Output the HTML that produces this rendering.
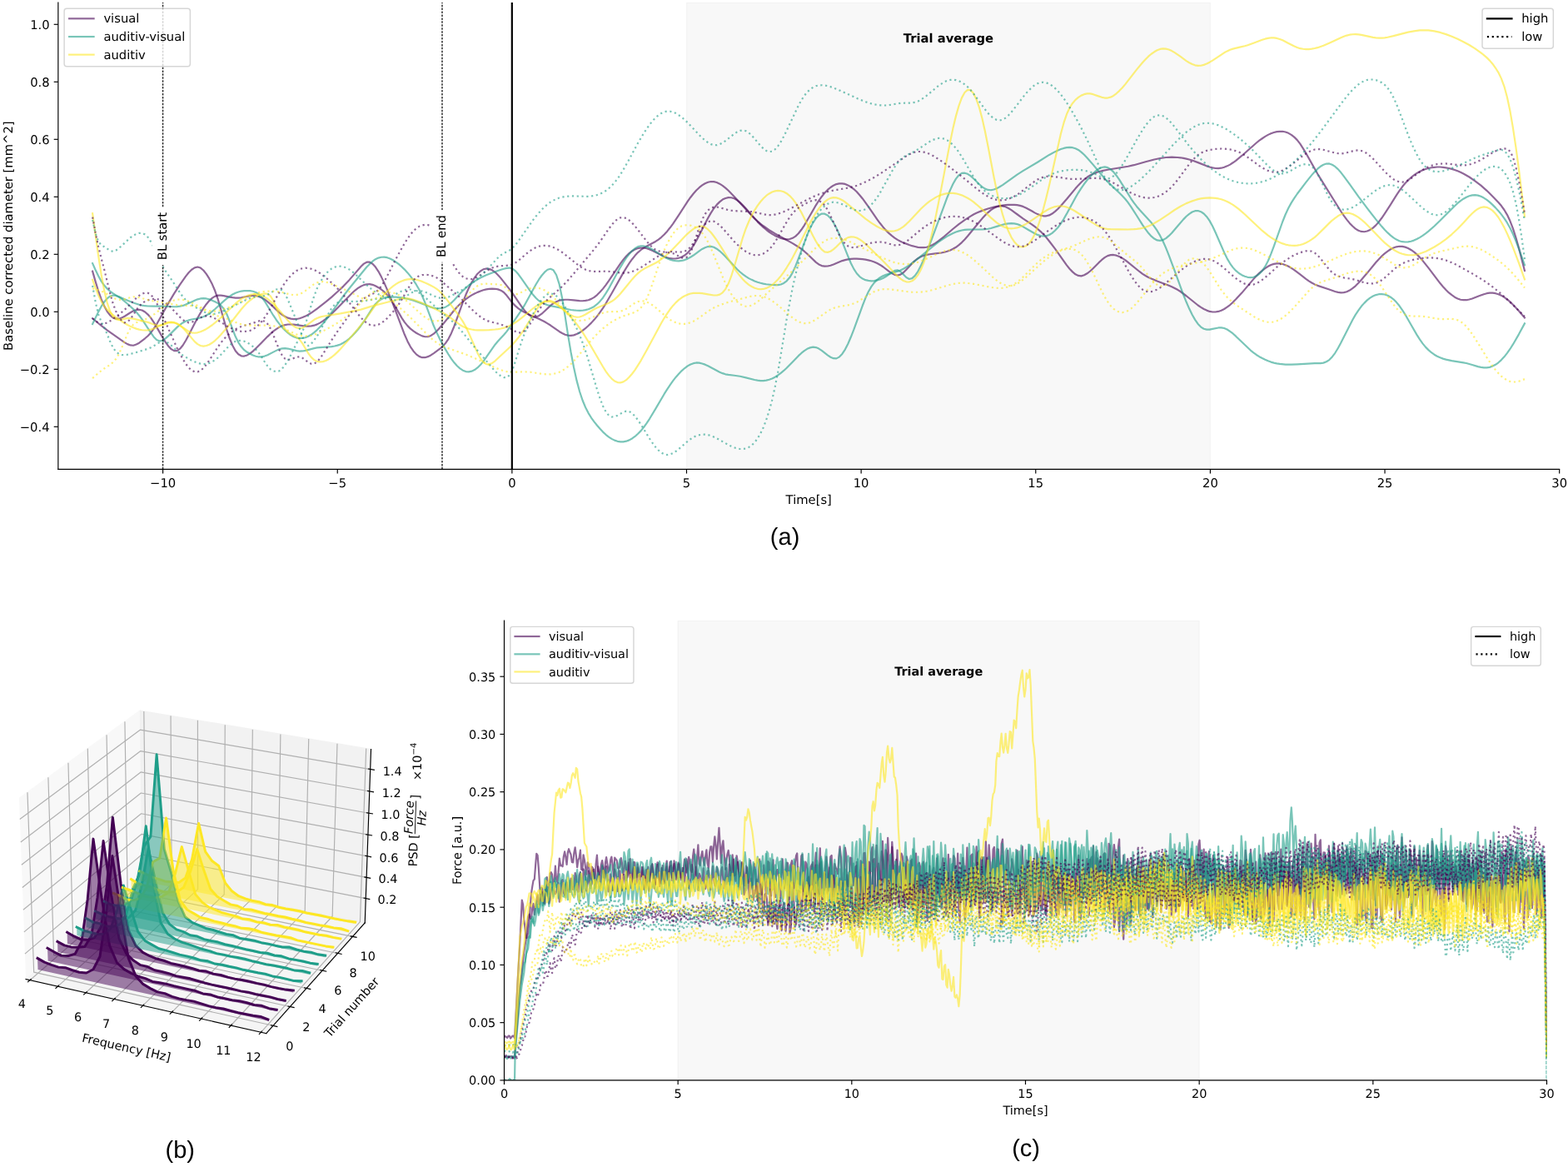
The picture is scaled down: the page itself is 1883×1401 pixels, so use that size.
<!DOCTYPE html><html><head><meta charset="utf-8"><style>html,body{margin:0;padding:0;background:#fff;}svg{display:block;} text{text-rendering:geometricPrecision;}</style></head><body><svg width="1883" height="1401" viewBox="0 0 1291.2 960.685714" version="1.1">
<defs>
<style type="text/css">*{stroke-linejoin: round; stroke-linecap: butt}</style>
</defs>
<g id="figure_1">
<g id="patch_1">
<path d="M 0 960.7 L 1291.2 960.7 L 1291.2 0 L 0 0 z" style="fill: #ffffff"/>
</g>
<g id="axes_1">
<g id="patch_2">
<path d="M 47.9 386.3 L 1284.1 386.3 L 1284.1 2.1 L 47.9 2.1 z" style="fill: #ffffff"/>
</g>
<g id="patch_3">
<path d="M 565.4 386.3 L 996.6 386.3 L 996.6 2.1 L 565.4 2.1 z" clip-path="url(#pb112d19d81)" style="fill: #808080; fill-opacity: 0.055; stroke-opacity: 0.055; stroke: #808080; stroke-linejoin: miter"/>
</g>
<g id="matplotlib.axis_1">
<g id="xtick_1">
<g id="line2d_1">
<defs>
<path id="m1504cfccaf" d="M 0 0 L 0 3.5 " style="stroke: #000000; stroke-width: 0.8"/>
</defs>
<g>
<use href="#m1504cfccaf" x="134.125714" y="386.331429" style="stroke: #000000; stroke-width: 0.8"/>
</g>
</g>
<g id="text_1">
<text style="font-size: 10.12px; font-family: 'DejaVu Sans', 'Bitstream Vera Sans', 'Computer Modern Sans Serif', 'Lucida Grande', 'Verdana', 'Geneva', 'Lucid', 'Arial', 'Helvetica', 'Avant Garde', sans-serif; text-anchor: middle" x="134.125714" y="401.021047" transform="rotate(-0 134.125714 401.021047)">−10</text>
</g>
</g>
<g id="xtick_2">
<g id="line2d_2">
<g>
<use href="#m1504cfccaf" x="277.875429" y="386.331429" style="stroke: #000000; stroke-width: 0.8"/>
</g>
</g>
<g id="text_2">
<text style="font-size: 10.12px; font-family: 'DejaVu Sans', 'Bitstream Vera Sans', 'Computer Modern Sans Serif', 'Lucida Grande', 'Verdana', 'Geneva', 'Lucid', 'Arial', 'Helvetica', 'Avant Garde', sans-serif; text-anchor: middle" x="277.875429" y="401.021047" transform="rotate(-0 277.875429 401.021047)">−5</text>
</g>
</g>
<g id="xtick_3">
<g id="line2d_3">
<g>
<use href="#m1504cfccaf" x="421.625143" y="386.331429" style="stroke: #000000; stroke-width: 0.8"/>
</g>
</g>
<g id="text_3">
<text style="font-size: 10.12px; font-family: 'DejaVu Sans', 'Bitstream Vera Sans', 'Computer Modern Sans Serif', 'Lucida Grande', 'Verdana', 'Geneva', 'Lucid', 'Arial', 'Helvetica', 'Avant Garde', sans-serif; text-anchor: middle" x="421.625143" y="401.021047" transform="rotate(-0 421.625143 401.021047)">0</text>
</g>
</g>
<g id="xtick_4">
<g id="line2d_4">
<g>
<use href="#m1504cfccaf" x="565.374857" y="386.331429" style="stroke: #000000; stroke-width: 0.8"/>
</g>
</g>
<g id="text_4">
<text style="font-size: 10.12px; font-family: 'DejaVu Sans', 'Bitstream Vera Sans', 'Computer Modern Sans Serif', 'Lucida Grande', 'Verdana', 'Geneva', 'Lucid', 'Arial', 'Helvetica', 'Avant Garde', sans-serif; text-anchor: middle" x="565.374857" y="401.021047" transform="rotate(-0 565.374857 401.021047)">5</text>
</g>
</g>
<g id="xtick_5">
<g id="line2d_5">
<g>
<use href="#m1504cfccaf" x="709.124571" y="386.331429" style="stroke: #000000; stroke-width: 0.8"/>
</g>
</g>
<g id="text_5">
<text style="font-size: 10.12px; font-family: 'DejaVu Sans', 'Bitstream Vera Sans', 'Computer Modern Sans Serif', 'Lucida Grande', 'Verdana', 'Geneva', 'Lucid', 'Arial', 'Helvetica', 'Avant Garde', sans-serif; text-anchor: middle" x="709.124571" y="401.021047" transform="rotate(-0 709.124571 401.021047)">10</text>
</g>
</g>
<g id="xtick_6">
<g id="line2d_6">
<g>
<use href="#m1504cfccaf" x="852.874286" y="386.331429" style="stroke: #000000; stroke-width: 0.8"/>
</g>
</g>
<g id="text_6">
<text style="font-size: 10.12px; font-family: 'DejaVu Sans', 'Bitstream Vera Sans', 'Computer Modern Sans Serif', 'Lucida Grande', 'Verdana', 'Geneva', 'Lucid', 'Arial', 'Helvetica', 'Avant Garde', sans-serif; text-anchor: middle" x="852.874286" y="401.021047" transform="rotate(-0 852.874286 401.021047)">15</text>
</g>
</g>
<g id="xtick_7">
<g id="line2d_7">
<g>
<use href="#m1504cfccaf" x="996.624" y="386.331429" style="stroke: #000000; stroke-width: 0.8"/>
</g>
</g>
<g id="text_7">
<text style="font-size: 10.12px; font-family: 'DejaVu Sans', 'Bitstream Vera Sans', 'Computer Modern Sans Serif', 'Lucida Grande', 'Verdana', 'Geneva', 'Lucid', 'Arial', 'Helvetica', 'Avant Garde', sans-serif; text-anchor: middle" x="996.624" y="401.021047" transform="rotate(-0 996.624 401.021047)">20</text>
</g>
</g>
<g id="xtick_8">
<g id="line2d_8">
<g>
<use href="#m1504cfccaf" x="1140.373714" y="386.331429" style="stroke: #000000; stroke-width: 0.8"/>
</g>
</g>
<g id="text_8">
<text style="font-size: 10.12px; font-family: 'DejaVu Sans', 'Bitstream Vera Sans', 'Computer Modern Sans Serif', 'Lucida Grande', 'Verdana', 'Geneva', 'Lucid', 'Arial', 'Helvetica', 'Avant Garde', sans-serif; text-anchor: middle" x="1140.373714" y="401.021047" transform="rotate(-0 1140.373714 401.021047)">25</text>
</g>
</g>
<g id="xtick_9">
<g id="line2d_9">
<g>
<use href="#m1504cfccaf" x="1284.123429" y="386.331429" style="stroke: #000000; stroke-width: 0.8"/>
</g>
</g>
<g id="text_9">
<text style="font-size: 10.12px; font-family: 'DejaVu Sans', 'Bitstream Vera Sans', 'Computer Modern Sans Serif', 'Lucida Grande', 'Verdana', 'Geneva', 'Lucid', 'Arial', 'Helvetica', 'Avant Garde', sans-serif; text-anchor: middle" x="1284.123429" y="401.021047" transform="rotate(-0 1284.123429 401.021047)">30</text>
</g>
</g>
<g id="text_10">
<text style="font-size: 10.12px; font-family: 'DejaVu Sans', 'Bitstream Vera Sans', 'Computer Modern Sans Serif', 'Lucida Grande', 'Verdana', 'Geneva', 'Lucid', 'Arial', 'Helvetica', 'Avant Garde', sans-serif; text-anchor: middle" x="666" y="414.81531" transform="rotate(-0 666 414.81531)">Time[s]</text>
</g>
</g>
<g id="matplotlib.axis_2">
<g id="ytick_1">
<g id="line2d_10">
<defs>
<path id="m5d545ce8f8" d="M 0 0 L -3.5 0 " style="stroke: #000000; stroke-width: 0.8"/>
</defs>
<g>
<use href="#m5d545ce8f8" x="47.862857" y="351.291429" style="stroke: #000000; stroke-width: 0.8"/>
</g>
</g>
<g id="text_11">
<text style="font-size: 10.12px; font-family: 'DejaVu Sans', 'Bitstream Vera Sans', 'Computer Modern Sans Serif', 'Lucida Grande', 'Verdana', 'Geneva', 'Lucid', 'Arial', 'Helvetica', 'Avant Garde', sans-serif; text-anchor: end" x="40.862857" y="355.136238" transform="rotate(-0 40.862857 355.136238)">−0.4</text>
</g>
</g>
<g id="ytick_2">
<g id="line2d_11">
<g>
<use href="#m5d545ce8f8" x="47.862857" y="303.977143" style="stroke: #000000; stroke-width: 0.8"/>
</g>
</g>
<g id="text_12">
<text style="font-size: 10.12px; font-family: 'DejaVu Sans', 'Bitstream Vera Sans', 'Computer Modern Sans Serif', 'Lucida Grande', 'Verdana', 'Geneva', 'Lucid', 'Arial', 'Helvetica', 'Avant Garde', sans-serif; text-anchor: end" x="40.862857" y="307.821952" transform="rotate(-0 40.862857 307.821952)">−0.2</text>
</g>
</g>
<g id="ytick_3">
<g id="line2d_12">
<g>
<use href="#m5d545ce8f8" x="47.862857" y="256.662857" style="stroke: #000000; stroke-width: 0.8"/>
</g>
</g>
<g id="text_13">
<text style="font-size: 10.12px; font-family: 'DejaVu Sans', 'Bitstream Vera Sans', 'Computer Modern Sans Serif', 'Lucida Grande', 'Verdana', 'Geneva', 'Lucid', 'Arial', 'Helvetica', 'Avant Garde', sans-serif; text-anchor: end" x="40.862857" y="260.507667" transform="rotate(-0 40.862857 260.507667)">0.0</text>
</g>
</g>
<g id="ytick_4">
<g id="line2d_13">
<g>
<use href="#m5d545ce8f8" x="47.862857" y="209.348571" style="stroke: #000000; stroke-width: 0.8"/>
</g>
</g>
<g id="text_14">
<text style="font-size: 10.12px; font-family: 'DejaVu Sans', 'Bitstream Vera Sans', 'Computer Modern Sans Serif', 'Lucida Grande', 'Verdana', 'Geneva', 'Lucid', 'Arial', 'Helvetica', 'Avant Garde', sans-serif; text-anchor: end" x="40.862857" y="213.193381" transform="rotate(-0 40.862857 213.193381)">0.2</text>
</g>
</g>
<g id="ytick_5">
<g id="line2d_14">
<g>
<use href="#m5d545ce8f8" x="47.862857" y="162.034286" style="stroke: #000000; stroke-width: 0.8"/>
</g>
</g>
<g id="text_15">
<text style="font-size: 10.12px; font-family: 'DejaVu Sans', 'Bitstream Vera Sans', 'Computer Modern Sans Serif', 'Lucida Grande', 'Verdana', 'Geneva', 'Lucid', 'Arial', 'Helvetica', 'Avant Garde', sans-serif; text-anchor: end" x="40.862857" y="165.879095" transform="rotate(-0 40.862857 165.879095)">0.4</text>
</g>
</g>
<g id="ytick_6">
<g id="line2d_15">
<g>
<use href="#m5d545ce8f8" x="47.862857" y="114.72" style="stroke: #000000; stroke-width: 0.8"/>
</g>
</g>
<g id="text_16">
<text style="font-size: 10.12px; font-family: 'DejaVu Sans', 'Bitstream Vera Sans', 'Computer Modern Sans Serif', 'Lucida Grande', 'Verdana', 'Geneva', 'Lucid', 'Arial', 'Helvetica', 'Avant Garde', sans-serif; text-anchor: end" x="40.862857" y="118.564809" transform="rotate(-0 40.862857 118.564809)">0.6</text>
</g>
</g>
<g id="ytick_7">
<g id="line2d_16">
<g>
<use href="#m5d545ce8f8" x="47.862857" y="67.405714" style="stroke: #000000; stroke-width: 0.8"/>
</g>
</g>
<g id="text_17">
<text style="font-size: 10.12px; font-family: 'DejaVu Sans', 'Bitstream Vera Sans', 'Computer Modern Sans Serif', 'Lucida Grande', 'Verdana', 'Geneva', 'Lucid', 'Arial', 'Helvetica', 'Avant Garde', sans-serif; text-anchor: end" x="40.862857" y="71.250524" transform="rotate(-0 40.862857 71.250524)">0.8</text>
</g>
</g>
<g id="ytick_8">
<g id="line2d_17">
<g>
<use href="#m5d545ce8f8" x="47.862857" y="20.091429" style="stroke: #000000; stroke-width: 0.8"/>
</g>
</g>
<g id="text_18">
<text style="font-size: 10.12px; font-family: 'DejaVu Sans', 'Bitstream Vera Sans', 'Computer Modern Sans Serif', 'Lucida Grande', 'Verdana', 'Geneva', 'Lucid', 'Arial', 'Helvetica', 'Avant Garde', sans-serif; text-anchor: end" x="40.862857" y="23.936238" transform="rotate(-0 40.862857 23.936238)">1.0</text>
</g>
</g>
<g id="text_19">
<text style="font-size: 10.12px; font-family: 'DejaVu Sans', 'Bitstream Vera Sans', 'Computer Modern Sans Serif', 'Lucida Grande', 'Verdana', 'Geneva', 'Lucid', 'Arial', 'Helvetica', 'Avant Garde', sans-serif; text-anchor: middle" x="10.184007" y="194.194286" transform="rotate(-90 10.184007 194.194286)">Baseline corrected diameter [mm^2]</text>
</g>
</g>
<g id="line2d_18">
<path d="M 76.2 223.3 L 78.6 231.7 L 81 239.5 L 83.4 246.3 L 85.8 251.9 L 88.2 256.3 L 90.6 259.5 L 93 261.5 L 95.4 262.4 L 97.8 262.4 L 100.2 261.6 L 102.6 260.4 L 107.4 257.3 L 109.8 256 L 112.2 255.2 L 114.6 254.9 L 117 255.4 L 119.4 256.8 L 121.8 258.9 L 124.2 261.7 L 126.6 265.3 L 129 269.2 L 133.8 277.6 L 136.2 281.5 L 138.6 284.9 L 141 287.4 L 143.4 288.8 L 145.8 288.8 L 148.2 287.1 L 150.6 284.2 L 153 280.3 L 155.4 275.8 L 160.3 266.3 L 162.7 261.8 L 165.1 257.6 L 167.5 253.8 L 169.9 250.4 L 172.3 247.6 L 174.7 245.4 L 177.1 243.9 L 179.5 243.2 L 181.9 243.2 L 184.3 243.5 L 189.1 244.5 L 191.5 244.9 L 193.9 245.2 L 196.3 245.2 L 198.7 245 L 205.9 243.5 L 208.3 243.3 L 210.7 243.4 L 213.1 244.1 L 215.5 245.1 L 217.9 246.5 L 220.3 248.3 L 222.7 250.4 L 229.9 257.2 L 232.3 259.1 L 234.7 260.6 L 237.1 261.7 L 239.5 262.4 L 241.9 262.7 L 244.3 262.6 L 246.7 262.1 L 249.1 261.3 L 251.5 260.3 L 253.9 259 L 256.3 257.5 L 261.1 254.1 L 268.3 248.5 L 273.1 244.5 L 277.9 240.2 L 282.8 235.6 L 287.6 230.5 L 292.4 225 L 297.2 219.4 L 299.6 217.1 L 302 215.8 L 304.4 215.8 L 306.8 217.2 L 309.2 219.8 L 311.6 223.4 L 314 227.9 L 316.4 232.9 L 318.8 238.4 L 323.6 250.2 L 333.2 275.5 L 335.6 280.9 L 338 285.5 L 340.4 289 L 342.8 291.7 L 345.2 293.4 L 347.6 294.3 L 350 294.3 L 352.4 293.6 L 354.8 292.4 L 357.2 290.8 L 362 287.3 L 364.4 285.3 L 366.8 282.6 L 369.2 279.1 L 371.6 274.4 L 374 268.6 L 378.8 255.3 L 381.2 248.7 L 383.6 242.6 L 386 237.2 L 388.4 232.5 L 390.8 228.6 L 393.2 225.4 L 395.6 223.2 L 398 221.7 L 400.4 221.1 L 402.8 221.4 L 405.3 222.4 L 407.7 224.1 L 410.1 226.4 L 412.5 229.1 L 419.7 238.2 L 422.1 241.4 L 429.3 252.1 L 431.7 255.2 L 434.1 257.9 L 436.5 259.8 L 438.9 260.9 L 441.3 260.9 L 443.7 260 L 446.1 258.3 L 448.5 256.1 L 453.3 251.6 L 455.7 249.7 L 458.1 248.4 L 460.5 247.4 L 462.9 246.9 L 465.3 246.7 L 467.7 246.7 L 472.5 247.1 L 477.3 247.6 L 479.7 247.7 L 482.1 247.5 L 484.5 247 L 486.9 246.1 L 489.3 244.7 L 491.7 242.8 L 494.1 240.4 L 496.5 237.7 L 498.9 234.6 L 501.3 231.2 L 510.9 216.9 L 513.3 213.7 L 515.7 210.9 L 518.1 208.5 L 520.5 206.7 L 522.9 205.3 L 525.3 204.4 L 527.8 204 L 530.2 204 L 532.6 204.5 L 535 205.3 L 537.4 206.4 L 547 211.3 L 549.4 212.1 L 551.8 212.7 L 554.2 212.9 L 556.6 212.8 L 559 212.4 L 561.4 211.5 L 563.8 210.2 L 566.2 208.2 L 568.6 205.6 L 571 202.2 L 573.4 198.1 L 575.8 193.6 L 583 179.5 L 585.4 175.3 L 587.8 171.6 L 590.2 168.6 L 592.6 166.2 L 595 164.3 L 597.4 163.2 L 599.8 162.6 L 602.2 162.7 L 604.6 163.4 L 607 164.8 L 609.4 166.7 L 611.8 169 L 614.2 171.6 L 623.8 182.5 L 626.2 184.9 L 628.6 187.1 L 631 189.1 L 633.4 191 L 635.8 192.6 L 638.2 194 L 640.6 195.1 L 643 196.1 L 645.4 196.7 L 647.8 197 L 650.3 196.8 L 652.7 196 L 655.1 194.5 L 657.5 192.2 L 659.9 189.1 L 662.3 185.5 L 667.1 177.3 L 671.9 168.9 L 674.3 165.1 L 676.7 161.8 L 679.1 158.8 L 681.5 156.3 L 683.9 154.3 L 686.3 152.7 L 688.7 151.6 L 691.1 151.1 L 693.5 151.1 L 695.9 151.5 L 698.3 152.5 L 700.7 153.9 L 703.1 155.7 L 705.5 157.9 L 707.9 160.6 L 710.3 163.5 L 715.1 170.1 L 722.3 180.6 L 724.7 183.8 L 727.1 186.8 L 729.5 189.5 L 731.9 191.9 L 734.3 194 L 736.7 195.8 L 739.1 197.4 L 741.5 198.7 L 743.9 199.8 L 748.7 201.6 L 751.1 202.4 L 753.5 203 L 755.9 203.6 L 758.3 203.8 L 760.7 203.8 L 763.1 203.5 L 765.5 202.7 L 767.9 201.6 L 770.3 200.1 L 772.7 198.4 L 777.6 194.6 L 784.8 188.4 L 789.6 184.6 L 794.4 181.1 L 799.2 178 L 801.6 176.6 L 804 175.4 L 808.8 173.4 L 813.6 171.8 L 818.4 170.5 L 823.2 169.5 L 828 168.8 L 830.4 168.6 L 832.8 168.5 L 835.2 168.6 L 837.6 168.8 L 840 169.3 L 842.4 170 L 844.8 171.1 L 849.6 173.7 L 852 175.1 L 854.4 176.3 L 856.8 177.3 L 859.2 177.8 L 861.6 177.8 L 864 177.2 L 866.4 175.9 L 868.8 174.1 L 871.2 171.9 L 873.6 169.4 L 878.4 163.9 L 885.6 155.2 L 888 152.5 L 890.4 150 L 892.8 147.8 L 895.2 145.9 L 897.7 144.3 L 900.1 143.1 L 902.5 142.1 L 904.9 141.3 L 907.3 140.7 L 912.1 139.7 L 928.9 137 L 933.7 135.9 L 943.3 133.2 L 950.5 131.3 L 955.3 130.3 L 960.1 129.6 L 964.9 129.4 L 969.7 129.6 L 972.1 129.8 L 974.5 130.2 L 976.9 130.7 L 979.3 131.3 L 981.7 132 L 986.5 133.8 L 993.7 136.7 L 996.1 137.5 L 998.5 138.1 L 1000.9 138.5 L 1003.3 138.6 L 1005.7 138.3 L 1008.1 137.7 L 1010.5 136.7 L 1012.9 135.5 L 1015.3 133.9 L 1017.7 132.2 L 1022.6 128.2 L 1034.6 117.6 L 1037 115.7 L 1039.4 114 L 1041.8 112.4 L 1044.2 111 L 1046.6 109.9 L 1049 109 L 1051.4 108.4 L 1053.8 108.2 L 1056.2 108.2 L 1058.6 108.7 L 1061 109.6 L 1063.4 111 L 1065.8 112.9 L 1068.2 115.3 L 1070.6 118.4 L 1073 122.1 L 1075.4 126.1 L 1085 143.2 L 1104.2 174 L 1106.6 177.5 L 1109 180.8 L 1111.4 183.7 L 1113.8 186.2 L 1116.2 188.3 L 1118.6 189.8 L 1121 190.6 L 1123.4 190.8 L 1125.8 190.3 L 1128.2 189.2 L 1130.6 187.6 L 1133 185.4 L 1135.4 182.7 L 1137.8 179.5 L 1140.2 176 L 1145.1 168.4 L 1149.9 160.7 L 1152.3 157.1 L 1154.7 153.8 L 1157.1 150.9 L 1159.5 148.4 L 1161.9 146.2 L 1164.3 144.3 L 1166.7 142.6 L 1169.1 141.3 L 1171.5 140.1 L 1173.9 139.2 L 1176.3 138.5 L 1178.7 138 L 1181.1 137.7 L 1183.5 137.5 L 1185.9 137.5 L 1188.3 137.7 L 1190.7 138.1 L 1193.1 138.5 L 1195.5 139.1 L 1197.9 139.9 L 1200.3 140.8 L 1202.7 141.8 L 1205.1 143 L 1207.5 144.3 L 1209.9 145.7 L 1214.7 149 L 1219.5 152.7 L 1224.3 156.9 L 1229.1 161.6 L 1233.9 166.6 L 1236.3 169.4 L 1238.7 172.8 L 1241.1 176.8 L 1243.5 181.9 L 1245.9 188.1 L 1248.3 195.6 L 1250.7 204.1 L 1255.5 222.8 L 1255.5 222.8 " clip-path="url(#pb112d19d81)" style="fill: none; stroke: #440154; stroke-opacity: 0.6; stroke-width: 1.5; stroke-linecap: square"/>
</g>
<g id="line2d_19">
<path d="M 76.2 262.1 L 83.4 268.1 L 88.2 271.8 L 102.6 281.9 L 105 283.3 L 107.4 284.2 L 109.8 284.4 L 112.2 283.6 L 114.6 282.3 L 119.4 278.6 L 121.8 276.5 L 124.2 273.9 L 126.6 270.6 L 129 266.9 L 133.8 258.4 L 138.6 249.7 L 143.4 241.6 L 148.2 234.2 L 153 227.4 L 155.4 224.4 L 157.8 222 L 160.3 220.4 L 162.7 219.8 L 165.1 220.5 L 167.5 222.5 L 169.9 225.5 L 172.3 229.3 L 174.7 233.9 L 177.1 239.5 L 179.5 246.5 L 186.7 271.4 L 189.1 278.6 L 191.5 284.4 L 193.9 288.8 L 196.3 291.6 L 198.7 293 L 201.1 293.2 L 203.5 292.4 L 205.9 291 L 208.3 289.1 L 210.7 286.8 L 215.5 282 L 220.3 277.1 L 222.7 274.8 L 225.1 272.7 L 227.5 270.9 L 229.9 269.4 L 232.3 268.2 L 234.7 267.5 L 237.1 267.1 L 239.5 267.1 L 241.9 267.2 L 251.5 268.5 L 253.9 268.5 L 256.3 268.4 L 258.7 267.9 L 261.1 267 L 263.5 265.8 L 265.9 264.3 L 268.3 262.6 L 270.7 260.6 L 273.1 258.4 L 277.9 253.6 L 290 241.2 L 292.4 239 L 294.8 237.2 L 297.2 235.7 L 299.6 234.6 L 302 234 L 304.4 233.9 L 306.8 234.4 L 309.2 235.4 L 311.6 236.7 L 314 238.3 L 316.4 240.3 L 318.8 242.7 L 321.2 245.6 L 323.6 249.2 L 330.8 261.7 L 333.2 265.3 L 335.6 268.2 L 338 270.6 L 340.4 272.5 L 342.8 274.1 L 345.2 275.4 L 347.6 276.6 L 350 277.2 L 352.4 277.2 L 354.8 276.3 L 357.2 274.7 L 359.6 272.6 L 362 270 L 364.4 267.3 L 374 255.4 L 376.4 252.7 L 378.8 250.3 L 381.2 248.1 L 383.6 246.2 L 386 244.5 L 388.4 243 L 390.8 241.7 L 393.2 240.6 L 395.6 239.6 L 398 238.8 L 400.4 238.2 L 402.8 237.9 L 405.3 237.7 L 407.7 237.8 L 410.1 238.2 L 412.5 239.1 L 414.9 240.7 L 417.3 243.3 L 422.1 249.5 L 424.5 251.9 L 426.9 254 L 429.3 255.6 L 431.7 257 L 436.5 259.3 L 443.7 262.5 L 448.5 264.9 L 450.9 266.3 L 453.3 267.8 L 460.5 272.9 L 462.9 274.3 L 465.3 275.5 L 467.7 276.1 L 470.1 276.3 L 472.5 275.9 L 474.9 275 L 477.3 273.8 L 479.7 272.2 L 482.1 270.3 L 484.5 268.1 L 486.9 265.8 L 489.3 263.2 L 491.7 260.3 L 494.1 257.1 L 496.5 253.6 L 498.9 249.8 L 503.7 241.5 L 513.3 224.5 L 515.7 220.5 L 518.1 216.8 L 520.5 213.4 L 522.9 210.4 L 525.3 207.8 L 527.8 205.7 L 530.2 204 L 532.6 202.6 L 539.8 198.8 L 542.2 197.2 L 544.6 195.3 L 547 193 L 549.4 190.4 L 551.8 187.4 L 554.2 184.2 L 559 177 L 566.2 165.9 L 568.6 162.5 L 571 159.4 L 573.4 156.7 L 575.8 154.4 L 578.2 152.5 L 580.6 151 L 583 150 L 585.4 149.5 L 587.8 149.6 L 590.2 150.2 L 592.6 151.3 L 595 152.8 L 597.4 154.7 L 599.8 156.9 L 604.6 161.8 L 619 177.5 L 621.4 179.9 L 623.8 182.1 L 626.2 184.2 L 628.6 186 L 633.4 189.4 L 638.2 192.3 L 645.4 196.3 L 652.7 200.3 L 657.5 203.3 L 659.9 205 L 662.3 206.9 L 664.7 209 L 671.9 215.9 L 674.3 217.7 L 676.7 218.8 L 679.1 219.2 L 681.5 219.1 L 683.9 218.6 L 686.3 217.7 L 693.5 214.7 L 695.9 214 L 698.3 213.5 L 700.7 213.2 L 703.1 213 L 705.5 213 L 710.3 213.4 L 712.7 213.7 L 715.1 214.2 L 717.5 214.8 L 719.9 215.6 L 722.3 216.7 L 724.7 218 L 727.1 219.6 L 731.9 223.3 L 734.3 225 L 736.7 226.2 L 739.1 226.6 L 741.5 226 L 743.9 224.4 L 746.3 222 L 751.1 216.8 L 753.5 214.5 L 755.9 212.7 L 758.3 211.3 L 760.7 210.4 L 763.1 209.7 L 765.5 209.3 L 770.3 208.7 L 775.2 208.1 L 777.6 207.6 L 780 206.9 L 782.4 206 L 784.8 204.9 L 787.2 203.5 L 789.6 201.7 L 792 199.6 L 794.4 197.1 L 796.8 194.4 L 801.6 188.6 L 806.4 182.7 L 808.8 179.9 L 811.2 177.3 L 813.6 174.9 L 816 172.9 L 818.4 171.3 L 820.8 170.2 L 823.2 169.6 L 825.6 169.6 L 828 170.2 L 830.4 171.4 L 832.8 172.9 L 837.6 176.4 L 842.4 179.9 L 849.6 184.7 L 852 186.5 L 854.4 188.4 L 856.8 190.5 L 859.2 192.9 L 861.6 195.5 L 864 198.5 L 868.8 204.8 L 878.4 218.3 L 880.8 221.3 L 883.2 223.8 L 885.6 225.8 L 888 226.9 L 890.4 227.2 L 892.8 226.5 L 895.2 225.1 L 897.7 223.2 L 900.1 221 L 904.9 216.1 L 907.3 213.9 L 909.7 212 L 912.1 210.6 L 914.5 209.9 L 916.9 209.8 L 919.3 210.3 L 921.7 211.2 L 924.1 212.5 L 926.5 214 L 928.9 215.9 L 938.5 223.7 L 940.9 225.5 L 943.3 227 L 945.7 228.3 L 948.1 229.4 L 952.9 231.4 L 962.5 235 L 964.9 236 L 967.3 237.2 L 969.7 238.5 L 972.1 240 L 976.9 243.6 L 986.5 251.3 L 988.9 252.9 L 991.3 254.4 L 993.7 255.5 L 996.1 256.4 L 998.5 256.8 L 1000.9 256.8 L 1003.3 256.4 L 1005.7 255.6 L 1008.1 254.4 L 1010.5 252.8 L 1012.9 251 L 1015.3 248.8 L 1017.7 246.4 L 1022.6 241.1 L 1032.2 229.8 L 1034.6 227.2 L 1037 224.8 L 1039.4 222.7 L 1041.8 220.9 L 1044.2 219.3 L 1046.6 218.1 L 1049 217.3 L 1051.4 216.9 L 1053.8 216.9 L 1056.2 217.4 L 1058.6 218.2 L 1061 219.3 L 1063.4 220.7 L 1065.8 222.3 L 1070.6 225.9 L 1075.4 229.6 L 1077.8 231.3 L 1080.2 232.8 L 1082.6 234.1 L 1085 235.1 L 1094.6 238.3 L 1099.4 240 L 1101.8 240.6 L 1104.2 240.9 L 1106.6 240.8 L 1109 240.2 L 1111.4 239 L 1113.8 237.4 L 1116.2 235.4 L 1118.6 233 L 1121 230.4 L 1125.8 224.8 L 1133 216 L 1135.4 213.4 L 1137.8 210.9 L 1140.2 208.7 L 1142.7 206.8 L 1145.1 205.2 L 1147.5 204 L 1149.9 203.2 L 1152.3 202.8 L 1154.7 202.9 L 1157.1 203.4 L 1159.5 204.3 L 1161.9 205.7 L 1164.3 207.4 L 1166.7 209.4 L 1169.1 211.8 L 1171.5 214.5 L 1176.3 220.5 L 1185.9 233.2 L 1188.3 236 L 1190.7 238.6 L 1193.1 241 L 1195.5 242.9 L 1197.9 244.6 L 1200.3 245.8 L 1202.7 246.7 L 1205.1 247 L 1207.5 247 L 1209.9 246.5 L 1212.3 245.8 L 1217.1 244 L 1221.9 242.2 L 1224.3 241.5 L 1226.7 241.1 L 1229.1 241.1 L 1231.5 241.5 L 1233.9 242.2 L 1236.3 243.3 L 1238.7 244.7 L 1241.1 246.4 L 1243.5 248.5 L 1245.9 250.8 L 1250.7 255.9 L 1255.5 261.5 L 1255.5 261.5 " clip-path="url(#pb112d19d81)" style="fill: none; stroke: #440154; stroke-opacity: 0.6; stroke-width: 1.5; stroke-linecap: square"/>
</g>
<g id="line2d_20">
<path d="M 76.2 216.8 L 78.6 222.2 L 81 227.2 L 83.4 231.5 L 85.8 234.9 L 88.2 237.6 L 90.6 239.8 L 93 241.5 L 95.4 243 L 97.8 244.2 L 102.6 246.3 L 109.8 249.2 L 114.6 250.8 L 117 251.4 L 119.4 251.8 L 121.8 252 L 126.6 252.1 L 133.8 252.1 L 143.4 252.5 L 145.8 252.4 L 148.2 252.1 L 150.6 251.6 L 153 250.7 L 157.8 248.5 L 160.3 247.4 L 162.7 246.4 L 165.1 245.8 L 167.5 245.6 L 169.9 245.8 L 172.3 246.4 L 174.7 247.3 L 177.1 248.4 L 179.5 249.7 L 181.9 251.4 L 184.3 254.2 L 186.7 258.5 L 189.1 264.4 L 191.5 270.9 L 193.9 277.1 L 196.3 281.9 L 198.7 285.5 L 201.1 288.1 L 203.5 289.9 L 205.9 291.3 L 208.3 292.5 L 210.7 293.3 L 213.1 293.8 L 215.5 293.7 L 217.9 293.2 L 220.3 292.3 L 225.1 289.8 L 227.5 288.6 L 229.9 287.5 L 232.3 286.9 L 234.7 286.7 L 237.1 287 L 244.3 288.8 L 246.7 289.1 L 249.1 289 L 251.5 288.6 L 258.7 286.7 L 261.1 286.2 L 265.9 285.8 L 273.1 285.3 L 275.5 284.9 L 277.9 284.3 L 280.3 283.5 L 282.8 282.2 L 285.2 280.7 L 287.6 278.8 L 290 276.5 L 292.4 274 L 294.8 271.2 L 297.2 268.1 L 299.6 264.7 L 306.8 253.5 L 309.2 250.3 L 311.6 247.9 L 314 246.3 L 316.4 245.2 L 318.8 244.7 L 321.2 244.5 L 323.6 244.5 L 326 244.5 L 330.8 245.1 L 335.6 246 L 340.4 247.3 L 345.2 249 L 354.8 252.8 L 357.2 253.5 L 359.6 253.9 L 362 253.9 L 364.4 253.6 L 366.8 252.8 L 369.2 251.4 L 371.6 249.4 L 374 247 L 381.2 239.2 L 383.6 237 L 386 235 L 388.4 233.2 L 390.8 231.5 L 393.2 230.1 L 395.6 228.7 L 400.4 226.5 L 405.3 224.6 L 412.5 222 L 414.9 221.3 L 417.3 220.7 L 419.7 220.5 L 422.1 221.3 L 424.5 223.1 L 426.9 225.8 L 429.3 229.1 L 436.5 239.4 L 438.9 242.6 L 441.3 245.3 L 443.7 247.5 L 446.1 249.1 L 448.5 250.2 L 450.9 251.1 L 453.3 251.7 L 470.1 255.1 L 472.5 255.4 L 474.9 255.6 L 477.3 255.7 L 479.7 255.6 L 482.1 255.2 L 484.5 254.6 L 486.9 253.6 L 489.3 252.3 L 491.7 250.4 L 494.1 248 L 496.5 245.1 L 498.9 241.5 L 501.3 237.5 L 506.1 228.7 L 510.9 220 L 513.3 216 L 515.7 212.3 L 518.1 209.2 L 520.5 206.5 L 522.9 204.5 L 525.3 203.1 L 527.8 202.5 L 530.2 202.6 L 532.6 203.2 L 535 204.2 L 537.4 205.5 L 547 211.6 L 549.4 212.8 L 551.8 213.7 L 554.2 214.4 L 556.6 214.8 L 559 214.9 L 561.4 214.6 L 563.8 214 L 566.2 213 L 568.6 211.7 L 571 210.2 L 575.8 206.6 L 578.2 205 L 580.6 203.8 L 583 203 L 585.4 202.9 L 587.8 203.5 L 590.2 204.8 L 592.6 206.6 L 595 208.8 L 597.4 211.2 L 607 221.7 L 609.4 223.9 L 611.8 225.9 L 614.2 227.6 L 616.6 229.1 L 619 230.3 L 621.4 231.4 L 623.8 232.3 L 626.2 233 L 628.6 233.6 L 631 234 L 635.8 234.5 L 638.2 234.6 L 640.6 234.6 L 643 234.2 L 645.4 233.1 L 647.8 231.3 L 650.3 228.4 L 652.7 224.3 L 655.1 219 L 657.5 212.9 L 664.7 193.4 L 667.1 187.9 L 669.5 183.3 L 671.9 179.7 L 674.3 177.2 L 676.7 175.9 L 679.1 176 L 681.5 177.3 L 683.9 179.7 L 686.3 183.2 L 688.7 187.6 L 691.1 192.9 L 695.9 205 L 698.3 211 L 700.7 216.7 L 703.1 221.4 L 705.5 225.1 L 707.9 227.7 L 710.3 229.4 L 712.7 230.5 L 715.1 231 L 717.5 231.3 L 719.9 231.2 L 722.3 230.7 L 724.7 230 L 727.1 229 L 729.5 227.7 L 731.9 226 L 734.3 224.2 L 736.7 222.8 L 739.1 222.4 L 741.5 223.5 L 746.3 228.4 L 748.7 229.7 L 751.1 229.1 L 753.5 226.9 L 755.9 223.4 L 758.3 218.8 L 760.7 213.4 L 765.5 201.5 L 770.3 188.7 L 780 162.5 L 782.4 156.6 L 784.8 151.4 L 787.2 147.2 L 789.6 144.2 L 792 142.6 L 794.4 142.4 L 796.8 143.2 L 799.2 144.8 L 801.6 146.9 L 806.4 151.7 L 808.8 153.8 L 811.2 155.4 L 813.6 156.3 L 816 156.5 L 818.4 156 L 820.8 155.1 L 823.2 153.8 L 825.6 152.3 L 837.6 143.7 L 842.4 140.7 L 854.4 133.5 L 864 127.5 L 868.8 124.9 L 871.2 123.8 L 873.6 122.8 L 876 122 L 878.4 121.5 L 880.8 121.3 L 883.2 121.5 L 885.6 122.2 L 888 123.4 L 890.4 125.2 L 892.8 127.4 L 895.2 129.9 L 900.1 135.5 L 907.3 144.2 L 909.7 147 L 912.1 149.6 L 916.9 154.2 L 921.7 158.7 L 924.1 161.1 L 926.5 163.7 L 928.9 166.7 L 931.3 170.1 L 936.1 177.6 L 940.9 185.2 L 943.3 188.7 L 945.7 191.9 L 948.1 194.5 L 950.5 196.5 L 952.9 197.8 L 955.3 198.1 L 957.7 197.5 L 960.1 196.2 L 962.5 194.2 L 964.9 191.8 L 969.7 186.2 L 974.5 180.6 L 976.9 178.1 L 979.3 176.1 L 981.7 174.5 L 984.1 173.6 L 986.5 173.5 L 988.9 174.3 L 991.3 175.9 L 993.7 178.4 L 996.1 181.8 L 998.5 186.2 L 1000.9 191.3 L 1008.1 207.9 L 1010.5 212.8 L 1012.9 216.9 L 1015.3 220.2 L 1017.7 222.8 L 1020.2 224.9 L 1022.6 226.4 L 1025 227.5 L 1027.4 228.2 L 1029.8 228.4 L 1032.2 228.2 L 1034.6 227.2 L 1037 225.5 L 1039.4 223 L 1041.8 219.4 L 1044.2 214.8 L 1046.6 209.1 L 1049 202.7 L 1056.2 182.4 L 1058.6 176.4 L 1061 171.3 L 1063.4 166.9 L 1065.8 163.1 L 1068.2 159.6 L 1075.4 150.1 L 1080.2 144.1 L 1082.6 141.4 L 1085 139 L 1087.4 137 L 1089.8 135.6 L 1092.2 134.8 L 1094.6 134.7 L 1097 135.6 L 1099.4 137.1 L 1101.8 139.3 L 1104.2 142 L 1106.6 145.1 L 1111.4 151.7 L 1118.6 161.8 L 1125.8 171.4 L 1133 180.6 L 1137.8 186.4 L 1140.2 189.1 L 1142.7 191.6 L 1145.1 193.8 L 1147.5 195.7 L 1149.9 197.2 L 1152.3 198.3 L 1154.7 199 L 1157.1 199.2 L 1159.5 199.1 L 1161.9 198.7 L 1164.3 197.9 L 1166.7 196.8 L 1169.1 195.5 L 1171.5 194 L 1173.9 192.3 L 1176.3 190.4 L 1181.1 186.2 L 1185.9 181.6 L 1197.9 169.5 L 1200.3 167.3 L 1202.7 165.4 L 1205.1 163.7 L 1207.5 162.3 L 1209.9 161.3 L 1212.3 160.7 L 1214.7 160.5 L 1217.1 160.9 L 1219.5 161.7 L 1221.9 162.9 L 1224.3 164.5 L 1226.7 166.4 L 1229.1 168.6 L 1231.5 171 L 1233.9 173.6 L 1236.3 176.5 L 1238.7 179.7 L 1241.1 183.4 L 1243.5 187.7 L 1245.9 192.7 L 1248.3 198.4 L 1250.7 204.7 L 1255.5 218.1 L 1255.5 218.1 " clip-path="url(#pb112d19d81)" style="fill: none; stroke: #1f9e89; stroke-opacity: 0.6; stroke-width: 1.5; stroke-linecap: square"/>
</g>
<g id="line2d_21">
<path d="M 76.2 266.7 L 81 256.7 L 83.4 252.3 L 85.8 248.6 L 88.2 245.8 L 90.6 243.9 L 93 243.1 L 95.4 243.4 L 97.8 244.5 L 100.2 246.1 L 105 250.1 L 109.8 254.5 L 112.2 256.9 L 114.6 259.7 L 117 262.9 L 121.8 270.2 L 124.2 273.9 L 126.6 277.3 L 129 279.8 L 131.4 280.8 L 133.8 280.3 L 136.2 278.7 L 138.6 276.6 L 145.8 269.4 L 148.2 267.4 L 150.6 265.7 L 153 264.4 L 155.4 263.6 L 157.8 263 L 162.7 262.1 L 165.1 261.5 L 167.5 260.7 L 169.9 259.6 L 172.3 258.2 L 174.7 256.4 L 177.1 254.4 L 184.3 247.8 L 186.7 245.8 L 189.1 244 L 191.5 242.4 L 193.9 241.2 L 196.3 240.3 L 198.7 239.7 L 201.1 239.4 L 203.5 239.3 L 205.9 239.4 L 208.3 239.8 L 210.7 240.7 L 213.1 242.2 L 215.5 244.6 L 217.9 247.9 L 222.7 255.8 L 225.1 259.7 L 227.5 263.3 L 229.9 266.5 L 232.3 269.4 L 234.7 271.9 L 237.1 274.1 L 239.5 275.9 L 241.9 277.2 L 244.3 278.1 L 246.7 278.5 L 249.1 278.4 L 251.5 277.9 L 253.9 276.9 L 256.3 275.5 L 258.7 273.7 L 261.1 271.6 L 263.5 269.2 L 265.9 266.5 L 268.3 263.6 L 273.1 257.1 L 282.8 243.6 L 287.6 237.4 L 299.6 222.7 L 302 219.8 L 304.4 217.3 L 306.8 215.1 L 309.2 213.4 L 311.6 212.3 L 314 211.7 L 316.4 211.6 L 318.8 212 L 321.2 212.9 L 323.6 214.1 L 326 215.7 L 328.4 217.5 L 330.8 219.6 L 333.2 221.9 L 335.6 224.5 L 338 227.4 L 340.4 230.6 L 342.8 234.3 L 345.2 238.5 L 347.6 243.5 L 350 249.2 L 357.2 268.3 L 359.6 273.7 L 362 278.7 L 364.4 283.3 L 366.8 287.6 L 369.2 291.6 L 371.6 295.3 L 374 298.5 L 376.4 301.2 L 378.8 303.3 L 381.2 304.9 L 383.6 305.9 L 386 306.1 L 388.4 305.6 L 390.8 304.5 L 393.2 302.7 L 395.6 300.4 L 398 297.5 L 400.4 294.1 L 405.3 287 L 407.7 283.7 L 410.1 280.8 L 414.9 275.7 L 417.3 272.8 L 424.5 262.5 L 429.3 255.5 L 431.7 251.6 L 436.5 242.9 L 441.3 234.2 L 443.7 230.2 L 446.1 226.8 L 448.5 224 L 450.9 222 L 453.3 221.3 L 455.7 222.4 L 458.1 226.3 L 460.5 233.7 L 462.9 245.3 L 465.3 260 L 467.7 275.6 L 470.1 289.9 L 472.5 302.4 L 474.9 313.3 L 477.3 322.3 L 479.7 329.5 L 482.1 335.3 L 484.5 340 L 486.9 343.9 L 489.3 347.2 L 491.7 350.2 L 494.1 353 L 496.5 355.6 L 498.9 357.8 L 501.3 359.7 L 503.7 361.3 L 506.1 362.5 L 508.5 363.3 L 510.9 363.7 L 513.3 363.7 L 515.7 363.2 L 518.1 362.3 L 520.5 361 L 522.9 359.3 L 525.3 357.1 L 527.8 354.6 L 530.2 351.6 L 532.6 348.3 L 535 344.6 L 539.8 336.6 L 547 324.3 L 549.4 320.5 L 551.8 316.9 L 554.2 313.5 L 556.6 310.4 L 559 307.7 L 561.4 305.2 L 563.8 303.1 L 566.2 301.3 L 568.6 300 L 571 299.1 L 573.4 298.6 L 575.8 298.7 L 578.2 299.3 L 580.6 300.1 L 583 301.2 L 592.6 306.3 L 595 307.3 L 597.4 308.1 L 599.8 308.5 L 604.6 309.1 L 609.4 309.8 L 614.2 310.9 L 621.4 312.7 L 623.8 313.1 L 626.2 313.4 L 628.6 313.4 L 631 313.1 L 633.4 312.5 L 635.8 311.6 L 638.2 310.4 L 640.6 308.9 L 643 307.1 L 645.4 305.1 L 647.8 302.9 L 652.7 297.9 L 657.5 292.9 L 659.9 290.7 L 662.3 288.8 L 664.7 287.2 L 667.1 286.2 L 669.5 285.7 L 671.9 286 L 674.3 287 L 676.7 288.6 L 681.5 292.4 L 683.9 294 L 686.3 295 L 688.7 295.1 L 691.1 293.9 L 693.5 291.4 L 695.9 287.7 L 698.3 283 L 700.7 277.4 L 703.1 271.3 L 710.3 251.5 L 712.7 245.4 L 715.1 240.2 L 717.5 236 L 719.9 232.7 L 722.3 230.3 L 724.7 228.5 L 727.1 227.2 L 729.5 226.2 L 734.3 224.8 L 739.1 223.4 L 741.5 222.5 L 743.9 221.3 L 746.3 219.9 L 748.7 218.4 L 753.5 214.8 L 758.3 210.9 L 767.9 203 L 772.7 199.3 L 777.6 196 L 780 194.5 L 782.4 193.2 L 784.8 192 L 787.2 191 L 789.6 190.2 L 792 189.6 L 794.4 189.2 L 796.8 189 L 801.6 188.9 L 808.8 188.9 L 811.2 188.7 L 813.6 188.4 L 816 187.9 L 820.8 186.4 L 825.6 185 L 828 184.4 L 830.4 184 L 832.8 183.8 L 835.2 184 L 837.6 184.5 L 840 185.4 L 842.4 186.6 L 847.2 189.4 L 852 192.2 L 854.4 193.3 L 856.8 194.1 L 859.2 194.4 L 861.6 194.2 L 864 193.4 L 866.4 191.9 L 868.8 189.8 L 871.2 187.2 L 873.6 184 L 876 180.2 L 878.4 176 L 885.6 162.7 L 888 158.6 L 890.4 154.9 L 892.8 151.4 L 895.2 148.3 L 897.7 145.4 L 900.1 142.9 L 902.5 140.6 L 904.9 138.9 L 907.3 137.8 L 909.7 137.4 L 912.1 137.9 L 914.5 139.3 L 916.9 141.5 L 919.3 144.5 L 921.7 147.9 L 926.5 155.6 L 931.3 163.4 L 933.7 166.9 L 936.1 170 L 938.5 172.8 L 948.1 183.3 L 950.5 186.4 L 952.9 189.9 L 955.3 194 L 957.7 198.7 L 960.1 204.1 L 962.5 210.1 L 967.3 223 L 972.1 236.2 L 974.5 242.6 L 976.9 248.6 L 979.3 254.1 L 981.7 259 L 984.1 263.2 L 986.5 266.7 L 988.9 269.2 L 991.3 270.7 L 993.7 271.3 L 996.1 271.3 L 998.5 270.8 L 1003.3 269.8 L 1005.7 269.7 L 1008.1 270.2 L 1010.5 271.2 L 1012.9 272.8 L 1015.3 274.6 L 1017.7 276.8 L 1029.8 288.4 L 1032.2 290.3 L 1034.6 292.1 L 1037 293.6 L 1039.4 294.9 L 1041.8 296.1 L 1044.2 297.1 L 1046.6 298 L 1049 298.7 L 1051.4 299.2 L 1053.8 299.6 L 1058.6 300.1 L 1063.4 300.1 L 1068.2 299.9 L 1082.6 299.1 L 1087.4 299 L 1089.8 298.7 L 1092.2 297.8 L 1094.6 296.3 L 1097 293.8 L 1099.4 290.6 L 1101.8 286.6 L 1104.2 282.2 L 1113.8 263.3 L 1116.2 259.1 L 1118.6 255.5 L 1121 252.2 L 1123.4 249.5 L 1125.8 247.1 L 1128.2 245.2 L 1130.6 243.8 L 1133 242.8 L 1135.4 242.2 L 1137.8 242.1 L 1140.2 242.4 L 1142.7 243.3 L 1145.1 244.6 L 1147.5 246.4 L 1149.9 248.8 L 1152.3 251.7 L 1154.7 255.1 L 1157.1 258.9 L 1161.9 267.3 L 1166.7 275.6 L 1169.1 279.4 L 1171.5 282.8 L 1173.9 285.7 L 1176.3 288.1 L 1178.7 290.2 L 1181.1 291.9 L 1183.5 293.3 L 1185.9 294.4 L 1188.3 295.3 L 1190.7 296 L 1195.5 297 L 1205.1 298.5 L 1207.5 299 L 1212.3 300.3 L 1217.1 301.8 L 1219.5 302.3 L 1221.9 302.6 L 1224.3 302.6 L 1226.7 302.3 L 1229.1 301.4 L 1231.5 300.2 L 1233.9 298.5 L 1236.3 296.3 L 1238.7 293.7 L 1241.1 290.7 L 1243.5 287.3 L 1245.9 283.5 L 1250.7 275.2 L 1255.5 266.3 L 1255.5 266.3 " clip-path="url(#pb112d19d81)" style="fill: none; stroke: #1f9e89; stroke-opacity: 0.6; stroke-width: 1.5; stroke-linecap: square"/>
</g>
<g id="line2d_22">
<path d="M 76.2 175.7 L 81 210.5 L 83.4 225.9 L 85.8 238.9 L 88.2 249 L 90.6 256.2 L 93 260.6 L 95.4 262.7 L 97.8 263.4 L 100.2 263 L 102.6 262.4 L 105 261.9 L 107.4 262 L 109.8 262.4 L 121.8 265.3 L 126.6 267.1 L 129 267.8 L 131.4 268 L 133.8 267.5 L 138.6 265.7 L 141 265.4 L 143.4 265.6 L 145.8 266.5 L 148.2 267.8 L 155.4 272.8 L 157.8 273.8 L 160.3 274.1 L 162.7 273.8 L 165.1 273.1 L 167.5 272 L 169.9 270.8 L 172.3 269.3 L 174.7 267.6 L 177.1 265.7 L 181.9 261.4 L 193.9 249.9 L 196.3 247.9 L 198.7 246.1 L 201.1 244.7 L 203.5 243.5 L 205.9 242.7 L 208.3 242.2 L 210.7 242.2 L 213.1 242.5 L 215.5 243.3 L 217.9 244.5 L 220.3 246 L 222.7 248 L 225.1 250.2 L 227.5 252.7 L 232.3 258.2 L 237.1 263.9 L 239.5 266.4 L 241.9 268.5 L 244.3 269.8 L 246.7 270.3 L 249.1 269.8 L 251.5 268.5 L 258.7 263.2 L 261.1 261.9 L 263.5 261 L 265.9 260.4 L 270.7 259.6 L 280.3 258.1 L 292.4 255.9 L 297.2 254.8 L 304.4 252.6 L 309.2 251.2 L 316.4 249.4 L 323.6 247.5 L 328.4 246.3 L 330.8 245.8 L 333.2 245.6 L 335.6 245.7 L 338 246.1 L 340.4 246.7 L 342.8 247.6 L 347.6 249.5 L 354.8 252.7 L 362 256.1 L 364.4 257.3 L 366.8 258.7 L 369.2 260.2 L 371.6 262 L 376.4 265.7 L 378.8 267.4 L 381.2 268.8 L 383.6 269.9 L 386 270.7 L 388.4 271.2 L 390.8 271.6 L 393.2 271.8 L 398 271.8 L 402.8 271.6 L 407.7 271.2 L 410.1 270.9 L 412.5 270.5 L 414.9 269.9 L 417.3 269.1 L 419.7 268.1 L 422.1 266.9 L 424.5 265.4 L 426.9 263.7 L 431.7 259.9 L 438.9 253.9 L 441.3 252.1 L 443.7 250.5 L 446.1 249.2 L 448.5 248.4 L 450.9 248.1 L 453.3 248.4 L 455.7 249.2 L 458.1 250.5 L 460.5 252.1 L 462.9 254.1 L 465.3 256.2 L 467.7 258.5 L 470.1 261 L 472.5 263.8 L 474.9 266.8 L 477.3 270 L 479.7 273.5 L 484.5 281.2 L 489.3 289.5 L 496.5 301.9 L 498.9 305.7 L 501.3 309 L 503.7 311.7 L 506.1 313.7 L 508.5 314.8 L 510.9 315 L 513.3 314.3 L 515.7 312.8 L 518.1 310.5 L 520.5 307.7 L 522.9 304.5 L 525.3 300.8 L 527.8 296.8 L 532.6 288.2 L 544.6 265.9 L 547 261.8 L 549.4 258.1 L 551.8 254.6 L 554.2 251.6 L 556.6 249 L 559 246.8 L 561.4 245 L 563.8 243.6 L 566.2 242.5 L 568.6 241.7 L 571 241.3 L 573.4 241.2 L 575.8 241.3 L 578.2 241.5 L 583 242.3 L 587.8 243.1 L 590.2 243.1 L 592.6 242.5 L 595 240.9 L 597.4 238 L 599.8 233.5 L 602.2 227.3 L 604.6 219.6 L 611.8 195.1 L 614.2 188.2 L 616.6 182.4 L 619 177.3 L 621.4 173 L 623.8 169.3 L 626.2 166.1 L 628.6 163.4 L 631 161.1 L 633.4 159.4 L 635.8 158.1 L 638.2 157.3 L 640.6 157 L 643 157.2 L 645.4 157.9 L 647.8 159.2 L 650.3 161.2 L 652.7 163.7 L 655.1 166.9 L 657.5 170.7 L 659.9 174.9 L 664.7 184.4 L 669.5 194.2 L 671.9 198.7 L 674.3 202.5 L 676.7 205.5 L 679.1 207.3 L 681.5 207.7 L 683.9 206.9 L 686.3 205.3 L 688.7 203.1 L 691.1 200.7 L 693.5 198.4 L 695.9 196.7 L 698.3 195.5 L 700.7 195 L 703.1 195.1 L 705.5 195.8 L 707.9 197.1 L 710.3 198.8 L 712.7 200.8 L 717.5 205.4 L 727.1 214.8 L 731.9 219.8 L 736.7 225 L 739.1 227.4 L 741.5 229.5 L 743.9 231.1 L 746.3 232 L 748.7 232.1 L 751.1 231.3 L 753.5 229.4 L 755.9 226.4 L 758.3 222 L 760.7 216.3 L 763.1 209 L 765.5 200.3 L 767.9 190.4 L 770.3 179.4 L 772.7 167.6 L 777.6 142.2 L 782.4 116.9 L 784.8 105.5 L 787.2 95.4 L 789.6 87 L 792 80.5 L 794.4 76.1 L 796.8 74 L 799.2 74.2 L 801.6 76.8 L 804 81.7 L 806.4 88.6 L 808.8 97.5 L 811.2 108.3 L 813.6 120.4 L 818.4 145.5 L 820.8 157.2 L 823.2 167.6 L 825.6 176.5 L 828 184.1 L 830.4 190.3 L 832.8 195.3 L 835.2 199 L 837.6 201.6 L 840 203 L 842.4 203.3 L 844.8 202.5 L 847.2 200.6 L 849.6 197.4 L 852 193 L 854.4 187.2 L 856.8 180.1 L 859.2 171.8 L 861.6 162.6 L 864 152.6 L 873.6 109.9 L 876 101.1 L 878.4 94 L 880.8 88.8 L 883.2 85 L 885.6 82.2 L 888 80.1 L 890.4 78.6 L 892.8 77.6 L 895.2 77.1 L 897.7 77.1 L 900.1 77.6 L 904.9 79.3 L 907.3 80.1 L 909.7 80.6 L 912.1 80.6 L 914.5 80 L 916.9 78.8 L 919.3 77 L 921.7 74.8 L 924.1 72.3 L 926.5 69.5 L 931.3 63.3 L 936.1 57.2 L 940.9 51.4 L 943.3 48.8 L 945.7 46.4 L 948.1 44.4 L 950.5 42.7 L 952.9 41.3 L 955.3 40.4 L 957.7 40 L 960.1 40.2 L 962.5 40.8 L 964.9 41.9 L 967.3 43.3 L 972.1 46.6 L 976.9 50.1 L 979.3 51.6 L 981.7 52.8 L 984.1 53.7 L 986.5 54.1 L 988.9 54 L 991.3 53.4 L 993.7 52.5 L 996.1 51.2 L 998.5 49.8 L 1008.1 43.4 L 1010.5 42.1 L 1012.9 41 L 1015.3 40.2 L 1020.2 39 L 1025 37.9 L 1027.4 37.2 L 1032.2 35.5 L 1039.4 32.8 L 1041.8 32 L 1044.2 31.5 L 1046.6 31.1 L 1049 31.1 L 1051.4 31.5 L 1053.8 32.2 L 1056.2 33.1 L 1061 35.6 L 1065.8 38.1 L 1068.2 39.1 L 1070.6 39.9 L 1073 40.3 L 1075.4 40.5 L 1077.8 40.5 L 1080.2 40.2 L 1082.6 39.8 L 1085 39.2 L 1087.4 38.4 L 1089.8 37.6 L 1094.6 35.5 L 1104.2 31 L 1106.6 30 L 1109 29.2 L 1111.4 28.6 L 1113.8 28.3 L 1116.2 28.2 L 1118.6 28.4 L 1121 28.7 L 1125.8 29.7 L 1130.6 30.8 L 1133 31.1 L 1135.4 31.3 L 1137.8 31.3 L 1140.2 31.1 L 1142.7 30.7 L 1147.5 29.6 L 1159.5 26.5 L 1164.3 25.6 L 1169.1 25 L 1171.5 24.9 L 1173.9 24.9 L 1176.3 25 L 1178.7 25.3 L 1181.1 25.6 L 1185.9 26.7 L 1190.7 28.2 L 1195.5 30 L 1200.3 32.1 L 1205.1 34.4 L 1209.9 37 L 1214.7 40 L 1219.5 43.4 L 1221.9 45.3 L 1224.3 47.4 L 1226.7 49.8 L 1229.1 52.6 L 1231.5 55.9 L 1233.9 59.7 L 1236.3 64.7 L 1238.7 71.2 L 1241.1 80 L 1243.5 91.4 L 1245.9 105.3 L 1248.3 121.3 L 1250.7 139.2 L 1255.5 178.1 L 1255.5 178.1 " clip-path="url(#pb112d19d81)" style="fill: none; stroke: #fde725; stroke-opacity: 0.6; stroke-width: 1.5; stroke-linecap: square"/>
</g>
<g id="line2d_23">
<path d="M 76.2 230.3 L 78.6 236.9 L 81 243 L 83.4 248.1 L 85.8 252 L 88.2 254.9 L 90.6 257.3 L 95.4 261.1 L 100.2 264.5 L 105 267.4 L 107.4 268.7 L 109.8 269.7 L 112.2 270.6 L 114.6 271.3 L 117 271.7 L 119.4 271.9 L 121.8 271.8 L 124.2 271.3 L 126.6 270.6 L 129 269.5 L 133.8 267 L 136.2 266 L 138.6 265.3 L 141 265.1 L 143.4 265.5 L 145.8 266.4 L 148.2 268 L 150.6 270 L 153 272.6 L 160.3 281.2 L 162.7 283.3 L 165.1 284.6 L 167.5 285 L 169.9 284.6 L 172.3 283.7 L 174.7 282.2 L 177.1 280.3 L 179.5 278 L 181.9 275.5 L 186.7 269.9 L 191.5 263.8 L 198.7 254.6 L 201.1 251.8 L 203.5 249.3 L 205.9 247.2 L 208.3 245.4 L 210.7 244 L 213.1 242.9 L 215.5 242.1 L 217.9 241.6 L 220.3 242 L 222.7 243.7 L 225.1 247.4 L 227.5 253.2 L 229.9 259.8 L 232.3 266.1 L 234.7 270.7 L 237.1 273.5 L 239.5 275.1 L 241.9 276.2 L 244.3 277.5 L 246.7 279.5 L 249.1 282.8 L 253.9 290.9 L 256.3 294.1 L 258.7 296.3 L 261.1 297.5 L 263.5 297.9 L 265.9 297.7 L 268.3 296.9 L 270.7 295.7 L 273.1 294 L 275.5 292 L 277.9 289.8 L 280.3 287.3 L 285.2 281.9 L 294.8 270.6 L 299.6 264.6 L 304.4 258 L 309.2 251.3 L 311.6 248.1 L 314 245.1 L 316.4 242.4 L 318.8 239.9 L 321.2 237.6 L 323.6 235.6 L 326 233.9 L 328.4 232.5 L 330.8 231.4 L 333.2 230.5 L 335.6 230 L 338 229.8 L 340.4 229.8 L 342.8 230.2 L 345.2 230.9 L 347.6 231.7 L 352.4 233.8 L 354.8 235 L 357.2 236.3 L 359.6 237.9 L 362 239.8 L 364.4 242.2 L 366.8 245.1 L 376.4 257.7 L 378.8 261.1 L 381.2 264.8 L 383.6 269 L 386 274.1 L 393.2 290.5 L 395.6 295 L 398 298.2 L 400.4 299.7 L 402.8 299.9 L 405.3 298.9 L 407.7 297.1 L 417.3 288.2 L 419.7 285.9 L 422.1 283.5 L 424.5 280.8 L 426.9 277.9 L 429.3 274.6 L 431.7 271.1 L 441.3 255.5 L 443.7 252.3 L 446.1 249.8 L 448.5 248.1 L 450.9 247.4 L 453.3 247.5 L 455.7 248.4 L 458.1 249.9 L 460.5 251.7 L 467.7 257.8 L 470.1 259.4 L 472.5 260.6 L 474.9 261.1 L 477.3 260.9 L 479.7 260.1 L 482.1 258.9 L 489.3 254.6 L 491.7 253.4 L 501.3 249.4 L 503.7 248.1 L 506.1 246.4 L 508.5 244.2 L 510.9 241.7 L 515.7 235.9 L 520.5 230 L 522.9 227.3 L 525.3 225 L 527.8 223 L 530.2 221.4 L 532.6 220.1 L 539.8 216.5 L 542.2 215.1 L 544.6 213.4 L 547 211.6 L 549.4 209.5 L 554.2 204.9 L 559 199.9 L 563.8 194.8 L 566.2 192.4 L 568.6 190.3 L 571 188.5 L 573.4 187.1 L 575.8 186.3 L 578.2 186.3 L 580.6 187.1 L 583 188.9 L 585.4 191.3 L 587.8 194.4 L 590.2 197.8 L 595 205.3 L 602.2 217 L 604.6 220.7 L 607 224.1 L 609.4 227.2 L 611.8 230 L 614.2 232.4 L 616.6 234.4 L 619 235.9 L 621.4 237.1 L 623.8 237.8 L 626.2 238.1 L 628.6 237.9 L 631 237.2 L 633.4 236.1 L 635.8 234.6 L 638.2 232.5 L 640.6 230.1 L 643 227.2 L 645.4 223.9 L 647.8 220.3 L 650.3 216.3 L 652.7 212 L 657.5 202.8 L 667.1 183.5 L 669.5 179.1 L 671.9 175.2 L 674.3 171.7 L 676.7 168.6 L 679.1 166.2 L 681.5 164.3 L 683.9 163.1 L 686.3 162.6 L 688.7 162.8 L 691.1 163.5 L 693.5 164.7 L 695.9 166.3 L 698.3 168.2 L 712.7 180.1 L 717.5 183.5 L 722.3 186.5 L 724.7 187.8 L 727.1 188.9 L 729.5 189.7 L 731.9 190.2 L 734.3 190.4 L 736.7 190.1 L 739.1 189.4 L 741.5 188.2 L 743.9 186.6 L 746.3 184.5 L 748.7 182.2 L 758.3 172 L 760.7 169.7 L 763.1 167.6 L 765.5 165.7 L 767.9 164.1 L 770.3 162.6 L 772.7 161.4 L 775.2 160.4 L 777.6 159.7 L 780 159.2 L 782.4 159 L 784.8 159 L 787.2 159.3 L 789.6 159.9 L 792 160.7 L 794.4 161.8 L 796.8 163 L 799.2 164.5 L 801.6 166.2 L 804 168.2 L 808.8 172.4 L 816 179.2 L 818.4 181.3 L 820.8 183.3 L 823.2 184.9 L 825.6 186.3 L 828 187.3 L 830.4 187.9 L 832.8 188.1 L 835.2 187.9 L 837.6 187.5 L 840 186.7 L 842.4 185.7 L 844.8 184.4 L 847.2 183 L 852 179.7 L 859.2 174.8 L 861.6 173.3 L 864 172 L 866.4 170.9 L 868.8 170.1 L 871.2 169.7 L 873.6 169.6 L 876 169.9 L 878.4 170.5 L 880.8 171.5 L 883.2 172.6 L 885.6 174 L 890.4 177.1 L 897.7 182.1 L 902.5 185.1 L 904.9 186.4 L 907.3 187.4 L 909.7 188.1 L 912.1 188.6 L 914.5 188.7 L 921.7 188.8 L 928.9 188.9 L 933.7 188.7 L 936.1 188.5 L 938.5 188.2 L 940.9 187.7 L 943.3 187 L 945.7 186.1 L 948.1 185.1 L 950.5 183.8 L 955.3 180.9 L 962.5 176.1 L 967.3 172.8 L 972.1 169.9 L 976.9 167.4 L 979.3 166.4 L 981.7 165.5 L 984.1 164.7 L 986.5 164 L 988.9 163.5 L 991.3 163.1 L 993.7 162.9 L 996.1 162.8 L 998.5 162.9 L 1000.9 163.1 L 1003.3 163.5 L 1005.7 164.1 L 1008.1 164.9 L 1010.5 165.9 L 1012.9 167.2 L 1015.3 168.6 L 1017.7 170.3 L 1020.2 172.2 L 1025 176.4 L 1039.4 189.9 L 1044.2 193.8 L 1046.6 195.5 L 1049 197 L 1051.4 198.4 L 1053.8 199.5 L 1056.2 200.5 L 1058.6 201.3 L 1061 201.8 L 1063.4 202.1 L 1065.8 202.2 L 1068.2 202 L 1070.6 201.6 L 1073 200.9 L 1075.4 199.9 L 1077.8 198.6 L 1080.2 197.1 L 1082.6 195.3 L 1085 193.2 L 1089.8 188.5 L 1094.6 183.7 L 1097 181.4 L 1099.4 179.5 L 1101.8 177.8 L 1104.2 176.5 L 1106.6 175.6 L 1109 175.3 L 1111.4 175.5 L 1113.8 176.2 L 1116.2 177.4 L 1118.6 178.9 L 1121 180.7 L 1123.4 182.8 L 1128.2 187.5 L 1137.8 197.5 L 1140.2 199.8 L 1142.7 201.9 L 1145.1 203.8 L 1147.5 205.5 L 1149.9 206.9 L 1152.3 208.1 L 1154.7 209 L 1157.1 209.6 L 1159.5 210 L 1161.9 210 L 1164.3 209.9 L 1166.7 209.5 L 1169.1 208.8 L 1171.5 208 L 1173.9 207.1 L 1176.3 205.9 L 1181.1 203.3 L 1185.9 200.3 L 1190.7 196.9 L 1195.5 192.9 L 1200.3 188.4 L 1205.1 183.4 L 1209.9 178.1 L 1212.3 175.7 L 1214.7 173.6 L 1217.1 171.9 L 1219.5 170.8 L 1221.9 170.3 L 1224.3 170.6 L 1226.7 171.7 L 1229.1 173.4 L 1231.5 175.9 L 1233.9 179 L 1236.3 182.9 L 1238.7 187.3 L 1241.1 192.3 L 1243.5 197.8 L 1245.9 203.8 L 1250.7 216.5 L 1255.5 229.9 L 1255.5 229.9 " clip-path="url(#pb112d19d81)" style="fill: none; stroke: #fde725; stroke-opacity: 0.6; stroke-width: 1.5; stroke-linecap: square"/>
</g>
<g id="line2d_24">
<path d="M 76.2 178.7 L 78.6 191.5 L 81 202.9 L 83.4 212.6 L 85.8 221.7 L 90.6 241.3 L 93 249.7 L 95.4 256.1 L 97.8 260.7 L 100.2 264 L 102.6 265.6 L 105 265 L 107.4 262.6 L 109.8 259.1 L 112.2 255.3 L 114.6 252.1 L 117 249.8 L 119.4 248.1 L 121.8 247.1 L 124.2 246.3 L 126.6 246 L 129 246.1 L 131.4 246.6 L 133.8 247.6 L 136.2 249.2 L 138.6 251.1 L 141 253.4 L 145.8 258.5 L 148.2 261.1 L 150.6 263.3 L 153 264.9 L 155.4 265.6 L 157.8 265.3 L 160.3 264.2 L 165.1 261.4 L 167.5 260.5 L 169.9 260.1 L 172.3 260.3 L 174.7 261 L 177.1 262.2 L 179.5 263.6 L 186.7 268.3 L 189.1 269.6 L 191.5 270.8 L 193.9 271.7 L 196.3 272.3 L 198.7 272.8 L 201.1 272.9 L 203.5 272.7 L 205.9 272.2 L 208.3 271.1 L 210.7 269.5 L 213.1 267.3 L 215.5 264.6 L 217.9 261.4 L 220.3 257.8 L 222.7 253.7 L 232.3 236.4 L 234.7 232.7 L 237.1 229.5 L 239.5 226.8 L 241.9 224.6 L 244.3 222.8 L 246.7 221.6 L 249.1 220.9 L 251.5 220.6 L 253.9 220.7 L 256.3 221.3 L 258.7 222.2 L 261.1 223.4 L 263.5 224.9 L 265.9 226.7 L 270.7 230.6 L 275.5 235.1 L 277.9 237.5 L 280.3 240.1 L 282.8 242.9 L 287.6 249.1 L 294.8 258.5 L 297.2 261.4 L 299.6 263.9 L 302 265.9 L 304.4 267.3 L 306.8 267.9 L 309.2 267.9 L 311.6 267.2 L 314 266 L 316.4 264.2 L 318.8 262 L 321.2 259.4 L 323.6 256.7 L 326 253.7 L 328.4 250.4 L 330.8 246.6 L 338 234.2 L 340.4 230.8 L 342.8 228.5 L 345.2 227.1 L 347.6 226.4 L 350 226.2 L 352.4 226.3 L 354.8 226.7 L 357.2 227.5 L 359.6 228.6 L 362 230.2 L 364.4 232.2 L 378.8 244.9 L 383.6 249.7 L 388.4 254.5 L 390.8 256.8 L 393.2 258.9 L 395.6 260.8 L 398 262.4 L 400.4 263.7 L 402.8 264.6 L 407.7 265.8 L 410.1 266.4 L 412.5 267.1 L 414.9 268 L 417.3 269 L 419.7 270.1 L 424.5 272.9 L 426.9 273.9 L 429.3 273.9 L 431.7 272.5 L 434.1 270 L 436.5 266.7 L 443.7 255.3 L 446.1 252 L 448.5 249.1 L 450.9 246.6 L 455.7 242.3 L 460.5 238.1 L 462.9 235.8 L 467.7 230.7 L 472.5 225.2 L 489.3 205.2 L 494.1 198.9 L 498.9 191.9 L 501.3 188.4 L 503.7 185.2 L 506.1 182.4 L 508.5 180.4 L 510.9 179.2 L 513.3 179 L 515.7 179.7 L 518.1 181.3 L 520.5 183.5 L 522.9 186.2 L 525.3 189.2 L 532.6 198.7 L 535 201.5 L 537.4 203.8 L 539.8 205.6 L 542.2 206.6 L 544.6 207.2 L 549.4 207.8 L 551.8 208 L 554.2 208.6 L 556.6 209.6 L 559 211 L 561.4 212.2 L 563.8 212.5 L 566.2 211.4 L 568.6 208.1 L 571 202.2 L 575.8 187 L 578.2 180.8 L 580.6 176.2 L 583 173.1 L 585.4 171.3 L 587.8 170.5 L 590.2 170.4 L 592.6 170.8 L 599.8 172.9 L 602.2 173.3 L 607 173.7 L 616.6 174.1 L 619 174.3 L 621.4 174.7 L 631 176.8 L 633.4 177 L 635.8 176.9 L 638.2 176.6 L 640.6 176 L 643 175.2 L 645.4 174.3 L 650.3 172 L 657.5 168.2 L 664.7 164.4 L 669.5 162 L 674.3 160 L 679.1 158.4 L 683.9 157.2 L 688.7 156.3 L 698.3 154.7 L 703.1 153.6 L 705.5 152.8 L 710.3 150.9 L 715.1 148.6 L 719.9 146 L 724.7 143.1 L 731.9 138.3 L 746.3 128.5 L 748.7 127.1 L 751.1 126 L 753.5 125.2 L 755.9 124.8 L 758.3 124.8 L 760.7 125.2 L 763.1 125.8 L 765.5 126.8 L 767.9 128 L 770.3 129.4 L 775.2 132.6 L 782.4 137.8 L 789.6 143.4 L 796.8 149.2 L 804 155.2 L 808.8 158.8 L 811.2 160.4 L 813.6 161.8 L 816 163 L 818.4 163.9 L 820.8 164.5 L 823.2 164.9 L 825.6 164.8 L 828 164.5 L 830.4 163.8 L 832.8 162.8 L 835.2 161.6 L 837.6 160.2 L 840 158.6 L 844.8 154.8 L 849.6 151.1 L 852 149.3 L 854.4 147.8 L 856.8 146.6 L 859.2 145.8 L 861.6 145.3 L 864 145.1 L 866.4 145.2 L 868.8 145.5 L 880.8 147.3 L 883.2 147.4 L 888 147.3 L 900.1 146.6 L 902.5 146.6 L 904.9 146.8 L 907.3 147.1 L 909.7 147.7 L 912.1 148.4 L 914.5 149.4 L 916.9 150.6 L 921.7 153.3 L 928.9 157.5 L 933.7 159.9 L 936.1 160.9 L 938.5 161.7 L 940.9 162.4 L 943.3 162.8 L 945.7 163 L 948.1 162.9 L 950.5 162.5 L 952.9 161.9 L 955.3 160.9 L 957.7 159.6 L 960.1 158 L 962.5 156.1 L 964.9 153.7 L 967.3 151.1 L 969.7 148.1 L 979.3 135.1 L 981.7 132.2 L 984.1 129.7 L 986.5 127.6 L 988.9 126 L 991.3 124.9 L 993.7 124 L 996.1 123.4 L 1000.9 122.7 L 1003.3 122.5 L 1005.7 122.4 L 1008.1 122.5 L 1010.5 122.7 L 1012.9 123 L 1015.3 123.5 L 1017.7 124.3 L 1020.2 125.2 L 1022.6 126.4 L 1025 127.8 L 1029.8 131.2 L 1037 136.5 L 1039.4 138 L 1041.8 139.4 L 1044.2 140.5 L 1046.6 141.3 L 1049 141.7 L 1051.4 141.7 L 1053.8 141.2 L 1056.2 140.2 L 1058.6 138.9 L 1061 137.4 L 1065.8 133.8 L 1073 128.1 L 1075.4 126.4 L 1077.8 125 L 1080.2 123.9 L 1082.6 123.1 L 1085 122.8 L 1087.4 122.9 L 1089.8 123.3 L 1094.6 124.6 L 1099.4 125.9 L 1101.8 126.3 L 1104.2 126.5 L 1106.6 126.2 L 1109 125.7 L 1113.8 124.4 L 1116.2 123.9 L 1118.6 123.7 L 1121 124.1 L 1123.4 125 L 1125.8 126.4 L 1128.2 128.4 L 1130.6 130.6 L 1135.4 135.8 L 1140.2 141.1 L 1142.7 143.5 L 1145.1 145.7 L 1147.5 147.6 L 1149.9 148.9 L 1152.3 149.8 L 1154.7 149.9 L 1157.1 149.4 L 1159.5 148.4 L 1161.9 147 L 1166.7 143.4 L 1169.1 141.6 L 1171.5 139.9 L 1173.9 138.5 L 1176.3 137.3 L 1178.7 136.4 L 1181.1 135.7 L 1183.5 135.1 L 1185.9 134.8 L 1188.3 134.7 L 1190.7 134.7 L 1195.5 135.2 L 1200.3 135.8 L 1202.7 136 L 1205.1 136.1 L 1207.5 135.9 L 1209.9 135.5 L 1212.3 134.8 L 1214.7 133.9 L 1217.1 132.8 L 1219.5 131.6 L 1224.3 128.7 L 1229.1 125.7 L 1231.5 124.4 L 1233.9 123.4 L 1236.3 122.6 L 1238.7 122.3 L 1241.1 122.6 L 1243.5 124.6 L 1245.9 129.4 L 1248.3 137.7 L 1250.7 148.8 L 1253.1 161.8 L 1255.5 175.8 L 1255.5 175.8 " clip-path="url(#pb112d19d81)" style="fill: none; stroke-dasharray: 1.5,2.475; stroke-dashoffset: 0; stroke: #440154; stroke-opacity: 0.6; stroke-width: 1.5"/>
</g>
<g id="line2d_25">
<path d="M 76.2 262.1 L 78.6 264.1 L 81 265.7 L 83.4 266.7 L 85.8 266.6 L 88.2 265.7 L 90.6 264.3 L 95.4 260.9 L 100.2 257.1 L 102.6 255 L 105 252.7 L 112.2 245.4 L 114.6 243.3 L 117 241.8 L 119.4 241 L 121.8 241.2 L 124.2 242.6 L 126.6 245.4 L 129 249.5 L 131.4 254.4 L 145.8 286.5 L 148.2 291.3 L 150.6 295.7 L 153 299.5 L 155.4 302.7 L 157.8 304.9 L 160.3 306.1 L 162.7 306.1 L 165.1 305.1 L 167.5 303 L 169.9 300.2 L 172.3 296.7 L 179.5 285.5 L 181.9 282.2 L 184.3 279.2 L 186.7 276.7 L 189.1 274.4 L 191.5 272.6 L 193.9 271 L 196.3 269.8 L 198.7 268.8 L 201.1 268 L 208.3 266 L 213.1 264.3 L 215.5 263.9 L 217.9 264.5 L 220.3 266.6 L 222.7 270.4 L 225.1 275.9 L 229.9 287.8 L 232.3 292.5 L 234.7 295.3 L 237.1 296.2 L 239.5 295.8 L 244.3 293.9 L 246.7 293.7 L 249.1 294.7 L 253.9 298.3 L 256.3 299.5 L 258.7 299.4 L 261.1 297.8 L 263.5 295.1 L 265.9 291.6 L 273.1 280 L 277.9 272.8 L 285.2 262.7 L 290 256.1 L 292.4 253 L 294.8 250.2 L 297.2 247.7 L 299.6 245.7 L 302 244.3 L 306.8 242 L 309.2 240.6 L 311.6 238.6 L 314 235.6 L 316.4 231.8 L 318.8 227.3 L 326 213.2 L 330.8 204.4 L 333.2 200.3 L 335.6 196.5 L 338 193.1 L 340.4 190.2 L 342.8 188 L 345.2 186.4 L 347.6 185.5 L 350 185 L 352.4 185.2 L 354.8 186.1 L 357.2 188 L 359.6 191.1 L 362 195.1 L 364.4 199.7 L 371.6 214.5 L 374 218.9 L 376.4 222.6 L 378.8 225.6 L 381.2 227.8 L 383.6 229.2 L 386 229.8 L 388.4 229.7 L 390.8 229 L 393.2 227.9 L 395.6 226.4 L 402.8 221.7 L 405.3 220.5 L 407.7 219.7 L 410.1 219.2 L 412.5 218.9 L 419.7 218.4 L 422.1 217.7 L 424.5 216.3 L 426.9 214.6 L 431.7 210.4 L 434.1 208.4 L 436.5 206.5 L 438.9 205 L 441.3 203.7 L 443.7 202.8 L 446.1 202.3 L 448.5 202.1 L 450.9 202.3 L 453.3 202.8 L 455.7 203.6 L 458.1 204.8 L 460.5 206.1 L 462.9 207.7 L 467.7 211.4 L 474.9 217.3 L 477.3 219.1 L 479.7 220.7 L 482.1 221.9 L 484.5 222.8 L 486.9 223.3 L 489.3 223.5 L 494.1 223.5 L 498.9 223.3 L 501.3 223.4 L 506.1 224 L 510.9 224.6 L 513.3 224.7 L 515.7 224.6 L 518.1 224.3 L 520.5 223.6 L 522.9 222.7 L 525.3 221.6 L 527.8 220.2 L 532.6 217.2 L 539.8 212.3 L 542.2 210.8 L 544.6 209.5 L 547 208.4 L 549.4 207.6 L 551.8 207.2 L 554.2 207.2 L 559 207.5 L 561.4 207.4 L 563.8 206.9 L 566.2 205.6 L 568.6 203.4 L 571 200.1 L 573.4 196.1 L 575.8 191.8 L 578.2 187.8 L 580.6 184.5 L 583 182.6 L 585.4 181.9 L 587.8 182.2 L 590.2 183.5 L 592.6 185.4 L 595 187.8 L 604.6 198.8 L 607 201.2 L 609.4 203.4 L 611.8 205.4 L 614.2 207.1 L 616.6 208.4 L 619 209.4 L 621.4 210 L 623.8 210.1 L 626.2 209.7 L 628.6 208.8 L 631 207.3 L 633.4 205.3 L 635.8 202.6 L 638.2 199.3 L 640.6 195.4 L 647.8 182.7 L 650.3 178.8 L 652.7 175.6 L 655.1 173.1 L 657.5 171.1 L 659.9 169.5 L 664.7 166.9 L 667.1 165.8 L 669.5 165 L 671.9 164.7 L 674.3 165.2 L 676.7 166.6 L 679.1 169.1 L 681.5 172.8 L 683.9 177.6 L 691.1 193.4 L 693.5 197.7 L 695.9 200.7 L 698.3 202.6 L 700.7 203.6 L 703.1 203.8 L 705.5 203.5 L 710.3 202.1 L 715.1 200.7 L 717.5 200 L 719.9 199.5 L 722.3 199.2 L 724.7 199.2 L 727.1 199.4 L 729.5 199.9 L 734.3 201.3 L 736.7 201.8 L 739.1 201.9 L 741.5 201.4 L 743.9 200.4 L 746.3 198.9 L 748.7 197.1 L 758.3 189 L 760.7 187.3 L 763.1 185.6 L 765.5 184.2 L 767.9 182.8 L 770.3 181.7 L 772.7 180.6 L 775.2 179.8 L 777.6 179.1 L 780 178.6 L 782.4 178.3 L 784.8 178.1 L 787.2 178.2 L 789.6 178.4 L 792 178.8 L 794.4 179.4 L 796.8 180.2 L 799.2 181.2 L 801.6 182.3 L 804 183.7 L 808.8 186.7 L 813.6 190.1 L 823.2 197.1 L 825.6 198.7 L 828 200.1 L 830.4 201.3 L 832.8 202.2 L 835.2 202.9 L 837.6 203.2 L 840 203.1 L 842.4 202.7 L 844.8 201.9 L 847.2 200.8 L 849.6 199.5 L 852 198 L 856.8 194.6 L 864 189.4 L 868.8 186.2 L 873.6 183.4 L 876 182.2 L 878.4 181.1 L 880.8 180.3 L 883.2 179.6 L 885.6 179.1 L 888 178.8 L 890.4 178.8 L 892.8 179.1 L 895.2 179.6 L 897.7 180.4 L 900.1 181.6 L 902.5 183.1 L 904.9 185 L 907.3 187.3 L 909.7 190 L 912.1 193.1 L 914.5 196.7 L 916.9 200.6 L 921.7 209.2 L 928.9 222.5 L 931.3 226.6 L 933.7 230.4 L 936.1 233.7 L 938.5 236.4 L 940.9 238.4 L 943.3 239.7 L 945.7 240.2 L 948.1 240.1 L 950.5 239.4 L 952.9 238.3 L 955.3 236.8 L 957.7 235.1 L 962.5 231 L 969.7 224.8 L 974.5 220.9 L 976.9 219.2 L 979.3 217.6 L 981.7 216.3 L 984.1 215.1 L 986.5 214.2 L 988.9 213.6 L 991.3 213.2 L 993.7 213.2 L 996.1 213.6 L 998.5 214.3 L 1000.9 215.5 L 1003.3 217 L 1005.7 218.8 L 1010.5 222.9 L 1015.3 227.1 L 1017.7 229.1 L 1020.2 230.9 L 1022.6 232.4 L 1025 233.6 L 1027.4 234.3 L 1029.8 234.5 L 1032.2 234.2 L 1034.6 233.3 L 1037 232 L 1039.4 230.4 L 1041.8 228.5 L 1046.6 224.3 L 1051.4 219.9 L 1056.2 216.1 L 1058.6 214.3 L 1061 212.8 L 1063.4 211.3 L 1065.8 210 L 1068.2 208.9 L 1070.6 208 L 1073 207.2 L 1075.4 206.6 L 1077.8 206.5 L 1080.2 206.9 L 1082.6 208.1 L 1085 210.1 L 1087.4 212.8 L 1094.6 222 L 1097 224.3 L 1099.4 226 L 1101.8 227.2 L 1104.2 228.1 L 1106.6 228.6 L 1113.8 229.8 L 1116.2 230.4 L 1123.4 232.6 L 1125.8 233.1 L 1128.2 233.4 L 1130.6 233.4 L 1133 233 L 1135.4 232.1 L 1137.8 230.6 L 1140.2 228.7 L 1145.1 224.3 L 1147.5 222.1 L 1149.9 220.1 L 1152.3 218.4 L 1154.7 217 L 1157.1 215.9 L 1159.5 215 L 1161.9 214.3 L 1166.7 213.2 L 1171.5 212.5 L 1176.3 212.2 L 1178.7 212.2 L 1181.1 212.4 L 1183.5 212.6 L 1185.9 213 L 1188.3 213.6 L 1190.7 214.3 L 1193.1 215.2 L 1197.9 217.3 L 1202.7 219.8 L 1212.3 225.2 L 1219.5 229.5 L 1224.3 232.6 L 1229.1 236.2 L 1233.9 240 L 1238.7 244.2 L 1245.9 251 L 1255.5 260.4 L 1255.5 260.4 " clip-path="url(#pb112d19d81)" style="fill: none; stroke-dasharray: 1.5,2.475; stroke-dashoffset: 0; stroke: #440154; stroke-opacity: 0.6; stroke-width: 1.5"/>
</g>
<g id="line2d_26">
<path d="M 76.2 181 L 78.6 191.9 L 81 198.8 L 83.4 201.8 L 85.8 203.1 L 90.6 206.3 L 93 207 L 95.4 206.2 L 97.8 204.5 L 107.4 195.6 L 109.8 193.9 L 112.2 192.6 L 114.6 191.9 L 117 191.9 L 119.4 193 L 121.8 195.3 L 124.2 199 L 126.6 203.7 L 131.4 214.1 L 133.8 218.9 L 136.2 222.9 L 143.4 233.5 L 148.2 241 L 150.6 244.3 L 153 247 L 155.4 249.2 L 157.8 251 L 160.3 252.5 L 165.1 255.3 L 167.5 256.5 L 169.9 257.5 L 172.3 258.2 L 174.7 258.5 L 177.1 258.3 L 179.5 257.8 L 181.9 256.9 L 186.7 254.7 L 203.5 246.4 L 205.9 245.5 L 208.3 244.7 L 210.7 244.3 L 215.5 243.8 L 217.9 243.4 L 220.3 242.6 L 222.7 241.3 L 225.1 239.6 L 227.5 238.3 L 229.9 237.9 L 232.3 238.9 L 234.7 242 L 237.1 246.7 L 244.3 264.3 L 246.7 270.5 L 249.1 277.3 L 251.5 282.8 L 253.9 284.6 L 256.3 283 L 258.7 280 L 261.1 276.7 L 263.5 272.7 L 265.9 267.9 L 270.7 257.8 L 273.1 253.7 L 275.5 250.9 L 277.9 249.2 L 280.3 248.5 L 282.8 248.1 L 285.2 248 L 294.8 248.2 L 299.6 247.8 L 304.4 247 L 311.6 245.7 L 314 245.5 L 316.4 245.5 L 318.8 245.9 L 323.6 246.9 L 326 247.2 L 328.4 247 L 330.8 246.1 L 333.2 244.7 L 338 241.4 L 340.4 240.2 L 342.8 239.5 L 345.2 239.3 L 347.6 239.7 L 350 240.4 L 352.4 241.3 L 357.2 243.6 L 359.6 244.5 L 362 245.2 L 364.4 245.5 L 366.8 245.2 L 369.2 244.6 L 371.6 243.5 L 376.4 241 L 381.2 238.2 L 386 235.1 L 388.4 233.4 L 390.8 231.5 L 393.2 229.5 L 395.6 227.3 L 400.4 222.5 L 410.1 212.1 L 412.5 210 L 414.9 208.5 L 419.7 206 L 422.1 204.1 L 424.5 201.5 L 426.9 198.4 L 438.9 181.2 L 441.3 178.1 L 443.7 175.3 L 446.1 172.6 L 448.5 170.2 L 450.9 168.2 L 453.3 166.4 L 455.7 165 L 458.1 163.8 L 460.5 162.9 L 462.9 162.3 L 465.3 161.8 L 467.7 161.6 L 470.1 161.4 L 474.9 161.5 L 482.1 161.7 L 484.5 161.7 L 486.9 161.5 L 489.3 161.1 L 491.7 160.5 L 494.1 159.6 L 496.5 158.5 L 498.9 157 L 501.3 155.1 L 503.7 152.9 L 506.1 150.2 L 508.5 147.2 L 510.9 143.6 L 513.3 139.7 L 518.1 131.2 L 525.3 117.8 L 527.8 113.6 L 530.2 109.6 L 532.6 105.9 L 535 102.5 L 537.4 99.5 L 539.8 96.9 L 542.2 94.8 L 544.6 93.2 L 547 92.1 L 549.4 91.6 L 551.8 91.7 L 554.2 92.3 L 556.6 93.3 L 559 94.8 L 561.4 96.5 L 563.8 98.6 L 566.2 100.9 L 571 106 L 575.8 111.1 L 578.2 113.5 L 580.6 115.6 L 583 117.4 L 585.4 118.7 L 587.8 119.4 L 590.2 119.5 L 592.6 118.8 L 595 117.6 L 597.4 115.9 L 604.6 110.2 L 607 108.6 L 609.4 107.6 L 611.8 107.3 L 614.2 107.8 L 616.6 109.3 L 619 111.5 L 621.4 114.2 L 626.2 119.9 L 628.6 122.3 L 631 124.1 L 633.4 124.9 L 635.8 124.6 L 638.2 123 L 640.6 120.3 L 643 116.7 L 645.4 112.3 L 647.8 107.4 L 657.5 86.9 L 659.9 82.5 L 662.3 78.8 L 664.7 75.8 L 667.1 73.6 L 669.5 71.9 L 671.9 70.8 L 674.3 70.2 L 676.7 70.1 L 679.1 70.3 L 681.5 70.7 L 683.9 71.4 L 688.7 73.2 L 693.5 75.3 L 707.9 81.9 L 712.7 83.8 L 717.5 85.3 L 719.9 85.9 L 722.3 86.3 L 724.7 86.6 L 727.1 86.8 L 729.5 86.7 L 731.9 86.5 L 741.5 84.9 L 746.3 84.8 L 748.7 84.8 L 751.1 84.6 L 753.5 84.2 L 755.9 83.4 L 758.3 82.1 L 760.7 80.5 L 763.1 78.7 L 772.7 70.7 L 775.2 69 L 777.6 67.5 L 780 66.4 L 782.4 65.8 L 784.8 65.6 L 787.2 65.9 L 789.6 66.6 L 792 67.8 L 794.4 69.5 L 796.8 71.5 L 799.2 74.1 L 801.6 77 L 806.4 83.5 L 811.2 90.1 L 813.6 93.1 L 816 95.6 L 818.4 97.5 L 820.8 98.7 L 823.2 99.1 L 825.6 98.5 L 828 97.1 L 830.4 95 L 832.8 92.4 L 835.2 89.4 L 842.4 80 L 844.8 77 L 847.2 74.4 L 849.6 72 L 852 70.1 L 854.4 68.7 L 856.8 67.9 L 859.2 67.7 L 861.6 68.1 L 864 69.1 L 866.4 70.6 L 868.8 72.6 L 871.2 75 L 873.6 77.9 L 876 81 L 878.4 84.5 L 880.8 88.3 L 885.6 96.5 L 890.4 105.4 L 895.2 115.1 L 900.1 125.6 L 904.9 136.4 L 907.3 141.4 L 909.7 145.9 L 912.1 149.6 L 914.5 152.5 L 916.9 154.5 L 919.3 155.8 L 921.7 156.4 L 924.1 156.4 L 926.5 155.9 L 928.9 154.9 L 931.3 153.6 L 933.7 152 L 936.1 150.3 L 938.5 148.3 L 943.3 143.9 L 948.1 139 L 955.3 131.1 L 964.9 120.4 L 969.7 115.4 L 974.5 110.8 L 976.9 108.8 L 979.3 107 L 981.7 105.4 L 984.1 104 L 986.5 102.9 L 988.9 102 L 991.3 101.5 L 993.7 101.3 L 996.1 101.4 L 998.5 101.7 L 1000.9 102.3 L 1003.3 103.1 L 1005.7 104.2 L 1008.1 105.4 L 1010.5 106.7 L 1015.3 109.9 L 1020.2 113.5 L 1025 117.6 L 1029.8 121.9 L 1034.6 126.7 L 1044.2 136.6 L 1046.6 138.7 L 1049 140.5 L 1051.4 141.9 L 1053.8 142.7 L 1056.2 142.9 L 1058.6 142.4 L 1061 141.5 L 1063.4 140.2 L 1068.2 137.4 L 1070.6 136.2 L 1073 135.4 L 1075.4 135.1 L 1077.8 135.6 L 1080.2 137 L 1082.6 139.4 L 1085 143.1 L 1087.4 147.8 L 1092.2 158.1 L 1094.6 162.8 L 1097 166.6 L 1099.4 169.3 L 1101.8 171.2 L 1104.2 172.2 L 1106.6 172.6 L 1109 172.4 L 1111.4 171.8 L 1113.8 170.7 L 1116.2 169.4 L 1118.6 167.8 L 1123.4 164.2 L 1130.6 158.4 L 1133 156.7 L 1135.4 155.2 L 1137.8 153.9 L 1140.2 153 L 1142.7 152.4 L 1145.1 152.3 L 1147.5 152.7 L 1149.9 153.5 L 1152.3 154.8 L 1154.7 156.3 L 1157.1 158.1 L 1159.5 160.2 L 1164.3 164.7 L 1169.1 169.2 L 1171.5 171.3 L 1173.9 173.2 L 1176.3 174.8 L 1178.7 176.1 L 1181.1 176.8 L 1183.5 177.1 L 1185.9 176.7 L 1188.3 175.8 L 1190.7 174.3 L 1193.1 172.3 L 1195.5 170 L 1197.9 167.4 L 1202.7 161.5 L 1209.9 152.4 L 1212.3 149.5 L 1214.7 146.8 L 1217.1 144.3 L 1219.5 142.1 L 1221.9 140.2 L 1224.3 138.7 L 1226.7 137.7 L 1229.1 137.1 L 1231.5 137 L 1233.9 137.7 L 1236.3 139.2 L 1238.7 141.7 L 1241.1 145.5 L 1243.5 150.6 L 1245.9 157.8 L 1248.3 167.4 L 1250.7 180.1 L 1253.1 195.9 L 1255.5 213.4 L 1255.5 213.4 " clip-path="url(#pb112d19d81)" style="fill: none; stroke-dasharray: 1.5,2.475; stroke-dashoffset: 0; stroke: #1f9e89; stroke-opacity: 0.6; stroke-width: 1.5"/>
</g>
<g id="line2d_27">
<path d="M 76.2 235.1 L 78.6 248.4 L 81 258.7 L 83.4 264.9 L 85.8 269.5 L 88.2 275 L 90.6 281 L 93 286.1 L 95.4 289.4 L 97.8 291.3 L 100.2 292.1 L 102.6 292.2 L 105 291.9 L 107.4 291.4 L 112.2 290.1 L 119.4 287.9 L 121.8 287.1 L 124.2 286.1 L 126.6 284.8 L 131.4 281.8 L 133.8 280.9 L 136.2 281.2 L 138.6 282.4 L 141 284.3 L 145.8 288.8 L 148.2 290.7 L 150.6 292.5 L 153 294 L 157.8 296.7 L 160.3 297.8 L 162.7 298.8 L 165.1 299.4 L 167.5 299.7 L 169.9 299.5 L 172.3 298.9 L 174.7 297.8 L 177.1 296.3 L 179.5 294.4 L 181.9 292 L 186.7 286.7 L 189.1 284.3 L 191.5 282.3 L 193.9 281 L 196.3 280.4 L 198.7 280.4 L 201.1 280.9 L 203.5 281.9 L 205.9 283.4 L 208.3 285.3 L 210.7 287.7 L 213.1 290.5 L 215.5 293.9 L 217.9 297.8 L 220.3 301.3 L 222.7 304 L 225.1 305.4 L 227.5 305.9 L 229.9 305.4 L 232.3 303.6 L 234.7 300.5 L 237.1 296.7 L 239.5 292.2 L 241.9 287.2 L 246.7 277.9 L 249.1 272.9 L 251.5 266.9 L 253.9 259.4 L 256.3 251.2 L 258.7 243.6 L 261.1 237.5 L 263.5 232.6 L 265.9 228.7 L 268.3 225.5 L 270.7 223 L 273.1 221.1 L 275.5 219.9 L 277.9 219.3 L 280.3 219.2 L 282.8 219.6 L 285.2 220.5 L 287.6 221.8 L 290 223.5 L 292.4 225.6 L 297.2 230.1 L 302 234.7 L 306.8 238.8 L 309.2 240.6 L 311.6 242.2 L 314 243.4 L 316.4 244.2 L 318.8 244.5 L 321.2 244.2 L 323.6 243.3 L 328.4 240.9 L 330.8 239.6 L 333.2 238.7 L 335.6 238.3 L 338 238.3 L 340.4 238.9 L 342.8 239.8 L 345.2 241.1 L 347.6 242.8 L 350 244.7 L 354.8 249.1 L 362 255.7 L 366.8 259.8 L 371.6 263.8 L 374 265.9 L 376.4 268.3 L 378.8 271 L 383.6 276.8 L 388.4 282.9 L 395.6 291.4 L 407.7 305.6 L 410.1 307.8 L 412.5 309.6 L 414.9 310.7 L 417.3 310.7 L 419.7 308.8 L 422.1 304.2 L 424.5 297.1 L 426.9 289.2 L 429.3 281.8 L 431.7 275.2 L 434.1 269.2 L 436.5 263.7 L 438.9 258.6 L 441.3 253.9 L 443.7 249.9 L 446.1 246.5 L 448.5 243.9 L 450.9 242.2 L 453.3 241.6 L 455.7 242.1 L 458.1 243.6 L 460.5 246 L 462.9 249 L 465.3 252.6 L 467.7 256.6 L 470.1 260.8 L 472.5 265.4 L 474.9 270.4 L 477.3 275.9 L 479.7 282 L 482.1 288.8 L 484.5 296.4 L 491.7 320.7 L 494.1 328 L 496.5 334.2 L 498.9 339 L 501.3 342 L 503.7 343.2 L 506.1 343.1 L 508.5 342 L 513.3 339.3 L 515.7 338.5 L 518.1 338.7 L 520.5 340.2 L 522.9 342.6 L 525.3 345.8 L 527.8 349.5 L 535 361.2 L 537.4 364.8 L 539.8 368 L 542.2 370.6 L 544.6 372.7 L 547 374 L 549.4 374.4 L 551.8 374 L 554.2 373 L 556.6 371.5 L 559 369.6 L 566.2 363.3 L 568.6 361.5 L 571 359.9 L 573.4 358.8 L 575.8 358.1 L 578.2 357.7 L 580.6 357.7 L 583 358 L 585.4 358.7 L 587.8 359.7 L 590.2 360.8 L 595 363.5 L 599.8 366.2 L 602.2 367.4 L 604.6 368.4 L 607 369.2 L 609.4 369.6 L 611.8 369.6 L 614.2 369.2 L 616.6 368.2 L 619 366.6 L 621.4 364.2 L 623.8 361 L 626.2 356.9 L 628.6 351.9 L 631 345.7 L 633.4 338.2 L 635.8 329.3 L 638.2 318.6 L 640.6 306.2 L 643 292.1 L 647.8 262.6 L 650.3 249 L 652.7 236.8 L 655.1 226.1 L 657.5 216.5 L 659.9 208 L 662.3 200.4 L 664.7 193.6 L 667.1 187.7 L 669.5 182.6 L 671.9 178.3 L 674.3 174.7 L 676.7 171.7 L 679.1 169.5 L 681.5 167.9 L 683.9 166.8 L 686.3 166.4 L 688.7 166.6 L 691.1 167.2 L 693.5 168.1 L 703.1 172.6 L 705.5 173.3 L 707.9 173.5 L 710.3 173.1 L 712.7 172.2 L 715.1 170.6 L 717.5 168.5 L 719.9 165.8 L 722.3 162.6 L 724.7 158.7 L 729.5 150.1 L 734.3 141.4 L 736.7 137.5 L 739.1 134.1 L 741.5 131.4 L 743.9 129.4 L 746.3 127.9 L 753.5 124.4 L 755.9 122.9 L 765.5 116.6 L 767.9 115.3 L 770.3 114.4 L 772.7 113.8 L 775.2 113.8 L 777.6 114.3 L 780 115.4 L 782.4 117.1 L 784.8 119.3 L 787.2 122.1 L 789.6 125.3 L 792 129.1 L 796.8 137.3 L 801.6 145.5 L 804 149.2 L 806.4 152.4 L 808.8 155.1 L 811.2 157.4 L 813.6 159.2 L 816 160.6 L 818.4 161.7 L 820.8 162.5 L 823.2 163.1 L 825.6 163.3 L 828 163.4 L 830.4 163.1 L 832.8 162.7 L 835.2 162 L 837.6 161 L 840 159.9 L 842.4 158.6 L 847.2 155.5 L 859.2 147.1 L 861.6 145.6 L 864 144.3 L 866.4 143.2 L 868.8 142.3 L 871.2 141.5 L 873.6 140.9 L 876 140.5 L 878.4 140.1 L 883.2 139.8 L 888 139.8 L 890.4 140 L 892.8 140.4 L 895.2 140.9 L 897.7 141.5 L 900.1 142.4 L 902.5 143.5 L 907.3 146.1 L 909.7 147 L 912.1 147.2 L 914.5 146.5 L 916.9 144.9 L 919.3 142.6 L 921.7 139.6 L 924.1 136 L 926.5 132.1 L 931.3 123.6 L 936.1 114.9 L 938.5 110.8 L 940.9 106.9 L 943.3 103.4 L 945.7 100.3 L 948.1 97.8 L 950.5 96 L 952.9 95 L 955.3 94.8 L 957.7 95.5 L 960.1 96.9 L 962.5 99 L 964.9 101.6 L 967.3 104.5 L 979.3 120.2 L 984.1 125.8 L 988.9 131 L 993.7 135.6 L 996.1 137.7 L 998.5 139.7 L 1000.9 141.4 L 1003.3 143.1 L 1005.7 144.6 L 1008.1 145.9 L 1010.5 147.1 L 1012.9 148.1 L 1015.3 149 L 1017.7 149.7 L 1020.2 150.3 L 1022.6 150.7 L 1025 151 L 1027.4 151.1 L 1029.8 151.1 L 1032.2 151 L 1034.6 150.7 L 1037 150.2 L 1039.4 149.6 L 1041.8 148.9 L 1044.2 148 L 1046.6 146.9 L 1049 145.7 L 1051.4 144.4 L 1053.8 142.9 L 1056.2 141.3 L 1058.6 139.5 L 1063.4 135.5 L 1068.2 130.9 L 1073 125.9 L 1077.8 120.4 L 1082.6 114.6 L 1087.4 108.4 L 1094.6 98.7 L 1106.6 82.4 L 1109 79.4 L 1111.4 76.5 L 1113.8 73.9 L 1116.2 71.6 L 1118.6 69.5 L 1121 67.9 L 1123.4 66.6 L 1125.8 65.8 L 1128.2 65.5 L 1130.6 65.5 L 1133 65.9 L 1135.4 66.7 L 1137.8 68 L 1140.2 69.8 L 1142.7 72.4 L 1145.1 75.9 L 1147.5 80.3 L 1149.9 85.6 L 1152.3 91.7 L 1159.5 110.9 L 1161.9 116.8 L 1164.3 122.3 L 1166.7 127.1 L 1169.1 131.4 L 1171.5 134.8 L 1173.9 137.4 L 1176.3 139.2 L 1178.7 140.5 L 1181.1 141.2 L 1183.5 141.4 L 1185.9 141.2 L 1188.3 140.8 L 1190.7 140.2 L 1195.5 138.6 L 1200.3 136.6 L 1207.5 133.3 L 1214.7 130 L 1219.5 128.1 L 1224.3 126.4 L 1231.5 124.1 L 1233.9 123.5 L 1236.3 123.3 L 1238.7 124.2 L 1241.1 126.6 L 1243.5 131 L 1245.9 137.4 L 1248.3 145.8 L 1250.7 156.2 L 1253.1 168.5 L 1255.5 181.7 L 1255.5 181.7 " clip-path="url(#pb112d19d81)" style="fill: none; stroke-dasharray: 1.5,2.475; stroke-dashoffset: 0; stroke: #1f9e89; stroke-opacity: 0.6; stroke-width: 1.5"/>
</g>
<g id="line2d_28">
<path d="M 76.2 311.4 L 81 307.1 L 83.4 305.2 L 85.8 303.4 L 90.6 300.3 L 93 298.3 L 95.4 295.6 L 97.8 291.7 L 100.2 286.4 L 105 274.8 L 107.4 270.2 L 109.8 267.2 L 112.2 265.6 L 114.6 264.7 L 117 263.9 L 119.4 263 L 121.8 261.9 L 124.2 260.6 L 126.6 259 L 129 257.2 L 136.2 251.1 L 138.6 249.4 L 141 248.1 L 143.4 247.2 L 145.8 246.7 L 148.2 246.5 L 150.6 246.8 L 153 247.3 L 155.4 248.1 L 157.8 249.2 L 162.7 251.6 L 167.5 254.1 L 169.9 255.1 L 172.3 255.8 L 174.7 256.2 L 177.1 256.2 L 179.5 255.8 L 181.9 255.2 L 189.1 252.8 L 193.9 251 L 196.3 249.9 L 198.7 248.6 L 208.3 242.7 L 210.7 241.6 L 213.1 240.8 L 215.5 240.3 L 217.9 239.9 L 220.3 239.8 L 222.7 239.7 L 225.1 239.8 L 227.5 239.9 L 229.9 240.3 L 232.3 240.7 L 239.5 242.5 L 241.9 242.8 L 244.3 242.7 L 246.7 242.2 L 249.1 241 L 251.5 239.4 L 256.3 235.6 L 258.7 233.9 L 261.1 232.7 L 263.5 232 L 265.9 231.9 L 268.3 232.2 L 270.7 232.9 L 273.1 233.8 L 282.8 237.9 L 287.6 240.1 L 292.4 242.6 L 297.2 245.1 L 299.6 246 L 302 246.7 L 304.4 246.9 L 306.8 246.5 L 309.2 245.6 L 316.4 241.9 L 318.8 241.1 L 321.2 240.8 L 323.6 241 L 326 241.7 L 328.4 242.9 L 330.8 244.5 L 333.2 246.3 L 338 250.5 L 345.2 257.2 L 347.6 259.3 L 350 261.1 L 352.4 262.6 L 354.8 263.7 L 357.2 264.3 L 359.6 264.3 L 362 263.7 L 364.4 262.6 L 366.8 261.1 L 369.2 259.3 L 371.6 257.3 L 374 255.1 L 376.4 252.8 L 381.2 247.6 L 388.4 239.4 L 390.8 237.1 L 393.2 235.3 L 395.6 234.2 L 398 233.7 L 400.4 233.6 L 410.1 234.1 L 412.5 234.5 L 414.9 235.6 L 417.3 237.5 L 419.7 240.1 L 422.1 242 L 424.5 242.4 L 426.9 241.8 L 434.1 238.2 L 436.5 237.4 L 438.9 237 L 441.3 236.9 L 443.7 237.2 L 446.1 237.9 L 448.5 239 L 450.9 240.4 L 453.3 242.3 L 455.7 244.5 L 458.1 247.2 L 467.7 259 L 470.1 261.1 L 472.5 262.7 L 474.9 263.6 L 477.3 263.9 L 479.7 263.9 L 482.1 263.4 L 484.5 262.6 L 489.3 260.6 L 494.1 258.5 L 496.5 257.6 L 498.9 256.9 L 501.3 256.6 L 506.1 256.6 L 508.5 256.6 L 510.9 256.3 L 513.3 255.5 L 515.7 254.2 L 522.9 249.4 L 525.3 248.3 L 527.8 247.8 L 530.2 247.9 L 532.6 248.6 L 535 249.7 L 537.4 251.3 L 539.8 253.1 L 544.6 257.3 L 549.4 261.4 L 551.8 263.2 L 554.2 264.6 L 556.6 265.6 L 559 266.3 L 561.4 266.7 L 563.8 266.6 L 566.2 266.3 L 568.6 265.5 L 571 264.5 L 573.4 263.1 L 578.2 259.8 L 583 256.4 L 585.4 254.8 L 587.8 253.4 L 590.2 252.2 L 592.6 251.2 L 597.4 249.5 L 602.2 248.1 L 611.8 245.6 L 616.6 244.3 L 619 243.8 L 621.4 243.5 L 623.8 243.4 L 626.2 243.6 L 628.6 244.1 L 631 245 L 633.4 246.2 L 635.8 247.7 L 638.2 249.4 L 640.6 251.2 L 645.4 255.4 L 650.3 259.6 L 652.7 261.6 L 655.1 263.3 L 657.5 264.7 L 659.9 265.7 L 662.3 266.2 L 664.7 266.1 L 667.1 265.5 L 669.5 264.4 L 671.9 263 L 676.7 259.6 L 681.5 256.2 L 683.9 254.8 L 686.3 253.7 L 688.7 253 L 691.1 252.4 L 698.3 251.2 L 700.7 250.6 L 703.1 249.8 L 705.5 248.8 L 707.9 247.4 L 717.5 241.4 L 719.9 240.1 L 722.3 239.2 L 724.7 238.5 L 727.1 238.1 L 729.5 238 L 731.9 238.1 L 736.7 238.6 L 746.3 240 L 751.1 240.5 L 755.9 240.5 L 758.3 240.4 L 760.7 240.2 L 763.1 239.8 L 767.9 238.7 L 775.2 236.5 L 780 235 L 784.8 233.8 L 787.2 233.4 L 789.6 233 L 792 232.9 L 794.4 232.9 L 796.8 233.1 L 801.6 233.7 L 808.8 235.1 L 816 236.5 L 820.8 237.1 L 823.2 237.2 L 825.6 237.1 L 828 236.7 L 830.4 236.1 L 832.8 235.2 L 835.2 233.9 L 837.6 232.2 L 840 230.3 L 842.4 228.1 L 847.2 223.3 L 852 218.5 L 854.4 216.2 L 856.8 214.1 L 859.2 212.3 L 861.6 210.7 L 864 209.4 L 866.4 208.3 L 871.2 206.5 L 883.2 202.8 L 888 200.7 L 895.2 197.4 L 897.7 196.4 L 900.1 195.7 L 902.5 195.2 L 904.9 194.9 L 907.3 195.1 L 909.7 195.6 L 912.1 196.6 L 914.5 198.1 L 916.9 200 L 926.5 208.4 L 933.7 214.1 L 936.1 216.1 L 938.5 218.4 L 940.9 221 L 948.1 229.9 L 950.5 232.4 L 952.9 234.4 L 955.3 235.5 L 957.7 235.6 L 960.1 234.5 L 962.5 232.6 L 964.9 230 L 967.3 227 L 972.1 220.7 L 974.5 217.8 L 976.9 215.4 L 979.3 213.7 L 981.7 212.9 L 984.1 212.8 L 986.5 213.6 L 988.9 215 L 991.3 217.2 L 993.7 220.1 L 996.1 223.5 L 1000.9 231.2 L 1003.3 235.1 L 1005.7 238.7 L 1008.1 241.8 L 1010.5 244.6 L 1012.9 247 L 1015.3 249 L 1017.7 250.9 L 1022.6 254.2 L 1032.2 260.4 L 1034.6 261.8 L 1037 263 L 1039.4 264 L 1041.8 264.8 L 1044.2 265.2 L 1046.6 265.3 L 1049 265 L 1051.4 264.2 L 1053.8 263.1 L 1056.2 261.6 L 1058.6 259.8 L 1061 257.7 L 1063.4 255.4 L 1068.2 250.2 L 1077.8 239.4 L 1080.2 237.1 L 1082.6 235.1 L 1085 233.5 L 1087.4 232.4 L 1089.8 231.5 L 1099.4 228.5 L 1109 225.1 L 1111.4 224.4 L 1113.8 223.9 L 1116.2 223.5 L 1118.6 223.3 L 1121 223.4 L 1123.4 223.8 L 1125.8 224.6 L 1128.2 225.9 L 1130.6 227.6 L 1133 230 L 1135.4 232.9 L 1137.8 236.3 L 1147.5 250.7 L 1149.9 253.8 L 1152.3 256.2 L 1154.7 257.9 L 1157.1 259.1 L 1159.5 259.8 L 1161.9 260.2 L 1164.3 260.3 L 1169.1 260.3 L 1171.5 260.4 L 1176.3 261.1 L 1183.5 262.4 L 1185.9 262.6 L 1188.3 262.7 L 1195.5 262.5 L 1197.9 262.8 L 1200.3 263.5 L 1202.7 264.6 L 1205.1 266.4 L 1207.5 268.8 L 1209.9 271.7 L 1212.3 275 L 1214.7 278.7 L 1219.5 286.4 L 1224.3 294.2 L 1226.7 297.9 L 1229.1 301.4 L 1231.5 304.5 L 1233.9 307.3 L 1236.3 309.7 L 1238.7 311.6 L 1241.1 313 L 1243.5 314 L 1245.9 314.4 L 1248.3 314.4 L 1250.7 313.9 L 1253.1 313 L 1255.5 312.1 L 1255.5 312.1 " clip-path="url(#pb112d19d81)" style="fill: none; stroke-dasharray: 1.5,2.475; stroke-dashoffset: 0; stroke: #fde725; stroke-opacity: 0.6; stroke-width: 1.5"/>
</g>
<g id="line2d_29">
<path d="M 76.2 237.4 L 81 238.7 L 83.4 239.6 L 85.8 240.7 L 88.2 242 L 93 245 L 95.4 246.1 L 97.8 246.8 L 100.2 246.8 L 102.6 246.3 L 107.4 244.9 L 109.8 244.4 L 112.2 244.5 L 114.6 244.9 L 119.4 246.2 L 121.8 246.9 L 126.6 247.9 L 145.8 251 L 150.6 251.5 L 157.8 251.8 L 160.3 252.1 L 162.7 252.7 L 165.1 253.7 L 169.9 256.2 L 172.3 257.5 L 174.7 258.7 L 177.1 259.5 L 186.7 262.3 L 191.5 264.3 L 196.3 266.3 L 198.7 267 L 201.1 267.5 L 203.5 267.8 L 208.3 267.9 L 220.3 267.9 L 222.7 268 L 225.1 268.3 L 227.5 268.7 L 229.9 269.2 L 232.3 270 L 234.7 271 L 244.3 275.3 L 246.7 276.1 L 249.1 276.6 L 251.5 276.7 L 253.9 276.5 L 256.3 276.2 L 258.7 275.5 L 261.1 274.7 L 263.5 273.8 L 268.3 271.4 L 273.1 268.7 L 277.9 265.8 L 282.8 262.4 L 287.6 258.6 L 290 256.4 L 292.4 254.2 L 297.2 249.2 L 299.6 246.6 L 302 244.3 L 304.4 242.3 L 306.8 240.7 L 309.2 239.7 L 311.6 239.5 L 314 240.2 L 316.4 241.7 L 318.8 243.7 L 326 250.4 L 335.6 259.1 L 340.4 263.8 L 352.4 276 L 354.8 278.2 L 357.2 280.3 L 359.6 282.1 L 362 283.6 L 364.4 284.8 L 366.8 285.9 L 371.6 287.6 L 378.8 290.1 L 383.6 291.8 L 390.8 294.8 L 398 298.1 L 407.7 302.6 L 412.5 304.6 L 414.9 305.3 L 417.3 305.9 L 419.7 306.2 L 424.5 306.3 L 431.7 306.1 L 434.1 306.2 L 436.5 306.3 L 441.3 307 L 446.1 307.8 L 448.5 308 L 450.9 308.2 L 453.3 308.1 L 455.7 307.8 L 458.1 307.2 L 460.5 306.4 L 462.9 305.2 L 465.3 303.7 L 467.7 301.8 L 470.1 299.7 L 472.5 297.2 L 477.3 291.6 L 484.5 282.8 L 489.3 277.4 L 494.1 272.5 L 496.5 270.4 L 498.9 268.4 L 501.3 266.6 L 503.7 265 L 506.1 263.6 L 508.5 262.3 L 510.9 261.2 L 513.3 260.2 L 518.1 258.6 L 520.5 257.9 L 522.9 256.9 L 525.3 255.5 L 527.8 253.3 L 530.2 250.2 L 532.6 245.8 L 535 240 L 537.4 233.3 L 542.2 218.9 L 544.6 212.1 L 547 206 L 549.4 200.7 L 551.8 196.1 L 554.2 192.4 L 556.6 189.5 L 559 187.4 L 561.4 186 L 563.8 185.4 L 566.2 185.3 L 568.6 185.6 L 571 186.3 L 573.4 187.5 L 575.8 189.2 L 578.2 191.7 L 580.6 195 L 583 199.2 L 585.4 204.3 L 587.8 209.9 L 595 227.7 L 597.4 233.2 L 599.8 238 L 602.2 242.1 L 604.6 245.5 L 607 248.3 L 609.4 250.3 L 611.8 251.6 L 614.2 252.2 L 616.6 252.1 L 619 251.4 L 621.4 250.1 L 623.8 248.4 L 626.2 246.5 L 631 242 L 635.8 237.7 L 652.7 223 L 657.5 218.3 L 669.5 206.2 L 671.9 203.9 L 674.3 201.9 L 676.7 200 L 679.1 198.5 L 681.5 197.2 L 683.9 196.4 L 686.3 196 L 688.7 196 L 691.1 196.2 L 693.5 196.7 L 695.9 197.4 L 698.3 198.3 L 703.1 200.5 L 710.3 204 L 724.7 211.3 L 729.5 213.5 L 734.3 215.3 L 736.7 216.1 L 739.1 216.7 L 741.5 217.1 L 743.9 217.3 L 746.3 217.4 L 748.7 217.3 L 751.1 216.9 L 753.5 216.5 L 755.9 215.8 L 758.3 215 L 763.1 213 L 772.7 208.5 L 775.2 207.6 L 777.6 206.8 L 780 206.2 L 782.4 205.8 L 784.8 205.7 L 787.2 205.9 L 789.6 206.4 L 792 207.3 L 794.4 208.6 L 796.8 210 L 799.2 211.7 L 801.6 213.6 L 806.4 217.8 L 818.4 229 L 820.8 230.9 L 823.2 232.6 L 825.6 233.9 L 828 234.8 L 830.4 235.3 L 832.8 235.3 L 835.2 234.7 L 837.6 233.6 L 840 232.1 L 842.4 230.3 L 844.8 228.3 L 859.2 215.3 L 864 211.6 L 866.4 210 L 868.8 208.6 L 871.2 207.4 L 873.6 206.3 L 876 205.6 L 878.4 205 L 880.8 204.9 L 883.2 205.1 L 885.6 205.9 L 888 207.3 L 890.4 209.3 L 892.8 212.1 L 895.2 215.7 L 897.7 220 L 900.1 224.7 L 907.3 239.8 L 909.7 244.3 L 912.1 248.3 L 914.5 251.6 L 916.9 254.1 L 919.3 255.9 L 921.7 256.9 L 924.1 257.2 L 926.5 256.8 L 928.9 255.7 L 931.3 254.1 L 933.7 252 L 936.1 249.4 L 938.5 246.6 L 943.3 240.5 L 948.1 234.4 L 950.5 231.6 L 952.9 229.1 L 955.3 226.9 L 957.7 225 L 960.1 223.5 L 962.5 222.2 L 964.9 221.1 L 967.3 220.2 L 969.7 219.4 L 974.5 218.3 L 981.7 217 L 988.9 215.6 L 993.7 214.4 L 996.1 213.6 L 1000.9 211.7 L 1012.9 206.3 L 1015.3 205.4 L 1017.7 204.7 L 1020.2 204.2 L 1022.6 204 L 1025 204.1 L 1027.4 204.4 L 1029.8 204.9 L 1032.2 205.7 L 1034.6 206.6 L 1039.4 208.8 L 1046.6 212.6 L 1053.8 216.3 L 1058.6 218.5 L 1061 219.4 L 1063.4 220.1 L 1065.8 220.6 L 1068.2 221 L 1070.6 221.2 L 1073 221.2 L 1075.4 221 L 1077.8 220.7 L 1080.2 220.2 L 1082.6 219.5 L 1085 218.8 L 1089.8 216.9 L 1106.6 209.7 L 1111.4 208.2 L 1113.8 207.6 L 1116.2 207.1 L 1118.6 206.8 L 1121 206.7 L 1123.4 206.7 L 1125.8 207 L 1128.2 207.4 L 1130.6 208 L 1133 208.9 L 1135.4 209.9 L 1137.8 211.2 L 1142.7 214.2 L 1147.5 217.3 L 1149.9 218.7 L 1152.3 219.7 L 1154.7 220.3 L 1157.1 220.4 L 1159.5 220 L 1161.9 219.2 L 1164.3 218 L 1166.7 216.5 L 1173.9 211.9 L 1176.3 210.5 L 1178.7 209.4 L 1181.1 208.5 L 1185.9 207 L 1193.1 205.4 L 1202.7 203.3 L 1205.1 202.9 L 1207.5 202.7 L 1209.9 202.8 L 1212.3 203.1 L 1214.7 203.6 L 1217.1 204.4 L 1219.5 205.4 L 1221.9 206.6 L 1224.3 207.9 L 1229.1 211 L 1233.9 214.4 L 1238.7 218.3 L 1241.1 220.5 L 1243.5 222.8 L 1245.9 225.3 L 1250.7 230.9 L 1255.5 236.9 L 1255.5 236.9 " clip-path="url(#pb112d19d81)" style="fill: none; stroke-dasharray: 1.5,2.475; stroke-dashoffset: 0; stroke: #fde725; stroke-opacity: 0.6; stroke-width: 1.5"/>
</g>
<g id="line2d_30">
<path d="M 134.1 386.3 L 134.1 2.1 " clip-path="url(#pb112d19d81)" style="fill: none; stroke-dasharray: 1.7,1; stroke-dashoffset: 0; stroke: #262626"/>
</g>
<g id="line2d_31">
<path d="M 364.1 386.3 L 364.1 2.1 " clip-path="url(#pb112d19d81)" style="fill: none; stroke-dasharray: 1.7,1; stroke-dashoffset: 0; stroke: #262626"/>
</g>
<g id="line2d_32">
<path d="M 421.6 386.3 L 421.6 2.1 " clip-path="url(#pb112d19d81)" style="fill: none; stroke: #000000; stroke-width: 1.5; stroke-linecap: square"/>
</g>
<g id="patch_4">
<path d="M 47.9 386.3 L 47.9 2.1 " style="fill: none; stroke: #000000; stroke-width: 0.8; stroke-linejoin: miter; stroke-linecap: square"/>
</g>
<g id="patch_5">
<path d="M 47.9 386.3 L 1284.1 386.3 " style="fill: none; stroke: #000000; stroke-width: 0.8; stroke-linejoin: miter; stroke-linecap: square"/>
</g>
<g id="text_20">
<g id="patch_6">
<path d="M 143.1 218.1 L 143.1 170.7 L 125.2 170.7 L 125.2 218.1 z" style="fill: #ffffff"/>
</g>
<text style="font-size: 10.12px; font-family: 'DejaVu Sans', 'Bitstream Vera Sans', 'Computer Modern Sans Serif', 'Lucida Grande', 'Verdana', 'Geneva', 'Lucid', 'Arial', 'Helvetica', 'Avant Garde', sans-serif" transform="translate(136.918202 214.0834) rotate(-90)">BL start</text>
</g>
<g id="text_21">
<g id="patch_7">
<path d="M 373.1 215.9 L 373.1 172.9 L 355.2 172.9 L 355.2 215.9 z" style="fill: #ffffff"/>
</g>
<text style="font-size: 10.12px; font-family: 'DejaVu Sans', 'Bitstream Vera Sans', 'Computer Modern Sans Serif', 'Lucida Grande', 'Verdana', 'Geneva', 'Lucid', 'Arial', 'Helvetica', 'Avant Garde', sans-serif" transform="translate(366.917745 211.8317) rotate(-90)">BL end</text>
</g>
<g id="text_22">
<text style="font-weight: 700; font-size: 10.12px; font-family: 'DejaVu Sans', 'Bitstream Vera Sans', 'Computer Modern Sans Serif', 'Lucida Grande', 'Verdana', 'Geneva', 'Lucid', 'Arial', 'Helvetica', 'Avant Garde', sans-serif; text-anchor: middle" x="780.999429" y="34.981528" transform="rotate(-0 780.999429 34.981528)">Trial average</text>
</g>
<g id="legend_1">
<g id="patch_8">
<path d="M 54.9 54.7 L 154.6 54.7 Q 156.6 54.7 156.6 52.7 L 156.6 9.1 Q 156.6 7.1 154.6 7.1 L 54.9 7.1 Q 52.9 7.1 52.9 9.1 L 52.9 52.7 Q 52.9 54.7 54.9 54.7 z" style="fill: #ffffff; opacity: 0.8; stroke: #cccccc; stroke-linejoin: miter"/>
</g>
<g id="line2d_33">
<path d="M 57 15.3 L 67.1 15.3 L 77.2 15.3 " style="fill: none; stroke: #440154; stroke-opacity: 0.6; stroke-width: 1.5; stroke-linecap: square"/>
</g>
<g id="text_23">
<text style="font-size: 10.12px; font-family: 'DejaVu Sans', 'Bitstream Vera Sans', 'Computer Modern Sans Serif', 'Lucida Grande', 'Verdana', 'Geneva', 'Lucid', 'Arial', 'Helvetica', 'Avant Garde', sans-serif; text-anchor: start" x="85.306857" y="18.854762" transform="rotate(-0 85.306857 18.854762)">visual</text>
</g>
<g id="line2d_34">
<path d="M 57 30.2 L 67.1 30.2 L 77.2 30.2 " style="fill: none; stroke: #1f9e89; stroke-opacity: 0.6; stroke-width: 1.5; stroke-linecap: square"/>
</g>
<g id="text_24">
<text style="font-size: 10.12px; font-family: 'DejaVu Sans', 'Bitstream Vera Sans', 'Computer Modern Sans Serif', 'Lucida Grande', 'Verdana', 'Geneva', 'Lucid', 'Arial', 'Helvetica', 'Avant Garde', sans-serif; text-anchor: start" x="85.306857" y="33.709024" transform="rotate(-0 85.306857 33.709024)">auditiv-visual</text>
</g>
<g id="line2d_35">
<path d="M 57 45 L 67.1 45 L 77.2 45 " style="fill: none; stroke: #fde725; stroke-opacity: 0.6; stroke-width: 1.5; stroke-linecap: square"/>
</g>
<g id="text_25">
<text style="font-size: 10.12px; font-family: 'DejaVu Sans', 'Bitstream Vera Sans', 'Computer Modern Sans Serif', 'Lucida Grande', 'Verdana', 'Geneva', 'Lucid', 'Arial', 'Helvetica', 'Avant Garde', sans-serif; text-anchor: start" x="85.306857" y="48.563287" transform="rotate(-0 85.306857 48.563287)">auditiv</text>
</g>
</g>
<g id="legend_2">
<g id="patch_9">
<path d="M 1222.6 39.9 L 1277.1 39.9 Q 1279.1 39.9 1279.1 37.8 L 1279.1 9.1 Q 1279.1 7.1 1277.1 7.1 L 1222.6 7.1 Q 1220.6 7.1 1220.6 9.1 L 1220.6 37.8 Q 1220.6 39.9 1222.6 39.9 z" style="fill: #ffffff; opacity: 0.8; stroke: #cccccc; stroke-linejoin: miter"/>
</g>
<g id="line2d_36">
<path d="M 1224.6 15.3 L 1234.7 15.3 L 1244.9 15.3 " style="fill: none; stroke: #000000; stroke-width: 1.5; stroke-linecap: square"/>
</g>
<g id="text_26">
<text style="font-size: 10.12px; font-family: 'DejaVu Sans', 'Bitstream Vera Sans', 'Computer Modern Sans Serif', 'Lucida Grande', 'Verdana', 'Geneva', 'Lucid', 'Arial', 'Helvetica', 'Avant Garde', sans-serif; text-anchor: start" x="1252.965962" y="18.854762" transform="rotate(-0 1252.965962 18.854762)">high</text>
</g>
<g id="line2d_37">
<path d="M 1224.6 30.2 L 1234.7 30.2 L 1244.9 30.2 " style="fill: none; stroke-dasharray: 1.5,2.475; stroke-dashoffset: 0; stroke: #000000; stroke-width: 1.5"/>
</g>
<g id="text_27">
<text style="font-size: 10.12px; font-family: 'DejaVu Sans', 'Bitstream Vera Sans', 'Computer Modern Sans Serif', 'Lucida Grande', 'Verdana', 'Geneva', 'Lucid', 'Arial', 'Helvetica', 'Avant Garde', sans-serif; text-anchor: start" x="1252.965962" y="33.709024" transform="rotate(-0 1252.965962 33.709024)">low</text>
</g>
</g>
</g>
<g id="axes_2">
<g id="patch_10">
<path d="M 415.2 889.3 L 1273.7 889.3 L 1273.7 510.9 L 415.2 510.9 z" style="fill: #ffffff"/>
</g>
<g id="patch_11">
<path d="M 558.3 889.3 L 987.5 889.3 L 987.5 510.9 L 558.3 510.9 z" clip-path="url(#p2e0bae5d63)" style="fill: #808080; fill-opacity: 0.055; stroke-opacity: 0.055; stroke: #808080; stroke-linejoin: miter"/>
</g>
<g id="matplotlib.axis_3">
<g id="xtick_10">
<g id="line2d_38">
<g>
<use href="#m1504cfccaf" x="415.2" y="889.302857" style="stroke: #000000; stroke-width: 0.8"/>
</g>
</g>
<g id="text_28">
<text style="font-size: 9.92px; font-family: 'DejaVu Sans', 'Bitstream Vera Sans', 'Computer Modern Sans Serif', 'Lucida Grande', 'Verdana', 'Geneva', 'Lucid', 'Arial', 'Helvetica', 'Avant Garde', sans-serif; text-anchor: middle" x="415.2" y="903.840507" transform="rotate(-0 415.2 903.840507)">0</text>
</g>
</g>
<g id="xtick_11">
<g id="line2d_39">
<g>
<use href="#m1504cfccaf" x="558.285714" y="889.302857" style="stroke: #000000; stroke-width: 0.8"/>
</g>
</g>
<g id="text_29">
<text style="font-size: 9.92px; font-family: 'DejaVu Sans', 'Bitstream Vera Sans', 'Computer Modern Sans Serif', 'Lucida Grande', 'Verdana', 'Geneva', 'Lucid', 'Arial', 'Helvetica', 'Avant Garde', sans-serif; text-anchor: middle" x="558.285714" y="903.840507" transform="rotate(-0 558.285714 903.840507)">5</text>
</g>
</g>
<g id="xtick_12">
<g id="line2d_40">
<g>
<use href="#m1504cfccaf" x="701.371429" y="889.302857" style="stroke: #000000; stroke-width: 0.8"/>
</g>
</g>
<g id="text_30">
<text style="font-size: 9.92px; font-family: 'DejaVu Sans', 'Bitstream Vera Sans', 'Computer Modern Sans Serif', 'Lucida Grande', 'Verdana', 'Geneva', 'Lucid', 'Arial', 'Helvetica', 'Avant Garde', sans-serif; text-anchor: middle" x="701.371429" y="903.840507" transform="rotate(-0 701.371429 903.840507)">10</text>
</g>
</g>
<g id="xtick_13">
<g id="line2d_41">
<g>
<use href="#m1504cfccaf" x="844.457143" y="889.302857" style="stroke: #000000; stroke-width: 0.8"/>
</g>
</g>
<g id="text_31">
<text style="font-size: 9.92px; font-family: 'DejaVu Sans', 'Bitstream Vera Sans', 'Computer Modern Sans Serif', 'Lucida Grande', 'Verdana', 'Geneva', 'Lucid', 'Arial', 'Helvetica', 'Avant Garde', sans-serif; text-anchor: middle" x="844.457143" y="903.840507" transform="rotate(-0 844.457143 903.840507)">15</text>
</g>
</g>
<g id="xtick_14">
<g id="line2d_42">
<g>
<use href="#m1504cfccaf" x="987.542857" y="889.302857" style="stroke: #000000; stroke-width: 0.8"/>
</g>
</g>
<g id="text_32">
<text style="font-size: 9.92px; font-family: 'DejaVu Sans', 'Bitstream Vera Sans', 'Computer Modern Sans Serif', 'Lucida Grande', 'Verdana', 'Geneva', 'Lucid', 'Arial', 'Helvetica', 'Avant Garde', sans-serif; text-anchor: middle" x="987.542857" y="903.840507" transform="rotate(-0 987.542857 903.840507)">20</text>
</g>
</g>
<g id="xtick_15">
<g id="line2d_43">
<g>
<use href="#m1504cfccaf" x="1130.628571" y="889.302857" style="stroke: #000000; stroke-width: 0.8"/>
</g>
</g>
<g id="text_33">
<text style="font-size: 9.92px; font-family: 'DejaVu Sans', 'Bitstream Vera Sans', 'Computer Modern Sans Serif', 'Lucida Grande', 'Verdana', 'Geneva', 'Lucid', 'Arial', 'Helvetica', 'Avant Garde', sans-serif; text-anchor: middle" x="1130.628571" y="903.840507" transform="rotate(-0 1130.628571 903.840507)">25</text>
</g>
</g>
<g id="xtick_16">
<g id="line2d_44">
<g>
<use href="#m1504cfccaf" x="1273.714286" y="889.302857" style="stroke: #000000; stroke-width: 0.8"/>
</g>
</g>
<g id="text_34">
<text style="font-size: 9.92px; font-family: 'DejaVu Sans', 'Bitstream Vera Sans', 'Computer Modern Sans Serif', 'Lucida Grande', 'Verdana', 'Geneva', 'Lucid', 'Arial', 'Helvetica', 'Avant Garde', sans-serif; text-anchor: middle" x="1273.714286" y="903.840507" transform="rotate(-0 1273.714286 903.840507)">30</text>
</g>
</g>
<g id="text_35">
<text style="font-size: 9.92px; font-family: 'DejaVu Sans', 'Bitstream Vera Sans', 'Computer Modern Sans Serif', 'Lucida Grande', 'Verdana', 'Geneva', 'Lucid', 'Arial', 'Helvetica', 'Avant Garde', sans-serif; text-anchor: middle" x="844.457143" y="917.441207" transform="rotate(-0 844.457143 917.441207)">Time[s]</text>
</g>
</g>
<g id="matplotlib.axis_4">
<g id="ytick_9">
<g id="line2d_45">
<g>
<use href="#m5d545ce8f8" x="415.2" y="889.302857" style="stroke: #000000; stroke-width: 0.8"/>
</g>
</g>
<g id="text_36">
<text style="font-size: 9.92px; font-family: 'DejaVu Sans', 'Bitstream Vera Sans', 'Computer Modern Sans Serif', 'Lucida Grande', 'Verdana', 'Geneva', 'Lucid', 'Arial', 'Helvetica', 'Avant Garde', sans-serif; text-anchor: end" x="408.2" y="893.071682" transform="rotate(-0 408.2 893.071682)">0.00</text>
</g>
</g>
<g id="ytick_10">
<g id="line2d_46">
<g>
<use href="#m5d545ce8f8" x="415.2" y="841.822041" style="stroke: #000000; stroke-width: 0.8"/>
</g>
</g>
<g id="text_37">
<text style="font-size: 9.92px; font-family: 'DejaVu Sans', 'Bitstream Vera Sans', 'Computer Modern Sans Serif', 'Lucida Grande', 'Verdana', 'Geneva', 'Lucid', 'Arial', 'Helvetica', 'Avant Garde', sans-serif; text-anchor: end" x="408.2" y="845.590866" transform="rotate(-0 408.2 845.590866)">0.05</text>
</g>
</g>
<g id="ytick_11">
<g id="line2d_47">
<g>
<use href="#m5d545ce8f8" x="415.2" y="794.341224" style="stroke: #000000; stroke-width: 0.8"/>
</g>
</g>
<g id="text_38">
<text style="font-size: 9.92px; font-family: 'DejaVu Sans', 'Bitstream Vera Sans', 'Computer Modern Sans Serif', 'Lucida Grande', 'Verdana', 'Geneva', 'Lucid', 'Arial', 'Helvetica', 'Avant Garde', sans-serif; text-anchor: end" x="408.2" y="798.110049" transform="rotate(-0 408.2 798.110049)">0.10</text>
</g>
</g>
<g id="ytick_12">
<g id="line2d_48">
<g>
<use href="#m5d545ce8f8" x="415.2" y="746.860408" style="stroke: #000000; stroke-width: 0.8"/>
</g>
</g>
<g id="text_39">
<text style="font-size: 9.92px; font-family: 'DejaVu Sans', 'Bitstream Vera Sans', 'Computer Modern Sans Serif', 'Lucida Grande', 'Verdana', 'Geneva', 'Lucid', 'Arial', 'Helvetica', 'Avant Garde', sans-serif; text-anchor: end" x="408.2" y="750.629233" transform="rotate(-0 408.2 750.629233)">0.15</text>
</g>
</g>
<g id="ytick_13">
<g id="line2d_49">
<g>
<use href="#m5d545ce8f8" x="415.2" y="699.379592" style="stroke: #000000; stroke-width: 0.8"/>
</g>
</g>
<g id="text_40">
<text style="font-size: 9.92px; font-family: 'DejaVu Sans', 'Bitstream Vera Sans', 'Computer Modern Sans Serif', 'Lucida Grande', 'Verdana', 'Geneva', 'Lucid', 'Arial', 'Helvetica', 'Avant Garde', sans-serif; text-anchor: end" x="408.2" y="703.148417" transform="rotate(-0 408.2 703.148417)">0.20</text>
</g>
</g>
<g id="ytick_14">
<g id="line2d_50">
<g>
<use href="#m5d545ce8f8" x="415.2" y="651.898776" style="stroke: #000000; stroke-width: 0.8"/>
</g>
</g>
<g id="text_41">
<text style="font-size: 9.92px; font-family: 'DejaVu Sans', 'Bitstream Vera Sans', 'Computer Modern Sans Serif', 'Lucida Grande', 'Verdana', 'Geneva', 'Lucid', 'Arial', 'Helvetica', 'Avant Garde', sans-serif; text-anchor: end" x="408.2" y="655.667601" transform="rotate(-0 408.2 655.667601)">0.25</text>
</g>
</g>
<g id="ytick_15">
<g id="line2d_51">
<g>
<use href="#m5d545ce8f8" x="415.2" y="604.417959" style="stroke: #000000; stroke-width: 0.8"/>
</g>
</g>
<g id="text_42">
<text style="font-size: 9.92px; font-family: 'DejaVu Sans', 'Bitstream Vera Sans', 'Computer Modern Sans Serif', 'Lucida Grande', 'Verdana', 'Geneva', 'Lucid', 'Arial', 'Helvetica', 'Avant Garde', sans-serif; text-anchor: end" x="408.2" y="608.186784" transform="rotate(-0 408.2 608.186784)">0.30</text>
</g>
</g>
<g id="ytick_16">
<g id="line2d_52">
<g>
<use href="#m5d545ce8f8" x="415.2" y="556.937143" style="stroke: #000000; stroke-width: 0.8"/>
</g>
</g>
<g id="text_43">
<text style="font-size: 9.92px; font-family: 'DejaVu Sans', 'Bitstream Vera Sans', 'Computer Modern Sans Serif', 'Lucida Grande', 'Verdana', 'Geneva', 'Lucid', 'Arial', 'Helvetica', 'Avant Garde', sans-serif; text-anchor: end" x="408.2" y="560.705968" transform="rotate(-0 408.2 560.705968)">0.35</text>
</g>
</g>
<g id="text_44">
<text style="font-size: 9.92px; font-family: 'DejaVu Sans', 'Bitstream Vera Sans', 'Computer Modern Sans Serif', 'Lucida Grande', 'Verdana', 'Geneva', 'Lucid', 'Arial', 'Helvetica', 'Avant Garde', sans-serif; text-anchor: middle" x="380.04945" y="700.114286" transform="rotate(-90 380.04945 700.114286)">Force [a.u.]</text>
</g>
</g>
<g id="line2d_53">
<path d="M 415.2 853.7 L 416.1 853 L 416.9 853.7 L 417.8 854.3 L 418.6 852.8 L 419.5 852.7 L 420.4 854.8 L 422.1 852.7 L 422.9 852.8 L 423.8 854.6 L 426.4 805.6 L 428.1 776.3 L 429.8 741 L 430.7 744.7 L 431.5 756.8 L 433.2 772 L 434.1 771.9 L 434.9 767.4 L 435.8 758.7 L 436.7 745.3 L 437.5 735.4 L 438.4 729.5 L 439.2 724.9 L 440.1 723.8 L 441 712.2 L 441.8 702.7 L 442.7 704.1 L 443.5 714.1 L 445.2 741.2 L 446.1 734.3 L 447 735.7 L 447.8 743.2 L 448.7 743.8 L 449.5 734 L 450.4 722.1 L 452.1 735.9 L 453 719.1 L 453.8 718 L 454.7 720 L 455.6 729.9 L 456.4 726.4 L 457.3 712.9 L 458.1 723.9 L 459 726 L 459.8 718.4 L 460.7 706.7 L 461.6 712.7 L 462.4 712.3 L 463.3 713.3 L 464.1 705.2 L 465 701.1 L 465.9 706 L 466.7 711.7 L 467.6 701.6 L 468.4 698.9 L 469.3 701.7 L 470.1 703.4 L 471 709.7 L 471.9 710 L 472.7 702.1 L 473.6 697.6 L 474.4 704.1 L 475.3 714 L 476.2 707.9 L 477 706.3 L 477.9 699.8 L 478.7 715.8 L 479.6 716.3 L 480.4 703.7 L 481.3 707.9 L 482.2 715 L 483 719.7 L 483.9 710 L 484.7 711.4 L 485.6 721.3 L 486.5 723.6 L 487.3 713.5 L 488.2 714.7 L 489 721.3 L 489.9 725.4 L 490.7 711.6 L 491.6 704 L 492.5 717.1 L 493.3 721.4 L 494.2 718 L 495 711.9 L 495.9 708.4 L 496.8 714.7 L 497.6 722.8 L 498.5 710 L 499.3 705.7 L 501.1 717.7 L 501.9 716.2 L 502.8 707.6 L 503.6 705.4 L 504.5 712.9 L 505.3 721.9 L 506.2 706 L 507.1 707.4 L 507.9 708.2 L 508.8 714.7 L 509.6 715.1 L 510.5 713.2 L 511.4 706.3 L 512.2 710.5 L 513.1 720 L 513.9 716.6 L 514.8 708.9 L 515.6 714.6 L 516.5 722.3 L 517.4 718.9 L 518.2 707.4 L 519.1 707.1 L 519.9 731.1 L 521.7 709.8 L 522.5 709.8 L 523.4 720.2 L 524.2 722.2 L 525.1 711.3 L 526.8 720.9 L 527.7 721.6 L 528.5 721.1 L 529.4 713.7 L 530.2 720.6 L 531.1 721.2 L 532 730.8 L 532.8 723.5 L 533.7 713.7 L 534.5 726.2 L 535.4 720.7 L 536.3 712.9 L 537.1 711.6 L 538 718.1 L 538.8 725.7 L 539.7 728.1 L 540.5 716 L 541.4 710 L 542.3 710.5 L 543.1 722.6 L 544 726.9 L 544.8 719.1 L 545.7 712.5 L 546.6 723.4 L 547.4 726.6 L 548.3 712.9 L 549.1 708.7 L 550 723.2 L 550.8 721.5 L 551.7 713.6 L 552.6 712.4 L 553.4 724.7 L 554.3 724.8 L 555.1 708.5 L 556 713.5 L 556.9 719.6 L 557.7 723 L 558.6 710.2 L 559.4 711.1 L 560.3 718.5 L 561.1 724.4 L 562 719.2 L 562.9 715.1 L 563.7 707.4 L 564.6 712.3 L 565.4 718.3 L 566.3 715.3 L 567.2 705.5 L 568 708.8 L 568.9 716.4 L 569.7 718 L 570.6 704.7 L 571.4 699.1 L 573.2 720.7 L 574 706.3 L 574.9 695.6 L 575.7 711.2 L 576.6 712.4 L 577.5 704.4 L 578.3 700.8 L 579.2 708.3 L 580 712.3 L 580.9 705.1 L 581.8 699.6 L 582.6 710.8 L 583.5 714.8 L 584.3 701.7 L 585.2 696.9 L 586 697 L 586.9 709.6 L 587.8 696.4 L 588.6 688.7 L 589.5 696.8 L 590.3 707.2 L 591.2 693.1 L 592.1 681.5 L 593.8 710.5 L 594.6 696.8 L 595.5 692.1 L 597.2 715.7 L 598.1 708.4 L 598.9 703.4 L 599.8 700.1 L 600.6 706.8 L 601.5 720.8 L 602.4 715.1 L 603.2 703.8 L 604.1 716.2 L 604.9 720.9 L 605.8 719.6 L 606.6 704.4 L 607.5 709.8 L 608.4 719.2 L 609.2 732.3 L 610.1 725.7 L 610.9 710.6 L 611.8 718.9 L 612.7 736.6 L 613.5 734.7 L 614.4 728.4 L 615.2 714 L 616.1 723.6 L 617 739.6 L 617.8 726.8 L 618.7 723.1 L 619.5 730.8 L 620.4 741.1 L 621.2 732.7 L 622.1 735.5 L 623 723.8 L 623.8 730.2 L 624.7 747.8 L 625.5 744.8 L 626.4 728.3 L 627.3 730.6 L 628.1 750.3 L 629 751.7 L 629.8 736.4 L 630.7 735.6 L 631.5 740.1 L 632.4 761.6 L 633.3 758.5 L 634.1 732 L 635 743.3 L 635.8 757.8 L 636.7 760.2 L 637.6 745.1 L 638.4 744.9 L 639.3 758.7 L 640.1 764.6 L 641 751.3 L 641.8 741.4 L 642.7 754.1 L 643.6 764.9 L 644.4 748.7 L 645.3 743.4 L 646.1 748.4 L 647 766.5 L 648.7 745.9 L 649.6 733.1 L 650.4 768.1 L 651.3 763.3 L 652.1 742.7 L 653 726.7 L 653.9 745.7 L 654.7 759.2 L 655.6 760.5 L 656.4 749.9 L 657.3 733.1 L 658.2 733.6 L 659 744.6 L 659.9 751.3 L 660.7 741.8 L 661.6 724.4 L 662.5 731.6 L 663.3 750.1 L 664.2 741.5 L 665 723.3 L 665.9 721.9 L 666.7 732.1 L 667.6 747.5 L 668.5 722.2 L 669.3 709.8 L 670.2 750.5 L 671 745.1 L 671.9 712.1 L 672.8 712.2 L 673.6 745.5 L 674.5 745.4 L 675.3 712.1 L 676.2 709.6 L 677 719.6 L 678.8 732.9 L 679.6 713.5 L 680.5 705.3 L 681.3 714.1 L 682.2 733.4 L 683.9 705.2 L 684.8 704.2 L 685.6 729 L 686.5 738 L 687.3 711.1 L 688.2 714.3 L 689.1 716.1 L 689.9 719.4 L 690.8 705.3 L 691.6 697 L 692.5 705.5 L 693.4 728.2 L 694.2 740.5 L 695.1 720.7 L 695.9 697.7 L 696.8 703.3 L 697.7 727.8 L 698.5 729.7 L 699.4 721.1 L 700.2 706 L 701.1 706.5 L 701.9 720.3 L 702.8 728.8 L 704.5 713.5 L 705.4 712.6 L 706.2 737.1 L 707.1 754 L 708 725 L 708.8 708.5 L 709.7 721.8 L 710.5 748.3 L 711.4 730.6 L 712.2 715.3 L 713.1 742.6 L 714 744.2 L 714.8 737.1 L 715.7 709.5 L 716.5 711.2 L 717.4 745.2 L 718.3 732.3 L 719.1 707.8 L 720 707 L 720.8 729.4 L 721.7 741.3 L 722.5 728.6 L 723.4 710.8 L 724.3 716.8 L 725.1 738.5 L 726 729 L 726.8 692.5 L 727.7 713.9 L 728.6 741.8 L 729.4 741.4 L 730.3 711.9 L 731.1 689.8 L 732 709.1 L 732.9 746.3 L 734.6 697.3 L 735.4 729 L 736.3 735.3 L 737.1 722.4 L 738 707.5 L 738.9 730 L 739.7 731.6 L 740.6 724.4 L 741.4 711.9 L 742.3 702.6 L 743.2 705.2 L 744 727.6 L 744.9 739 L 745.7 725.4 L 746.6 705.2 L 747.4 708.5 L 748.3 730.3 L 749.2 740.1 L 750 720.1 L 750.9 707.3 L 751.7 719 L 752.6 742.3 L 753.5 715.4 L 754.3 702.5 L 755.2 734.8 L 756 744.4 L 756.9 710.2 L 757.7 713.1 L 758.6 741.7 L 759.5 744.9 L 760.3 746.5 L 761.2 719.7 L 762 722.9 L 762.9 737.9 L 763.8 758 L 765.5 712.8 L 766.3 736.2 L 767.2 754.4 L 768 728.6 L 768.9 720.3 L 769.8 732.2 L 770.6 748.5 L 771.5 738.4 L 772.3 722.2 L 773.2 718.7 L 774.1 731.2 L 774.9 747.2 L 775.8 743 L 776.6 724.1 L 777.5 718.5 L 779.2 753.1 L 780.1 734.9 L 780.9 703.5 L 781.8 718.9 L 782.6 742.3 L 783.5 735 L 785.2 704.4 L 786.1 706.6 L 786.9 742.2 L 788.7 702.5 L 789.5 727.3 L 790.4 744.4 L 791.2 741 L 792.1 716 L 792.9 706.1 L 793.8 714.6 L 794.7 737.5 L 796.4 697.8 L 797.2 718.5 L 798.1 732.6 L 799 730.5 L 799.8 704.1 L 800.7 703.2 L 801.5 738.3 L 802.4 730.5 L 803.2 718.3 L 804.1 697 L 805 724.5 L 805.8 729.7 L 806.7 727.6 L 807.5 707.9 L 808.4 705.6 L 810.1 732.7 L 811 719.4 L 811.8 692.7 L 812.7 714 L 813.6 722.5 L 814.4 695.6 L 815.3 710.2 L 816.1 722.7 L 817 719.4 L 817.8 699.3 L 818.7 697.3 L 819.6 719.5 L 820.4 725.5 L 821.3 699 L 822.1 699.3 L 823 717.7 L 823.9 719.3 L 824.7 694.6 L 825.6 690.9 L 826.4 713.7 L 827.3 724.5 L 828.1 723.4 L 829 707.6 L 829.9 700.1 L 830.7 718.3 L 831.6 721.5 L 832.4 718.2 L 833.3 707.2 L 834.2 712.8 L 835.9 729.3 L 836.7 723.7 L 837.6 700.2 L 838.4 716.4 L 839.3 747.5 L 840.2 735.1 L 841 725 L 841.9 696.9 L 842.7 734.4 L 843.6 741.6 L 845.3 708.3 L 846.2 721.1 L 847 748.6 L 848.7 712 L 849.6 709.6 L 850.5 727 L 851.3 736.7 L 852.2 738.2 L 853 715.1 L 853.9 702.6 L 854.8 707.3 L 856.5 742.5 L 857.3 734.1 L 858.2 704.9 L 859.1 718.1 L 859.9 733.8 L 860.8 752.6 L 861.6 728.7 L 862.5 712.5 L 863.3 711.1 L 864.2 742 L 865.1 740.1 L 865.9 714.7 L 866.8 711.9 L 867.6 739.1 L 868.5 736.6 L 869.4 726 L 870.2 713.5 L 871.1 739.3 L 871.9 752.6 L 872.8 728.9 L 873.6 715.4 L 874.5 734.6 L 875.4 749 L 876.2 736.7 L 877.1 708.4 L 877.9 753.9 L 878.8 747.1 L 879.7 717.5 L 880.5 716.2 L 881.4 733.7 L 882.2 745.9 L 883.1 734.6 L 883.9 719.8 L 884.8 713.8 L 885.7 742.4 L 886.5 741.2 L 887.4 716.5 L 888.2 704.2 L 889.1 732.9 L 890 756.8 L 890.8 732.6 L 891.7 720.2 L 892.5 736.3 L 893.4 736.7 L 894.3 720.9 L 895.1 707.1 L 896 723.4 L 896.8 753.6 L 897.7 716 L 898.5 706.4 L 899.4 705.1 L 900.3 736 L 901.1 731.7 L 902 722.3 L 902.8 701.3 L 903.7 731.3 L 904.6 734.3 L 905.4 708.8 L 906.3 707.4 L 907.1 733.1 L 908 728.1 L 908.8 703.4 L 909.7 702.3 L 910.6 714.4 L 911.4 737.6 L 912.3 721.5 L 913.1 694.5 L 914 696.2 L 914.9 716.8 L 915.7 732.6 L 916.6 703.6 L 917.4 695.3 L 918.3 704.2 L 919.1 735.5 L 920 744.3 L 920.9 696.9 L 921.7 691 L 922.6 740.2 L 923.4 731.6 L 924.3 725.4 L 925.2 704.2 L 926 727.5 L 926.9 735.8 L 927.7 717.2 L 928.6 707.1 L 929.5 728.8 L 930.3 754.2 L 931.2 742.1 L 932 706.4 L 932.9 709.3 L 933.7 741.4 L 934.6 741.3 L 935.5 749.2 L 936.3 717.4 L 937.2 705.8 L 938 731.5 L 938.9 747.7 L 939.8 708 L 940.6 717.8 L 941.5 746.9 L 942.3 725.6 L 943.2 715 L 944 736.8 L 944.9 748 L 945.8 716.2 L 946.6 707.6 L 948.3 744.1 L 949.2 728.4 L 950.1 708.9 L 950.9 712.2 L 951.8 730.5 L 952.6 734.6 L 953.5 724.7 L 954.3 707 L 955.2 725.2 L 956.1 750.9 L 956.9 717.5 L 957.8 705.8 L 958.6 736.3 L 959.5 741.7 L 960.4 729.7 L 961.2 712.9 L 962.1 719 L 962.9 740.1 L 963.8 744.8 L 964.6 723.2 L 965.5 719.8 L 966.4 743.6 L 967.2 746.4 L 968.1 714.7 L 968.9 718 L 969.8 728 L 970.7 733.9 L 971.5 712.9 L 972.4 710 L 973.2 728.6 L 974.1 740.6 L 975 738 L 975.8 717 L 976.7 732.6 L 977.5 745.4 L 978.4 723.2 L 979.2 707.8 L 980.1 714.4 L 981 732.7 L 981.8 733.5 L 982.7 708.9 L 983.5 708.5 L 984.4 728 L 985.3 729.3 L 986.1 713.6 L 987 695.2 L 987.8 691.7 L 988.7 707.5 L 989.5 735 L 990.4 714.2 L 991.3 699.1 L 992.1 717.7 L 993 732.8 L 993.8 715 L 994.7 709 L 995.6 700.9 L 996.4 718.8 L 997.3 724.3 L 999 704.1 L 999.8 708.4 L 1000.7 733.3 L 1001.6 738.8 L 1002.4 724.7 L 1003.3 714.3 L 1004.1 742.1 L 1005 742.7 L 1005.9 731.3 L 1006.7 713.8 L 1007.6 716.9 L 1008.4 747.2 L 1009.3 743.5 L 1010.2 718.8 L 1011 705.9 L 1011.9 718.2 L 1012.7 738.5 L 1013.6 747.1 L 1015.3 709.3 L 1016.2 723.5 L 1017 742 L 1018.7 722.2 L 1019.6 729.1 L 1020.5 747.1 L 1021.3 740.9 L 1022.2 716.9 L 1023 718 L 1023.9 741.8 L 1024.7 753.1 L 1025.6 724.4 L 1026.5 707.8 L 1027.3 721.5 L 1028.2 745.9 L 1029 734 L 1029.9 699.4 L 1030.8 714.6 L 1031.6 758.3 L 1032.5 732.3 L 1033.3 721.7 L 1034.2 709.4 L 1035 737.2 L 1035.9 747.8 L 1036.8 720.5 L 1037.6 703.8 L 1039.3 730.5 L 1040.2 746.9 L 1041.1 722.4 L 1041.9 702.4 L 1042.8 718.8 L 1043.6 726.1 L 1044.5 745.6 L 1045.3 747 L 1046.2 709 L 1047.1 701.6 L 1047.9 727.3 L 1048.8 748.2 L 1049.6 721.3 L 1050.5 701.3 L 1051.4 711.4 L 1052.2 737 L 1053.9 723.1 L 1054.8 699.2 L 1056.5 731.2 L 1057.4 716.5 L 1058.2 711.2 L 1059.1 711.8 L 1059.9 746.1 L 1060.8 728 L 1061.7 706.9 L 1062.5 719.6 L 1063.4 735.3 L 1064.2 725.6 L 1065.1 708.7 L 1066 702.7 L 1066.8 736.4 L 1067.7 732.8 L 1068.5 704.2 L 1069.4 703.8 L 1070.2 737 L 1071.1 731.7 L 1072 715.7 L 1072.8 696.4 L 1073.7 722.3 L 1074.5 738.5 L 1075.4 711.2 L 1076.3 694.3 L 1077.1 717.3 L 1078 735.4 L 1078.8 723.9 L 1079.7 694.4 L 1080.5 706.1 L 1081.4 732.4 L 1082.3 723.8 L 1083.1 687 L 1084 712.5 L 1084.8 732.5 L 1085.7 715.8 L 1086.6 693.5 L 1087.4 691.4 L 1088.3 717.4 L 1089.1 725.7 L 1090 701.8 L 1090.9 701.9 L 1091.7 706.2 L 1092.6 732.7 L 1093.4 725.8 L 1094.3 696.3 L 1095.1 716.8 L 1096 720.2 L 1096.9 725.1 L 1097.7 702.6 L 1098.6 694.8 L 1099.4 721.5 L 1100.3 735.8 L 1101.2 720.1 L 1102 697.8 L 1103.7 722.8 L 1104.6 713.4 L 1105.4 712.5 L 1106.3 699.6 L 1107.2 725.6 L 1108 724 L 1108.9 696.9 L 1109.7 701.4 L 1110.6 733.3 L 1111.5 729.9 L 1112.3 698.7 L 1113.2 698.9 L 1114 727.6 L 1114.9 736.8 L 1115.7 714.1 L 1116.6 696.2 L 1117.5 718.9 L 1118.3 733.6 L 1119.2 731.2 L 1120 715.5 L 1120.9 707.8 L 1121.8 719.7 L 1122.6 723.2 L 1123.5 725.8 L 1124.3 700.5 L 1125.2 701.5 L 1126 708.6 L 1126.9 732.4 L 1127.8 726.6 L 1128.6 703.5 L 1129.5 710.9 L 1130.3 739.7 L 1131.2 740.8 L 1132.1 705.4 L 1132.9 702.9 L 1133.8 733.2 L 1134.6 737.1 L 1135.5 722.1 L 1137.2 701.4 L 1138.1 731.7 L 1138.9 726.4 L 1139.8 709.6 L 1140.6 726.6 L 1141.5 748.3 L 1142.4 734.5 L 1143.2 703.5 L 1144.1 718.4 L 1144.9 738.9 L 1145.8 722.3 L 1146.7 703.6 L 1147.5 712.8 L 1148.4 724 L 1149.2 731.3 L 1150.1 697.7 L 1150.9 695.7 L 1151.8 729 L 1152.7 740.2 L 1153.5 721.8 L 1154.4 689.3 L 1156.1 733.5 L 1157.8 700.4 L 1158.7 717.5 L 1159.5 738.7 L 1160.4 712.9 L 1161.2 699 L 1162.1 707 L 1163 727 L 1163.8 717.6 L 1164.7 706.4 L 1165.5 708 L 1166.4 706.1 L 1167.3 731.8 L 1168.1 728.1 L 1169 704.3 L 1169.8 717.4 L 1170.7 737.1 L 1171.6 724.2 L 1172.4 704.1 L 1173.3 727.1 L 1174.1 733.7 L 1175 727.8 L 1175.8 695.9 L 1177.6 742 L 1178.4 728.5 L 1179.3 692.6 L 1180.1 701.5 L 1181 723.1 L 1181.9 734.9 L 1182.7 726.1 L 1183.6 699.5 L 1184.4 720.4 L 1185.3 729.1 L 1186.1 724.9 L 1187 710.7 L 1187.9 703.1 L 1188.7 717.2 L 1189.6 735.6 L 1190.4 696.4 L 1191.3 702.3 L 1192.2 711.9 L 1193 724.9 L 1194.7 700.6 L 1195.6 709.9 L 1196.4 728.5 L 1197.3 731.1 L 1198.2 711.5 L 1199 713.2 L 1199.9 723.3 L 1200.7 736.6 L 1201.6 731.5 L 1202.5 716.8 L 1203.3 718.7 L 1204.2 733.4 L 1205 742.2 L 1206.8 706.3 L 1208.5 746.3 L 1209.3 733.8 L 1210.2 710.7 L 1211 721.3 L 1211.9 747.9 L 1212.8 743.7 L 1213.6 714.2 L 1214.5 717.8 L 1215.3 740.4 L 1216.2 749.5 L 1217.1 727.9 L 1217.9 713.5 L 1218.8 745.6 L 1219.6 752.6 L 1220.5 728.2 L 1221.3 719.6 L 1222.2 748.3 L 1223.1 726.7 L 1223.9 708.6 L 1224.8 727.4 L 1225.6 750.4 L 1227.4 722.1 L 1228.2 719.8 L 1229.1 735.8 L 1229.9 734.9 L 1230.8 724.8 L 1231.6 717.7 L 1232.5 736.8 L 1233.4 727.7 L 1234.2 717 L 1235.1 714.4 L 1235.9 742.9 L 1236.8 728.7 L 1237.7 702.9 L 1238.5 718.4 L 1239.4 727.7 L 1240.2 699 L 1241.1 705.6 L 1241.9 726.2 L 1242.8 723.3 L 1244.5 697.3 L 1245.4 723.6 L 1246.2 732.9 L 1247.1 719.4 L 1248 701.7 L 1249.7 735 L 1250.5 716.7 L 1251.4 709.7 L 1252.3 722.3 L 1253.1 742.6 L 1254 723.3 L 1254.8 708.3 L 1255.7 709.6 L 1256.5 721.2 L 1257.4 724 L 1258.3 704.4 L 1259.1 706.8 L 1260 734.1 L 1260.8 745.4 L 1262.6 703.4 L 1263.4 713.8 L 1264.3 736.6 L 1265.1 728.4 L 1266 715 L 1266.8 712.3 L 1267.7 738.3 L 1268.6 745.6 L 1269.4 707.7 L 1270.3 718.9 L 1271.1 740.1 L 1271.7 740.1 L 1273.7 870.3 L 1273.7 870.3 " clip-path="url(#p2e0bae5d63)" style="fill: none; stroke: #440154; stroke-opacity: 0.6; stroke-width: 1.5; stroke-linecap: square"/>
</g>
<g id="line2d_54">
<path d="M 415.2 870.1 L 416.1 869.1 L 416.9 868.8 L 417.8 870.3 L 418.6 870.4 L 420.4 869.6 L 421.2 869.6 L 422.1 870.5 L 422.9 871 L 423.8 869.7 L 424.6 857.3 L 425.5 848.1 L 426.4 837 L 427.2 823.3 L 428.1 811.7 L 428.9 807 L 429.8 800 L 430.7 790.8 L 431.5 783.8 L 432.4 777.8 L 433.2 773.5 L 434.1 763.3 L 434.9 754.5 L 435.8 752.7 L 436.7 756.2 L 437.5 756 L 438.4 747.2 L 439.2 743.9 L 440.1 752.9 L 441 746.3 L 441.8 742.1 L 442.7 736.6 L 443.5 744.2 L 444.4 744.5 L 445.2 736.5 L 446.1 730.7 L 447 734 L 447.8 744 L 448.7 739.3 L 449.5 730.6 L 450.4 732.6 L 451.3 736.9 L 452.1 743.8 L 453 740.8 L 453.8 733 L 454.7 730.6 L 455.6 732.9 L 456.4 733.4 L 457.3 735.9 L 458.1 734.2 L 459 728.6 L 459.8 726.8 L 460.7 742.4 L 461.6 738.2 L 462.4 725 L 463.3 724.2 L 464.1 734.7 L 465 736.9 L 465.9 728.3 L 466.7 726.3 L 467.6 732.6 L 468.4 734.2 L 469.3 730.6 L 470.1 723.1 L 471 729.6 L 471.9 732.3 L 472.7 728.9 L 473.6 718.7 L 474.4 721.1 L 475.3 732.2 L 476.2 734.2 L 477 720.6 L 477.9 717.9 L 478.7 731.7 L 479.6 734.6 L 480.4 715.4 L 481.3 718.1 L 482.2 722.3 L 483 733.3 L 483.9 726.9 L 484.7 716.9 L 485.6 726.8 L 486.5 729.2 L 487.3 727.5 L 488.2 716.6 L 489 715.7 L 489.9 725.8 L 490.7 729.9 L 491.6 725.4 L 492.5 713.4 L 493.3 718.3 L 494.2 729.6 L 495 723.4 L 495.9 713.2 L 496.8 717 L 497.6 727.4 L 498.5 718.6 L 499.3 713.2 L 501.1 734 L 502.8 719.5 L 503.6 724.8 L 504.5 733 L 505.3 732.1 L 506.2 715.6 L 507.1 718.7 L 507.9 723.7 L 508.8 733.8 L 509.6 716.7 L 510.5 716.9 L 511.4 730.1 L 512.2 733.2 L 513.1 721 L 513.9 719.9 L 514.8 727.2 L 515.6 731.5 L 516.5 717.9 L 517.4 710.1 L 518.2 716.9 L 519.1 726 L 519.9 727.1 L 520.8 724.3 L 521.7 714.6 L 522.5 724 L 523.4 727.9 L 524.2 726.8 L 525.1 714.2 L 525.9 720.3 L 526.8 727.5 L 527.7 721.7 L 528.5 713.9 L 529.4 716.8 L 530.2 732.1 L 531.1 728.6 L 532 716 L 532.8 715.7 L 534.5 733.5 L 535.4 722.9 L 536.3 716 L 537.1 711.1 L 538 725.8 L 538.8 731.3 L 539.7 725.8 L 540.5 717.5 L 541.4 711.6 L 542.3 722 L 543.1 729.7 L 544 723.3 L 544.8 714.5 L 545.7 719.2 L 546.6 727.4 L 547.4 724.8 L 548.3 716.9 L 549.1 713.4 L 550 724.5 L 550.8 720.6 L 551.7 709.8 L 552.6 709.1 L 553.4 722.6 L 554.3 715.1 L 555.1 711.1 L 556 716.6 L 556.9 724.3 L 558.6 711.3 L 559.4 711.6 L 560.3 722.3 L 561.1 722.6 L 562 714.6 L 562.9 714.8 L 563.7 726.4 L 564.6 718 L 565.4 707.2 L 566.3 715.4 L 567.2 731.3 L 568 726.6 L 568.9 722.7 L 569.7 711.8 L 570.6 716.4 L 571.4 726.4 L 572.3 720.6 L 573.2 713.6 L 574 719.6 L 574.9 733 L 575.7 719 L 576.6 720.9 L 577.5 726.6 L 578.3 727.7 L 579.2 714.7 L 580 724.3 L 580.9 731.7 L 581.8 728.4 L 582.6 717.2 L 583.5 716.2 L 584.3 727.5 L 585.2 732.4 L 586 724.1 L 586.9 713.1 L 587.8 724.8 L 588.6 729.1 L 589.5 722.5 L 590.3 713.7 L 591.2 716.8 L 592.1 725.9 L 592.9 732.7 L 593.8 717 L 594.6 713.9 L 595.5 724.9 L 596.3 731.2 L 597.2 721.4 L 598.1 714.5 L 598.9 727.8 L 599.8 723.9 L 600.6 711.5 L 601.5 714.7 L 602.4 727.9 L 603.2 720 L 604.1 707.4 L 604.9 718.8 L 605.8 725.3 L 606.6 715.2 L 607.5 709.7 L 608.4 717.1 L 609.2 730.5 L 610.1 721.1 L 610.9 709.7 L 611.8 710.8 L 612.7 723.6 L 613.5 729 L 614.4 712.8 L 615.2 717.7 L 616.1 726.8 L 617 723.6 L 617.8 708.2 L 618.7 718 L 619.5 730.8 L 620.4 718.7 L 621.2 711.1 L 622.1 718.6 L 623.8 741.6 L 624.7 714.6 L 625.5 707.3 L 626.4 733.7 L 627.3 736.4 L 629 712.1 L 630.7 735.1 L 631.5 726.2 L 632.4 709.1 L 633.3 710.2 L 634.1 730.5 L 635 737.4 L 635.8 719.3 L 636.7 707.9 L 637.6 730.4 L 638.4 738.7 L 639.3 717.8 L 640.1 715.9 L 641.8 725.1 L 642.7 740 L 643.6 717.8 L 644.4 707.2 L 645.3 721.7 L 646.1 731.3 L 647.9 710.1 L 648.7 710.6 L 649.6 740.5 L 650.4 734.1 L 651.3 711.5 L 652.1 708.5 L 653 721.6 L 653.9 731 L 654.7 710.7 L 655.6 704.3 L 656.4 702.5 L 657.3 727.2 L 658.2 727.8 L 659 719.5 L 659.9 704.5 L 660.7 703.4 L 661.6 733.6 L 662.5 728 L 663.3 709.5 L 664.2 711.4 L 665 717.1 L 665.9 736.7 L 666.7 727.6 L 667.6 713.8 L 668.5 711.5 L 669.3 732.2 L 670.2 728.9 L 671 713.6 L 671.9 701.9 L 672.8 734.8 L 673.6 735.5 L 674.5 719 L 675.3 698.3 L 676.2 724.5 L 677 740.8 L 677.9 733.8 L 678.8 718.7 L 679.6 719.7 L 680.5 731.8 L 681.3 735.7 L 683.1 714.1 L 683.9 724.5 L 684.8 742.3 L 685.6 744.7 L 686.5 720.5 L 687.3 725.8 L 688.2 729 L 689.1 742.5 L 689.9 734.1 L 690.8 729.3 L 691.6 723.2 L 692.5 748.5 L 693.4 743.2 L 694.2 726.9 L 695.9 751.5 L 696.8 726.4 L 697.7 720.2 L 698.5 735.5 L 699.4 746.5 L 700.2 742.9 L 701.1 728.2 L 701.9 734 L 702.8 758.1 L 703.7 759.3 L 704.5 737.8 L 705.4 709.6 L 706.2 731.1 L 707.1 760.2 L 708 744.7 L 708.8 721.9 L 709.7 728.4 L 710.5 752.6 L 711.4 702.3 L 712.2 702.1 L 714 742.2 L 714.8 752.4 L 715.7 741 L 716.5 719 L 717.4 701.7 L 718.3 697.4 L 719.1 731.6 L 720 742.6 L 720.8 722.6 L 721.7 695.9 L 722.5 711.3 L 723.4 732.7 L 724.3 739.4 L 725.1 710 L 726 700.9 L 726.8 707.5 L 727.7 726.2 L 728.6 724 L 729.4 699.6 L 730.3 703.2 L 731.1 732.5 L 732 742.6 L 732.9 737.2 L 734.6 693.2 L 735.4 705.4 L 736.3 724.6 L 737.1 735.1 L 738 720.2 L 738.9 699.8 L 739.7 731.4 L 740.6 744.2 L 741.4 735.6 L 742.3 720.1 L 743.2 715 L 744 733 L 744.9 747.4 L 745.7 717.2 L 746.6 709.3 L 747.4 731.3 L 748.3 743.9 L 750 708.6 L 750.9 719.7 L 751.7 749.3 L 752.6 727 L 753.5 723 L 754.3 738.6 L 755.2 759.6 L 756 728.8 L 756.9 718.7 L 757.7 743.2 L 758.6 746.3 L 759.5 741.3 L 760.3 709.5 L 761.2 719.4 L 762 743.4 L 762.9 745 L 763.8 718.9 L 764.6 723.3 L 765.5 741.5 L 766.3 731.8 L 767.2 735.3 L 768 716.9 L 768.9 714.3 L 769.8 750.4 L 770.6 732 L 771.5 706.6 L 772.3 724.7 L 773.2 736.6 L 774.1 742.7 L 774.9 738.5 L 775.8 710.8 L 776.6 706.5 L 777.5 741.8 L 778.4 739.9 L 779.2 728.9 L 780.1 721.2 L 780.9 718.6 L 781.8 746.6 L 782.6 748.1 L 783.5 717.8 L 784.4 719.1 L 786.1 749.9 L 786.9 741.2 L 787.8 727.9 L 788.7 717.9 L 789.5 749 L 790.4 759.4 L 791.2 720.4 L 792.1 713 L 792.9 725.4 L 793.8 745.5 L 794.7 758 L 795.5 745.5 L 796.4 718.7 L 797.2 726.1 L 798.1 736.1 L 799 744.7 L 799.8 737.6 L 800.7 714.3 L 801.5 718.6 L 802.4 744.2 L 803.2 740.2 L 804.1 719.1 L 805 701.7 L 805.8 724.3 L 806.7 755.4 L 807.5 744.3 L 808.4 718.5 L 809.3 705.8 L 810.1 742.9 L 811 725 L 811.8 714.9 L 812.7 706.2 L 813.6 738.5 L 815.3 719.8 L 816.1 724.8 L 817 750.1 L 817.8 743.1 L 818.7 731.8 L 819.6 725 L 820.4 741.3 L 821.3 744.5 L 822.1 726.5 L 823 719.8 L 823.9 735.6 L 825.6 760.3 L 827.3 721.7 L 828.1 723.1 L 829 747.6 L 829.9 754.4 L 830.7 731 L 831.6 717.9 L 832.4 740.3 L 833.3 753.8 L 834.2 734.1 L 835 723.8 L 835.9 731.6 L 836.7 745.3 L 837.6 751.7 L 838.4 715.8 L 839.3 727.4 L 840.2 753.3 L 841 735.8 L 841.9 728.5 L 842.7 724.1 L 844.5 750.5 L 845.3 744.6 L 846.2 710.2 L 847 741.1 L 847.9 752.9 L 848.7 738.6 L 849.6 729.1 L 850.5 726.6 L 851.3 752.9 L 852.2 749 L 853 724.4 L 853.9 730.5 L 854.8 749.5 L 855.6 730.6 L 856.5 716.5 L 857.3 747.5 L 858.2 749.3 L 859.1 731.9 L 859.9 721.7 L 860.8 744.9 L 861.6 752.1 L 863.3 718.9 L 864.2 732.2 L 865.1 750 L 865.9 754 L 866.8 727.3 L 867.6 714.7 L 868.5 739.4 L 869.4 748 L 870.2 753.5 L 871.1 724.6 L 871.9 720.8 L 872.8 744.2 L 873.6 747.1 L 875.4 724.6 L 876.2 719.7 L 877.1 744.6 L 877.9 744.1 L 878.8 725.5 L 879.7 725 L 880.5 745 L 881.4 741.7 L 882.2 723.3 L 883.1 722.5 L 883.9 719 L 884.8 759 L 885.7 742.9 L 886.5 715.6 L 887.4 724.2 L 888.2 751.9 L 889.1 749.7 L 890 719.5 L 891.7 739.8 L 893.4 714.5 L 894.3 723.9 L 895.1 743 L 896 728.5 L 896.8 708.4 L 897.7 707.6 L 898.5 741.9 L 899.4 731.6 L 900.3 696.5 L 901.1 725 L 902 738.5 L 902.8 726 L 903.7 706.6 L 904.6 711.6 L 905.4 727.8 L 906.3 739.3 L 907.1 723.1 L 908 715.1 L 908.8 728.7 L 909.7 749.7 L 910.6 736.4 L 911.4 730.5 L 912.3 717.4 L 913.1 739.7 L 914 752.1 L 914.9 730.3 L 915.7 715.2 L 916.6 726.5 L 917.4 763.2 L 918.3 757 L 919.1 720.4 L 920 734.1 L 920.9 754.9 L 921.7 766.7 L 922.6 738.3 L 923.4 722 L 924.3 760 L 925.2 773.2 L 926 732.8 L 926.9 734.5 L 927.7 760.5 L 928.6 750.1 L 929.5 715.9 L 930.3 735.4 L 931.2 760.7 L 932 744.4 L 932.9 725.7 L 933.7 740.2 L 934.6 749.1 L 935.5 734.2 L 936.3 715.3 L 937.2 725.5 L 938 749.2 L 938.9 754.5 L 939.8 733.5 L 941.5 719.5 L 942.3 732.9 L 943.2 751.7 L 944 721.7 L 944.9 719.9 L 945.8 749.3 L 946.6 746.2 L 947.5 715.2 L 948.3 724.6 L 949.2 755.3 L 950.9 721.6 L 951.8 720.6 L 952.6 745.9 L 953.5 740.8 L 954.3 718.5 L 955.2 724.4 L 956.1 744.3 L 956.9 740.3 L 957.8 719.6 L 958.6 711.2 L 959.5 740.2 L 960.4 748.1 L 961.2 743.6 L 962.1 713.9 L 962.9 722.3 L 963.8 734.4 L 964.6 753.3 L 965.5 742 L 966.4 718.1 L 967.2 720.9 L 968.1 750.6 L 968.9 744.9 L 969.8 721.5 L 970.7 726.5 L 971.5 745.8 L 972.4 742.4 L 973.2 723.3 L 974.1 715.6 L 975 741.5 L 975.8 740.5 L 976.7 719.7 L 977.5 734.8 L 978.4 754.4 L 979.2 728.6 L 980.1 708.3 L 981 733.9 L 981.8 738.4 L 982.7 747.8 L 983.5 742.4 L 984.4 724.2 L 985.3 727.9 L 986.1 748.4 L 987 727 L 987.8 709.1 L 988.7 742.3 L 989.5 735 L 990.4 711.3 L 991.3 731.4 L 992.1 748.7 L 993 755.6 L 993.8 732.3 L 994.7 717.1 L 995.6 740.8 L 996.4 758.5 L 997.3 759.6 L 998.1 748.9 L 999 728.5 L 999.8 729.1 L 1000.7 751.5 L 1001.6 762.1 L 1002.4 737 L 1003.3 738 L 1005 765.4 L 1006.7 719.4 L 1007.6 732.7 L 1008.4 753 L 1009.3 740.6 L 1010.2 718 L 1011 727.7 L 1011.9 763.9 L 1012.7 759.8 L 1013.6 716.9 L 1014.4 732.3 L 1015.3 742.5 L 1016.2 740.5 L 1017 721.7 L 1017.9 710.4 L 1018.7 721.3 L 1019.6 740.1 L 1020.5 730 L 1021.3 708.2 L 1022.2 708.6 L 1023 727.6 L 1023.9 738.6 L 1024.7 723 L 1025.6 700 L 1026.5 711.8 L 1027.3 753.3 L 1028.2 735.3 L 1029 724.3 L 1029.9 741.2 L 1030.8 746 L 1031.6 755 L 1032.5 731.1 L 1033.3 743.4 L 1034.2 760.3 L 1035 754.6 L 1035.9 722.8 L 1036.8 726.6 L 1037.6 754 L 1038.5 756.4 L 1039.3 727.4 L 1040.2 723.7 L 1041.1 753 L 1042.8 733.8 L 1043.6 732.4 L 1044.5 746 L 1045.3 762.1 L 1046.2 728.9 L 1047.1 720 L 1047.9 752.3 L 1048.8 758 L 1049.6 735.3 L 1050.5 730.2 L 1051.4 716.5 L 1052.2 742.3 L 1053.1 748.5 L 1053.9 720.9 L 1054.8 706.7 L 1055.7 748.4 L 1056.5 742 L 1057.4 723.3 L 1058.2 720.2 L 1059.1 735.3 L 1059.9 744.9 L 1060.8 733.5 L 1061.7 708.5 L 1062.5 727.7 L 1063.4 754.4 L 1064.2 752.2 L 1065.1 719.6 L 1066 726.5 L 1066.8 753.2 L 1067.7 749.1 L 1068.5 723.6 L 1069.4 716.5 L 1070.2 744.7 L 1071.1 754.2 L 1072 728.6 L 1072.8 711.7 L 1074.5 757.4 L 1075.4 741.2 L 1076.3 711.7 L 1077.1 726.2 L 1078 746.6 L 1078.8 741.8 L 1079.7 721.2 L 1080.5 719.8 L 1081.4 739.8 L 1082.3 756.6 L 1084 712.5 L 1084.8 721.1 L 1085.7 745.2 L 1086.6 752.5 L 1087.4 715.2 L 1088.3 716.2 L 1089.1 726.9 L 1090 728.3 L 1090.9 722.1 L 1091.7 704.4 L 1092.6 726 L 1093.4 752.3 L 1094.3 739.8 L 1095.1 702.1 L 1096 717.8 L 1096.9 750.9 L 1097.7 720.8 L 1098.6 707.3 L 1099.4 704.4 L 1100.3 736.2 L 1101.2 737.6 L 1102 729.8 L 1102.9 705.3 L 1103.7 706 L 1104.6 716.5 L 1105.4 736.2 L 1106.3 714.5 L 1107.2 712.7 L 1108 720.2 L 1108.9 735.6 L 1110.6 706 L 1111.5 704.7 L 1113.2 740.7 L 1114 731.5 L 1114.9 709.2 L 1115.7 713 L 1116.6 741.7 L 1117.5 761.5 L 1118.3 725.3 L 1119.2 713.9 L 1120 738.3 L 1120.9 754.1 L 1121.8 756.5 L 1122.6 719.5 L 1123.5 721.2 L 1124.3 751.5 L 1125.2 759.3 L 1126 748.7 L 1126.9 722.6 L 1127.8 722.7 L 1129.5 764 L 1130.3 764.1 L 1131.2 715.4 L 1132.1 714.6 L 1132.9 753.7 L 1133.8 756 L 1134.6 723.1 L 1135.5 715.7 L 1136.4 739 L 1137.2 756 L 1138.1 759.2 L 1138.9 723.7 L 1139.8 705.9 L 1140.6 728.7 L 1141.5 747.3 L 1142.4 743.5 L 1143.2 726.1 L 1144.1 730.3 L 1144.9 740.2 L 1145.8 748.7 L 1146.7 720.7 L 1147.5 711.9 L 1148.4 744.1 L 1149.2 758.8 L 1150.1 729.7 L 1150.9 711.9 L 1151.8 742.9 L 1152.7 755.4 L 1153.5 727.4 L 1154.4 714 L 1155.2 726.1 L 1156.1 746.3 L 1157 738.6 L 1157.8 718.6 L 1158.7 738.6 L 1159.5 736.2 L 1160.4 736.7 L 1161.2 701.1 L 1162.1 741.4 L 1163 753.7 L 1163.8 722.6 L 1164.7 697 L 1165.5 725.6 L 1166.4 745.1 L 1167.3 737.2 L 1169 700.1 L 1169.8 716.1 L 1170.7 741.7 L 1171.6 754.5 L 1172.4 722 L 1173.3 715.3 L 1174.1 736 L 1175 736.2 L 1175.8 722.9 L 1176.7 713.3 L 1177.6 749.9 L 1178.4 751.8 L 1179.3 744.9 L 1180.1 736.7 L 1181 718.1 L 1181.9 739.9 L 1182.7 745.6 L 1183.6 736.7 L 1184.4 714.2 L 1185.3 721.3 L 1186.1 746.5 L 1187 753.3 L 1187.9 709.1 L 1188.7 727.7 L 1189.6 765 L 1190.4 735.9 L 1191.3 713 L 1192.2 720.7 L 1193 741.8 L 1193.9 724.8 L 1194.7 711.8 L 1195.6 717.1 L 1196.4 736.5 L 1197.3 734.6 L 1199 714.5 L 1199.9 729.1 L 1200.7 730.4 L 1201.6 721 L 1202.5 701 L 1203.3 719.1 L 1204.2 741.3 L 1205 713 L 1205.9 706.2 L 1206.8 731.4 L 1207.6 744.2 L 1208.5 724.8 L 1209.3 708.1 L 1210.2 719.1 L 1211 740.1 L 1211.9 718.1 L 1212.8 709.6 L 1213.6 719.5 L 1215.3 753.2 L 1216.2 705.2 L 1217.1 709.2 L 1217.9 737.9 L 1218.8 742.9 L 1219.6 711.1 L 1220.5 721.1 L 1221.3 747.1 L 1222.2 751.5 L 1223.1 720.3 L 1223.9 718.6 L 1224.8 758.8 L 1225.6 758.8 L 1226.5 730.9 L 1227.4 727.3 L 1228.2 752.7 L 1229.1 762.9 L 1229.9 723.2 L 1230.8 730.3 L 1232.5 752.6 L 1233.4 744.8 L 1234.2 723 L 1235.1 740.8 L 1235.9 743.2 L 1236.8 720.4 L 1237.7 723.4 L 1238.5 750.3 L 1239.4 759.6 L 1240.2 717 L 1241.1 719 L 1241.9 736.1 L 1242.8 766.7 L 1243.7 731.4 L 1244.5 714.1 L 1245.4 720.8 L 1246.2 750.1 L 1247.1 751 L 1248 734.5 L 1248.8 699.7 L 1249.7 717.2 L 1250.5 742.9 L 1251.4 751 L 1252.3 728.5 L 1253.1 716.6 L 1254 726.3 L 1254.8 764.1 L 1255.7 739 L 1256.5 723.7 L 1257.4 736.9 L 1258.3 755.1 L 1259.1 738.5 L 1260 729.2 L 1260.8 732.3 L 1261.7 747.6 L 1262.6 732.6 L 1263.4 728.8 L 1264.3 719.5 L 1265.1 752.5 L 1266 746.8 L 1266.8 718.9 L 1267.7 738.9 L 1268.6 749.1 L 1269.4 755.7 L 1270.3 745.5 L 1271.7 717 L 1273.7 860.8 L 1273.7 860.8 " clip-path="url(#p2e0bae5d63)" style="fill: none; stroke: #440154; stroke-opacity: 0.6; stroke-width: 1.5; stroke-linecap: square"/>
</g>
<g id="line2d_55">
<path d="M 415.2 870.1 L 416.1 869.7 L 416.9 871 L 417.8 871.5 L 418.6 869.3 L 419.5 869.8 L 420.4 871.2 L 422.1 869.4 L 422.9 869.5 L 423.8 871.3 L 426.4 841.5 L 427.2 833.5 L 428.1 824 L 429.8 810.5 L 431.5 801.1 L 433.2 785.6 L 434.9 780.8 L 435.8 772.7 L 436.7 761.9 L 437.5 756.2 L 438.4 757.5 L 439.2 760.2 L 440.1 752 L 441.8 741.9 L 443.5 751.7 L 444.4 743.7 L 445.2 730.9 L 446.1 736.3 L 447 745.5 L 447.8 738.1 L 448.7 723.6 L 449.5 722.5 L 450.4 736.8 L 451.3 738.3 L 452.1 732.5 L 453 725.2 L 453.8 721 L 454.7 728.7 L 455.6 737.7 L 456.4 727.2 L 457.3 722.8 L 458.1 730.4 L 459 729.6 L 459.8 726.2 L 460.7 719.6 L 461.6 727.3 L 462.4 724.7 L 463.3 719.4 L 464.1 720.3 L 465 733.3 L 465.9 739 L 466.7 720.8 L 467.6 717.5 L 468.4 723.9 L 469.3 734.3 L 470.1 734.4 L 471 725 L 471.9 720.8 L 472.7 732.5 L 473.6 736.4 L 474.4 721.1 L 475.3 716 L 476.2 728.2 L 477 725.7 L 477.9 718.4 L 478.7 721.6 L 479.6 731.9 L 480.4 731.6 L 481.3 722.6 L 482.2 716.6 L 483 730.5 L 483.9 725.8 L 484.7 720 L 485.6 721.5 L 486.5 731.1 L 487.3 726.1 L 488.2 718.8 L 489 718.5 L 489.9 731.2 L 490.7 730.3 L 491.6 721.8 L 492.5 718.5 L 493.3 723.8 L 494.2 731.1 L 495 730.7 L 495.9 712.1 L 496.8 720.9 L 497.6 728 L 498.5 715.4 L 499.3 719 L 500.2 728.8 L 501.1 718.4 L 501.9 714.5 L 502.8 711.9 L 503.6 723 L 504.5 725.6 L 505.3 724.6 L 506.2 710.2 L 507.1 713.7 L 507.9 720.7 L 508.8 722.7 L 509.6 711.2 L 510.5 707.3 L 511.4 714.7 L 512.2 718.4 L 513.1 714.9 L 513.9 701.5 L 514.8 705.5 L 515.6 724.7 L 517.4 700.5 L 518.2 699.1 L 519.1 716.8 L 519.9 718.4 L 520.8 707.3 L 521.7 711.8 L 522.5 723.7 L 523.4 722.2 L 524.2 710.2 L 525.1 710.1 L 525.9 721.2 L 526.8 717.1 L 527.7 709.5 L 528.5 709.7 L 529.4 711.1 L 530.2 718.9 L 531.1 720.7 L 532 711.4 L 532.8 708.4 L 533.7 724.8 L 534.5 726.3 L 535.4 709.3 L 536.3 706.1 L 537.1 716.2 L 538 730 L 538.8 722.5 L 539.7 711.2 L 540.5 720.7 L 541.4 722.7 L 542.3 712.2 L 543.1 709 L 544 712.7 L 544.8 727.8 L 545.7 716 L 546.6 710.6 L 547.4 723.6 L 548.3 728.7 L 549.1 710.7 L 550 722 L 550.8 730.7 L 551.7 722.4 L 552.6 708.8 L 553.4 715.3 L 554.3 726.4 L 555.1 726.8 L 556 718.8 L 556.9 709.6 L 558.6 726.5 L 559.4 712.3 L 560.3 701.4 L 561.1 717.1 L 562 721.6 L 562.9 719.9 L 563.7 711.4 L 564.6 706.5 L 565.4 710.9 L 566.3 718.4 L 567.2 722.7 L 568 711.6 L 568.9 707.6 L 569.7 718.9 L 570.6 724.3 L 571.4 714.5 L 572.3 703.3 L 573.2 705.4 L 574 721.5 L 574.9 720.5 L 576.6 705.8 L 577.5 717 L 578.3 722.7 L 579.2 713.4 L 580 706.2 L 580.9 718.5 L 581.8 725.6 L 582.6 714.6 L 583.5 715.2 L 584.3 722 L 585.2 725.6 L 586 722.3 L 586.9 710.2 L 587.8 714 L 589.5 729.4 L 590.3 713.3 L 591.2 715.8 L 592.1 725.1 L 592.9 727.9 L 593.8 713.5 L 594.6 703.8 L 595.5 716.8 L 596.3 726.2 L 597.2 713.7 L 598.1 706.5 L 598.9 720.8 L 599.8 724.3 L 600.6 728.5 L 601.5 704.2 L 602.4 706.7 L 603.2 728.4 L 604.1 724.2 L 605.8 706.3 L 606.6 717 L 607.5 729.8 L 608.4 723.3 L 609.2 708.5 L 610.1 712.1 L 610.9 727.7 L 611.8 719.9 L 612.7 708.2 L 613.5 701.5 L 614.4 711.1 L 615.2 724 L 616.1 722.5 L 617 707 L 617.8 716.3 L 618.7 728.7 L 619.5 717.5 L 620.4 709.7 L 621.2 717.1 L 622.1 728.3 L 623 711.8 L 623.8 705.3 L 624.7 709.8 L 625.5 719.3 L 626.4 719.4 L 627.3 712.8 L 628.1 704.6 L 629 716.5 L 629.8 724.1 L 630.7 723.2 L 631.5 701 L 632.4 702.6 L 633.3 727 L 634.1 726.9 L 635 717.7 L 635.8 703.1 L 636.7 717.4 L 637.6 728.3 L 638.4 729.6 L 639.3 709 L 640.1 705.9 L 641 713 L 641.8 725.2 L 642.7 723.7 L 643.6 706.8 L 645.3 723 L 646.1 729.7 L 647 707.2 L 647.9 711.2 L 648.7 728.6 L 649.6 726.4 L 650.4 713.5 L 651.3 715.6 L 652.1 727.3 L 653 716.2 L 653.9 707.3 L 654.7 714 L 655.6 732.9 L 656.4 718.2 L 657.3 713.8 L 658.2 732.7 L 659 734.9 L 659.9 714.2 L 660.7 702.4 L 661.6 712 L 663.3 739.6 L 664.2 729.4 L 665 713.9 L 665.9 702.8 L 666.7 724.9 L 667.6 728 L 668.5 720.1 L 669.3 714.7 L 670.2 714.4 L 671 734.1 L 671.9 722.7 L 672.8 698.2 L 673.6 731.2 L 674.5 730.4 L 675.3 710.2 L 676.2 705.3 L 677 716.9 L 677.9 735.9 L 679.6 704.9 L 680.5 699.2 L 681.3 721 L 682.2 732.4 L 683.1 721.9 L 683.9 707.2 L 684.8 717.6 L 685.6 723.4 L 686.5 714 L 687.3 707.7 L 689.1 731.3 L 689.9 729 L 690.8 706.6 L 691.6 699 L 692.5 716.6 L 693.4 738.8 L 694.2 706.3 L 695.1 695.7 L 695.9 728.6 L 696.8 731.2 L 697.7 705.6 L 698.5 704.6 L 699.4 711 L 700.2 737.1 L 701.1 718.9 L 701.9 693.3 L 702.8 720.1 L 703.7 718.1 L 704.5 698.2 L 705.4 692.6 L 706.2 721.6 L 707.1 720.7 L 708 690.6 L 708.8 693.2 L 709.7 715.4 L 710.5 721 L 711.4 679.4 L 712.2 680.2 L 713.1 721.9 L 714 716.9 L 714.8 696.8 L 715.7 684.8 L 716.5 689.9 L 717.4 717.2 L 718.3 710.7 L 719.1 695.2 L 720 700.9 L 720.8 713.7 L 721.7 695.1 L 722.5 681.7 L 723.4 722.9 L 724.3 713.9 L 725.1 686.3 L 726 700.4 L 726.8 717.2 L 727.7 722.5 L 729.4 695.1 L 730.3 726 L 731.1 740 L 732 718.8 L 732.9 704.2 L 733.7 703.2 L 734.6 743.2 L 735.4 728.3 L 736.3 729.8 L 737.1 709.2 L 738 709.2 L 738.9 733.5 L 739.7 733.4 L 740.6 716.4 L 741.4 709.5 L 742.3 712.4 L 743.2 728 L 744 720.9 L 745.7 693.3 L 746.6 709.9 L 747.4 716.2 L 748.3 732.7 L 749.2 708.4 L 750 704.5 L 750.9 736.3 L 751.7 718.8 L 752.6 690 L 753.5 711.3 L 754.3 729.4 L 755.2 713.7 L 756 711.2 L 756.9 710.6 L 757.7 728.4 L 758.6 729.1 L 759.5 709.5 L 760.3 698.7 L 761.2 712.7 L 762 738.6 L 762.9 715.7 L 763.8 696.9 L 764.6 700.1 L 766.3 734.4 L 767.2 721.2 L 768 704.4 L 768.9 715.7 L 769.8 740.6 L 771.5 703.5 L 772.3 703.1 L 773.2 742.4 L 774.1 715.4 L 774.9 693.7 L 775.8 705.8 L 776.6 737 L 778.4 695.6 L 779.2 709.4 L 780.1 727.4 L 780.9 729.9 L 781.8 711.8 L 782.6 706.9 L 783.5 725.1 L 784.4 723.6 L 785.2 698.7 L 786.1 708.8 L 786.9 721.3 L 787.8 730.8 L 788.7 721.6 L 789.5 717.6 L 790.4 719 L 791.2 729.5 L 792.1 737.8 L 792.9 695.6 L 793.8 714.3 L 794.7 737.9 L 795.5 741.9 L 796.4 736.4 L 797.2 719.2 L 798.1 694.6 L 799.8 734.4 L 800.7 721.5 L 801.5 696.6 L 802.4 700.1 L 803.2 721.2 L 804.1 729.1 L 805 717.4 L 805.8 691.2 L 806.7 707 L 807.5 725.8 L 808.4 726 L 809.3 710.9 L 810.1 705.6 L 811 720.2 L 811.8 727.2 L 812.7 714.5 L 813.6 708.2 L 814.4 722.1 L 815.3 726.4 L 816.1 719.9 L 817 709.9 L 817.8 707.7 L 818.7 732.3 L 819.6 718.9 L 820.4 708.2 L 821.3 688.4 L 822.1 714.4 L 823 729.2 L 823.9 724 L 824.7 712.1 L 825.6 694.7 L 826.4 711.8 L 827.3 719.4 L 828.1 711.7 L 829 715.4 L 829.9 716.7 L 831.6 746.5 L 832.4 717.4 L 833.3 710.3 L 834.2 701.9 L 835 721.6 L 835.9 733.8 L 836.7 705.6 L 837.6 701.3 L 838.4 728.8 L 839.3 730.9 L 840.2 710.4 L 841 695.9 L 841.9 723.7 L 842.7 732 L 843.6 709.7 L 844.5 699.8 L 845.3 722.2 L 846.2 725.9 L 847 702.1 L 847.9 695.6 L 848.7 705.7 L 849.6 730 L 850.5 736.4 L 852.2 697.6 L 853 699.4 L 853.9 704.1 L 854.8 734.3 L 855.6 713.9 L 856.5 701 L 857.3 721.5 L 858.2 725.3 L 859.1 713.2 L 859.9 698.3 L 861.6 743.1 L 862.5 728.9 L 863.3 696.7 L 864.2 707.9 L 865.1 727.2 L 865.9 733.1 L 866.8 707 L 867.6 700.1 L 868.5 718.7 L 869.4 719.1 L 870.2 699.3 L 871.1 692.9 L 871.9 732.6 L 872.8 729.3 L 873.6 705.7 L 874.5 692.4 L 875.4 736.6 L 876.2 731.6 L 877.1 693.4 L 877.9 714.7 L 878.8 742 L 879.7 718.7 L 880.5 690 L 881.4 695.4 L 882.2 705.1 L 883.1 722.6 L 883.9 733.6 L 884.8 696.9 L 885.7 695.2 L 886.5 714.1 L 887.4 717.7 L 888.2 697.6 L 889.1 699.8 L 890 716.1 L 890.8 751.1 L 891.7 721.5 L 892.5 697.3 L 893.4 711.6 L 894.3 740.8 L 895.1 737.7 L 896 707.8 L 896.8 700.6 L 897.7 713.4 L 898.5 730.7 L 899.4 709 L 900.3 695.9 L 901.1 706.7 L 902 722 L 902.8 717.9 L 903.7 700 L 904.6 705.7 L 905.4 718.4 L 906.3 714 L 907.1 693.9 L 908 703.1 L 908.8 728.3 L 909.7 695.5 L 910.6 690.1 L 911.4 698.7 L 912.3 726.8 L 913.1 715.8 L 914 697.8 L 914.9 685.7 L 915.7 702.9 L 916.6 726.8 L 917.4 722.5 L 918.3 704.6 L 919.1 699.7 L 920 726.3 L 920.9 723.3 L 921.7 706.8 L 922.6 711.1 L 923.4 729.6 L 924.3 728.7 L 925.2 707.3 L 926 703.5 L 927.7 743.7 L 928.6 722.6 L 929.5 708.7 L 930.3 726.2 L 931.2 735.9 L 932 726.2 L 932.9 701.3 L 933.7 713.6 L 934.6 736.7 L 935.5 732.8 L 936.3 723.1 L 937.2 699.6 L 938 708.7 L 938.9 737.5 L 939.8 721.2 L 940.6 711.1 L 941.5 705.5 L 942.3 722.9 L 943.2 719.2 L 944 707.5 L 944.9 713.6 L 945.8 716.2 L 946.6 735.9 L 947.5 707 L 948.3 704.5 L 949.2 706.9 L 950.1 734.5 L 950.9 722.5 L 951.8 701.4 L 952.6 700.8 L 953.5 734.9 L 954.3 736.8 L 956.1 705.8 L 956.9 706.7 L 957.8 739.9 L 958.6 716.8 L 959.5 699.1 L 960.4 703.3 L 961.2 719.7 L 962.1 730.8 L 962.9 704.4 L 963.8 686.4 L 964.6 711.1 L 965.5 732.1 L 966.4 726 L 967.2 695 L 968.1 710.5 L 968.9 730.1 L 969.8 737.2 L 970.7 699.1 L 971.5 693.9 L 972.4 711.4 L 973.2 711.1 L 974.1 705.1 L 975 697.2 L 975.8 711.7 L 976.7 719.7 L 977.5 686.5 L 978.4 694.3 L 979.2 723.9 L 980.1 719.9 L 981 699.1 L 981.8 693 L 982.7 710.5 L 983.5 730.4 L 984.4 710.1 L 985.3 696.7 L 986.1 702.9 L 987 710.7 L 987.8 714.4 L 988.7 701 L 989.5 699.9 L 990.4 707.6 L 991.3 723.4 L 992.1 721.5 L 993 711.2 L 993.8 702.8 L 994.7 730.4 L 995.6 729.2 L 996.4 704.3 L 997.3 715.9 L 998.1 744.8 L 999 734.8 L 999.8 702.1 L 1000.7 708.9 L 1001.6 737.1 L 1002.4 739.2 L 1003.3 714.5 L 1004.1 708.1 L 1005 735.9 L 1005.9 747.9 L 1006.7 723 L 1007.6 714.3 L 1008.4 735.8 L 1009.3 741.9 L 1010.2 730.3 L 1011 716.8 L 1011.9 718.1 L 1012.7 723.2 L 1013.6 751.1 L 1014.4 718 L 1015.3 695.9 L 1016.2 735.5 L 1017 738.4 L 1017.9 717.5 L 1018.7 701.7 L 1019.6 719.7 L 1020.5 735.5 L 1021.3 718.6 L 1022.2 688.1 L 1023 698.7 L 1023.9 726.4 L 1024.7 718.9 L 1025.6 692.8 L 1026.5 706.5 L 1027.3 725.3 L 1028.2 727.1 L 1029 703.1 L 1029.9 702.3 L 1030.8 713.2 L 1031.6 741.5 L 1032.5 701.5 L 1033.3 698.8 L 1034.2 732.8 L 1035 739.1 L 1035.9 720.5 L 1036.8 696.2 L 1038.5 745.3 L 1039.3 727.5 L 1040.2 689.3 L 1041.1 715.4 L 1041.9 728.4 L 1042.8 735.9 L 1043.6 722.9 L 1044.5 703.2 L 1046.2 725 L 1047.1 730.9 L 1047.9 713.7 L 1048.8 686.6 L 1049.6 717.6 L 1050.5 734.1 L 1051.4 696.1 L 1052.2 687.5 L 1053.1 686.2 L 1053.9 716.1 L 1054.8 730.9 L 1055.7 710.5 L 1056.5 687.1 L 1057.4 695.5 L 1058.2 718.3 L 1059.1 694 L 1059.9 685.1 L 1060.8 699.4 L 1061.7 705.8 L 1062.5 675.4 L 1063.4 664.7 L 1064.2 676.4 L 1065.1 705.1 L 1066 688.5 L 1066.8 679.9 L 1067.7 698 L 1068.5 710.3 L 1069.4 707.1 L 1070.2 698.4 L 1071.1 692.5 L 1072 719.8 L 1072.8 719.7 L 1073.7 702.6 L 1074.5 689.1 L 1075.4 726.1 L 1076.3 728.7 L 1077.1 701.2 L 1078 692.6 L 1078.8 705.9 L 1079.7 737.7 L 1080.5 705.6 L 1081.4 705.3 L 1082.3 726.2 L 1083.1 731.7 L 1084 733.8 L 1084.8 703.4 L 1085.7 698.7 L 1086.6 708.8 L 1087.4 740.7 L 1088.3 729.3 L 1089.1 710.5 L 1090 710.6 L 1090.9 733 L 1091.7 738.9 L 1092.6 733.8 L 1093.4 707.6 L 1094.3 705.1 L 1095.1 723.8 L 1096 729.4 L 1097.7 693 L 1098.6 704 L 1099.4 726.7 L 1100.3 729 L 1101.2 700.3 L 1102 701 L 1102.9 727.4 L 1103.7 738.7 L 1105.4 693.7 L 1106.3 711 L 1107.2 724.8 L 1108 722.7 L 1108.9 702.2 L 1109.7 695.8 L 1110.6 711.6 L 1112.3 729.9 L 1113.2 691.1 L 1114 698.4 L 1114.9 727.3 L 1115.7 737.1 L 1116.6 703.8 L 1117.5 685.7 L 1118.3 715.1 L 1119.2 707.7 L 1120 704.9 L 1120.9 691.2 L 1121.8 693.8 L 1122.6 712.5 L 1123.5 717.7 L 1124.3 694.4 L 1125.2 697.9 L 1126 703.6 L 1126.9 712.6 L 1127.8 695.7 L 1128.6 682.7 L 1129.5 698.6 L 1130.3 724.4 L 1131.2 710.1 L 1132.1 681.2 L 1132.9 707.8 L 1133.8 717 L 1134.6 701.3 L 1135.5 697.8 L 1136.4 691.1 L 1137.2 706.7 L 1138.1 710.1 L 1138.9 704.3 L 1139.8 694.3 L 1140.6 714 L 1141.5 728 L 1142.4 717.1 L 1143.2 700 L 1144.1 688 L 1144.9 719.4 L 1145.8 736.2 L 1146.7 684.1 L 1147.5 688.8 L 1148.4 717.1 L 1149.2 732.1 L 1150.1 700 L 1150.9 696.4 L 1151.8 720.4 L 1152.7 732.4 L 1153.5 701.1 L 1154.4 686.4 L 1155.2 701.7 L 1156.1 734.1 L 1157 696.1 L 1157.8 699.5 L 1158.7 721.6 L 1159.5 724.3 L 1160.4 699 L 1161.2 704.7 L 1162.1 713.7 L 1163 724.6 L 1163.8 715.2 L 1164.7 695.9 L 1165.5 716.2 L 1166.4 724.3 L 1167.3 725.3 L 1168.1 715.2 L 1169 696.3 L 1170.7 724.5 L 1171.6 704.8 L 1172.4 697.8 L 1173.3 712.4 L 1174.1 729.8 L 1175 699 L 1175.8 694.7 L 1177.6 730.1 L 1178.4 726.9 L 1179.3 690.5 L 1180.1 694.9 L 1181 731 L 1181.9 725.1 L 1182.7 695.7 L 1183.6 707.1 L 1184.4 709.5 L 1185.3 718.1 L 1186.1 712.9 L 1187 694.6 L 1187.9 704.6 L 1188.7 727.6 L 1189.6 727 L 1190.4 706.9 L 1191.3 711.4 L 1192.2 727.8 L 1193 718.9 L 1193.9 704.4 L 1194.7 721 L 1195.6 725.1 L 1196.4 731 L 1197.3 716.6 L 1198.2 698.2 L 1199 722.9 L 1199.9 732.4 L 1200.7 720 L 1201.6 700.8 L 1202.5 718.6 L 1203.3 740.5 L 1204.2 724.5 L 1205 704.9 L 1205.9 696.3 L 1206.8 720.8 L 1207.6 750.1 L 1208.5 717.2 L 1209.3 694.8 L 1210.2 706.1 L 1211 729 L 1211.9 717.2 L 1212.8 702.4 L 1213.6 695.1 L 1214.5 732.4 L 1215.3 725.6 L 1216.2 697.5 L 1217.1 684.9 L 1217.9 710.3 L 1218.8 718.8 L 1219.6 708.5 L 1220.5 700 L 1221.3 728.8 L 1222.2 733.2 L 1223.1 691.2 L 1223.9 699.3 L 1224.8 732.8 L 1225.6 725.7 L 1226.5 698.2 L 1227.4 692.6 L 1228.2 717.7 L 1229.1 719.8 L 1229.9 685.2 L 1230.8 705.7 L 1231.6 729 L 1232.5 726.2 L 1233.4 693.4 L 1234.2 694.9 L 1235.1 694.8 L 1235.9 721.5 L 1237.7 703.7 L 1238.5 707.4 L 1239.4 705.9 L 1240.2 730.1 L 1241.1 706.6 L 1241.9 689.4 L 1242.8 694.7 L 1243.7 727.2 L 1244.5 714.9 L 1245.4 699 L 1246.2 698.3 L 1247.1 720.2 L 1248 718.7 L 1248.8 701.9 L 1249.7 691 L 1250.5 707.6 L 1251.4 740.1 L 1252.3 711.6 L 1253.1 690 L 1254 711.5 L 1254.8 730.1 L 1255.7 731.3 L 1256.5 706.3 L 1257.4 707.9 L 1258.3 713.6 L 1259.1 748.4 L 1260 731.5 L 1260.8 710.6 L 1261.7 706.7 L 1262.6 714.5 L 1263.4 732.8 L 1264.3 721.8 L 1265.1 704.2 L 1266 707.3 L 1266.8 736.1 L 1267.7 718.8 L 1268.6 703.9 L 1269.4 709.1 L 1270.3 734.6 L 1271.1 731.3 L 1271.7 710.9 L 1273.7 870.3 L 1273.7 870.3 " clip-path="url(#p2e0bae5d63)" style="fill: none; stroke: #1f9e89; stroke-opacity: 0.6; stroke-width: 1.5; stroke-linecap: square"/>
</g>
<g id="line2d_56">
<path d="M 415.2 889.3 L 416.1 888.9 L 416.9 890 L 417.8 891.3 L 419.5 888.1 L 420.4 888.5 L 421.2 890.6 L 422.1 890.3 L 422.9 888.9 L 423.8 889 L 424.6 843.8 L 426.4 827.5 L 429.8 803.4 L 430.7 796.3 L 431.5 793.2 L 432.4 791.7 L 433.2 785.9 L 434.1 777.2 L 434.9 772.7 L 435.8 770.9 L 436.7 771.9 L 437.5 760.1 L 438.4 754.6 L 440.1 762.1 L 441 757.5 L 441.8 750.1 L 442.7 744.7 L 443.5 753.4 L 444.4 750.4 L 445.2 743.5 L 446.1 741.8 L 447 749.4 L 447.8 744 L 448.7 745 L 449.5 730.6 L 450.4 729.3 L 452.1 746 L 453 728.3 L 453.8 726 L 455.6 739.2 L 456.4 731.3 L 457.3 725.7 L 458.1 728 L 459.8 739.5 L 460.7 736.2 L 461.6 727.6 L 462.4 726.4 L 463.3 737.6 L 464.1 738.1 L 465 738.3 L 465.9 724.6 L 466.7 732.1 L 467.6 740.7 L 468.4 733.7 L 469.3 724.8 L 470.1 729.7 L 471 735.7 L 472.7 738.9 L 473.6 731.1 L 474.4 724.4 L 475.3 730.4 L 476.2 740.9 L 477 743.1 L 477.9 731.8 L 478.7 723 L 479.6 737.1 L 480.4 739.6 L 481.3 738.3 L 482.2 722.1 L 483 732 L 483.9 738.2 L 484.7 745.7 L 485.6 728 L 486.5 726.8 L 487.3 734.4 L 488.2 735 L 489 733.9 L 489.9 724.5 L 490.7 731.7 L 491.6 743.3 L 492.5 738.2 L 493.3 725.9 L 494.2 732.2 L 495 741.5 L 495.9 738.4 L 496.8 727.7 L 497.6 728.4 L 498.5 734.7 L 499.3 737 L 500.2 724.4 L 501.1 724.2 L 502.8 741.1 L 503.6 734.4 L 504.5 725 L 505.3 727.5 L 506.2 738.5 L 507.1 737.9 L 507.9 726.1 L 508.8 722.1 L 509.6 737.9 L 510.5 738 L 511.4 735.8 L 512.2 725.5 L 513.1 730.2 L 513.9 745.2 L 514.8 736.4 L 515.6 721 L 517.4 740.3 L 519.1 722.6 L 519.9 727.5 L 520.8 743 L 521.7 734.8 L 522.5 720.8 L 523.4 731 L 524.2 744.1 L 525.9 724.8 L 526.8 732.2 L 527.7 743.9 L 528.5 728 L 529.4 722.3 L 530.2 729.2 L 531.1 735.1 L 532 734.5 L 532.8 726.5 L 533.7 720.7 L 534.5 737.3 L 535.4 745.4 L 536.3 737.2 L 537.1 726.4 L 538 727 L 538.8 727.3 L 539.7 733.3 L 540.5 734.5 L 541.4 730.2 L 542.3 738.4 L 543.1 734 L 544 735.3 L 544.8 727.3 L 545.7 733.5 L 546.6 738.3 L 547.4 728.5 L 548.3 726.8 L 549.1 733.6 L 550 742.9 L 550.8 725.4 L 551.7 724.5 L 552.6 744.4 L 553.4 744.4 L 554.3 727.6 L 555.1 724.7 L 556 732 L 556.9 737.7 L 557.7 737.7 L 558.6 726.6 L 559.4 722.4 L 560.3 732.6 L 561.1 732.7 L 562 722.5 L 562.9 729.6 L 563.7 734.8 L 564.6 740.8 L 565.4 728 L 566.3 721.7 L 568 738.1 L 568.9 730.4 L 569.7 720.3 L 570.6 721.1 L 571.4 730.9 L 572.3 733.7 L 573.2 722.2 L 574 722.6 L 574.9 732.4 L 575.7 732.7 L 576.6 725.5 L 577.5 723.3 L 578.3 732.5 L 579.2 736.2 L 580 726.1 L 580.9 723.5 L 581.8 720.2 L 582.6 728.5 L 583.5 735.1 L 584.3 737.7 L 585.2 727.3 L 586 726.9 L 587.8 738.9 L 588.6 734.9 L 589.5 723.7 L 590.3 725.3 L 592.1 735.7 L 592.9 733.8 L 593.8 727.9 L 594.6 729.8 L 595.5 735.3 L 596.3 741.8 L 597.2 737.3 L 598.1 721.9 L 598.9 730.5 L 599.8 740.7 L 600.6 733 L 601.5 717.9 L 603.2 746.4 L 604.1 737.7 L 605.8 712.6 L 606.6 728 L 607.5 739 L 609.2 718.5 L 610.1 722.5 L 610.9 735.9 L 611.8 735.2 L 612.7 722.8 L 613.5 725.8 L 614.4 732.9 L 615.2 730.6 L 616.1 722.9 L 617.8 711.3 L 618.7 714.7 L 619.5 731.9 L 620.4 731.3 L 621.2 716.6 L 622.1 716 L 623 722.8 L 623.8 728.3 L 624.7 725.8 L 625.5 711.8 L 626.4 709.1 L 627.3 716.2 L 628.1 730.6 L 629 727.6 L 629.8 722.2 L 630.7 702.9 L 631.5 713.3 L 632.4 735.9 L 633.3 726.4 L 634.1 706.5 L 635 712.9 L 635.8 732.6 L 636.7 731.7 L 637.6 715.1 L 638.4 712.1 L 639.3 730.8 L 640.1 743.5 L 641 732.4 L 641.8 709.5 L 642.7 709.1 L 644.4 742 L 645.3 737.8 L 646.1 721 L 647 715.6 L 648.7 741.8 L 649.6 731.1 L 650.4 712.2 L 652.1 746.3 L 653 726.2 L 653.9 713.6 L 654.7 718.6 L 655.6 742 L 656.4 735.7 L 657.3 718.2 L 658.2 718.5 L 659 730.9 L 659.9 731.5 L 660.7 722.2 L 661.6 709.3 L 662.5 733.9 L 663.3 745.3 L 664.2 724.9 L 665 715 L 665.9 726.5 L 666.7 742.8 L 667.6 733.3 L 668.5 722.1 L 669.3 694.8 L 670.2 724.5 L 671 746.6 L 671.9 735 L 672.8 708.6 L 673.6 714.7 L 674.5 738.2 L 675.3 738 L 676.2 706.9 L 677 709.4 L 678.8 744.4 L 679.6 733.9 L 680.5 709.2 L 681.3 732.2 L 682.2 745.9 L 683.1 740.1 L 683.9 710.1 L 685.6 734.2 L 686.5 755.9 L 687.3 741.6 L 688.2 717.4 L 689.9 740.5 L 690.8 729.5 L 691.6 715.5 L 692.5 731.7 L 693.4 757.2 L 694.2 736.1 L 695.1 718.5 L 695.9 715.6 L 696.8 743.4 L 697.7 747.7 L 698.5 719.2 L 699.4 717.4 L 700.2 740.4 L 701.1 746.1 L 702.8 710.8 L 703.7 726.4 L 704.5 735.2 L 705.4 729.1 L 706.2 707.2 L 708 743.4 L 708.8 723.4 L 709.7 709.5 L 710.5 730.4 L 711.4 737.8 L 712.2 713.8 L 713.1 727.7 L 714 735.4 L 714.8 724.4 L 715.7 717.6 L 716.5 720.4 L 717.4 748.7 L 719.1 710.8 L 720 714.1 L 720.8 733.1 L 721.7 745 L 722.5 734 L 723.4 717.4 L 724.3 723.3 L 725.1 741 L 726 749.7 L 726.8 726.8 L 727.7 716.4 L 728.6 716.2 L 729.4 744.6 L 730.3 753.8 L 731.1 740.5 L 732 722.8 L 732.9 712.6 L 733.7 728.4 L 734.6 749 L 737.1 712.5 L 738 735.7 L 738.9 744.7 L 739.7 734.4 L 740.6 713.3 L 742.3 741.8 L 743.2 739.5 L 744 710.3 L 744.9 711.4 L 745.7 740 L 746.6 741.3 L 747.4 717.5 L 748.3 711.7 L 750 747.3 L 750.9 720.3 L 751.7 699 L 752.6 702.4 L 753.5 724.9 L 754.3 744.3 L 755.2 732.2 L 756 705.1 L 756.9 742.2 L 757.7 738.1 L 758.6 717.7 L 759.5 710.8 L 760.3 731 L 761.2 737.5 L 762 711.9 L 762.9 710 L 763.8 743 L 764.6 724.1 L 765.5 696.5 L 766.3 726.7 L 767.2 744.7 L 768 731.9 L 768.9 692.6 L 770.6 753.4 L 772.3 704.7 L 773.2 733.2 L 774.1 740.7 L 774.9 714.4 L 775.8 713.2 L 776.6 740.6 L 777.5 731.9 L 778.4 706.9 L 779.2 713.8 L 780.1 731.5 L 781.8 748.7 L 782.6 740.2 L 783.5 711.9 L 784.4 711 L 786.1 744.8 L 786.9 733.4 L 787.8 712.8 L 788.7 722.5 L 789.5 741.1 L 790.4 728 L 791.2 703.3 L 792.1 716.7 L 792.9 737 L 793.8 745.9 L 794.7 713.1 L 795.5 721.9 L 796.4 735.9 L 797.2 735 L 798.1 712.9 L 799 704.8 L 799.8 751.2 L 800.7 743.9 L 801.5 710.5 L 802.4 712.7 L 803.2 734.5 L 804.1 743.1 L 805 725.5 L 805.8 700.6 L 807.5 741.4 L 808.4 739.8 L 809.3 736.4 L 810.1 713.1 L 811 721.3 L 811.8 738.2 L 812.7 742.5 L 813.6 725.6 L 814.4 705.3 L 815.3 723.7 L 816.1 752 L 817 723.6 L 817.8 715.8 L 818.7 706.4 L 819.6 738.4 L 820.4 736.1 L 821.3 701.3 L 822.1 704.1 L 823 721.7 L 823.9 734.6 L 824.7 704.5 L 825.6 704.4 L 826.4 728.3 L 827.3 728.8 L 828.1 700.9 L 829 698.5 L 829.9 727 L 830.7 722.8 L 831.6 698.5 L 832.4 705.3 L 833.3 714.3 L 834.2 746.8 L 835 734 L 836.7 699.5 L 838.4 744.8 L 839.3 700.9 L 840.2 706.7 L 841 723.9 L 841.9 729.3 L 842.7 720.7 L 843.6 713.4 L 845.3 748.1 L 846.2 730.4 L 847 695.2 L 847.9 716.4 L 848.7 744.9 L 849.6 726.9 L 850.5 717.1 L 851.3 710.1 L 853 730.4 L 853.9 721.7 L 854.8 706.5 L 855.6 709.2 L 856.5 724.8 L 857.3 720.6 L 858.2 710.9 L 859.1 693.2 L 859.9 727.2 L 860.8 723.9 L 861.6 720.2 L 862.5 702.1 L 863.3 703.9 L 864.2 736.4 L 865.1 731 L 865.9 702.4 L 866.8 692.6 L 868.5 729.4 L 869.4 721.7 L 870.2 699.4 L 871.1 721.3 L 871.9 730.1 L 872.8 715.1 L 873.6 695.5 L 874.5 705.1 L 875.4 722 L 876.2 743.7 L 877.1 700.3 L 877.9 693.7 L 878.8 719.5 L 879.7 731.7 L 880.5 720.6 L 881.4 694.6 L 882.2 714.2 L 883.1 723.4 L 883.9 730.5 L 884.8 697.7 L 885.7 692.4 L 886.5 713 L 887.4 724.6 L 888.2 723.8 L 889.1 721.4 L 890 704.2 L 890.8 695.6 L 891.7 712.7 L 892.5 734.4 L 893.4 732.9 L 895.1 683.7 L 896 699.9 L 896.8 728.8 L 897.7 720.8 L 898.5 697.7 L 899.4 700.3 L 900.3 735.9 L 901.1 738.5 L 902 710.2 L 902.8 696.9 L 903.7 714.8 L 904.6 725.4 L 905.4 729.4 L 906.3 705.8 L 907.1 710.3 L 908 720.4 L 908.8 722.2 L 909.7 702.8 L 910.6 703 L 911.4 730.2 L 912.3 712.6 L 913.1 710.3 L 914 712.6 L 914.9 732.9 L 915.7 737.4 L 916.6 714.7 L 917.4 714.8 L 918.3 732.3 L 919.1 746.5 L 920 727.8 L 920.9 716.3 L 921.7 697.5 L 922.6 750.1 L 923.4 741.8 L 924.3 712.3 L 925.2 724.7 L 926 754.4 L 926.9 765.2 L 927.7 717.2 L 928.6 719 L 929.5 743.2 L 930.3 763.1 L 931.2 747.6 L 932 728.6 L 932.9 724.8 L 933.7 746.3 L 934.6 743.8 L 935.5 718.6 L 936.3 713.4 L 937.2 739.1 L 938 752.1 L 938.9 731.4 L 939.8 720.9 L 940.6 748.6 L 941.5 742.4 L 942.3 741.4 L 943.2 728.5 L 944 720 L 944.9 725 L 945.8 747.7 L 946.6 735.3 L 947.5 701.9 L 948.3 721.4 L 949.2 753.1 L 950.1 724.4 L 950.9 718.5 L 951.8 735 L 952.6 746.1 L 953.5 719.3 L 954.3 705.2 L 955.2 735.6 L 956.1 741.8 L 956.9 724.2 L 957.8 703.3 L 958.6 721.5 L 959.5 737.1 L 960.4 744.9 L 962.1 704.3 L 962.9 732.3 L 963.8 745.9 L 964.6 719 L 965.5 698.9 L 966.4 716.6 L 967.2 725 L 968.1 747.2 L 968.9 714.8 L 969.8 707.2 L 970.7 712.3 L 971.5 742.8 L 972.4 717.3 L 973.2 699.7 L 974.1 731.2 L 975 725.7 L 975.8 723.8 L 976.7 714 L 977.5 700.5 L 978.4 724.5 L 979.2 742.7 L 980.1 716.6 L 981 698.7 L 981.8 714.7 L 982.7 742 L 983.5 736.7 L 985.3 704.1 L 986.1 718.4 L 987 746.4 L 987.8 723.6 L 988.7 705.2 L 989.5 717.9 L 990.4 739.1 L 991.3 736.9 L 992.1 721.2 L 993 702.8 L 993.8 717.9 L 994.7 751.2 L 995.6 731.1 L 996.4 707 L 997.3 715.4 L 998.1 733.7 L 999 735.4 L 999.8 706.4 L 1000.7 707.3 L 1001.6 733.5 L 1002.4 730.6 L 1003.3 696.8 L 1004.1 718 L 1005 750.6 L 1005.9 722.2 L 1006.7 712.2 L 1007.6 718.9 L 1008.4 740.5 L 1009.3 728.1 L 1010.2 727.9 L 1011 721.4 L 1011.9 728.8 L 1012.7 745.1 L 1013.6 740.7 L 1014.4 705.8 L 1015.3 725.5 L 1016.2 751.2 L 1017 726.1 L 1017.9 710.2 L 1018.7 724.5 L 1019.6 748.3 L 1020.5 736.1 L 1021.3 719.9 L 1023 736 L 1023.9 745.3 L 1024.7 728.6 L 1025.6 708.5 L 1026.5 727.6 L 1027.3 751.7 L 1028.2 736.7 L 1029 708.3 L 1029.9 703.9 L 1030.8 725.1 L 1031.6 742.1 L 1032.5 713.8 L 1033.3 714.5 L 1034.2 734.8 L 1035 739.8 L 1035.9 732.4 L 1036.8 707.7 L 1037.6 706.8 L 1038.5 711.2 L 1039.3 730.3 L 1040.2 741.3 L 1041.1 721.9 L 1041.9 710 L 1042.8 704.3 L 1043.6 721.9 L 1044.5 731.1 L 1045.3 714.2 L 1046.2 702.1 L 1047.1 726.3 L 1047.9 737.1 L 1048.8 733.1 L 1049.6 705.7 L 1050.5 708 L 1051.4 717.2 L 1052.2 728.5 L 1053.1 707.6 L 1053.9 712.4 L 1054.8 730.7 L 1055.7 718.3 L 1056.5 714.7 L 1057.4 709 L 1058.2 728.8 L 1059.1 731.8 L 1059.9 726.8 L 1060.8 710.1 L 1061.7 711.8 L 1062.5 719.3 L 1063.4 732.7 L 1064.2 712.4 L 1065.1 706.7 L 1066 705.1 L 1066.8 730.8 L 1067.7 731 L 1068.5 725.7 L 1069.4 712.4 L 1070.2 720.2 L 1071.1 737.7 L 1072 724.6 L 1072.8 709.8 L 1073.7 713.3 L 1076.3 744.3 L 1077.1 721.2 L 1078 713.5 L 1078.8 747.3 L 1079.7 741 L 1080.5 713.8 L 1081.4 725.4 L 1082.3 739.4 L 1083.1 739.6 L 1084 712.4 L 1084.8 739.1 L 1085.7 743.5 L 1086.6 720.9 L 1087.4 712.2 L 1088.3 725 L 1089.1 740.8 L 1090.9 712.9 L 1091.7 706.6 L 1092.6 732.3 L 1093.4 726.7 L 1094.3 718.1 L 1095.1 719.5 L 1096 740 L 1096.9 742.4 L 1097.7 727.6 L 1098.6 707.5 L 1099.4 729.1 L 1100.3 741.6 L 1101.2 722.3 L 1102 712.9 L 1102.9 724 L 1103.7 739.2 L 1104.6 728.4 L 1105.4 705.4 L 1106.3 717.3 L 1107.2 737.4 L 1108 718.2 L 1108.9 705 L 1109.7 701.4 L 1110.6 718.2 L 1111.5 727.5 L 1112.3 729.5 L 1113.2 710.9 L 1114 711.9 L 1114.9 724.2 L 1115.7 740.5 L 1116.6 724.3 L 1117.5 711.5 L 1118.3 724.1 L 1119.2 740.3 L 1120 724.6 L 1120.9 702.8 L 1121.8 705.6 L 1122.6 717.7 L 1124.3 738.7 L 1125.2 727.8 L 1126 707.2 L 1126.9 701.4 L 1128.6 737.1 L 1129.5 724.5 L 1130.3 704.2 L 1131.2 712.9 L 1132.1 734 L 1132.9 746.2 L 1133.8 718.9 L 1134.6 698.5 L 1135.5 727.6 L 1136.4 727.3 L 1137.2 723.2 L 1138.1 704 L 1139.8 723.5 L 1140.6 735.9 L 1141.5 716.7 L 1142.4 717.5 L 1143.2 733 L 1144.1 737.2 L 1144.9 723.4 L 1145.8 705.8 L 1147.5 740.9 L 1148.4 733.5 L 1149.2 707.8 L 1150.1 718.4 L 1150.9 739.7 L 1151.8 744.1 L 1152.7 733 L 1153.5 713 L 1154.4 718.6 L 1155.2 750.2 L 1156.1 735.7 L 1157 717.5 L 1157.8 724.4 L 1158.7 738.6 L 1159.5 733.8 L 1160.4 710.9 L 1161.2 727.1 L 1162.1 755.4 L 1163 742.6 L 1163.8 713.4 L 1165.5 746 L 1166.4 728 L 1167.3 716 L 1168.1 712.9 L 1169 740.4 L 1169.8 741.7 L 1170.7 719.5 L 1171.6 711.9 L 1172.4 727.9 L 1174.1 750.1 L 1175 720.5 L 1175.8 699.7 L 1176.7 712.4 L 1177.6 749.2 L 1178.4 728.8 L 1179.3 704.2 L 1180.1 724 L 1181 731.3 L 1181.9 732.1 L 1182.7 696.8 L 1183.6 699.2 L 1184.4 722.3 L 1185.3 731.1 L 1186.1 715.7 L 1187 682.1 L 1187.9 718.2 L 1188.7 733.5 L 1190.4 692.8 L 1191.3 714.3 L 1192.2 728.9 L 1193 716.5 L 1193.9 698.8 L 1194.7 688 L 1195.6 706.3 L 1196.4 715 L 1197.3 733.7 L 1198.2 711.4 L 1199 706.3 L 1199.9 710.1 L 1200.7 728.1 L 1201.6 717.5 L 1202.5 693.1 L 1204.2 733.5 L 1205 731.6 L 1205.9 715.2 L 1206.8 694 L 1207.6 707.6 L 1208.5 723.5 L 1209.3 736.7 L 1210.2 736.8 L 1211 714 L 1211.9 715.9 L 1212.8 728.7 L 1213.6 738.7 L 1214.5 716.1 L 1215.3 711.4 L 1216.2 729.8 L 1217.1 740.9 L 1217.9 742 L 1218.8 700.6 L 1219.6 709.3 L 1220.5 734.2 L 1221.3 741.2 L 1222.2 723.9 L 1223.1 714.7 L 1223.9 724.8 L 1224.8 737.7 L 1225.6 737.9 L 1226.5 715.3 L 1228.2 727.2 L 1229.1 747.5 L 1230.8 711.2 L 1231.6 723.3 L 1232.5 748.4 L 1233.4 755.4 L 1235.1 702.6 L 1235.9 706.6 L 1236.8 739.7 L 1237.7 740.6 L 1238.5 742.9 L 1239.4 722.5 L 1240.2 707.2 L 1241.1 727.7 L 1241.9 737.2 L 1242.8 736.6 L 1243.7 712.4 L 1244.5 720.8 L 1245.4 741.4 L 1246.2 725.2 L 1247.1 706 L 1248 727.1 L 1248.8 741.2 L 1249.7 722.3 L 1250.5 713.3 L 1251.4 713.8 L 1252.3 740.2 L 1253.1 727.9 L 1254 706.7 L 1254.8 718.3 L 1255.7 737.8 L 1256.5 711.1 L 1257.4 707.4 L 1258.3 712 L 1259.1 739.9 L 1260 748.8 L 1260.8 738.2 L 1261.7 712.7 L 1262.6 691.6 L 1263.4 717.8 L 1264.3 740.2 L 1265.1 715 L 1266 702.8 L 1267.7 739.6 L 1268.6 732 L 1269.4 706.4 L 1270.3 698.2 L 1271.1 735.2 L 1271.7 738.5 L 1273.7 870.3 L 1273.7 870.3 " clip-path="url(#p2e0bae5d63)" style="fill: none; stroke: #1f9e89; stroke-opacity: 0.6; stroke-width: 1.5; stroke-linecap: square"/>
</g>
<g id="line2d_57">
<path d="M 415.2 857.8 L 416.1 857.8 L 416.9 858.7 L 417.8 858.4 L 418.6 857.8 L 419.5 857.4 L 420.4 858.8 L 421.2 858.5 L 422.1 857.8 L 422.9 857.8 L 423.8 858.7 L 428.1 771.3 L 428.9 767.3 L 429.8 762.3 L 430.7 759.6 L 431.5 756.4 L 433.2 746.6 L 434.1 745 L 434.9 740.9 L 435.8 735.5 L 436.7 735.2 L 437.5 735.9 L 438.4 739 L 439.2 735.3 L 440.1 733.6 L 441 735.6 L 441.8 736.7 L 443.5 732.8 L 444.4 733.3 L 445.2 734.9 L 446.1 729.1 L 447 729.3 L 447.8 731.1 L 448.7 731.1 L 449.5 724.9 L 450.4 726.2 L 451.3 729.2 L 452.1 724.5 L 453 714.6 L 453.8 708.1 L 454.7 703.1 L 455.6 684.3 L 456.4 669.2 L 458.1 652.6 L 459 654.7 L 459.8 650.6 L 460.7 649.2 L 461.6 656.7 L 462.4 656.4 L 463.3 649.6 L 464.1 649.9 L 465.9 652.3 L 467.6 644.3 L 468.4 644.9 L 469.3 648.7 L 470.1 645.1 L 471 638.4 L 471.9 636.5 L 472.7 638.2 L 473.6 640.4 L 474.4 632.2 L 475.3 633.3 L 476.2 643.2 L 477 647.6 L 477.9 653 L 478.7 655.7 L 479.6 665.7 L 481.3 693.9 L 482.2 695.6 L 483 697.1 L 484.7 712.8 L 485.6 713.4 L 486.5 711 L 487.3 716.4 L 488.2 723.4 L 489 727.1 L 489.9 724.2 L 490.7 725.4 L 491.6 731.2 L 492.5 731.4 L 493.3 726.8 L 494.2 727.1 L 495 731.1 L 495.9 732.9 L 496.8 723.6 L 498.5 730.6 L 499.3 732.3 L 500.2 727.9 L 501.1 725.9 L 501.9 727.9 L 502.8 731.8 L 503.6 728.7 L 504.5 723.6 L 505.3 728 L 506.2 735.3 L 507.1 730.4 L 507.9 724.7 L 508.8 725.1 L 509.6 730 L 510.5 731.3 L 511.4 725 L 512.2 724.2 L 513.1 731 L 513.9 731.5 L 514.8 729.6 L 515.6 725.9 L 516.5 731.7 L 517.4 732.7 L 518.2 726 L 519.1 723.7 L 519.9 727.8 L 520.8 732.8 L 521.7 727.3 L 522.5 724 L 524.2 729.2 L 525.1 730.8 L 525.9 726.8 L 526.8 724.9 L 527.7 730.2 L 528.5 732.7 L 529.4 731.8 L 530.2 726.2 L 531.1 723.9 L 532 731.8 L 532.8 732 L 533.7 727.5 L 534.5 726.4 L 535.4 730.2 L 536.3 731.2 L 537.1 726.3 L 538 724.1 L 539.7 733 L 540.5 730.5 L 541.4 723 L 543.1 734.1 L 544 731.5 L 544.8 730.2 L 545.7 725 L 546.6 727.2 L 547.4 731.1 L 548.3 729 L 549.1 725.5 L 550.8 732.5 L 551.7 731.1 L 552.6 726.3 L 553.4 726.2 L 554.3 734.1 L 555.1 728 L 556 724.8 L 556.9 730.2 L 557.7 731.4 L 559.4 725.2 L 560.3 729.3 L 561.1 731.6 L 562 731 L 562.9 729.2 L 563.7 727 L 564.6 726.3 L 565.4 729.9 L 566.3 729.6 L 567.2 725 L 568 727.1 L 569.7 733.3 L 570.6 725.7 L 571.4 724.7 L 572.3 727.5 L 573.2 731.9 L 574 730.1 L 574.9 724.2 L 575.7 728.4 L 576.6 733.6 L 577.5 728.4 L 578.3 726.4 L 579.2 728.8 L 580 730.4 L 580.9 725.2 L 581.8 725.7 L 582.6 731 L 583.5 728.7 L 584.3 723.6 L 585.2 730 L 586 730.8 L 587.8 723.3 L 588.6 725 L 589.5 731 L 590.3 729.9 L 591.2 726.5 L 592.1 725.3 L 592.9 733.7 L 593.8 736.6 L 594.6 730.1 L 595.5 727 L 596.3 725.9 L 597.2 733.7 L 598.1 734.8 L 598.9 729.6 L 599.8 726.7 L 600.6 734.4 L 601.5 731.6 L 602.4 725.8 L 603.2 732.8 L 604.1 736.9 L 605.8 728.5 L 606.6 732.6 L 607.5 735 L 608.4 736.9 L 609.2 731.2 L 610.1 722.9 L 610.9 720.6 L 611.8 712 L 613.5 672.6 L 614.4 675.2 L 615.2 672.6 L 616.1 666 L 617 669 L 617.8 675.2 L 618.7 680.2 L 619.5 684.4 L 621.2 698.6 L 622.1 712.8 L 623 708.2 L 623.8 706.2 L 624.7 710.9 L 626.4 726.1 L 627.3 725 L 628.1 720.3 L 629 732 L 629.8 729.3 L 630.7 719.8 L 631.5 722.4 L 632.4 729.6 L 634.1 717.5 L 635 721 L 635.8 733 L 636.7 729.7 L 637.6 720.9 L 638.4 725.1 L 639.3 735.5 L 640.1 731.1 L 641 723.5 L 641.8 719.9 L 642.7 729.2 L 643.6 732.4 L 644.4 731.2 L 645.3 724.8 L 646.1 727.7 L 647 732.9 L 647.9 732.5 L 648.7 721.8 L 649.6 737.4 L 650.4 737.4 L 651.3 727.7 L 652.1 725.9 L 653 730.2 L 653.9 740.9 L 654.7 733.6 L 655.6 730.9 L 656.4 725.1 L 657.3 738.6 L 658.2 741.6 L 659 729.8 L 659.9 729.8 L 660.7 737.1 L 661.6 741.6 L 662.5 738.4 L 663.3 732 L 664.2 728.5 L 665.9 748.3 L 666.7 735 L 667.6 730.3 L 668.5 729.3 L 669.3 735.3 L 670.2 742.5 L 671 738.5 L 671.9 728.3 L 673.6 742 L 675.3 737.5 L 676.2 736.5 L 677 732.1 L 677.9 743.2 L 678.8 747.4 L 679.6 735.8 L 680.5 731.7 L 681.3 741 L 682.2 737.1 L 683.1 731.3 L 683.9 731.5 L 684.8 741.4 L 685.6 745.1 L 686.5 735.3 L 687.3 731.5 L 688.2 742.9 L 689.1 735.3 L 689.9 729.9 L 690.8 739.7 L 691.6 752.9 L 693.4 739.6 L 695.1 764.7 L 696.8 747.3 L 697.7 757.6 L 698.5 761.8 L 699.4 764.8 L 700.2 754.9 L 701.1 756.2 L 701.9 773.5 L 702.8 774.3 L 703.7 765.4 L 704.5 768.5 L 705.4 780.6 L 706.2 780.5 L 707.1 772.4 L 708 770.3 L 708.8 779.5 L 709.7 787.2 L 710.5 782.9 L 711.4 775.7 L 712.2 761.5 L 713.1 757.3 L 714.8 700.4 L 715.7 694.9 L 716.5 691.5 L 717.4 682 L 718.3 663.6 L 719.1 659.8 L 720 667.4 L 720.8 662.9 L 721.7 650.1 L 722.5 644.4 L 723.4 645.7 L 724.3 648.7 L 726 628.2 L 726.8 623.2 L 727.7 638.5 L 728.6 643.7 L 729.4 635.3 L 730.3 619.4 L 731.1 614.1 L 732 624.1 L 732.9 627.7 L 733.7 624.8 L 734.6 615.7 L 736.3 639.5 L 737.1 640.1 L 738 646.3 L 738.9 654.6 L 739.7 680.6 L 740.6 696.1 L 741.4 704.9 L 742.3 709.9 L 744 731.3 L 744.9 733 L 745.7 724.6 L 746.6 733.8 L 747.4 747.6 L 748.3 745.7 L 749.2 731.4 L 750 727.7 L 750.9 741.1 L 751.7 748.8 L 752.6 747.3 L 753.5 739.8 L 754.3 742.3 L 755.2 745.8 L 756 768.2 L 756.9 768.4 L 757.7 768.3 L 758.6 772.5 L 759.5 782.8 L 760.3 765.5 L 761.2 772 L 762 780.1 L 762.9 777.1 L 763.8 765.8 L 764.6 765.2 L 765.5 771.4 L 766.3 773.3 L 767.2 759.4 L 768.9 781.4 L 769.8 771.9 L 770.6 775.3 L 771.5 782.7 L 772.3 794.6 L 773.2 796.6 L 774.1 786.9 L 774.9 782.4 L 775.8 806 L 776.6 806.3 L 777.5 795.5 L 778.4 794.2 L 779.2 810.8 L 780.1 813 L 780.9 798 L 781.8 802.5 L 782.6 810.9 L 783.5 815.8 L 784.4 811 L 785.2 804.3 L 786.1 820.4 L 786.9 821.3 L 787.8 819 L 788.7 822.2 L 789.5 828.5 L 790.4 818.8 L 791.2 798.7 L 792.1 769.2 L 792.9 772.6 L 793.8 774.7 L 794.7 757.9 L 795.5 747.4 L 796.4 747.9 L 797.2 752.7 L 799 733.9 L 799.8 724.2 L 800.7 733.2 L 801.5 740.9 L 802.4 728.4 L 803.2 713.5 L 804.1 719.4 L 805 722.8 L 805.8 716.9 L 806.7 702.1 L 807.5 700 L 808.4 706.8 L 809.3 701.6 L 810.1 691.3 L 811 682.4 L 811.8 691.9 L 812.7 686.5 L 813.6 673.6 L 814.4 673.2 L 815.3 679.6 L 816.1 673.2 L 817 659.2 L 817.8 653.8 L 818.7 652.3 L 819.6 646.2 L 820.4 626.6 L 821.3 620 L 822.1 622.5 L 823 622.7 L 823.9 610.5 L 824.7 603.8 L 825.6 615.5 L 826.4 619.6 L 827.3 613.3 L 828.1 604 L 829 615.8 L 829.9 619.8 L 830.7 612.9 L 831.6 602.1 L 832.4 602.7 L 833.3 616.1 L 835 592.9 L 835.9 594.3 L 836.7 599.5 L 837.6 584.6 L 838.4 573.4 L 839.3 567.9 L 840.2 560.8 L 841 555.5 L 841.9 551.8 L 842.7 565.3 L 843.6 573.6 L 844.5 567.5 L 845.3 554.3 L 846.2 558.4 L 847 557.6 L 847.9 551.4 L 848.7 563.5 L 850.5 610 L 851.3 615.3 L 852.2 624.8 L 853.9 667.8 L 854.8 681.2 L 855.6 673.8 L 856.5 683.4 L 857.3 704 L 858.2 702 L 859.9 681.8 L 860.8 692.5 L 861.6 693.3 L 862.5 676.5 L 863.3 675.2 L 864.2 692.6 L 865.1 703.8 L 865.9 706.2 L 866.8 699.7 L 867.6 705.3 L 868.5 720.8 L 869.4 723.4 L 870.2 722.2 L 871.1 714.4 L 871.9 713.8 L 873.6 728.7 L 874.5 725.9 L 875.4 724 L 876.2 721.4 L 877.1 732.1 L 877.9 740.5 L 878.8 732.5 L 879.7 722.3 L 880.5 727.7 L 881.4 748.3 L 882.2 738.5 L 883.1 722.9 L 883.9 726.6 L 884.8 739.6 L 885.7 747.7 L 886.5 730.7 L 887.4 723.9 L 888.2 733.9 L 889.1 747.6 L 890 739.3 L 890.8 718.7 L 891.7 714.7 L 892.5 735.4 L 893.4 735.4 L 894.3 720.8 L 895.1 719.1 L 896.8 746 L 897.7 744.2 L 898.5 715 L 899.4 716.9 L 900.3 748.7 L 901.1 741.8 L 902 712.3 L 902.8 716 L 903.7 749.1 L 904.6 735 L 905.4 718.7 L 906.3 718.7 L 907.1 747 L 908 757.6 L 908.8 725.2 L 909.7 717.9 L 910.6 735.6 L 911.4 739.5 L 912.3 739.7 L 913.1 719.5 L 914 740.5 L 914.9 756.3 L 915.7 730.6 L 916.6 721.4 L 918.3 755.4 L 919.1 732.5 L 920 719.7 L 920.9 731.3 L 921.7 745.8 L 923.4 724.3 L 924.3 729.9 L 925.2 749.3 L 926 729.8 L 926.9 713.2 L 927.7 722.2 L 928.6 748.4 L 929.5 741.5 L 930.3 713.5 L 931.2 723.1 L 932 740.5 L 932.9 740.6 L 933.7 720.4 L 934.6 722.5 L 935.5 752.8 L 936.3 729.2 L 937.2 712.8 L 938 723.8 L 938.9 737.8 L 939.8 742.9 L 940.6 716.4 L 941.5 713.9 L 942.3 743.9 L 943.2 738.2 L 944 715.1 L 944.9 730.1 L 945.8 742.7 L 946.6 721.3 L 947.5 713.3 L 948.3 749 L 949.2 743.3 L 950.1 716.8 L 950.9 716.1 L 951.8 746.3 L 952.6 751.4 L 953.5 748.3 L 954.3 707.8 L 956.1 751.1 L 956.9 735 L 957.8 714 L 958.6 727.6 L 959.5 747 L 960.4 744.3 L 961.2 717.4 L 962.1 741.8 L 962.9 760.3 L 963.8 735.1 L 964.6 718.2 L 966.4 757.6 L 967.2 735.4 L 968.1 724.4 L 968.9 734.6 L 969.8 747.2 L 970.7 751.2 L 971.5 730.7 L 972.4 713 L 973.2 738.4 L 974.1 749.8 L 975 728.5 L 975.8 736.2 L 976.7 749 L 977.5 743.9 L 978.4 716.1 L 979.2 721.7 L 980.1 752.4 L 981 737.5 L 981.8 705.1 L 982.7 716.5 L 983.5 732.5 L 984.4 735.5 L 985.3 719.5 L 986.1 723.6 L 987 743.9 L 987.8 742 L 988.7 721.3 L 989.5 730.5 L 990.4 748.9 L 991.3 739.9 L 992.1 737.9 L 993 734.8 L 993.8 748.2 L 994.7 755.4 L 995.6 732.6 L 996.4 727.8 L 997.3 748.6 L 998.1 758.7 L 999 743.3 L 999.8 738.1 L 1000.7 764.8 L 1001.6 759.7 L 1002.4 730.9 L 1003.3 751.8 L 1004.1 768 L 1005 756.6 L 1005.9 729.8 L 1006.7 753.1 L 1007.6 757.4 L 1008.4 749.6 L 1009.3 732.1 L 1010.2 745.8 L 1011 755.7 L 1011.9 731.8 L 1012.7 730.3 L 1014.4 764.5 L 1015.3 741 L 1016.2 724.5 L 1017 734.7 L 1017.9 760.5 L 1018.7 748.6 L 1019.6 723 L 1020.5 734.1 L 1021.3 754.6 L 1022.2 732.1 L 1023 723.2 L 1023.9 730.3 L 1024.7 745.8 L 1025.6 753.5 L 1026.5 730.4 L 1027.3 730.3 L 1028.2 733.4 L 1029 755.1 L 1029.9 731.8 L 1030.8 724.2 L 1031.6 739.7 L 1032.5 750.2 L 1033.3 755.8 L 1034.2 736 L 1035 732.8 L 1035.9 752.2 L 1036.8 753.3 L 1037.6 728.7 L 1038.5 722.6 L 1039.3 756.4 L 1040.2 761.7 L 1041.1 734.3 L 1041.9 727.1 L 1043.6 750.9 L 1044.5 743.5 L 1045.3 732.8 L 1046.2 730.5 L 1047.1 737.4 L 1047.9 761.2 L 1048.8 725 L 1049.6 719.4 L 1050.5 748.9 L 1051.4 740.5 L 1052.2 718.9 L 1053.1 737.6 L 1053.9 752.7 L 1054.8 738.6 L 1055.7 726.4 L 1056.5 750.2 L 1057.4 762.7 L 1058.2 724.2 L 1059.1 732.9 L 1059.9 762 L 1060.8 752.5 L 1061.7 739.2 L 1062.5 729.5 L 1063.4 747.1 L 1064.2 744.7 L 1065.1 736.1 L 1066 735.1 L 1066.8 751.9 L 1067.7 755.7 L 1068.5 727.9 L 1069.4 736.3 L 1070.2 750 L 1071.1 750.3 L 1072 740.1 L 1072.8 731.9 L 1073.7 756.8 L 1074.5 739.8 L 1075.4 715 L 1076.3 719.1 L 1077.1 744.1 L 1078.8 715.2 L 1079.7 734.3 L 1080.5 740.3 L 1081.4 738.3 L 1082.3 713.5 L 1083.1 716.3 L 1084 737.6 L 1084.8 746.5 L 1085.7 721.1 L 1086.6 721.1 L 1087.4 748.3 L 1088.3 733.4 L 1089.1 715.6 L 1090 721.2 L 1090.9 740 L 1091.7 739.8 L 1092.6 710.4 L 1093.4 723.2 L 1094.3 729.1 L 1095.1 747.2 L 1096 737.3 L 1096.9 724.2 L 1097.7 729.4 L 1098.6 758.6 L 1100.3 720.5 L 1101.2 742.2 L 1102 753.1 L 1102.9 730.9 L 1103.7 728 L 1104.6 743.5 L 1105.4 756.8 L 1106.3 736 L 1107.2 731.5 L 1108 750.1 L 1108.9 757.5 L 1109.7 740 L 1110.6 744.4 L 1111.5 747.7 L 1112.3 755.5 L 1113.2 736.2 L 1114 738.8 L 1114.9 742.4 L 1115.7 761.5 L 1117.5 730.1 L 1118.3 753.5 L 1119.2 759.4 L 1120 753.5 L 1120.9 723 L 1121.8 734.4 L 1122.6 754.8 L 1123.5 740.1 L 1124.3 728.2 L 1125.2 729 L 1126 749.9 L 1126.9 741.9 L 1127.8 723.9 L 1128.6 714.3 L 1129.5 756.3 L 1130.3 753.2 L 1131.2 726.1 L 1132.1 718.1 L 1132.9 728.7 L 1133.8 747.7 L 1134.6 736.1 L 1135.5 714.3 L 1137.2 754.6 L 1138.1 744.2 L 1138.9 720.3 L 1139.8 718.1 L 1140.6 746.6 L 1141.5 751 L 1142.4 731.2 L 1143.2 726.5 L 1144.1 745.1 L 1144.9 748.3 L 1145.8 731.5 L 1146.7 730.2 L 1147.5 733.2 L 1148.4 750.2 L 1149.2 735.8 L 1150.1 725.3 L 1150.9 734.2 L 1151.8 749.7 L 1152.7 745.5 L 1153.5 720.7 L 1154.4 733.6 L 1155.2 744.2 L 1156.1 747.7 L 1157 728.6 L 1157.8 726.5 L 1158.7 738.3 L 1159.5 730.5 L 1160.4 728.4 L 1161.2 719.5 L 1162.1 743.3 L 1163 740.3 L 1163.8 718.9 L 1164.7 725.7 L 1166.4 748.1 L 1168.1 713.4 L 1169 737.5 L 1169.8 751.2 L 1171.6 721.1 L 1173.3 755.8 L 1175 729.6 L 1175.8 735.4 L 1176.7 756 L 1177.6 767.7 L 1178.4 737.7 L 1179.3 728.4 L 1180.1 755.3 L 1181 764.1 L 1181.9 742.5 L 1182.7 733.6 L 1183.6 742.5 L 1184.4 761.3 L 1185.3 756.6 L 1186.1 740.4 L 1187 742.3 L 1187.9 754.9 L 1188.7 769.9 L 1189.6 753 L 1190.4 730.3 L 1191.3 739.1 L 1192.2 756.3 L 1193 755 L 1193.9 733.2 L 1194.7 734.4 L 1195.6 750.4 L 1196.4 750 L 1197.3 736.4 L 1198.2 728.7 L 1199 736.6 L 1199.9 758.3 L 1200.7 749.5 L 1201.6 727.8 L 1202.5 725.8 L 1203.3 733.1 L 1204.2 742.4 L 1205 757.3 L 1205.9 732.5 L 1206.8 727.6 L 1207.6 740.6 L 1208.5 748.5 L 1209.3 730.9 L 1210.2 725.4 L 1211 742.2 L 1211.9 749 L 1212.8 727 L 1213.6 725.4 L 1214.5 746.6 L 1215.3 751.2 L 1216.2 735.6 L 1217.9 716.3 L 1218.8 749.7 L 1219.6 752.9 L 1220.5 725.1 L 1221.3 720.4 L 1222.2 747.8 L 1223.1 745.9 L 1223.9 728 L 1224.8 723.7 L 1225.6 757.4 L 1226.5 750.8 L 1227.4 729.2 L 1228.2 721.1 L 1229.1 750.1 L 1229.9 757.4 L 1230.8 727 L 1231.6 719.2 L 1232.5 743.5 L 1233.4 757.4 L 1234.2 730.1 L 1235.1 728 L 1235.9 743.6 L 1236.8 755.9 L 1237.7 750.7 L 1238.5 730.5 L 1239.4 729.3 L 1240.2 747.5 L 1241.1 751.5 L 1241.9 720.9 L 1242.8 725.8 L 1243.7 758.7 L 1244.5 735.8 L 1245.4 728.1 L 1246.2 735.1 L 1247.1 750.8 L 1248 729.6 L 1248.8 731.6 L 1249.7 743.1 L 1250.5 748.8 L 1251.4 729.5 L 1252.3 721.5 L 1253.1 727.8 L 1254 747.2 L 1255.7 715.1 L 1256.5 733.2 L 1257.4 730.3 L 1258.3 708.3 L 1259.1 729.6 L 1260 745.2 L 1260.8 724 L 1261.7 706.6 L 1262.6 719.4 L 1263.4 741.6 L 1264.3 737.7 L 1265.1 724.1 L 1266 727.3 L 1266.8 734.8 L 1267.7 746.9 L 1268.6 715.4 L 1269.4 725 L 1270.3 746.4 L 1271.1 753.8 L 1271.7 744 L 1273.7 870.3 L 1273.7 870.3 " clip-path="url(#p2e0bae5d63)" style="fill: none; stroke: #fde725; stroke-opacity: 0.6; stroke-width: 1.5; stroke-linecap: square"/>
</g>
<g id="line2d_58">
<path d="M 415.2 863.2 L 416.1 861.8 L 416.9 863.6 L 417.8 863.9 L 418.6 862.4 L 419.5 861.4 L 420.4 863.9 L 421.2 864.1 L 422.1 861.6 L 422.9 862.3 L 423.8 863.7 L 426.4 826.7 L 427.2 817.6 L 428.1 803.9 L 428.9 795.1 L 429.8 789.6 L 430.7 785.1 L 431.5 778.4 L 432.4 768.9 L 433.2 762.1 L 434.1 756.9 L 435.8 743.8 L 436.7 745.4 L 437.5 746.1 L 438.4 741.8 L 439.2 738.3 L 440.1 740.8 L 441 746.9 L 441.8 735.5 L 442.7 735.9 L 443.5 746.9 L 444.4 735.8 L 445.2 733.3 L 446.1 741.6 L 447 741.9 L 447.8 733.1 L 448.7 734.4 L 449.5 735 L 450.4 742.8 L 451.3 741 L 452.1 732.8 L 453 727.6 L 454.7 745.8 L 455.6 735.5 L 456.4 726.9 L 457.3 735.5 L 458.1 742.4 L 459 736.6 L 459.8 728.4 L 460.7 730.5 L 461.6 742.2 L 462.4 741.1 L 463.3 730.8 L 464.1 726.7 L 465 734.3 L 465.9 740.9 L 466.7 730.6 L 467.6 722.5 L 468.4 736 L 469.3 742.5 L 470.1 736.9 L 471 719.9 L 471.9 731 L 472.7 738.4 L 473.6 737.7 L 474.4 730.4 L 475.3 727.3 L 477 742.7 L 477.9 732 L 478.7 719.2 L 479.6 726.3 L 480.4 738.5 L 481.3 737.6 L 482.2 725.6 L 483 728.4 L 483.9 734.6 L 484.7 733.7 L 485.6 728.3 L 486.5 725.9 L 487.3 735.4 L 488.2 734.2 L 489 725 L 489.9 728.9 L 490.7 735.8 L 491.6 727.4 L 492.5 724 L 493.3 721.3 L 494.2 733.2 L 495 732.7 L 495.9 728.3 L 496.8 716.7 L 497.6 720.4 L 498.5 738.9 L 499.3 737.2 L 500.2 719.8 L 501.1 724.8 L 501.9 737.4 L 502.8 734.8 L 503.6 727.8 L 504.5 722.4 L 505.3 727.1 L 506.2 737.7 L 507.1 732.3 L 507.9 724.3 L 508.8 722.7 L 509.6 734.1 L 510.5 735.7 L 511.4 730.5 L 512.2 719.7 L 513.1 728.6 L 513.9 733.4 L 514.8 728.4 L 515.6 717.3 L 516.5 729.3 L 517.4 735.5 L 519.1 720.1 L 519.9 723 L 520.8 731.3 L 521.7 732.3 L 522.5 713.8 L 523.4 721.9 L 524.2 731.6 L 525.1 734.4 L 525.9 719.9 L 526.8 719.3 L 527.7 737.7 L 528.5 735.9 L 529.4 721.2 L 530.2 721.5 L 532 738.1 L 532.8 721 L 533.7 716.2 L 534.5 734.5 L 535.4 731.4 L 536.3 723.6 L 537.1 719.2 L 538 731.1 L 539.7 721.5 L 540.5 724.7 L 541.4 735.5 L 542.3 728.2 L 543.1 718.1 L 544 733.3 L 544.8 735.8 L 545.7 734.9 L 546.6 717.6 L 547.4 717.7 L 548.3 728.1 L 549.1 735 L 550 730.6 L 550.8 718.7 L 551.7 721.2 L 552.6 738.2 L 553.4 730 L 554.3 718.5 L 555.1 722.2 L 556 730.8 L 556.9 733.6 L 557.7 724.9 L 558.6 717.5 L 559.4 724.5 L 560.3 742.9 L 561.1 734.1 L 562 718.6 L 562.9 726.6 L 563.7 737.4 L 564.6 737.4 L 565.4 722 L 566.3 732.2 L 567.2 733 L 568 738.2 L 568.9 731.1 L 569.7 727.5 L 570.6 737.5 L 571.4 735.5 L 572.3 723.7 L 573.2 722.5 L 574 728.6 L 574.9 739.8 L 575.7 732.8 L 576.6 723 L 577.5 725.6 L 578.3 727.2 L 579.2 734.9 L 580 732.6 L 580.9 725 L 581.8 720.6 L 582.6 730 L 583.5 733.5 L 584.3 729.3 L 585.2 720.8 L 586 733.7 L 586.9 741.3 L 587.8 735.2 L 588.6 724.8 L 589.5 718.8 L 590.3 733.6 L 591.2 730.6 L 592.1 721.8 L 592.9 726.8 L 593.8 738.3 L 594.6 730.3 L 595.5 725.2 L 596.3 731.1 L 597.2 738.1 L 598.1 726.2 L 598.9 722.6 L 599.8 733.8 L 600.6 737.7 L 601.5 736.3 L 602.4 731.3 L 603.2 719.2 L 604.1 739.3 L 604.9 741.8 L 605.8 729.7 L 606.6 728.3 L 607.5 733.5 L 608.4 740.9 L 609.2 732.9 L 610.1 722.5 L 610.9 727.1 L 611.8 737.6 L 612.7 740.2 L 613.5 740.4 L 614.4 720.1 L 615.2 739.3 L 616.1 743.9 L 617.8 726.5 L 618.7 742.8 L 619.5 746.6 L 620.4 729.8 L 621.2 729.2 L 622.1 738.6 L 623 739 L 623.8 726.8 L 624.7 728.4 L 625.5 750.6 L 626.4 733.4 L 627.3 722 L 628.1 724.7 L 629 742.2 L 629.8 742.2 L 630.7 737 L 631.5 727.8 L 632.4 723.9 L 634.1 744.5 L 635.8 724.3 L 636.7 730.9 L 637.6 745.5 L 638.4 725 L 639.3 727.6 L 640.1 731.1 L 641 743.8 L 641.8 734.8 L 642.7 723.1 L 644.4 735.7 L 645.3 739.4 L 646.1 717.2 L 647 718.7 L 647.9 744.5 L 648.7 743 L 649.6 718 L 650.4 725.5 L 651.3 729.2 L 652.1 741.1 L 653 712.3 L 653.9 713.1 L 654.7 728.1 L 655.6 736.6 L 657.3 714.6 L 658.2 743.7 L 659 740.9 L 660.7 721.5 L 661.6 718.2 L 662.5 737.6 L 663.3 739 L 664.2 726.2 L 665 729.6 L 665.9 747.4 L 666.7 739.8 L 667.6 739.4 L 668.5 716.8 L 669.3 727.8 L 670.2 740.3 L 671 720 L 671.9 719.6 L 672.8 730.7 L 673.6 745.9 L 674.5 725.5 L 675.3 723.1 L 676.2 751.6 L 677 752.9 L 677.9 730.8 L 678.8 718 L 679.6 742.9 L 680.5 736.8 L 681.3 723.6 L 682.2 743.7 L 683.1 751.4 L 683.9 751.4 L 684.8 720.8 L 685.6 724.9 L 686.5 754.2 L 687.3 752.6 L 688.2 738.6 L 689.1 722.5 L 689.9 744.9 L 690.8 754 L 692.5 725.3 L 693.4 752.9 L 694.2 754.4 L 695.9 725.6 L 696.8 741.9 L 697.7 744.6 L 698.5 749.3 L 699.4 738.2 L 700.2 718.5 L 701.1 723.5 L 701.9 756.8 L 702.8 745.8 L 703.7 731.8 L 704.5 722.8 L 705.4 759 L 707.1 723.6 L 708 741.8 L 708.8 763.2 L 709.7 746.7 L 710.5 711.5 L 711.4 722 L 712.2 751 L 713.1 752.8 L 714 730.7 L 714.8 720 L 715.7 761 L 716.5 769.4 L 717.4 747.6 L 718.3 728.8 L 719.1 757.9 L 720 767.5 L 720.8 737.2 L 721.7 730.3 L 722.5 744.5 L 723.4 771.3 L 724.3 725.1 L 725.1 724.7 L 726 743.9 L 726.8 759.4 L 727.7 733.5 L 728.6 723.7 L 729.4 740.6 L 730.3 761.1 L 731.1 739.6 L 732 723.6 L 732.9 727.6 L 733.7 765 L 734.6 752.9 L 735.4 716.4 L 736.3 720.1 L 737.1 739.3 L 738 748.8 L 738.9 738.6 L 739.7 721.5 L 740.6 719 L 741.4 734.5 L 742.3 753 L 743.2 737.5 L 744 714 L 744.9 721.1 L 745.7 742.2 L 746.6 738.1 L 747.4 709.3 L 748.3 741.5 L 749.2 754.5 L 750 744.7 L 750.9 717.8 L 751.7 713.8 L 752.6 747.5 L 753.5 765.8 L 754.3 733.3 L 755.2 720.6 L 756 748.5 L 756.9 759.4 L 757.7 732.2 L 758.6 733.8 L 759.5 756.6 L 760.3 755.4 L 761.2 730.3 L 762 733.4 L 763.8 748.6 L 764.6 732.1 L 765.5 723.3 L 766.3 755.4 L 767.2 750.9 L 768 729.3 L 768.9 720.1 L 770.6 762.1 L 771.5 737.3 L 772.3 738.6 L 774.1 746.9 L 774.9 739.2 L 775.8 728.6 L 776.6 733.7 L 777.5 757.3 L 778.4 733.9 L 779.2 717.4 L 780.1 732.2 L 780.9 756.2 L 781.8 726.9 L 782.6 726.4 L 783.5 752.5 L 784.4 745.9 L 785.2 717.8 L 786.9 752.9 L 787.8 732.2 L 788.7 735.9 L 789.5 739 L 790.4 745.9 L 791.2 749.1 L 792.1 723.1 L 792.9 731.8 L 793.8 753.5 L 794.7 738.6 L 795.5 719 L 796.4 722.7 L 797.2 744.7 L 798.1 747.2 L 799 723.2 L 799.8 714.2 L 800.7 735.5 L 801.5 748.3 L 802.4 731.8 L 803.2 720.9 L 804.1 732.3 L 805 747.7 L 805.8 717.2 L 806.7 723.2 L 807.5 753.8 L 808.4 746.6 L 809.3 720.8 L 810.1 721.8 L 811 741.8 L 811.8 742.7 L 812.7 724 L 813.6 708.2 L 814.4 725.9 L 815.3 750.5 L 816.1 738.4 L 817 718.1 L 817.8 715.4 L 818.7 738.3 L 819.6 745.2 L 820.4 723 L 821.3 714.5 L 822.1 739.1 L 823 744.5 L 823.9 712.5 L 824.7 712.5 L 825.6 755.5 L 826.4 759.5 L 827.3 741.4 L 828.1 717.3 L 829 748.6 L 829.9 747.1 L 830.7 725.7 L 831.6 727.3 L 832.4 732.3 L 833.3 749.8 L 834.2 737 L 835 725.9 L 835.9 751.1 L 836.7 764.1 L 837.6 750.5 L 838.4 720.8 L 839.3 750.4 L 840.2 762.6 L 841 746.6 L 841.9 712.3 L 842.7 730.1 L 843.6 763 L 844.5 742.3 L 845.3 727.4 L 846.2 715.6 L 847 754.6 L 847.9 738.8 L 848.7 705.5 L 849.6 738.1 L 850.5 754.4 L 851.3 753.2 L 852.2 708.1 L 853 736.2 L 853.9 751.9 L 854.8 717.4 L 855.6 707.1 L 856.5 745.1 L 858.2 733.8 L 859.1 716.9 L 859.9 726.2 L 860.8 746 L 861.6 739.7 L 862.5 713.6 L 863.3 709.1 L 864.2 717.6 L 865.1 762.2 L 865.9 729.3 L 866.8 720.7 L 867.6 755.4 L 868.5 740.1 L 869.4 717.4 L 870.2 727.4 L 871.1 756.7 L 871.9 754.1 L 872.8 727.5 L 873.6 734.1 L 874.5 749.7 L 875.4 759.9 L 876.2 725 L 877.1 718.3 L 877.9 735.8 L 878.8 757.9 L 879.7 731.7 L 880.5 720.9 L 882.2 754.8 L 883.1 727 L 883.9 724.4 L 884.8 748.7 L 885.7 758.6 L 887.4 721.4 L 888.2 755.7 L 889.1 758.2 L 890.8 735.7 L 891.7 745.3 L 892.5 756.8 L 893.4 748.4 L 894.3 729.3 L 895.1 730.3 L 896 754.2 L 896.8 723.3 L 897.7 723.9 L 898.5 750.1 L 899.4 751.7 L 900.3 732.4 L 901.1 734.7 L 902 758.9 L 902.8 742.9 L 903.7 718.6 L 904.6 741.2 L 905.4 750.3 L 906.3 746.5 L 907.1 716.6 L 908 731.5 L 908.8 757.6 L 909.7 747.4 L 910.6 720.7 L 911.4 743.2 L 912.3 753.5 L 914 720.9 L 914.9 746.3 L 915.7 746.8 L 916.6 744.8 L 917.4 707.4 L 918.3 730.7 L 919.1 751 L 920 757.6 L 920.9 721.8 L 921.7 719.6 L 922.6 741.8 L 923.4 755 L 924.3 734.6 L 925.2 722 L 926 752.7 L 926.9 744.5 L 927.7 721.5 L 928.6 732.7 L 929.5 738.6 L 930.3 750 L 931.2 721.1 L 932 728.3 L 932.9 748.4 L 933.7 758.1 L 934.6 725.5 L 935.5 729.3 L 936.3 749.1 L 937.2 727.7 L 938 724.8 L 938.9 753.1 L 939.8 756.2 L 940.6 720.5 L 941.5 733 L 942.3 760.7 L 943.2 745.9 L 944 722.8 L 944.9 724.2 L 945.8 736.7 L 946.6 728.1 L 947.5 707.2 L 948.3 730.3 L 949.2 744.4 L 950.9 711.2 L 951.8 713.4 L 952.6 735.9 L 953.5 733.8 L 954.3 724.1 L 955.2 709.8 L 956.1 716.1 L 956.9 745.5 L 957.8 721.2 L 958.6 702.1 L 959.5 709.5 L 960.4 741.7 L 962.1 710.5 L 962.9 717.8 L 963.8 741.7 L 964.6 716.2 L 965.5 718.4 L 966.4 739 L 967.2 740.9 L 968.1 735.6 L 968.9 711.1 L 969.8 745.5 L 970.7 757.5 L 971.5 731.9 L 972.4 714.8 L 973.2 749.2 L 974.1 749.1 L 975 717.8 L 975.8 731.4 L 976.7 756 L 977.5 747.2 L 978.4 726 L 979.2 728.5 L 980.1 748.3 L 981 738.8 L 981.8 726.6 L 982.7 733.6 L 983.5 751.1 L 984.4 754.1 L 985.3 731.5 L 986.1 727 L 987 743.5 L 987.8 753.1 L 988.7 736.8 L 989.5 742.8 L 990.4 750.2 L 991.3 744.2 L 992.1 723.9 L 993 735.3 L 993.8 751.9 L 994.7 759.1 L 995.6 739.1 L 996.4 735.7 L 997.3 754.7 L 998.1 743 L 999 727.3 L 999.8 742.3 L 1000.7 749.2 L 1001.6 746.6 L 1002.4 723.4 L 1003.3 715.9 L 1004.1 748.1 L 1005 749.6 L 1005.9 716.7 L 1006.7 722.2 L 1008.4 752 L 1009.3 718.2 L 1010.2 718.8 L 1011 761.4 L 1011.9 762.1 L 1012.7 718.7 L 1013.6 725.5 L 1014.4 750.6 L 1015.3 740.6 L 1016.2 723.3 L 1017 714.9 L 1017.9 734.8 L 1018.7 749.5 L 1019.6 737.5 L 1020.5 728.7 L 1021.3 731.9 L 1022.2 753.4 L 1023 733.7 L 1023.9 719.2 L 1024.7 729.7 L 1025.6 762.4 L 1026.5 750.3 L 1027.3 709.5 L 1028.2 720 L 1029 757.8 L 1029.9 757.3 L 1030.8 733 L 1031.6 719.9 L 1032.5 757.9 L 1033.3 751.8 L 1034.2 736.1 L 1035 718.3 L 1036.8 754.9 L 1037.6 756.1 L 1038.5 725.4 L 1039.3 728 L 1040.2 758.2 L 1041.1 758 L 1041.9 741.7 L 1042.8 738.7 L 1043.6 760.7 L 1044.5 767.2 L 1045.3 732.9 L 1046.2 731.4 L 1047.1 755.9 L 1047.9 767.8 L 1048.8 741.5 L 1049.6 725.7 L 1050.5 752.5 L 1051.4 767.4 L 1052.2 747.3 L 1053.1 738.1 L 1053.9 766 L 1054.8 736.3 L 1055.7 727.5 L 1056.5 746.4 L 1057.4 760.8 L 1059.1 717.1 L 1059.9 723.5 L 1060.8 755 L 1061.7 758.8 L 1062.5 723 L 1063.4 723.7 L 1064.2 748.9 L 1065.1 770.2 L 1066 749.7 L 1066.8 732.3 L 1067.7 728.9 L 1068.5 766 L 1069.4 738.1 L 1070.2 737.1 L 1071.1 758 L 1072 753.8 L 1072.8 743.8 L 1073.7 714 L 1075.4 771.3 L 1076.3 740.9 L 1077.1 732.7 L 1078 731.4 L 1078.8 757.1 L 1079.7 740.9 L 1080.5 742.2 L 1081.4 727.1 L 1082.3 737.1 L 1083.1 755.9 L 1084 754.9 L 1084.8 708 L 1086.6 762.3 L 1087.4 734.1 L 1088.3 722 L 1089.1 744.3 L 1090 758.4 L 1090.9 735.6 L 1091.7 717.2 L 1092.6 729 L 1093.4 763.6 L 1094.3 755.1 L 1095.1 731.4 L 1096 718.4 L 1096.9 745.1 L 1097.7 757.8 L 1098.6 741.1 L 1099.4 718.9 L 1100.3 740.3 L 1101.2 749.8 L 1102 725.2 L 1102.9 725.9 L 1103.7 735.5 L 1104.6 755.5 L 1105.4 738.8 L 1106.3 727.1 L 1107.2 752.6 L 1108 747.7 L 1108.9 733.1 L 1109.7 730.3 L 1110.6 753.7 L 1111.5 750.5 L 1112.3 729.4 L 1113.2 736.3 L 1114 759.6 L 1114.9 719.2 L 1115.7 732.9 L 1116.6 760.3 L 1118.3 729.6 L 1119.2 728.3 L 1120 761.7 L 1120.9 747.8 L 1121.8 721.5 L 1122.6 724.7 L 1123.5 741.9 L 1124.3 751.1 L 1125.2 736.7 L 1126 728.7 L 1126.9 741.9 L 1127.8 749.9 L 1128.6 718.2 L 1129.5 722.1 L 1131.2 756.5 L 1132.1 729.5 L 1132.9 726.3 L 1133.8 717.7 L 1134.6 746.6 L 1135.5 747 L 1136.4 717 L 1137.2 712.9 L 1138.1 739.5 L 1138.9 759.1 L 1139.8 731.7 L 1140.6 710.7 L 1141.5 739.3 L 1142.4 751.3 L 1143.2 725.6 L 1144.1 725.3 L 1144.9 744.7 L 1145.8 747.1 L 1146.7 729.7 L 1147.5 716.9 L 1148.4 742.8 L 1149.2 755.1 L 1150.1 729.2 L 1150.9 721.6 L 1151.8 731.3 L 1152.7 748.7 L 1153.5 742.3 L 1154.4 739 L 1155.2 734.6 L 1156.1 764.3 L 1157.8 726.9 L 1158.7 727.2 L 1159.5 763.7 L 1160.4 763.6 L 1162.1 715.9 L 1163 734.1 L 1163.8 759.5 L 1164.7 750.5 L 1165.5 728.4 L 1166.4 721 L 1167.3 748.9 L 1168.1 756.9 L 1169 747.3 L 1169.8 726.1 L 1170.7 751.3 L 1171.6 766.2 L 1172.4 745 L 1173.3 718.1 L 1175 753.2 L 1175.8 759.9 L 1176.7 726.7 L 1177.6 721.5 L 1178.4 757.8 L 1179.3 764.4 L 1180.1 735.9 L 1181 728.8 L 1181.9 745.4 L 1182.7 766 L 1183.6 742.6 L 1184.4 738.2 L 1185.3 767.5 L 1186.1 769.3 L 1187 738.6 L 1187.9 732.6 L 1188.7 759.1 L 1189.6 772.3 L 1190.4 736.5 L 1191.3 738.3 L 1192.2 762.5 L 1193 768.6 L 1193.9 755 L 1194.7 736 L 1195.6 747.8 L 1196.4 768 L 1197.3 759.2 L 1198.2 736 L 1199 736.2 L 1199.9 749.6 L 1200.7 772.6 L 1201.6 745.7 L 1202.5 728.7 L 1203.3 741.3 L 1204.2 773.6 L 1205 751.4 L 1205.9 745.1 L 1206.8 750 L 1207.6 763.1 L 1208.5 759.6 L 1209.3 732.4 L 1210.2 732.1 L 1211 759.6 L 1211.9 750.3 L 1212.8 727.5 L 1213.6 725.4 L 1215.3 762.9 L 1216.2 748.6 L 1217.1 730.3 L 1217.9 737.4 L 1218.8 751.5 L 1219.6 763.4 L 1220.5 743.8 L 1221.3 732.3 L 1222.2 726.6 L 1223.1 747 L 1223.9 752 L 1224.8 753.1 L 1225.6 735.2 L 1226.5 730.5 L 1227.4 730.6 L 1228.2 751.4 L 1229.1 757.7 L 1229.9 725.2 L 1230.8 734.3 L 1231.6 757.3 L 1232.5 761.4 L 1233.4 730.6 L 1234.2 721.1 L 1235.1 761.4 L 1235.9 755.5 L 1236.8 733 L 1237.7 738.9 L 1238.5 750.4 L 1239.4 764.6 L 1240.2 740.8 L 1241.9 723 L 1242.8 761.3 L 1243.7 751.3 L 1244.5 714.3 L 1245.4 726.2 L 1246.2 757.1 L 1247.1 748.7 L 1248 711.3 L 1248.8 710.4 L 1249.7 746 L 1250.5 752.7 L 1252.3 716.7 L 1253.1 727.5 L 1254 754.8 L 1254.8 734.3 L 1255.7 718.9 L 1256.5 729.3 L 1257.4 757.3 L 1258.3 750.7 L 1259.1 723.9 L 1260 739.4 L 1260.8 747.3 L 1261.7 739.3 L 1262.6 722.7 L 1263.4 728.3 L 1264.3 753.1 L 1265.1 732.4 L 1266 721.4 L 1266.8 744.9 L 1267.7 764.2 L 1268.6 746 L 1269.4 737 L 1270.3 739.9 L 1271.1 756.8 L 1271.7 756.1 L 1273.7 865.6 L 1273.7 865.6 " clip-path="url(#p2e0bae5d63)" style="fill: none; stroke: #fde725; stroke-opacity: 0.6; stroke-width: 1.5; stroke-linecap: square"/>
</g>
<g id="line2d_59">
<path d="M 415.2 870.5 L 416.1 869.9 L 416.9 869.8 L 417.8 870.7 L 418.6 870.4 L 419.5 869.7 L 420.4 869.2 L 421.2 870.4 L 422.1 870.4 L 422.9 868.9 L 423.8 869.6 L 424.6 870 L 425.5 869.4 L 426.4 864.5 L 427.2 860.2 L 428.9 853 L 429.8 849 L 430.7 842.9 L 431.5 841.1 L 432.4 837.1 L 433.2 830.3 L 434.1 827.1 L 434.9 825.4 L 435.8 821.8 L 436.7 817.4 L 437.5 815.8 L 438.4 814.5 L 439.2 814.5 L 440.1 810 L 441 807.1 L 441.8 804.7 L 442.7 806.4 L 443.5 803.3 L 444.4 796.5 L 445.2 795.9 L 446.1 794.2 L 447 791.9 L 448.7 784.9 L 449.5 783.7 L 450.4 785.1 L 451.3 782.1 L 452.1 776.6 L 453 779.5 L 453.8 780.5 L 454.7 782.5 L 455.6 774.4 L 456.4 770.7 L 457.3 778.1 L 458.1 778.4 L 459 774.2 L 459.8 765.8 L 460.7 767.9 L 461.6 768.1 L 462.4 772 L 463.3 763 L 464.1 759.4 L 465 762.9 L 465.9 767.5 L 466.7 765.3 L 467.6 755.1 L 468.4 754.8 L 469.3 760.4 L 470.1 759.7 L 471 755.7 L 471.9 751.1 L 472.7 753.6 L 473.6 755.2 L 474.4 751.8 L 475.3 751.8 L 476.2 754.2 L 477 759.4 L 477.9 757.6 L 478.7 751.2 L 479.6 751.4 L 480.4 758 L 481.3 762.3 L 482.2 756.1 L 483 754.9 L 483.9 752.7 L 484.7 758.7 L 485.6 761 L 487.3 753.8 L 488.2 756.4 L 489 756.3 L 489.9 762.9 L 490.7 761.4 L 491.6 753.8 L 492.5 754.4 L 493.3 761.5 L 494.2 760.5 L 495 756.6 L 495.9 756.7 L 496.8 759.9 L 497.6 760.9 L 498.5 756.9 L 499.3 752.1 L 500.2 755.2 L 501.1 760.5 L 501.9 759.5 L 502.8 750.9 L 503.6 750.6 L 504.5 754.5 L 505.3 759.7 L 506.2 751.8 L 507.1 750 L 508.8 758 L 509.6 753.8 L 510.5 748.3 L 511.4 753.4 L 512.2 755.7 L 513.1 751.4 L 513.9 750.4 L 514.8 755.7 L 515.6 756.4 L 516.5 750.7 L 517.4 748.3 L 518.2 750.3 L 519.1 750.7 L 519.9 752.5 L 520.8 748.1 L 521.7 752.4 L 522.5 753.2 L 524.2 747.1 L 525.1 746.1 L 525.9 755.4 L 526.8 753.2 L 527.7 747.9 L 528.5 746.8 L 529.4 753.9 L 530.2 755.4 L 531.1 747.8 L 532 746 L 532.8 752.3 L 533.7 754.4 L 534.5 746.7 L 535.4 743.6 L 536.3 748.7 L 537.1 755.3 L 538 746.8 L 538.8 748.3 L 539.7 756.5 L 540.5 752 L 541.4 745.2 L 543.1 754.2 L 544 754.1 L 544.8 748.4 L 545.7 750.4 L 546.6 757.1 L 547.4 756.8 L 548.3 751.7 L 549.1 752.1 L 550 752.7 L 550.8 757.5 L 551.7 753 L 552.6 749.8 L 553.4 756.2 L 554.3 758.1 L 555.1 751.2 L 556 753.2 L 556.9 756 L 557.7 755.5 L 558.6 749.9 L 559.4 749.6 L 560.3 757.6 L 561.1 755.6 L 562 749.9 L 562.9 746 L 563.7 754.5 L 564.6 755.4 L 565.4 752.4 L 566.3 750.4 L 568 754.2 L 568.9 752.2 L 569.7 746.8 L 570.6 744.1 L 571.4 750.1 L 572.3 752.3 L 573.2 751.4 L 574 745.3 L 574.9 746.2 L 576.6 753.3 L 578.3 742.4 L 579.2 749 L 580 753.6 L 580.9 746.1 L 581.8 745.2 L 582.6 754.7 L 583.5 754.7 L 585.2 746.8 L 586 747.5 L 586.9 754.1 L 587.8 750.4 L 588.6 742.5 L 589.5 749.6 L 590.3 753.5 L 591.2 746.5 L 592.1 746.9 L 592.9 751.1 L 593.8 754.7 L 594.6 749.4 L 595.5 745 L 596.3 746.4 L 597.2 750.5 L 598.1 752.2 L 598.9 747.5 L 599.8 741.1 L 600.6 748.5 L 601.5 751.1 L 602.4 748.7 L 603.2 740.5 L 604.1 744.9 L 604.9 753.6 L 605.8 749.3 L 606.6 742.6 L 607.5 745.2 L 608.4 749.2 L 609.2 753.7 L 610.1 747.3 L 610.9 743.1 L 611.8 748.2 L 612.7 749.9 L 613.5 747 L 614.4 744.7 L 615.2 743.3 L 616.1 746.2 L 617 754.4 L 617.8 750.1 L 618.7 745.2 L 620.4 758.5 L 621.2 753.7 L 622.1 745.5 L 623 753 L 623.8 756.9 L 624.7 751.1 L 625.5 750.5 L 626.4 755 L 627.3 753.6 L 628.1 754.2 L 629 742.1 L 629.8 746.1 L 630.7 756 L 631.5 752.7 L 632.4 744 L 633.3 756 L 634.1 757 L 635 745.5 L 635.8 742 L 636.7 748.4 L 637.6 761.8 L 638.4 753.9 L 639.3 741.1 L 640.1 751.4 L 641 757.5 L 641.8 751.5 L 642.7 741.4 L 643.6 746.8 L 644.4 756.2 L 645.3 745.2 L 646.1 744 L 647 753.7 L 647.9 753.4 L 648.7 748.5 L 649.6 742.9 L 650.4 754.1 L 651.3 756.6 L 652.1 754.6 L 653 746.1 L 653.9 746.3 L 654.7 758.3 L 655.6 755.6 L 656.4 745.7 L 657.3 743.3 L 658.2 749.3 L 659 753 L 659.9 742.6 L 660.7 739.8 L 661.6 751.5 L 662.5 748.8 L 663.3 739 L 664.2 737.6 L 665 753.2 L 665.9 748.7 L 666.7 740 L 667.6 739.5 L 668.5 747.7 L 669.3 747.5 L 670.2 738.5 L 671 735.7 L 671.9 753.8 L 672.8 752.1 L 673.6 742 L 674.5 745 L 675.3 755.2 L 676.2 750.4 L 677 739.5 L 677.9 742.6 L 678.8 753.6 L 679.6 751.5 L 680.5 742.4 L 681.3 745.9 L 682.2 757.9 L 683.1 748.5 L 683.9 742.7 L 684.8 749.4 L 685.6 761.5 L 686.5 747 L 687.3 743.2 L 688.2 757.9 L 689.1 758.1 L 689.9 742.4 L 690.8 743.1 L 691.6 755.2 L 692.5 760.8 L 693.4 749.1 L 694.2 742.7 L 695.1 741.4 L 695.9 759.2 L 697.7 737.6 L 698.5 752.6 L 699.4 758 L 700.2 747.6 L 701.1 731.1 L 701.9 745.8 L 702.8 751.8 L 703.7 747.9 L 704.5 736.9 L 705.4 747 L 706.2 754.2 L 707.1 745.7 L 708 736.1 L 708.8 740.8 L 709.7 762.1 L 710.5 745.9 L 711.4 735.7 L 712.2 746.1 L 713.1 749.3 L 714 746.7 L 714.8 730.6 L 715.7 729.4 L 716.5 746.3 L 717.4 744.3 L 718.3 742 L 719.1 737.4 L 720 739.2 L 720.8 749.9 L 721.7 743 L 722.5 733.5 L 723.4 742.3 L 724.3 749.5 L 725.1 730.1 L 726 722.3 L 726.8 741.8 L 727.7 742.5 L 728.6 731.5 L 729.4 736.8 L 730.3 743.1 L 731.1 732.2 L 732 724.2 L 732.9 735.8 L 733.7 739.3 L 734.6 729.7 L 735.4 727.7 L 736.3 744.5 L 737.1 745.7 L 738 727.2 L 738.9 733.7 L 739.7 735.4 L 740.6 745.8 L 741.4 728.5 L 742.3 732.8 L 743.2 735.4 L 744 747.5 L 744.9 736.8 L 745.7 728.5 L 746.6 730.6 L 747.4 747.8 L 748.3 744.4 L 749.2 725.8 L 750 739.7 L 750.9 739.3 L 751.7 731 L 752.6 727.5 L 753.5 738.7 L 754.3 735.8 L 755.2 724.5 L 756 733.5 L 756.9 732.2 L 757.7 735.5 L 758.6 718.9 L 759.5 724.2 L 760.3 732.6 L 761.2 735.9 L 762 720.7 L 762.9 718.7 L 763.8 726.4 L 764.6 737 L 765.5 721.8 L 766.3 720.1 L 767.2 729.3 L 768 740.2 L 768.9 738.9 L 769.8 718.6 L 770.6 718.2 L 771.5 727.4 L 772.3 734.8 L 773.2 718.3 L 774.1 715.6 L 774.9 722.9 L 775.8 731.9 L 776.6 728 L 777.5 709.6 L 778.4 733.4 L 779.2 737.5 L 780.1 724.2 L 780.9 722.1 L 781.8 740.4 L 782.6 736.1 L 783.5 724.8 L 784.4 721.1 L 785.2 730.8 L 786.1 735.2 L 786.9 711.8 L 787.8 717.9 L 788.7 731.5 L 789.5 726 L 790.4 708.6 L 791.2 718.3 L 792.1 730 L 792.9 731.5 L 793.8 718.1 L 794.7 714.8 L 795.5 725.7 L 796.4 733.9 L 797.2 726.1 L 798.1 715.2 L 799 720.3 L 799.8 732.5 L 800.7 727.7 L 801.5 714.6 L 802.4 719.6 L 803.2 734.3 L 805 708.9 L 805.8 728.6 L 806.7 737.4 L 807.5 730.5 L 808.4 712.8 L 810.1 738.9 L 811 736.8 L 811.8 722.5 L 812.7 722.3 L 813.6 734.1 L 814.4 742.8 L 815.3 718.6 L 816.1 722.1 L 817 740.5 L 817.8 733.4 L 818.7 720.9 L 820.4 735 L 821.3 734 L 822.1 722.8 L 823 724.9 L 823.9 736.5 L 824.7 737.7 L 825.6 722 L 826.4 728.5 L 827.3 740.7 L 828.1 736.2 L 829 716.1 L 830.7 739 L 831.6 741.6 L 833.3 717.9 L 834.2 733.4 L 835 738.6 L 835.9 724.9 L 836.7 719.3 L 837.6 732.5 L 838.4 736.8 L 839.3 734.1 L 840.2 719.8 L 841 713.7 L 841.9 731.5 L 842.7 732.6 L 843.6 715.5 L 844.5 720.8 L 845.3 734.6 L 846.2 713.8 L 847 707.5 L 848.7 728.8 L 849.6 724 L 850.5 711.7 L 851.3 706.1 L 852.2 729.1 L 853 724.4 L 853.9 709.7 L 854.8 709.5 L 855.6 726.1 L 856.5 720.9 L 857.3 709.6 L 858.2 706.4 L 859.1 722.5 L 859.9 714.5 L 860.8 704.6 L 862.5 725.2 L 863.3 708.9 L 864.2 711.6 L 865.1 722.5 L 865.9 722.9 L 866.8 710.8 L 867.6 715.9 L 868.5 729.1 L 870.2 706.2 L 871.1 723.2 L 871.9 734.6 L 872.8 720.2 L 873.6 710.2 L 874.5 723.2 L 875.4 734.1 L 876.2 717.9 L 877.1 707.9 L 877.9 713.9 L 878.8 727.9 L 879.7 712.5 L 880.5 709.8 L 881.4 721.2 L 882.2 722.5 L 883.1 719 L 883.9 711.7 L 884.8 710.9 L 885.7 718.1 L 886.5 719.5 L 887.4 716.9 L 888.2 707 L 889.1 722.3 L 890 724.9 L 890.8 721.4 L 891.7 708 L 892.5 719.9 L 893.4 727.4 L 894.3 725 L 896 711 L 897.7 732.1 L 898.5 724.4 L 899.4 718 L 900.3 715.8 L 901.1 725.2 L 902 726 L 902.8 714.8 L 903.7 724.1 L 904.6 727.6 L 905.4 720.3 L 906.3 705.2 L 907.1 725.9 L 908 734.6 L 908.8 720.4 L 909.7 711.1 L 910.6 725.5 L 911.4 726.5 L 912.3 707.4 L 913.1 720.7 L 914 729.8 L 914.9 720 L 915.7 712.6 L 916.6 721.2 L 917.4 727.7 L 918.3 708.5 L 919.1 700.8 L 920 709.6 L 920.9 725.2 L 921.7 731 L 922.6 718 L 923.4 712.5 L 924.3 726.7 L 925.2 722.6 L 926 729 L 926.9 713.3 L 927.7 710 L 928.6 724.7 L 929.5 725.7 L 930.3 711.5 L 931.2 706.3 L 932 716.9 L 932.9 721 L 933.7 704.2 L 934.6 707.4 L 935.5 729.2 L 937.2 696.5 L 938 718.6 L 938.9 721.8 L 939.8 703.5 L 940.6 697.8 L 941.5 723 L 942.3 711.1 L 943.2 700.8 L 944.9 726.3 L 945.8 720.6 L 946.6 709 L 947.5 701.7 L 948.3 716.2 L 949.2 720.1 L 950.1 706.9 L 950.9 700 L 952.6 724.3 L 953.5 706.5 L 954.3 699.7 L 955.2 711.3 L 956.1 724.8 L 956.9 698.5 L 957.8 703.9 L 958.6 717.9 L 959.5 706.1 L 960.4 700.7 L 961.2 705.3 L 962.1 713.4 L 962.9 718.1 L 963.8 705.9 L 964.6 710.8 L 965.5 714.3 L 966.4 710.2 L 967.2 710.5 L 968.1 699.5 L 968.9 703 L 969.8 721.3 L 970.7 714.7 L 971.5 700.1 L 972.4 708.3 L 973.2 714 L 974.1 716.2 L 975 702.9 L 975.8 701.3 L 976.7 719.5 L 977.5 716.6 L 978.4 706.3 L 979.2 705.9 L 980.1 720.3 L 981 717.5 L 981.8 711.5 L 982.7 711.6 L 983.5 714.8 L 984.4 725.9 L 985.3 714.7 L 986.1 706 L 987 702 L 987.8 715.4 L 988.7 720 L 989.5 701.3 L 990.4 707.9 L 991.3 721.7 L 992.1 704.1 L 993 701.5 L 993.8 708.6 L 994.7 720.1 L 995.6 710.4 L 996.4 706.1 L 997.3 726.5 L 998.1 725 L 999 705.9 L 999.8 709.2 L 1000.7 718.4 L 1001.6 721.3 L 1002.4 706.9 L 1003.3 701.4 L 1004.1 714.4 L 1005 719.3 L 1005.9 704.6 L 1006.7 706.1 L 1007.6 715.9 L 1008.4 716.2 L 1009.3 716.7 L 1010.2 705.4 L 1011 715.5 L 1011.9 727.2 L 1013.6 701.5 L 1014.4 705.6 L 1015.3 720.5 L 1016.2 724.2 L 1017 708.1 L 1017.9 704.1 L 1019.6 725.7 L 1020.5 721.6 L 1021.3 712.5 L 1022.2 725.8 L 1023 727 L 1023.9 712.6 L 1024.7 723 L 1025.6 735.8 L 1026.5 721.7 L 1027.3 711.5 L 1028.2 711.3 L 1029 722.5 L 1029.9 731.1 L 1030.8 725.7 L 1031.6 709.6 L 1032.5 722.3 L 1033.3 725.6 L 1034.2 718 L 1035 719.7 L 1035.9 732.6 L 1036.8 729.8 L 1037.6 713.6 L 1038.5 715.8 L 1039.3 721.4 L 1040.2 718.4 L 1041.1 705.1 L 1042.8 724.9 L 1043.6 717.6 L 1044.5 701.2 L 1045.3 707.9 L 1046.2 717.2 L 1047.1 713.9 L 1047.9 703.2 L 1048.8 701 L 1049.6 718.4 L 1050.5 717.1 L 1051.4 707 L 1052.2 700.1 L 1053.1 705.5 L 1053.9 720.8 L 1054.8 716.2 L 1055.7 708.4 L 1056.5 704.9 L 1057.4 723.4 L 1058.2 715 L 1059.1 697.9 L 1059.9 707 L 1060.8 723.7 L 1061.7 720.3 L 1062.5 699.6 L 1063.4 707.1 L 1064.2 716.4 L 1065.1 719 L 1066 702.6 L 1066.8 698.6 L 1067.7 710.3 L 1068.5 717.1 L 1069.4 698.9 L 1070.2 691.5 L 1071.1 718.8 L 1072 713.9 L 1072.8 691.9 L 1073.7 699.9 L 1074.5 712.4 L 1075.4 704.5 L 1076.3 700.7 L 1077.1 692.4 L 1078 704.4 L 1078.8 714.3 L 1079.7 715.1 L 1080.5 702.9 L 1081.4 702.3 L 1082.3 717.2 L 1083.1 713.4 L 1084 698.4 L 1084.8 695.5 L 1085.7 709 L 1086.6 716.3 L 1087.4 703 L 1088.3 710.6 L 1089.1 720.7 L 1090 714.1 L 1090.9 705.4 L 1091.7 713.3 L 1092.6 718.4 L 1093.4 713.4 L 1094.3 698.9 L 1095.1 713.4 L 1096 712.3 L 1096.9 720.1 L 1097.7 710.5 L 1098.6 694.3 L 1099.4 709.3 L 1100.3 713.4 L 1101.2 709.2 L 1102 695.1 L 1102.9 694.3 L 1103.7 710.5 L 1104.6 703.2 L 1105.4 694.1 L 1106.3 709.9 L 1107.2 713.6 L 1108 699.8 L 1108.9 698.4 L 1109.7 711.7 L 1110.6 714.4 L 1111.5 706.4 L 1112.3 701.6 L 1114 718.9 L 1114.9 699.6 L 1115.7 706.4 L 1116.6 721.5 L 1117.5 711.4 L 1118.3 706.5 L 1119.2 708.6 L 1120 717.2 L 1120.9 715.3 L 1121.8 715.2 L 1122.6 706.4 L 1123.5 709.7 L 1124.3 721.7 L 1125.2 717.3 L 1126 707.4 L 1126.9 702 L 1127.8 704.3 L 1128.6 711.7 L 1129.5 713.4 L 1131.2 694.2 L 1132.1 708.3 L 1132.9 717.5 L 1133.8 705 L 1134.6 697 L 1135.5 706.3 L 1136.4 710.7 L 1137.2 696.6 L 1138.1 694.2 L 1138.9 717.4 L 1139.8 711.1 L 1140.6 693 L 1141.5 702 L 1142.4 703.9 L 1143.2 705.1 L 1144.1 695.4 L 1144.9 699.2 L 1145.8 707.8 L 1146.7 705 L 1147.5 691.6 L 1148.4 694.3 L 1149.2 709.5 L 1150.1 701.9 L 1150.9 696.5 L 1151.8 696.4 L 1152.7 708 L 1153.5 704.9 L 1154.4 696.5 L 1155.2 696.9 L 1156.1 712.6 L 1157 709.8 L 1157.8 696.4 L 1158.7 707.7 L 1159.5 713.1 L 1160.4 713.9 L 1161.2 692.2 L 1162.1 704.1 L 1163 712.5 L 1163.8 705.9 L 1164.7 698.1 L 1165.5 715.4 L 1166.4 717.6 L 1167.3 706.7 L 1168.1 702.3 L 1169.8 722.2 L 1170.7 720.5 L 1172.4 700.8 L 1173.3 702.3 L 1174.1 718.2 L 1175 709.4 L 1175.8 702.9 L 1176.7 715.5 L 1177.6 721.3 L 1178.4 703 L 1179.3 705.9 L 1180.1 721.9 L 1181 722.8 L 1181.9 710 L 1182.7 706.8 L 1183.6 723.2 L 1184.4 716.9 L 1185.3 718.5 L 1186.1 708.4 L 1187 721.5 L 1187.9 715.9 L 1188.7 699.9 L 1189.6 705.6 L 1190.4 725.3 L 1191.3 719.6 L 1192.2 705.6 L 1193 704.5 L 1193.9 723.9 L 1194.7 718.2 L 1195.6 711.6 L 1196.4 708.8 L 1197.3 720.5 L 1198.2 723.4 L 1199 710.1 L 1199.9 698.8 L 1200.7 705.2 L 1201.6 715.1 L 1202.5 716.4 L 1203.3 700.5 L 1204.2 710.5 L 1205 717.3 L 1205.9 711.2 L 1206.8 700.3 L 1207.6 698.3 L 1208.5 705.2 L 1209.3 714.6 L 1211 693.4 L 1211.9 704.9 L 1212.8 711.2 L 1213.6 699.3 L 1214.5 701.3 L 1215.3 706.5 L 1216.2 717 L 1217.1 713.6 L 1217.9 694.5 L 1218.8 700.9 L 1219.6 713 L 1220.5 706.9 L 1221.3 695.4 L 1222.2 712.3 L 1223.1 713.1 L 1223.9 698.7 L 1224.8 702 L 1225.6 721.6 L 1227.4 690.8 L 1228.2 712.4 L 1229.1 717.4 L 1229.9 702.3 L 1230.8 694.3 L 1231.6 708.7 L 1232.5 713.7 L 1233.4 702.3 L 1234.2 684.9 L 1235.1 706.8 L 1235.9 712.9 L 1236.8 699.1 L 1237.7 689 L 1238.5 710.3 L 1239.4 702.2 L 1240.2 687.2 L 1241.1 687.7 L 1241.9 709.2 L 1242.8 710.1 L 1243.7 685.6 L 1244.5 699.6 L 1245.4 707.9 L 1246.2 691.1 L 1247.1 679 L 1248 698.3 L 1248.8 703.5 L 1249.7 681.4 L 1250.5 680.3 L 1251.4 695.6 L 1252.3 706.4 L 1253.1 688.6 L 1254 698.6 L 1254.8 704.8 L 1255.7 693 L 1256.5 687.9 L 1257.4 698.9 L 1258.3 700.6 L 1259.1 696 L 1260 697 L 1260.8 686.5 L 1261.7 700.1 L 1262.6 707.8 L 1263.4 699.6 L 1264.3 680.1 L 1265.1 700.6 L 1266 705.2 L 1266.8 695.7 L 1267.7 692.4 L 1268.6 705.1 L 1269.4 709.8 L 1270.3 700.5 L 1271.1 695.1 L 1271.7 700.7 L 1273.7 860.8 L 1273.7 860.8 " clip-path="url(#p2e0bae5d63)" style="fill: none; stroke-dasharray: 1.5,2.475; stroke-dashoffset: 0; stroke: #440154; stroke-opacity: 0.6; stroke-width: 1.5"/>
</g>
<g id="line2d_60">
<path d="M 415.2 870.2 L 416.1 870.1 L 416.9 870.9 L 417.8 871.5 L 418.6 870.6 L 419.5 869.8 L 421.2 871.4 L 422.1 871.2 L 422.9 870.5 L 423.8 870.5 L 424.6 871.1 L 425.5 871.1 L 426.4 870.6 L 427.2 868.6 L 429.8 860.8 L 431.5 853.5 L 432.4 853.3 L 434.1 844.7 L 434.9 844 L 435.8 841.9 L 436.7 838.3 L 437.5 833.7 L 438.4 831.6 L 439.2 830.6 L 440.1 827.3 L 441 821.6 L 441.8 818.6 L 442.7 820.3 L 443.5 818 L 444.4 815.4 L 445.2 810.7 L 446.1 810.8 L 447 810.5 L 447.8 807.1 L 448.7 800.8 L 449.5 798.7 L 450.4 803.6 L 451.3 803.6 L 453 792.8 L 453.8 800 L 454.7 801 L 455.6 791.3 L 456.4 788.7 L 457.3 797 L 458.1 796.9 L 459 791.6 L 459.8 787.2 L 460.7 786.4 L 461.6 791.9 L 462.4 789.5 L 463.3 779.3 L 464.1 781.1 L 465 783.9 L 465.9 784.4 L 466.7 779.7 L 467.6 777.8 L 468.4 775.2 L 469.3 780 L 470.1 778.6 L 471 769.3 L 471.9 771.4 L 473.6 777.6 L 475.3 764.9 L 476.2 764.6 L 477 769 L 477.9 768.4 L 478.7 767.4 L 479.6 761.4 L 480.4 759 L 481.3 761.8 L 482.2 764 L 483 762.2 L 483.9 755.2 L 484.7 756.9 L 485.6 760.5 L 486.5 756.5 L 487.3 753.3 L 488.2 755.9 L 489 758.1 L 490.7 752.4 L 491.6 759.6 L 492.5 764.4 L 493.3 758.5 L 494.2 754.3 L 495 760.2 L 495.9 762.3 L 496.8 755 L 497.6 755.1 L 498.5 758.9 L 499.3 761.5 L 500.2 759.6 L 501.1 755.9 L 501.9 759.5 L 502.8 765.3 L 503.6 758 L 504.5 755.5 L 505.3 758.4 L 506.2 764.5 L 507.1 759.7 L 507.9 754 L 508.8 760.4 L 509.6 761.1 L 510.5 755 L 511.4 758.1 L 512.2 763.4 L 513.1 762.3 L 513.9 757.4 L 514.8 758.4 L 515.6 761.9 L 516.5 757.1 L 518.2 755 L 519.1 764.8 L 519.9 761 L 520.8 754.2 L 521.7 757.3 L 522.5 764.2 L 524.2 752.7 L 525.1 753.6 L 525.9 758.7 L 526.8 758.5 L 527.7 753.4 L 528.5 751 L 529.4 757.2 L 530.2 760.7 L 531.1 759.2 L 532.8 750.8 L 533.7 755.5 L 534.5 755.4 L 535.4 750.4 L 536.3 750.2 L 537.1 758 L 538 759.3 L 538.8 752.5 L 539.7 752.2 L 540.5 758.8 L 541.4 754.7 L 542.3 749.8 L 543.1 750.1 L 544 756.3 L 544.8 758.2 L 545.7 753.6 L 546.6 751.9 L 547.4 757.5 L 548.3 754.8 L 549.1 751.4 L 550 752.2 L 550.8 758.3 L 551.7 759.4 L 552.6 748.9 L 554.3 762.1 L 555.1 753.2 L 556 753.2 L 556.9 759.7 L 557.7 759.6 L 558.6 753.3 L 559.4 751.1 L 560.3 752.3 L 561.1 756.5 L 562 756.7 L 562.9 756.4 L 563.7 751.3 L 564.6 754.3 L 565.4 758 L 566.3 757.9 L 567.2 753 L 568 754.2 L 568.9 758.3 L 569.7 756.7 L 570.6 756 L 571.4 754 L 572.3 758.5 L 573.2 760.9 L 574 754.1 L 574.9 754.2 L 575.7 763.1 L 576.6 760.4 L 577.5 757.2 L 578.3 752.7 L 579.2 760.9 L 580 760.6 L 580.9 754.9 L 581.8 752.7 L 582.6 760.7 L 583.5 758.7 L 584.3 751.3 L 585.2 754.3 L 586 758.6 L 586.9 759.8 L 587.8 753.9 L 588.6 753.2 L 589.5 762.6 L 591.2 753.4 L 592.9 762.2 L 593.8 759.8 L 594.6 755.3 L 595.5 755.9 L 596.3 758.3 L 597.2 758.6 L 598.1 751.1 L 598.9 754.5 L 599.8 761.5 L 601.5 748.8 L 602.4 754.5 L 604.1 762.6 L 604.9 756.3 L 605.8 755.2 L 607.5 762.5 L 608.4 753.3 L 609.2 752 L 610.1 756.3 L 610.9 763.1 L 611.8 758.6 L 612.7 750.8 L 613.5 753.5 L 614.4 764.2 L 615.2 758.6 L 616.1 748.2 L 617 751 L 617.8 758.5 L 618.7 757.3 L 619.5 755.3 L 620.4 753.8 L 621.2 765.6 L 622.1 755.7 L 623 749.3 L 623.8 753.2 L 624.7 762.5 L 626.4 747.1 L 627.3 752.8 L 628.1 762.6 L 629 757.2 L 629.8 749.4 L 630.7 749.5 L 631.5 756.2 L 632.4 759.3 L 634.1 751.5 L 635 751.6 L 635.8 762.7 L 636.7 758.2 L 637.6 748.1 L 638.4 753 L 639.3 758.8 L 640.1 754.7 L 641 749.1 L 641.8 745.5 L 642.7 761.5 L 643.6 766 L 644.4 760.2 L 645.3 751.1 L 646.1 747.9 L 647 756.9 L 647.9 761.4 L 648.7 745.6 L 649.6 743.3 L 650.4 757.8 L 651.3 761.1 L 652.1 752.5 L 653 748.2 L 653.9 754.1 L 654.7 764 L 656.4 747.5 L 657.3 753.2 L 658.2 763.9 L 659 759.1 L 659.9 750.4 L 660.7 750.3 L 661.6 767.4 L 662.5 757.9 L 663.3 750.5 L 664.2 750.7 L 665 763.8 L 665.9 766.6 L 666.7 751.5 L 667.6 752.6 L 668.5 764.2 L 669.3 765.4 L 670.2 758.3 L 671 749.1 L 672.8 767 L 673.6 765.1 L 674.5 754 L 675.3 748.7 L 676.2 753.5 L 677 765.5 L 677.9 760.3 L 678.8 750.9 L 679.6 745.7 L 680.5 749.5 L 681.3 766.5 L 682.2 748.5 L 683.1 744.9 L 683.9 750.3 L 684.8 761.2 L 685.6 758.6 L 686.5 747.1 L 687.3 745.1 L 688.2 755.9 L 689.1 759.6 L 689.9 755 L 690.8 740.6 L 692.5 766.5 L 694.2 740.1 L 695.1 748.9 L 696.8 762 L 697.7 762.1 L 698.5 752 L 699.4 753.7 L 700.2 760.4 L 701.9 743 L 702.8 755.3 L 703.7 763 L 704.5 752.5 L 705.4 743.9 L 707.1 764.2 L 708 761.8 L 708.8 748 L 709.7 748.6 L 710.5 756.2 L 712.2 745.3 L 713.1 745.7 L 714 751.3 L 714.8 753.2 L 715.7 746.6 L 716.5 737.6 L 717.4 757.5 L 718.3 751.9 L 719.1 737.1 L 720 733.7 L 720.8 754 L 721.7 756.3 L 722.5 740.4 L 723.4 734.1 L 724.3 752.6 L 725.1 759.9 L 726 744.8 L 726.8 738.8 L 727.7 744.9 L 728.6 754.1 L 729.4 752.7 L 730.3 742 L 731.1 736.7 L 732 757.8 L 732.9 749 L 733.7 730.9 L 734.6 741 L 735.4 745 L 737.1 749.5 L 738 733.1 L 738.9 737.3 L 739.7 742.3 L 740.6 748.3 L 741.4 749.8 L 742.3 746.5 L 743.2 735.7 L 744 747.6 L 744.9 754.2 L 745.7 740 L 746.6 735.7 L 747.4 742.7 L 748.3 745.4 L 749.2 732.5 L 750 729.6 L 751.7 754.2 L 752.6 743.9 L 753.5 738.8 L 754.3 743.5 L 755.2 757 L 756 749.1 L 756.9 738.1 L 757.7 746.6 L 758.6 756.5 L 759.5 745.3 L 760.3 728.5 L 761.2 749.3 L 762 758.7 L 762.9 750.1 L 763.8 735.4 L 764.6 738.1 L 765.5 759.2 L 766.3 744 L 767.2 734 L 768 737.9 L 768.9 756.6 L 769.8 744.2 L 770.6 739.3 L 771.5 753.7 L 772.3 759.6 L 773.2 755.7 L 774.1 738.7 L 774.9 737.2 L 775.8 744.1 L 776.6 755.3 L 777.5 753.2 L 778.4 740.8 L 779.2 745.9 L 780.9 754.7 L 781.8 754.1 L 782.6 732.3 L 783.5 738.9 L 784.4 755.4 L 785.2 747.2 L 786.1 733.8 L 786.9 753.8 L 787.8 752.3 L 788.7 730.6 L 789.5 724.9 L 790.4 732.8 L 791.2 743.5 L 792.1 741.1 L 792.9 733.9 L 793.8 728.8 L 794.7 732.2 L 795.5 741.7 L 796.4 742 L 797.2 723.3 L 798.1 732.6 L 799 747.6 L 799.8 745.9 L 800.7 731.1 L 801.5 735.4 L 802.4 742 L 803.2 745.2 L 804.1 734.8 L 805 726.7 L 805.8 731.3 L 806.7 756.9 L 808.4 725.4 L 809.3 743.3 L 810.1 751.1 L 811 750.8 L 811.8 734.7 L 812.7 749.2 L 813.6 756 L 814.4 733.6 L 815.3 731.7 L 816.1 749.3 L 817 749.5 L 817.8 739.2 L 818.7 732.7 L 819.6 741 L 820.4 752.4 L 821.3 740.3 L 822.1 733.7 L 823 751.3 L 823.9 763 L 824.7 748.8 L 825.6 737.5 L 826.4 731.8 L 827.3 748 L 828.1 744.9 L 829 736.9 L 830.7 754.2 L 831.6 745.5 L 832.4 731.9 L 834.2 756.4 L 835 756.1 L 835.9 745.3 L 836.7 736.3 L 837.6 736.7 L 838.4 752.8 L 839.3 752.8 L 840.2 739 L 841 731.5 L 841.9 746.5 L 842.7 759.4 L 843.6 756.1 L 844.5 738.2 L 845.3 736.4 L 846.2 749.4 L 847 753.8 L 847.9 751.3 L 848.7 744.3 L 850.5 761.9 L 851.3 753.3 L 852.2 738.3 L 853 747.1 L 853.9 766.8 L 854.8 755.2 L 855.6 739.7 L 856.5 736.7 L 857.3 760.8 L 858.2 759.2 L 859.1 751.1 L 859.9 737.6 L 860.8 737.3 L 861.6 757.5 L 862.5 751.4 L 863.3 734.5 L 864.2 742.4 L 865.1 742.5 L 865.9 745.1 L 866.8 723.7 L 867.6 730 L 868.5 747.1 L 869.4 732.8 L 870.2 721.5 L 871.1 730.5 L 871.9 736 L 872.8 736.9 L 873.6 728.6 L 874.5 723.8 L 875.4 721.8 L 876.2 730.5 L 877.1 735.9 L 877.9 739.8 L 878.8 722.4 L 879.7 720.5 L 880.5 726.3 L 881.4 745.3 L 882.2 728.4 L 883.1 721.9 L 883.9 736.5 L 884.8 734.9 L 885.7 726.2 L 886.5 724.7 L 887.4 734 L 888.2 738.8 L 889.1 729.6 L 890 731.7 L 890.8 744.2 L 891.7 744.3 L 892.5 728.4 L 893.4 725 L 894.3 749 L 895.1 740.4 L 896 728.2 L 896.8 733.1 L 897.7 741.8 L 898.5 743.7 L 900.3 732.3 L 901.1 742.5 L 902 751 L 902.8 742.8 L 903.7 729.6 L 904.6 728.4 L 905.4 739.5 L 906.3 746.5 L 907.1 739.5 L 908 726.3 L 908.8 724.9 L 909.7 736 L 910.6 741.3 L 911.4 724.9 L 912.3 739.4 L 913.1 748.9 L 914 735.1 L 914.9 730 L 915.7 738.5 L 916.6 748.2 L 917.4 726 L 918.3 721.8 L 919.1 728.4 L 920 742.2 L 920.9 739.1 L 921.7 729.4 L 922.6 729.9 L 923.4 740.4 L 925.2 724.7 L 926 726.9 L 926.9 736.1 L 927.7 736.1 L 928.6 738.2 L 929.5 718.2 L 930.3 724.2 L 931.2 742.3 L 932 737.8 L 932.9 723.6 L 933.7 720.5 L 934.6 732.9 L 935.5 735.6 L 936.3 716.8 L 937.2 728.2 L 938 737.2 L 939.8 715.6 L 940.6 727.6 L 941.5 737.8 L 942.3 732.2 L 943.2 720.6 L 944 726.4 L 944.9 733.6 L 945.8 738.4 L 946.6 724 L 947.5 720.9 L 948.3 726.4 L 949.2 740.8 L 950.1 728.7 L 950.9 719.4 L 951.8 737.8 L 952.6 742.6 L 953.5 738.8 L 954.3 725.9 L 955.2 725.9 L 956.1 747 L 956.9 745.6 L 957.8 725.7 L 958.6 733.7 L 959.5 738.8 L 960.4 742.5 L 961.2 728.5 L 962.1 734.6 L 962.9 746.9 L 963.8 746 L 965.5 726.7 L 966.4 725.4 L 967.2 743.2 L 968.1 736.9 L 968.9 725 L 969.8 729.9 L 970.7 747.1 L 971.5 730.9 L 972.4 720.4 L 973.2 727.6 L 974.1 739.5 L 975 728.5 L 975.8 726.2 L 976.7 725.5 L 977.5 742.9 L 978.4 735.8 L 979.2 717.5 L 980.1 732.8 L 981 745.9 L 982.7 716.7 L 983.5 738.7 L 984.4 738.6 L 985.3 728.3 L 986.1 723.1 L 987 730.4 L 987.8 747.2 L 988.7 736.1 L 989.5 726.8 L 990.4 741.8 L 991.3 737.2 L 992.1 728.1 L 993 726.1 L 993.8 737.2 L 994.7 736.2 L 995.6 723.3 L 996.4 718.7 L 997.3 724.6 L 998.1 732.1 L 999 728.3 L 999.8 715 L 1000.7 715.4 L 1001.6 721.6 L 1002.4 731.3 L 1003.3 727.4 L 1004.1 714.9 L 1005 736 L 1005.9 737 L 1007.6 713 L 1008.4 716.6 L 1009.3 735.8 L 1010.2 731.7 L 1011 721.9 L 1011.9 719.7 L 1012.7 737.7 L 1013.6 725.2 L 1014.4 719 L 1015.3 734 L 1016.2 741.9 L 1017 727.1 L 1017.9 721.7 L 1018.7 736.2 L 1019.6 743.8 L 1021.3 727 L 1022.2 736.6 L 1023 748.2 L 1023.9 731 L 1024.7 718 L 1025.6 721 L 1026.5 732.3 L 1027.3 737 L 1028.2 723.4 L 1029 727 L 1029.9 731.5 L 1030.8 734.2 L 1031.6 722.2 L 1032.5 723.4 L 1033.3 726.4 L 1034.2 731.3 L 1035 731.5 L 1035.9 721.4 L 1036.8 727.7 L 1037.6 727.7 L 1038.5 722.8 L 1039.3 716 L 1040.2 718.7 L 1041.1 728 L 1041.9 725.6 L 1042.8 718.3 L 1043.6 716.8 L 1044.5 730.1 L 1045.3 726.5 L 1046.2 716.6 L 1047.1 708.5 L 1047.9 722.7 L 1048.8 733.8 L 1049.6 719.1 L 1050.5 710.9 L 1051.4 716 L 1052.2 725.9 L 1053.1 727.8 L 1053.9 715.1 L 1054.8 713.8 L 1055.7 725.3 L 1056.5 729.2 L 1057.4 713.7 L 1058.2 717.5 L 1059.1 730.3 L 1059.9 728.4 L 1060.8 718.4 L 1061.7 718.5 L 1062.5 728.5 L 1063.4 729.4 L 1064.2 712 L 1065.1 714.9 L 1066 727.6 L 1066.8 730.5 L 1067.7 725.2 L 1068.5 707.2 L 1069.4 718.1 L 1070.2 732.5 L 1071.1 725.4 L 1072 711 L 1072.8 708.5 L 1073.7 723.4 L 1074.5 733.6 L 1075.4 719.2 L 1077.1 724 L 1078 735.3 L 1078.8 735 L 1079.7 717.7 L 1080.5 721.5 L 1081.4 730.9 L 1082.3 731 L 1083.1 728.7 L 1084 714.9 L 1084.8 727.6 L 1085.7 732.1 L 1086.6 726.1 L 1087.4 718.1 L 1088.3 723.8 L 1089.1 728.1 L 1090 728.5 L 1090.9 718 L 1091.7 717.5 L 1092.6 718.2 L 1093.4 733.1 L 1094.3 716 L 1095.1 714.1 L 1096 712.6 L 1096.9 721.5 L 1097.7 732.9 L 1098.6 721.6 L 1099.4 714 L 1100.3 709.1 L 1101.2 722.6 L 1102 711 L 1102.9 706.1 L 1103.7 723.7 L 1104.6 723.5 L 1105.4 709.3 L 1106.3 716.1 L 1107.2 731.7 L 1108 732.6 L 1108.9 721 L 1109.7 717.7 L 1110.6 730.5 L 1111.5 738.6 L 1112.3 725.9 L 1113.2 720.4 L 1114 719.4 L 1114.9 727.1 L 1115.7 725.3 L 1116.6 713.4 L 1117.5 720.4 L 1118.3 723.6 L 1119.2 721.3 L 1120 702.7 L 1120.9 719.1 L 1121.8 728.3 L 1122.6 727.8 L 1123.5 717.1 L 1124.3 715.2 L 1126 726.7 L 1126.9 713.3 L 1127.8 705.9 L 1128.6 724.2 L 1129.5 722.1 L 1130.3 711.3 L 1131.2 707 L 1132.1 711.2 L 1132.9 721.1 L 1133.8 717 L 1134.6 699.9 L 1135.5 709.5 L 1136.4 723.8 L 1137.2 730.5 L 1138.1 719 L 1138.9 719.4 L 1139.8 728.1 L 1140.6 729.6 L 1141.5 718.5 L 1142.4 712.1 L 1143.2 717.3 L 1144.1 731.9 L 1144.9 723.8 L 1145.8 712.7 L 1146.7 713 L 1147.5 724.3 L 1148.4 720.2 L 1149.2 711.3 L 1150.1 716.3 L 1150.9 736.5 L 1151.8 730.4 L 1152.7 715.4 L 1153.5 710.2 L 1154.4 727.5 L 1155.2 728.9 L 1156.1 727 L 1157 713.8 L 1157.8 719.1 L 1158.7 729 L 1159.5 732.7 L 1160.4 710.5 L 1161.2 714.6 L 1162.1 724.8 L 1163 725.1 L 1163.8 713.8 L 1164.7 720.2 L 1165.5 736.6 L 1166.4 724.7 L 1167.3 724.5 L 1168.1 732.7 L 1169 729.5 L 1169.8 721 L 1170.7 713.7 L 1171.6 729.1 L 1172.4 730.9 L 1173.3 715.4 L 1174.1 707 L 1175.8 734.4 L 1176.7 729.5 L 1177.6 714 L 1178.4 716.6 L 1179.3 723.2 L 1180.1 720.4 L 1181 711.5 L 1181.9 724.6 L 1182.7 732.5 L 1183.6 721.7 L 1184.4 714.6 L 1185.3 732.5 L 1186.1 733.3 L 1187 722.5 L 1187.9 713.7 L 1188.7 728.5 L 1189.6 735.6 L 1190.4 723.9 L 1191.3 716 L 1192.2 723.2 L 1193 739.8 L 1193.9 726.1 L 1194.7 716.9 L 1195.6 721.7 L 1196.4 734.7 L 1197.3 722.2 L 1198.2 717.9 L 1199 720.8 L 1199.9 730.7 L 1200.7 719.4 L 1201.6 716.5 L 1202.5 712.6 L 1203.3 726.6 L 1204.2 727.6 L 1205 703 L 1205.9 706 L 1206.8 720.2 L 1207.6 726.3 L 1208.5 711 L 1209.3 702.7 L 1210.2 710.7 L 1211 727.8 L 1211.9 716.1 L 1212.8 707.8 L 1213.6 717.9 L 1214.5 716.3 L 1215.3 705.2 L 1216.2 709.6 L 1217.1 717.8 L 1217.9 732 L 1218.8 708.6 L 1219.6 701.6 L 1220.5 724 L 1221.3 726 L 1222.2 708.3 L 1223.1 701.5 L 1224.8 725.5 L 1225.6 709.6 L 1226.5 709.2 L 1227.4 725.4 L 1228.2 717.5 L 1229.9 699.8 L 1230.8 708.1 L 1231.6 726.9 L 1232.5 719.4 L 1233.4 706 L 1234.2 711.5 L 1235.1 725.6 L 1235.9 711.4 L 1236.8 700.7 L 1238.5 719.5 L 1239.4 708.6 L 1240.2 700 L 1241.1 717.4 L 1241.9 729.1 L 1242.8 711.3 L 1243.7 702.6 L 1244.5 717.5 L 1245.4 730.1 L 1246.2 719.6 L 1247.1 715.1 L 1248 707.4 L 1248.8 722 L 1249.7 726.8 L 1250.5 706.8 L 1251.4 713.9 L 1252.3 725.6 L 1253.1 721.7 L 1254 704.7 L 1254.8 705.2 L 1255.7 721 L 1256.5 725.1 L 1257.4 714.2 L 1258.3 709.4 L 1259.1 722.2 L 1260 722.6 L 1260.8 715.6 L 1261.7 706.5 L 1263.4 722.2 L 1264.3 719.3 L 1265.1 707.8 L 1266 713.9 L 1266.8 723.4 L 1267.7 710.4 L 1268.6 702.5 L 1269.4 708 L 1270.3 719.5 L 1271.1 714.1 L 1271.7 706.4 L 1273.7 860.8 L 1273.7 860.8 " clip-path="url(#p2e0bae5d63)" style="fill: none; stroke-dasharray: 1.5,2.475; stroke-dashoffset: 0; stroke: #440154; stroke-opacity: 0.6; stroke-width: 1.5"/>
</g>
<g id="line2d_61">
<path d="M 415.2 860.8 L 416.1 860.6 L 416.9 861.2 L 417.8 861 L 418.6 860.4 L 419.5 860.2 L 420.4 861 L 421.2 861.3 L 422.9 859.9 L 424.6 861.3 L 425.5 860.8 L 428.1 858.7 L 428.9 856.3 L 429.8 854.5 L 430.7 854.4 L 431.5 853.4 L 433.2 845.1 L 434.1 843.2 L 434.9 839 L 435.8 833.8 L 436.7 831.1 L 437.5 829.5 L 438.4 826.4 L 439.2 819.6 L 440.1 817.8 L 441 817.6 L 441.8 810.1 L 442.7 804.1 L 443.5 804.4 L 444.4 802.8 L 445.2 796.4 L 446.1 796.2 L 447 800.7 L 447.8 796.7 L 448.7 787.4 L 449.5 788.5 L 450.4 794.3 L 451.3 787.2 L 452.1 781.3 L 453 785.1 L 454.7 780.5 L 455.6 777 L 456.4 777.6 L 457.3 780.9 L 458.1 772.6 L 459 770.5 L 459.8 775.8 L 460.7 777.4 L 461.6 776.6 L 462.4 767.1 L 463.3 763.7 L 464.1 769.2 L 465 770.6 L 467.6 763.4 L 468.4 767.2 L 469.3 766.4 L 470.1 762.5 L 471 757.3 L 471.9 761.4 L 472.7 766.2 L 473.6 761 L 474.4 761 L 475.3 760.1 L 476.2 765.7 L 477 762.3 L 477.9 755.7 L 478.7 755 L 479.6 760.3 L 480.4 762.6 L 481.3 763.2 L 482.2 754.6 L 483 759.4 L 483.9 762.5 L 485.6 752.5 L 486.5 760.7 L 487.3 758.6 L 488.2 751.9 L 489 750.7 L 489.9 761.5 L 490.7 760.6 L 491.6 754.3 L 492.5 754.3 L 493.3 763.5 L 494.2 758.8 L 495 751.6 L 495.9 748.9 L 497.6 762.5 L 498.5 755.5 L 499.3 755.1 L 500.2 753 L 501.1 758.6 L 501.9 761.7 L 502.8 753.6 L 503.6 755.7 L 504.5 758.7 L 505.3 759.3 L 506.2 752.5 L 507.1 754.7 L 507.9 762.3 L 508.8 759.8 L 509.6 750.4 L 510.5 751 L 511.4 752.8 L 512.2 760.4 L 513.1 751.8 L 513.9 750.2 L 514.8 754.2 L 515.6 761 L 516.5 753.8 L 517.4 751.5 L 518.2 755.2 L 519.1 762.6 L 519.9 759.4 L 520.8 752.3 L 521.7 750.8 L 522.5 760.8 L 523.4 759.4 L 524.2 754.8 L 525.1 757 L 525.9 762.9 L 526.8 761.4 L 527.7 754.6 L 528.5 759.7 L 529.4 763.2 L 530.2 764.9 L 531.1 759.8 L 532 759.6 L 532.8 763.5 L 533.7 764 L 534.5 761.2 L 535.4 760.4 L 536.3 762.8 L 537.1 767.2 L 538 762.4 L 538.8 759.4 L 539.7 764 L 540.5 762.4 L 541.4 755.9 L 542.3 760.1 L 543.1 765.1 L 544 767 L 544.8 757.6 L 545.7 758.8 L 547.4 767.1 L 548.3 765.3 L 549.1 757.6 L 550 760.8 L 550.8 765 L 551.7 767.4 L 552.6 762.1 L 553.4 757.7 L 554.3 764.2 L 555.1 767.7 L 556 762.2 L 556.9 755.6 L 557.7 758.3 L 558.6 767.6 L 559.4 766.3 L 560.3 757 L 561.1 758.8 L 562 763.7 L 562.9 765.3 L 563.7 759.3 L 564.6 757.7 L 565.4 762.5 L 566.3 763.6 L 567.2 759.7 L 568 754 L 568.9 759.4 L 569.7 763.3 L 570.6 757.4 L 571.4 754 L 572.3 760.4 L 573.2 759.9 L 574 754.8 L 574.9 754 L 575.7 755.6 L 576.6 764.3 L 577.5 754.5 L 578.3 752 L 579.2 754 L 580 758.6 L 580.9 758.5 L 581.8 751.5 L 583.5 758 L 584.3 760.8 L 585.2 756.1 L 586 752.2 L 586.9 758 L 587.8 759.3 L 588.6 752.4 L 589.5 755.1 L 590.3 763.1 L 591.2 763.1 L 592.1 755.5 L 592.9 755.4 L 593.8 760.9 L 594.6 765.7 L 596.3 755.3 L 597.2 758.7 L 598.1 763.4 L 598.9 755.1 L 599.8 753.4 L 600.6 762.5 L 601.5 758.6 L 602.4 754.2 L 603.2 756.9 L 604.1 760.4 L 604.9 758.3 L 605.8 752.8 L 606.6 749.2 L 607.5 758 L 608.4 763 L 609.2 761.4 L 610.1 752.6 L 610.9 756 L 611.8 762.2 L 612.7 763 L 613.5 752.9 L 614.4 752.6 L 615.2 763.4 L 617 750.7 L 617.8 759 L 618.7 754.9 L 619.5 749.6 L 620.4 757.3 L 621.2 759.8 L 622.1 759.7 L 623 749.6 L 623.8 754.1 L 624.7 757.7 L 625.5 759.5 L 626.4 748.7 L 627.3 753.4 L 628.1 761.6 L 629.8 748.1 L 630.7 753 L 631.5 756.6 L 632.4 744.1 L 633.3 748.7 L 634.1 755.1 L 635 760.1 L 635.8 745.4 L 636.7 742.7 L 637.6 751.7 L 638.4 751 L 639.3 744.4 L 640.1 747.2 L 641 757 L 641.8 753.8 L 642.7 739.3 L 643.6 747.3 L 644.4 761.1 L 645.3 750.4 L 646.1 742.5 L 647 752.4 L 647.9 759.7 L 648.7 750.2 L 649.6 745.9 L 650.4 742.7 L 651.3 752.5 L 653 743.4 L 653.9 746.7 L 654.7 756.4 L 655.6 754.7 L 656.4 744.7 L 657.3 741.5 L 658.2 759.5 L 659.9 742.2 L 660.7 753.7 L 661.6 755.2 L 662.5 744.9 L 663.3 745 L 664.2 754.5 L 665 754.3 L 665.9 741.9 L 666.7 745.7 L 667.6 760 L 668.5 762 L 669.3 742.5 L 670.2 747.2 L 671 758.5 L 671.9 767.1 L 672.8 751.5 L 673.6 752.5 L 674.5 756.8 L 675.3 763.8 L 676.2 756.1 L 677 743.1 L 677.9 759 L 678.8 753.4 L 679.6 746.7 L 680.5 743.5 L 681.3 757.8 L 682.2 759.6 L 683.1 739.8 L 683.9 743.5 L 684.8 758.3 L 685.6 757.1 L 686.5 741.1 L 687.3 744.6 L 688.2 747.5 L 689.1 753.2 L 689.9 735.7 L 690.8 737.5 L 691.6 749.8 L 692.5 743.7 L 693.4 729.4 L 694.2 732.9 L 695.1 744.8 L 695.9 743.2 L 696.8 732.1 L 697.7 737.9 L 698.5 751 L 699.4 745.6 L 700.2 731.6 L 701.1 729.8 L 701.9 756.5 L 702.8 758.2 L 703.7 753.3 L 704.5 735.5 L 705.4 741.4 L 706.2 762.5 L 707.1 751 L 708 747.8 L 708.8 746.4 L 709.7 764.3 L 710.5 765.3 L 711.4 753.2 L 712.2 743.9 L 713.1 756.4 L 714 763.7 L 714.8 750 L 715.7 748.6 L 716.5 760.7 L 717.4 752.2 L 718.3 749 L 719.1 746.7 L 720 761.6 L 720.8 764.2 L 721.7 750.5 L 722.5 742.9 L 723.4 749.9 L 724.3 755.3 L 725.1 763.8 L 726 747.5 L 726.8 755.9 L 727.7 766.8 L 728.6 768.5 L 729.4 752 L 730.3 747 L 732 771.3 L 732.9 762.8 L 733.7 756.1 L 734.6 755.6 L 735.4 766.7 L 736.3 770.8 L 737.1 771.1 L 738 750.9 L 738.9 756.3 L 739.7 773.9 L 740.6 762.4 L 741.4 753.2 L 742.3 756.8 L 743.2 774 L 744.9 755.9 L 745.7 757.5 L 746.6 764.7 L 747.4 765.3 L 748.3 751.6 L 749.2 750.9 L 750 763.4 L 750.9 773.5 L 751.7 765.6 L 752.6 749.3 L 753.5 754.8 L 754.3 763.8 L 755.2 753.4 L 756 739 L 756.9 746 L 757.7 767.2 L 758.6 766.3 L 759.5 756.3 L 760.3 740.1 L 761.2 755.3 L 762 764.9 L 763.8 748.7 L 764.6 750 L 765.5 763.9 L 766.3 763.4 L 768 743.2 L 768.9 746.3 L 769.8 758.3 L 770.6 753.9 L 771.5 737.2 L 772.3 754.6 L 773.2 756 L 774.1 745.2 L 774.9 743.5 L 775.8 757.4 L 776.6 755.5 L 777.5 754.5 L 778.4 750.5 L 779.2 759.1 L 780.1 758.8 L 780.9 752.1 L 781.8 756.4 L 782.6 767.3 L 783.5 764.3 L 784.4 747.8 L 785.2 762.1 L 786.1 774.2 L 786.9 755.8 L 787.8 748.1 L 788.7 767.4 L 789.5 773.6 L 790.4 761.6 L 791.2 758.2 L 792.1 759.8 L 792.9 771.7 L 793.8 761.2 L 794.7 755 L 795.5 761.7 L 796.4 770.7 L 797.2 756.4 L 798.1 751 L 799 760.8 L 799.8 765.1 L 800.7 753.5 L 801.5 767.9 L 802.4 779.2 L 803.2 757 L 804.1 753.8 L 805 768.8 L 805.8 772.5 L 806.7 763.6 L 807.5 752.7 L 808.4 768.4 L 809.3 767.9 L 810.1 755.1 L 811 758.4 L 811.8 770 L 812.7 761.6 L 813.6 751.4 L 815.3 771.9 L 816.1 774.5 L 817 763.9 L 817.8 763.8 L 818.7 776.7 L 819.6 766.7 L 820.4 759.1 L 821.3 756.3 L 822.1 764.2 L 823 776.4 L 823.9 762.4 L 824.7 757 L 825.6 768.3 L 826.4 774.7 L 827.3 752.8 L 828.1 752 L 829 769.3 L 829.9 772.2 L 830.7 758.6 L 831.6 758.3 L 832.4 777 L 833.3 763.9 L 834.2 756.9 L 835.9 769.5 L 837.6 755.7 L 838.4 764.6 L 839.3 767.4 L 840.2 757.4 L 841 758.2 L 841.9 769.2 L 842.7 766.3 L 843.6 751.1 L 844.5 757.8 L 845.3 765.4 L 846.2 765.6 L 847 757.9 L 847.9 756.3 L 848.7 774.8 L 849.6 759.9 L 850.5 753.1 L 852.2 768.2 L 853 759.1 L 853.9 741.8 L 854.8 761.9 L 855.6 774 L 856.5 756.9 L 857.3 745.7 L 858.2 758.8 L 859.1 775.5 L 859.9 753.1 L 860.8 747.6 L 861.6 755.1 L 862.5 769.2 L 863.3 765.2 L 864.2 757.6 L 865.1 747.3 L 865.9 759.1 L 866.8 774.5 L 867.6 762.9 L 868.5 753.1 L 869.4 748.4 L 870.2 767.1 L 871.1 769.6 L 871.9 756.7 L 872.8 759 L 873.6 774 L 874.5 775.6 L 875.4 760.8 L 876.2 752.9 L 877.1 769.8 L 877.9 764.5 L 878.8 760.2 L 879.7 760.9 L 880.5 775.3 L 881.4 758.1 L 882.2 755.7 L 883.1 767.6 L 883.9 774.4 L 885.7 758.8 L 886.5 764.8 L 887.4 774.9 L 888.2 758.9 L 889.1 747.3 L 890 757.1 L 890.8 771.1 L 891.7 767.9 L 892.5 747 L 893.4 763.9 L 894.3 772.3 L 895.1 750.5 L 896 754.5 L 896.8 764.7 L 897.7 766.2 L 898.5 751 L 899.4 748.1 L 900.3 751.4 L 901.1 765.3 L 902 751.2 L 902.8 747.8 L 903.7 757 L 904.6 753.7 L 905.4 744.5 L 906.3 746 L 907.1 757.6 L 908 762.4 L 908.8 744.2 L 909.7 749.8 L 910.6 767.2 L 911.4 751.8 L 912.3 739.1 L 913.1 759.3 L 914 767.8 L 915.7 748.4 L 916.6 750.7 L 917.4 752.7 L 918.3 755.5 L 919.1 745.1 L 920 744.7 L 920.9 753 L 921.7 766 L 922.6 749.1 L 923.4 746.4 L 924.3 766.7 L 925.2 760.6 L 926 750.7 L 926.9 752.7 L 927.7 767.3 L 928.6 762.2 L 929.5 751.6 L 930.3 752.6 L 931.2 767.5 L 932 753.6 L 932.9 744.5 L 933.7 761.9 L 934.6 769.7 L 936.3 751.7 L 938 765.3 L 938.9 765.3 L 939.8 750 L 940.6 748.7 L 941.5 768 L 942.3 759.7 L 943.2 742.9 L 944 761.2 L 944.9 766.8 L 945.8 751.7 L 946.6 747.7 L 947.5 749.4 L 948.3 764.3 L 949.2 763.7 L 950.1 751.6 L 950.9 747.7 L 951.8 753.8 L 952.6 772.5 L 953.5 759 L 954.3 754.8 L 955.2 756.6 L 956.1 760.3 L 956.9 758 L 957.8 753.4 L 958.6 757.1 L 959.5 760.2 L 960.4 757.4 L 961.2 752.8 L 962.1 772.8 L 962.9 763.2 L 963.8 760.1 L 964.6 774.9 L 965.5 776.1 L 966.4 769.9 L 967.2 759.1 L 968.1 761.4 L 968.9 772.5 L 969.8 759.8 L 970.7 759.3 L 971.5 767.3 L 972.4 771.2 L 973.2 760.1 L 974.1 754.2 L 975 756.3 L 975.8 769.5 L 976.7 769.7 L 977.5 754 L 978.4 755.8 L 979.2 758.7 L 980.1 762.9 L 981 774.7 L 981.8 759.9 L 982.7 752.5 L 983.5 764.3 L 984.4 769 L 986.1 745.7 L 987 767 L 987.8 758.7 L 988.7 744.4 L 989.5 772.1 L 990.4 773.8 L 991.3 749.4 L 992.1 752.3 L 993 772.1 L 993.8 763.5 L 994.7 749.1 L 995.6 756.9 L 996.4 768.3 L 997.3 773.9 L 998.1 764 L 999 757.3 L 999.8 765.3 L 1000.7 769.8 L 1001.6 763.6 L 1002.4 751.7 L 1003.3 761.1 L 1004.1 765.6 L 1005 765.1 L 1005.9 755.3 L 1006.7 748.1 L 1007.6 765.8 L 1008.4 764.1 L 1009.3 760.2 L 1010.2 744.6 L 1011.9 761.5 L 1012.7 762.9 L 1013.6 746.3 L 1014.4 757.6 L 1015.3 761.4 L 1016.2 756.4 L 1017 742.6 L 1017.9 742.3 L 1019.6 759.9 L 1020.5 742.1 L 1021.3 756.3 L 1022.2 764.9 L 1023.9 743.6 L 1025.6 763.7 L 1026.5 761 L 1027.3 753 L 1028.2 747.6 L 1029 756 L 1029.9 770.5 L 1030.8 766.3 L 1031.6 748.7 L 1032.5 757.1 L 1033.3 768.1 L 1034.2 762.5 L 1035 747.4 L 1035.9 752.6 L 1036.8 770.3 L 1037.6 762.8 L 1038.5 752.8 L 1039.3 758.6 L 1040.2 771.7 L 1041.1 758 L 1041.9 758.4 L 1042.8 771.3 L 1043.6 767.6 L 1044.5 754 L 1045.3 747.5 L 1046.2 764 L 1047.1 772.2 L 1047.9 760.8 L 1048.8 758.2 L 1049.6 760.6 L 1050.5 766.1 L 1051.4 764.2 L 1052.2 755.8 L 1053.1 757.9 L 1053.9 773.1 L 1055.7 753.6 L 1056.5 759.2 L 1057.4 774.1 L 1058.2 770.4 L 1059.1 752.9 L 1059.9 767.9 L 1060.8 779 L 1061.7 757.1 L 1062.5 751.3 L 1063.4 765.3 L 1064.2 773.6 L 1065.1 763.3 L 1066 750.8 L 1066.8 763.9 L 1067.7 782.2 L 1068.5 775.5 L 1069.4 765.6 L 1070.2 757 L 1071.1 771.8 L 1072 778.4 L 1072.8 769.5 L 1073.7 754.4 L 1074.5 760.9 L 1075.4 774.2 L 1076.3 768.4 L 1077.1 754.4 L 1078 759.8 L 1078.8 776.2 L 1079.7 775.3 L 1080.5 749.3 L 1081.4 761.6 L 1082.3 779.8 L 1083.1 767.7 L 1084 760.7 L 1084.8 763.6 L 1085.7 776.5 L 1086.6 771.6 L 1087.4 749.9 L 1089.1 770.8 L 1090 754.8 L 1090.9 748.3 L 1091.7 768.8 L 1092.6 770.5 L 1093.4 750 L 1094.3 745.1 L 1095.1 765.4 L 1096 762.8 L 1096.9 754.5 L 1097.7 762.6 L 1098.6 772 L 1099.4 763.7 L 1100.3 751.7 L 1101.2 756.6 L 1102 769.4 L 1102.9 762.6 L 1103.7 743.3 L 1104.6 768 L 1105.4 769.4 L 1106.3 757.2 L 1107.2 748.9 L 1108 768.2 L 1108.9 770.8 L 1109.7 754.4 L 1111.5 776.5 L 1112.3 763 L 1113.2 760.9 L 1114 775.2 L 1114.9 770.4 L 1115.7 755.8 L 1116.6 758.2 L 1117.5 774.3 L 1118.3 767 L 1119.2 751.6 L 1120 757.4 L 1120.9 767.6 L 1121.8 764.4 L 1122.6 749.5 L 1123.5 754.1 L 1124.3 757.2 L 1125.2 770.4 L 1126 754.9 L 1126.9 748.3 L 1127.8 765.5 L 1128.6 764.8 L 1129.5 755.9 L 1130.3 753.3 L 1131.2 771.9 L 1132.1 765 L 1132.9 752.7 L 1133.8 760.4 L 1134.6 770.2 L 1135.5 760.9 L 1136.4 753.3 L 1137.2 762.2 L 1138.1 769.7 L 1138.9 755.1 L 1139.8 765.3 L 1140.6 771 L 1141.5 764.2 L 1142.4 769.9 L 1143.2 772.4 L 1144.1 772.2 L 1144.9 761.7 L 1145.8 755.2 L 1146.7 773.7 L 1147.5 764 L 1148.4 758.8 L 1149.2 770 L 1150.1 769.4 L 1150.9 757.7 L 1151.8 757.1 L 1152.7 765.1 L 1153.5 771.4 L 1154.4 760.4 L 1155.2 752.7 L 1156.1 759.9 L 1157 774.2 L 1157.8 769.5 L 1159.5 756.5 L 1160.4 766.3 L 1161.2 773.6 L 1162.1 772.1 L 1163 759.9 L 1163.8 763.2 L 1164.7 780.4 L 1165.5 773.6 L 1166.4 755.4 L 1167.3 759.1 L 1168.1 777.9 L 1169 762.9 L 1169.8 753.7 L 1170.7 773.9 L 1171.6 770.8 L 1172.4 761.6 L 1173.3 755.5 L 1174.1 776.2 L 1175 774 L 1175.8 759.5 L 1176.7 758.5 L 1177.6 769.3 L 1178.4 774.7 L 1179.3 755.6 L 1180.1 747.1 L 1181 769.4 L 1181.9 760.7 L 1182.7 750.4 L 1183.6 764.3 L 1184.4 775.1 L 1185.3 757 L 1186.1 760.2 L 1187 775.4 L 1187.9 775.4 L 1188.7 768.2 L 1189.6 770.1 L 1190.4 787.5 L 1191.3 784.9 L 1192.2 769.6 L 1193 770.8 L 1193.9 774.3 L 1194.7 782.8 L 1196.4 768.1 L 1197.3 776 L 1198.2 782.5 L 1199 777.8 L 1199.9 760.8 L 1200.7 777.5 L 1201.6 786.6 L 1202.5 762.3 L 1203.3 762.7 L 1204.2 778.6 L 1205 782.7 L 1205.9 771.5 L 1206.8 753.8 L 1208.5 783 L 1209.3 767.3 L 1210.2 762.3 L 1211 763.2 L 1211.9 772.7 L 1212.8 771.1 L 1213.6 760.6 L 1214.5 752.4 L 1215.3 767.3 L 1216.2 777.2 L 1217.1 771.1 L 1217.9 760.8 L 1218.8 761.6 L 1219.6 773.3 L 1220.5 768.3 L 1221.3 764.6 L 1222.2 763.2 L 1223.1 764.8 L 1223.9 776.1 L 1224.8 768.5 L 1225.6 763.2 L 1226.5 778.6 L 1227.4 776.7 L 1228.2 766.7 L 1229.1 765.6 L 1229.9 779.7 L 1230.8 779.8 L 1231.6 766.3 L 1232.5 766.1 L 1233.4 777.4 L 1234.2 781.4 L 1235.1 768.3 L 1235.9 764.8 L 1236.8 777.6 L 1237.7 784.9 L 1238.5 768.5 L 1239.4 763.8 L 1241.1 789.6 L 1241.9 772.9 L 1242.8 776.1 L 1243.7 790.7 L 1244.5 780.7 L 1245.4 768.1 L 1246.2 784.1 L 1247.1 781.7 L 1248 771.1 L 1248.8 768.2 L 1250.5 782.4 L 1252.3 765.7 L 1253.1 774.5 L 1254 781.2 L 1254.8 768.6 L 1255.7 763.8 L 1256.5 776.9 L 1257.4 775.3 L 1259.1 762.8 L 1260 761.9 L 1260.8 770.8 L 1261.7 768.4 L 1262.6 755.8 L 1263.4 753 L 1264.3 772.7 L 1265.1 766.9 L 1266 747.8 L 1266.8 766.2 L 1267.7 762.8 L 1269.4 751.3 L 1270.3 755.5 L 1271.1 765.5 L 1271.7 760.1 L 1273.7 889.3 L 1273.7 889.3 " clip-path="url(#p2e0bae5d63)" style="fill: none; stroke-dasharray: 1.5,2.475; stroke-dashoffset: 0; stroke: #1f9e89; stroke-opacity: 0.6; stroke-width: 1.5"/>
</g>
<g id="line2d_62">
<path d="M 415.2 865.7 L 416.1 865.1 L 416.9 865.4 L 417.8 866 L 418.6 865.9 L 420.4 865.1 L 422.1 866.6 L 422.9 865.8 L 423.8 865.3 L 424.6 865.4 L 425.5 866.5 L 426.4 866.2 L 427.2 863.1 L 428.9 855.9 L 429.8 853.1 L 431.5 843.1 L 432.4 839.7 L 434.1 834.9 L 434.9 829.1 L 436.7 819.7 L 437.5 818.6 L 438.4 816.9 L 439.2 814.2 L 440.1 808.8 L 441 806.5 L 441.8 805.1 L 442.7 801.9 L 443.5 796.5 L 444.4 797.8 L 445.2 798.1 L 446.1 791.6 L 447 788.4 L 447.8 782.9 L 448.7 785.8 L 449.5 783.3 L 450.4 778.7 L 451.3 775.8 L 452.1 784.4 L 453.8 771.5 L 454.7 775.6 L 455.6 777.2 L 456.4 777.8 L 457.3 770.8 L 458.1 767.1 L 459 769.5 L 459.8 770.8 L 460.7 767.9 L 461.6 762 L 462.4 758.4 L 464.1 766.4 L 465 761.5 L 465.9 755.3 L 466.7 752.8 L 467.6 758.2 L 468.4 758.6 L 469.3 754 L 470.1 748.2 L 471 750.5 L 471.9 752.3 L 473.6 744 L 474.4 743 L 475.3 751.3 L 476.2 753.7 L 477 745.3 L 477.9 740.7 L 479.6 748.5 L 480.4 746.2 L 481.3 742.3 L 482.2 741.5 L 483 747.3 L 483.9 749.9 L 484.7 745.2 L 485.6 744.1 L 486.5 746.5 L 487.3 748.4 L 488.2 746.1 L 489 742.9 L 489.9 742.1 L 490.7 746.7 L 491.6 748.2 L 492.5 741.6 L 493.3 741.1 L 494.2 746.6 L 495 746.9 L 495.9 742.2 L 496.8 739.1 L 497.6 745 L 498.5 746.8 L 499.3 740.8 L 500.2 746.6 L 501.1 749.4 L 501.9 742.7 L 502.8 738.1 L 503.6 743.6 L 504.5 747.5 L 505.3 744 L 506.2 739.9 L 507.9 749.8 L 508.8 745.9 L 509.6 739.6 L 510.5 743.6 L 511.4 744.9 L 512.2 742.8 L 513.9 745.7 L 514.8 750.5 L 515.6 748 L 516.5 744.7 L 517.4 749.6 L 518.2 752.5 L 519.1 750.7 L 519.9 746.4 L 520.8 746.7 L 521.7 749.4 L 522.5 754 L 523.4 755.5 L 524.2 744.3 L 525.1 749.4 L 525.9 755.4 L 527.7 746.6 L 528.5 745.9 L 529.4 754.2 L 530.2 751.9 L 531.1 746.8 L 532 751.1 L 532.8 754.5 L 534.5 745.6 L 535.4 745.9 L 536.3 754.9 L 538 742.3 L 538.8 743.5 L 539.7 746.5 L 540.5 751.2 L 541.4 746.2 L 542.3 745.4 L 543.1 745.6 L 544 751.1 L 545.7 742.7 L 546.6 744.7 L 547.4 749.6 L 548.3 749.5 L 549.1 744 L 550 742.5 L 550.8 751.6 L 551.7 746.1 L 552.6 744.1 L 553.4 741.6 L 554.3 749.5 L 555.1 748.3 L 556 742.3 L 556.9 742.6 L 557.7 750.4 L 558.6 752.1 L 559.4 752.1 L 560.3 748 L 561.1 752 L 562 755.1 L 563.7 745.2 L 564.6 749.5 L 565.4 754.4 L 566.3 748.7 L 567.2 746.7 L 568 753 L 568.9 754.6 L 569.7 749.1 L 570.6 746.1 L 571.4 750 L 572.3 754.6 L 573.2 755.7 L 574 748.4 L 574.9 747.6 L 575.7 755.5 L 576.6 754 L 577.5 750.6 L 578.3 746.2 L 579.2 748.8 L 580 754.6 L 580.9 751.8 L 581.8 742.9 L 582.6 750.9 L 583.5 755.3 L 584.3 745.1 L 585.2 744.4 L 586 751.6 L 586.9 752.1 L 587.8 749.3 L 588.6 745 L 589.5 744.9 L 590.3 750.4 L 591.2 749.5 L 592.1 750.8 L 592.9 745.5 L 593.8 748.5 L 594.6 753.9 L 595.5 752.2 L 596.3 747.9 L 597.2 743 L 598.1 752.8 L 598.9 756.8 L 599.8 749.1 L 600.6 745.4 L 601.5 753.9 L 602.4 753.2 L 603.2 754.4 L 604.1 746.1 L 604.9 746.1 L 605.8 753 L 606.6 753.5 L 607.5 745.5 L 608.4 745.7 L 609.2 755.2 L 610.1 757.3 L 610.9 752 L 611.8 745.4 L 612.7 753.3 L 613.5 752.7 L 615.2 739 L 616.1 746.2 L 617 747.3 L 617.8 746.4 L 618.7 736.1 L 619.5 740.8 L 620.4 747.9 L 621.2 747.4 L 622.1 740.7 L 623 737.4 L 623.8 749.7 L 624.7 748.3 L 625.5 735.6 L 626.4 740.1 L 627.3 749.1 L 628.1 751.2 L 629 748.4 L 629.8 742.7 L 630.7 748 L 631.5 752.5 L 632.4 748.5 L 633.3 742.9 L 634.1 742.9 L 635 759.5 L 635.8 754.2 L 636.7 742.5 L 637.6 742.4 L 638.4 754.9 L 639.3 759 L 640.1 752.3 L 641 748.1 L 641.8 747.3 L 642.7 755.5 L 643.6 760.5 L 644.4 755.7 L 645.3 741.9 L 646.1 753.5 L 647 756.9 L 648.7 747.3 L 649.6 749.8 L 650.4 756.5 L 651.3 757.8 L 652.1 747.1 L 653 744.3 L 653.9 758.4 L 654.7 765.5 L 655.6 758.4 L 656.4 742.7 L 657.3 745.8 L 658.2 764.8 L 659 765.8 L 659.9 755.6 L 660.7 746.9 L 661.6 758.9 L 662.5 767.4 L 663.3 750.7 L 664.2 748.1 L 665 760.5 L 665.9 762.5 L 666.7 761.2 L 667.6 752.3 L 668.5 748.5 L 669.3 753.9 L 670.2 762.5 L 671 763.8 L 671.9 756.7 L 672.8 745.8 L 673.6 755 L 674.5 762.9 L 675.3 748.4 L 676.2 741.1 L 677 753.8 L 677.9 758.7 L 678.8 752.4 L 679.6 743.3 L 680.5 747.8 L 681.3 759.4 L 682.2 758.1 L 683.1 749.1 L 683.9 744.9 L 684.8 751.1 L 685.6 759.6 L 686.5 753.8 L 687.3 743.4 L 688.2 752.1 L 689.1 758.2 L 689.9 754 L 690.8 745.7 L 691.6 746.3 L 692.5 758.9 L 693.4 745.7 L 694.2 737 L 695.1 743 L 695.9 758.2 L 696.8 757 L 697.7 742.1 L 698.5 741 L 699.4 752.3 L 700.2 766.3 L 701.1 752.7 L 701.9 743 L 702.8 747.3 L 703.7 760.4 L 704.5 735.9 L 705.4 740 L 706.2 753.4 L 707.1 748.1 L 708 735.9 L 709.7 755.3 L 710.5 753.8 L 711.4 741.7 L 712.2 742.4 L 713.1 753.1 L 714 760.4 L 714.8 751.4 L 715.7 735.4 L 716.5 740.1 L 717.4 751.9 L 718.3 748.3 L 719.1 740 L 720 737.2 L 720.8 743.4 L 721.7 753 L 722.5 754.5 L 723.4 739.8 L 724.3 736.9 L 726 764.9 L 727.7 743 L 728.6 746.5 L 729.4 759.7 L 730.3 754.4 L 731.1 740.7 L 732 746 L 732.9 756.9 L 733.7 754.2 L 734.6 745.9 L 736.3 752.5 L 737.1 752.8 L 738 745 L 738.9 744.7 L 739.7 754.5 L 740.6 752.7 L 741.4 752.1 L 742.3 739.4 L 744 760.1 L 744.9 752.9 L 745.7 740.1 L 746.6 742.3 L 747.4 755.2 L 748.3 759.2 L 749.2 740.7 L 750 739.6 L 750.9 756 L 751.7 759.5 L 753.5 741 L 754.3 749.4 L 755.2 764.1 L 756 752 L 756.9 743.1 L 757.7 738.5 L 758.6 762.7 L 759.5 754.3 L 760.3 736.7 L 761.2 741.2 L 762 754.4 L 762.9 754.8 L 763.8 734.2 L 764.6 746.8 L 765.5 752.8 L 766.3 755.9 L 767.2 738.6 L 768 731.3 L 768.9 747.1 L 769.8 753.6 L 770.6 741.9 L 771.5 737.5 L 772.3 751.3 L 773.2 737.8 L 774.1 729 L 774.9 733.2 L 775.8 746.7 L 776.6 744.6 L 777.5 726.2 L 779.2 749.2 L 780.1 736.8 L 780.9 726 L 781.8 738.5 L 782.6 745 L 784.4 725.3 L 785.2 734.8 L 786.1 740.8 L 786.9 741.8 L 787.8 730.9 L 788.7 727.3 L 789.5 738.5 L 790.4 739 L 791.2 726.2 L 792.1 725.5 L 792.9 737.9 L 793.8 738.7 L 794.7 721.2 L 795.5 723.6 L 796.4 737.8 L 797.2 736.1 L 798.1 726.3 L 799 725.4 L 799.8 739.1 L 800.7 733.6 L 801.5 723.6 L 802.4 724.2 L 803.2 739.7 L 804.1 734.6 L 805 725.6 L 805.8 724.2 L 806.7 739.1 L 807.5 742.1 L 808.4 725.5 L 809.3 721.6 L 810.1 739.1 L 811 736.9 L 811.8 723 L 812.7 728.4 L 813.6 741.4 L 814.4 749 L 815.3 730.3 L 816.1 728.6 L 817 736.3 L 817.8 749.9 L 818.7 748.2 L 819.6 731 L 820.4 736.4 L 821.3 746.7 L 822.1 743.8 L 823 733.3 L 823.9 730.9 L 824.7 742.3 L 825.6 742.7 L 826.4 741 L 827.3 726.3 L 828.1 727.7 L 829 735.8 L 829.9 748.3 L 831.6 728.1 L 832.4 744.8 L 833.3 749.7 L 835 724.9 L 835.9 737.8 L 836.7 741.8 L 837.6 729.3 L 838.4 727 L 839.3 742.3 L 840.2 751.2 L 841 738.3 L 841.9 718.6 L 842.7 733.2 L 843.6 752.3 L 844.5 741.4 L 845.3 719.9 L 846.2 723.1 L 847 738.5 L 847.9 744.5 L 848.7 744.7 L 849.6 719.5 L 850.5 718.4 L 851.3 746.3 L 852.2 742.6 L 853 722.3 L 853.9 720.1 L 854.8 731.8 L 855.6 737 L 856.5 725 L 857.3 725.5 L 858.2 719.7 L 859.1 735.2 L 859.9 732.1 L 860.8 723 L 861.6 720.5 L 862.5 736.8 L 863.3 739.2 L 864.2 728.3 L 865.1 722.5 L 866.8 743 L 867.6 736.9 L 868.5 723.9 L 869.4 743.6 L 870.2 737.8 L 871.1 726 L 871.9 726.4 L 872.8 742.4 L 873.6 745 L 874.5 740.7 L 875.4 738.4 L 876.2 745.5 L 877.1 750.8 L 877.9 740.7 L 878.8 726.9 L 879.7 737.1 L 880.5 750.7 L 881.4 749 L 882.2 740.7 L 883.1 731.2 L 883.9 737.8 L 884.8 740.3 L 885.7 744 L 886.5 725.9 L 887.4 725 L 888.2 739.9 L 889.1 744.1 L 890 736.8 L 890.8 721.2 L 891.7 733.9 L 892.5 744.9 L 893.4 730.9 L 894.3 723.4 L 895.1 734.1 L 896 739 L 896.8 722.9 L 897.7 719.9 L 898.5 725.2 L 900.3 741.9 L 901.1 730.8 L 902 726.1 L 902.8 744.5 L 903.7 731.7 L 904.6 724.7 L 905.4 724.6 L 906.3 740.8 L 907.1 730.4 L 908 722.4 L 908.8 730.3 L 909.7 735.4 L 910.6 734.9 L 911.4 724 L 912.3 717.6 L 913.1 723 L 914 742.4 L 914.9 737.2 L 915.7 718.9 L 916.6 719.6 L 917.4 733.9 L 918.3 730.2 L 919.1 716.8 L 920 723.3 L 920.9 735.1 L 921.7 741 L 922.6 724.2 L 923.4 718.6 L 924.3 717.9 L 925.2 729.4 L 926 729.2 L 926.9 710 L 927.7 716.7 L 929.5 735.7 L 930.3 726.3 L 931.2 713.3 L 932 715.8 L 932.9 738.1 L 934.6 714.3 L 935.5 734.4 L 936.3 737.7 L 937.2 722.8 L 938 715.8 L 939.8 737.5 L 940.6 728.2 L 941.5 723.5 L 942.3 729.9 L 943.2 731.9 L 944 724.2 L 944.9 715.3 L 945.8 728.9 L 946.6 730.7 L 947.5 729.5 L 948.3 716.1 L 949.2 717.5 L 950.1 722.9 L 950.9 732.7 L 951.8 720.1 L 952.6 711.4 L 953.5 725.8 L 954.3 725 L 955.2 718.4 L 956.1 707.8 L 956.9 716 L 957.8 726.3 L 958.6 715.7 L 960.4 719.5 L 961.2 730.1 L 962.1 720.7 L 962.9 708.3 L 963.8 710.6 L 964.6 724.5 L 965.5 723.7 L 966.4 718.6 L 967.2 711.5 L 968.1 727 L 968.9 724.3 L 969.8 724.1 L 970.7 718 L 971.5 715 L 972.4 730.5 L 973.2 734.2 L 974.1 733.2 L 975 721.5 L 975.8 730.7 L 976.7 736.7 L 977.5 735.6 L 978.4 719.5 L 979.2 734.7 L 980.1 735.9 L 981 719.3 L 981.8 720.3 L 982.7 731.2 L 983.5 735.2 L 984.4 731.3 L 985.3 720.9 L 986.1 718.7 L 987 725.6 L 987.8 734.1 L 988.7 722.4 L 989.5 717.4 L 990.4 720 L 991.3 734.8 L 992.1 723.9 L 993 716.9 L 993.8 727.4 L 994.7 727.7 L 996.4 698.2 L 997.3 710.6 L 998.1 718.2 L 999 714.7 L 999.8 700.7 L 1000.7 712.3 L 1001.6 719.8 L 1002.4 712 L 1003.3 708.5 L 1005 720.4 L 1005.9 712.3 L 1006.7 700.5 L 1007.6 717 L 1008.4 730.8 L 1009.3 706.8 L 1010.2 720.4 L 1011 725.8 L 1011.9 716.1 L 1012.7 703.6 L 1013.6 709.3 L 1014.4 726.9 L 1015.3 725.9 L 1016.2 712.4 L 1017 726.1 L 1017.9 736.3 L 1018.7 726.1 L 1019.6 718.5 L 1020.5 720.3 L 1021.3 728.5 L 1022.2 738 L 1023 729 L 1023.9 716.1 L 1024.7 725.1 L 1025.6 727.4 L 1026.5 740.3 L 1027.3 722.8 L 1028.2 710.7 L 1029 726.8 L 1029.9 735.5 L 1030.8 734.1 L 1031.6 719.9 L 1032.5 721.4 L 1033.3 736.7 L 1034.2 739.5 L 1035 729.8 L 1035.9 725.2 L 1036.8 727.6 L 1037.6 735.5 L 1038.5 732.8 L 1039.3 718 L 1040.2 708.5 L 1041.1 727.3 L 1041.9 724.3 L 1042.8 711.4 L 1043.6 710.1 L 1045.3 725 L 1046.2 720 L 1047.1 709.3 L 1047.9 711.8 L 1048.8 724.6 L 1049.6 727.7 L 1050.5 715.7 L 1051.4 711.9 L 1052.2 725.4 L 1053.1 714.9 L 1053.9 709.8 L 1054.8 713.7 L 1055.7 723.5 L 1056.5 712.2 L 1057.4 708 L 1058.2 719.9 L 1059.1 721.8 L 1059.9 710.9 L 1060.8 712.4 L 1061.7 706.9 L 1062.5 713.6 L 1063.4 723.2 L 1064.2 721.3 L 1065.1 709.8 L 1066 709 L 1066.8 723.2 L 1067.7 716.3 L 1068.5 705.3 L 1069.4 709.9 L 1070.2 721.8 L 1071.1 715.3 L 1072 703.7 L 1072.8 708.3 L 1073.7 710.7 L 1074.5 723.2 L 1076.3 701.3 L 1077.1 710.8 L 1078 714.1 L 1078.8 699.5 L 1079.7 698 L 1080.5 714.6 L 1081.4 718.2 L 1082.3 696.4 L 1084.8 718.6 L 1085.7 704.4 L 1086.6 702 L 1087.4 717.6 L 1088.3 722.9 L 1089.1 704.4 L 1090 702.4 L 1090.9 713.9 L 1091.7 721.3 L 1092.6 708.5 L 1093.4 698.9 L 1094.3 707.3 L 1095.1 721.1 L 1096 716.1 L 1096.9 701.1 L 1097.7 700.8 L 1098.6 721.4 L 1099.4 723.5 L 1100.3 711.4 L 1101.2 707.8 L 1102 711.7 L 1102.9 717.6 L 1103.7 709.1 L 1104.6 702 L 1105.4 716.8 L 1106.3 722.5 L 1108 695.8 L 1108.9 698.3 L 1109.7 716.9 L 1110.6 706.7 L 1111.5 692.2 L 1112.3 708.5 L 1113.2 708.6 L 1114 709.2 L 1115.7 693 L 1116.6 703.4 L 1117.5 712.5 L 1118.3 713.5 L 1119.2 697 L 1120 702.8 L 1120.9 716 L 1121.8 715 L 1122.6 702.9 L 1123.5 703.1 L 1124.3 716.3 L 1125.2 717.9 L 1126 707 L 1126.9 709 L 1127.8 716.7 L 1128.6 716.2 L 1129.5 708.8 L 1130.3 709.4 L 1131.2 725.5 L 1132.1 718.3 L 1132.9 718.6 L 1133.8 709.2 L 1134.6 707.3 L 1135.5 717.6 L 1136.4 722.1 L 1137.2 709.5 L 1138.1 704.2 L 1138.9 702.7 L 1139.8 717.5 L 1140.6 721.3 L 1141.5 709.1 L 1142.4 694.2 L 1143.2 707.1 L 1144.1 712.1 L 1144.9 712.3 L 1145.8 699.3 L 1146.7 697.9 L 1147.5 710.6 L 1148.4 715 L 1149.2 707.2 L 1150.1 700.5 L 1150.9 705.7 L 1151.8 718.4 L 1152.7 713.8 L 1153.5 701 L 1154.4 693.1 L 1155.2 714.9 L 1156.1 719.6 L 1157 712.7 L 1157.8 703.9 L 1158.7 718.7 L 1159.5 716.7 L 1161.2 708.9 L 1162.1 709.1 L 1163 725.9 L 1163.8 726.9 L 1164.7 713.6 L 1165.5 714.8 L 1166.4 730.1 L 1167.3 734.3 L 1168.1 720.1 L 1169 714.1 L 1169.8 720.3 L 1170.7 729.7 L 1171.6 713.9 L 1172.4 709.5 L 1173.3 728.7 L 1174.1 718.3 L 1175 711.5 L 1175.8 708.3 L 1176.7 730.1 L 1177.6 726.8 L 1178.4 709.9 L 1179.3 713.6 L 1180.1 731.2 L 1181 721.4 L 1181.9 705.6 L 1183.6 732.8 L 1185.3 700.3 L 1186.1 716.1 L 1187 719 L 1187.9 714.6 L 1188.7 704.8 L 1189.6 715.6 L 1190.4 717.6 L 1191.3 715.9 L 1192.2 699.2 L 1193 707.2 L 1193.9 718.5 L 1194.7 726.7 L 1195.6 698.7 L 1196.4 702.9 L 1197.3 720.4 L 1198.2 719.8 L 1199 704.6 L 1199.9 697.3 L 1200.7 709.2 L 1201.6 724.8 L 1202.5 718.8 L 1203.3 703.3 L 1204.2 706.7 L 1205.9 730.2 L 1206.8 710.6 L 1207.6 706.4 L 1208.5 721.9 L 1209.3 727.5 L 1210.2 717.4 L 1211 711.1 L 1211.9 710.9 L 1212.8 723.5 L 1213.6 728.9 L 1214.5 723.7 L 1215.3 708.3 L 1216.2 716.2 L 1217.1 726.9 L 1217.9 723.4 L 1218.8 713.3 L 1219.6 714.9 L 1220.5 722.2 L 1221.3 713.3 L 1222.2 712.3 L 1223.1 706 L 1223.9 713.9 L 1224.8 716.2 L 1226.5 702.4 L 1228.2 712.1 L 1229.1 704.2 L 1229.9 701.9 L 1230.8 704.3 L 1231.6 722.1 L 1232.5 712.1 L 1233.4 700.6 L 1234.2 690.9 L 1235.1 711.6 L 1235.9 718.3 L 1236.8 695.6 L 1237.7 697.9 L 1238.5 706.9 L 1239.4 714.5 L 1240.2 706.7 L 1241.1 696.5 L 1241.9 692.6 L 1242.8 712.9 L 1243.7 713 L 1244.5 699.4 L 1245.4 696.5 L 1246.2 712.2 L 1247.1 715.9 L 1248.8 696.7 L 1249.7 710.1 L 1250.5 710.4 L 1251.4 692.9 L 1252.3 685.6 L 1253.1 685 L 1254 702 L 1254.8 714.3 L 1255.7 693.4 L 1256.5 693.2 L 1257.4 713.2 L 1258.3 716.9 L 1259.1 698.6 L 1260 696.5 L 1260.8 712.7 L 1261.7 710.9 L 1262.6 701.4 L 1264.3 709.1 L 1265.1 717 L 1266 713.8 L 1266.8 707.7 L 1267.7 702.7 L 1268.6 712.5 L 1269.4 715.6 L 1270.3 709.1 L 1271.1 705.2 L 1271.7 709.7 L 1273.7 889.3 L 1273.7 889.3 " clip-path="url(#p2e0bae5d63)" style="fill: none; stroke-dasharray: 1.5,2.475; stroke-dashoffset: 0; stroke: #1f9e89; stroke-opacity: 0.6; stroke-width: 1.5"/>
</g>
<g id="line2d_63">
<path d="M 415.2 860.5 L 416.1 860.4 L 416.9 861.2 L 417.8 860.9 L 418.6 860 L 419.5 861 L 420.4 861.2 L 421.2 860.7 L 422.1 860.1 L 422.9 860.3 L 423.8 860.9 L 424.6 860.9 L 426.4 860 L 427.2 857.3 L 428.1 853.9 L 429.8 843.6 L 430.7 839.9 L 431.5 836.7 L 432.4 831.8 L 433.2 826.2 L 434.1 822.6 L 434.9 820.5 L 435.8 813.9 L 436.7 809.4 L 437.5 806.6 L 438.4 804.9 L 441 792.9 L 441.8 793.5 L 442.7 792.8 L 443.5 788.5 L 444.4 783 L 445.2 780.5 L 446.1 783.6 L 447 779.9 L 447.8 773.7 L 448.7 772.4 L 449.5 775.5 L 450.4 777.2 L 451.3 771.1 L 452.1 771.5 L 453 774.7 L 453.8 777.5 L 454.7 776.2 L 455.6 772.7 L 456.4 777 L 457.3 779.1 L 458.1 775.4 L 459 772.3 L 459.8 773.8 L 460.7 778.4 L 462.4 773.1 L 463.3 775.7 L 464.1 782.2 L 465 783.8 L 465.9 782.2 L 466.7 781.1 L 467.6 782.2 L 468.4 787.7 L 469.3 786.9 L 470.1 781 L 471 789.5 L 471.9 790.3 L 472.7 786.4 L 473.6 786 L 474.4 790.6 L 475.3 793.7 L 477 788.6 L 477.9 789.7 L 478.7 795.4 L 479.6 796.1 L 480.4 795.7 L 481.3 789.4 L 482.2 789.2 L 483 794.9 L 483.9 792.9 L 484.7 787.2 L 486.5 793.8 L 487.3 793.5 L 488.2 791.7 L 489 791.1 L 489.9 792.5 L 490.7 793.3 L 491.6 791.8 L 492.5 786.4 L 493.3 793.1 L 494.2 790.2 L 495 785.8 L 495.9 784.6 L 497.6 791 L 498.5 791.7 L 499.3 785.2 L 500.2 785.8 L 501.1 789.8 L 501.9 788 L 502.8 784.2 L 503.6 782.8 L 504.5 787.2 L 505.3 786.9 L 506.2 786.8 L 507.1 782.7 L 507.9 780.1 L 508.8 781.2 L 509.6 786.1 L 510.5 779.3 L 511.4 778.3 L 512.2 784.8 L 513.1 785.8 L 513.9 781.1 L 514.8 778.8 L 515.6 781.9 L 516.5 786.7 L 517.4 782.6 L 518.2 777.1 L 519.1 776.1 L 520.8 782.9 L 521.7 782.6 L 522.5 775.1 L 523.4 777.6 L 524.2 784.2 L 525.1 783.5 L 525.9 777.3 L 526.8 778.1 L 527.7 783.9 L 528.5 783.7 L 529.4 776 L 530.2 777 L 531.1 779.5 L 532 781.1 L 532.8 777.3 L 533.7 776.4 L 534.5 780.7 L 535.4 781.2 L 536.3 771.4 L 537.1 775.2 L 538 781.3 L 538.8 781 L 539.7 777.1 L 540.5 772.3 L 541.4 776.1 L 542.3 781.1 L 543.1 779.9 L 544 774.5 L 544.8 771.6 L 545.7 775.9 L 546.6 778.9 L 547.4 775.1 L 548.3 773.5 L 549.1 773.8 L 550 777.2 L 550.8 777.6 L 551.7 770.3 L 552.6 771 L 553.4 773.1 L 554.3 775.5 L 555.1 768.8 L 556 768.7 L 556.9 773.5 L 557.7 776 L 558.6 768.7 L 559.4 768.1 L 560.3 775 L 561.1 773 L 562.9 767.8 L 563.7 770.4 L 564.6 775.8 L 565.4 769.3 L 566.3 769 L 567.2 768.4 L 568 772.6 L 568.9 769.7 L 569.7 766.2 L 570.6 763.6 L 571.4 766.7 L 572.3 771.2 L 573.2 765.7 L 574 762.4 L 575.7 768.9 L 576.6 774 L 577.5 768.7 L 578.3 765.2 L 579.2 766.6 L 580 771.7 L 580.9 775.5 L 581.8 768.8 L 582.6 769 L 583.5 769 L 584.3 769.1 L 585.2 774.3 L 586 771.2 L 586.9 769 L 587.8 770.7 L 588.6 775.3 L 589.5 774.5 L 590.3 767.3 L 591.2 774.9 L 592.1 777.5 L 592.9 774.5 L 593.8 770.3 L 594.6 773 L 595.5 776.7 L 596.3 779.1 L 597.2 778.2 L 598.1 771.5 L 598.9 774.3 L 599.8 778.3 L 600.6 778 L 601.5 773.7 L 602.4 771.1 L 603.2 773.5 L 604.1 774.9 L 604.9 773.9 L 605.8 765.2 L 606.6 772 L 607.5 773.9 L 608.4 774.8 L 609.2 771.7 L 610.1 766.2 L 611.8 772.1 L 612.7 776.4 L 613.5 765.3 L 614.4 764.8 L 615.2 773.1 L 616.1 774.1 L 617 765.3 L 617.8 764.7 L 618.7 767.8 L 619.5 773.8 L 620.4 772 L 621.2 764.8 L 622.1 765.2 L 623 773.9 L 623.8 765.2 L 624.7 761.7 L 625.5 772.2 L 626.4 779.6 L 627.3 770.6 L 628.1 765.1 L 629 769 L 629.8 780.2 L 630.7 777.6 L 632.4 768.8 L 633.3 775.5 L 634.1 778 L 635 774.7 L 635.8 768.1 L 636.7 765.9 L 637.6 775.8 L 638.4 768.2 L 639.3 765.8 L 640.1 775.7 L 641 776.9 L 641.8 766.7 L 642.7 762 L 643.6 774.6 L 644.4 778.6 L 645.3 777.1 L 646.1 767.6 L 647 766.4 L 647.9 780.1 L 648.7 777.6 L 649.6 766.6 L 650.4 764.8 L 651.3 772.8 L 652.1 774.1 L 653 764.2 L 653.9 765.2 L 654.7 778.1 L 655.6 779.3 L 656.4 775.7 L 657.3 769.3 L 658.2 770.8 L 659 778.4 L 659.9 774.3 L 660.7 768 L 661.6 770.5 L 662.5 780.3 L 663.3 778.7 L 665 770.5 L 665.9 774.9 L 666.7 780.8 L 667.6 779 L 668.5 768.1 L 669.3 764.1 L 670.2 773.6 L 671 785.8 L 671.9 783.1 L 672.8 771.7 L 673.6 769 L 674.5 779.3 L 675.3 782.3 L 676.2 777.4 L 677 768.5 L 678.8 783.3 L 680.5 769.1 L 681.3 774.4 L 682.2 781.2 L 683.1 787.2 L 683.9 773.6 L 684.8 765.1 L 685.6 776.8 L 686.5 781.6 L 687.3 770.1 L 688.2 767.6 L 689.1 771.7 L 689.9 782.6 L 690.8 763.9 L 691.6 765 L 693.4 770.8 L 694.2 764.8 L 695.1 759.7 L 695.9 767.1 L 696.8 766.6 L 697.7 760.3 L 698.5 757.8 L 699.4 765.5 L 700.2 772 L 701.1 756.7 L 701.9 751.4 L 702.8 762.4 L 703.7 771.1 L 704.5 763 L 705.4 745.2 L 706.2 748.2 L 707.1 763.6 L 708 768.5 L 708.8 753.8 L 709.7 750.1 L 710.5 763.6 L 711.4 766.2 L 712.2 759.9 L 713.1 749.1 L 714 759.4 L 714.8 762.9 L 716.5 759.5 L 717.4 749.3 L 718.3 752.5 L 720 764.6 L 720.8 761.4 L 721.7 749.9 L 722.5 749.3 L 723.4 764.2 L 724.3 762 L 725.1 757.3 L 726 751.2 L 726.8 769.9 L 727.7 769 L 728.6 759 L 729.4 747.6 L 730.3 754.9 L 731.1 771.4 L 732 771.7 L 732.9 758.3 L 733.7 759 L 734.6 769.6 L 735.4 777.7 L 736.3 767.8 L 737.1 760.5 L 738 762.8 L 738.9 772.8 L 739.7 784.2 L 741.4 758.6 L 742.3 762.1 L 743.2 772.3 L 744 774.6 L 744.9 766.8 L 745.7 756 L 746.6 767.8 L 747.4 768.2 L 748.3 767.8 L 749.2 761.9 L 750 765.3 L 750.9 773.9 L 751.7 771.1 L 752.6 758.6 L 753.5 752.5 L 754.3 762.1 L 755.2 767.7 L 756 757.8 L 756.9 755.9 L 757.7 761.7 L 758.6 772.3 L 760.3 756.9 L 762 772 L 762.9 773.3 L 763.8 764.6 L 764.6 763.3 L 765.5 775.2 L 766.3 766.3 L 767.2 756 L 768 762.5 L 768.9 772.2 L 769.8 776.2 L 770.6 762.4 L 771.5 758.5 L 772.3 770 L 773.2 776.7 L 774.1 769.3 L 774.9 759.5 L 775.8 768.6 L 776.6 771.9 L 777.5 769.3 L 778.4 760.6 L 779.2 766.1 L 780.1 766.5 L 780.9 761.4 L 781.8 757.5 L 782.6 751.6 L 783.5 752.8 L 784.4 763.3 L 785.2 760.2 L 786.1 749.4 L 786.9 749.6 L 787.8 763.1 L 788.7 758.4 L 789.5 751.3 L 790.4 747.6 L 791.2 761.5 L 792.1 762.5 L 792.9 748.8 L 793.8 742 L 794.7 755.2 L 795.5 760.6 L 796.4 745.7 L 797.2 741.7 L 799 762.3 L 799.8 753 L 800.7 745.2 L 801.5 749.3 L 802.4 763.6 L 803.2 761.2 L 804.1 751.1 L 805 750.4 L 805.8 759.2 L 806.7 763.6 L 809.3 750.9 L 810.1 757 L 811 761.7 L 811.8 750.5 L 812.7 749.1 L 813.6 760.8 L 814.4 756.3 L 815.3 742.6 L 816.1 753.1 L 817 769.2 L 818.7 745.5 L 819.6 753.1 L 820.4 764.3 L 822.1 743.7 L 823 763.3 L 823.9 766.4 L 824.7 759.7 L 825.6 750.9 L 826.4 747.4 L 828.1 763.4 L 829 758.3 L 829.9 750.7 L 830.7 746.8 L 831.6 763 L 832.4 758 L 833.3 756 L 834.2 756.4 L 835 765.4 L 835.9 769.2 L 836.7 761.9 L 837.6 758 L 838.4 763 L 839.3 770 L 840.2 759.6 L 841 759.8 L 841.9 760.8 L 842.7 773.8 L 843.6 767.6 L 844.5 758.8 L 845.3 758.7 L 846.2 773.4 L 847 776.9 L 847.9 761.4 L 848.7 766 L 849.6 775.4 L 851.3 778.6 L 852.2 766.8 L 853 768.3 L 854.8 783.7 L 855.6 783.4 L 856.5 766.4 L 857.3 765.9 L 858.2 770.1 L 859.1 779.3 L 860.8 760.8 L 861.6 775.7 L 862.5 776.3 L 863.3 773.8 L 864.2 763.1 L 865.9 780 L 866.8 774 L 867.6 761.1 L 868.5 773.1 L 869.4 781.4 L 870.2 776.1 L 871.1 760.8 L 871.9 769 L 872.8 778.8 L 873.6 766.9 L 874.5 760.3 L 875.4 770.5 L 876.2 769.6 L 877.1 758.9 L 878.8 766.1 L 879.7 772.2 L 880.5 764.4 L 881.4 754.8 L 882.2 769.1 L 883.1 774.9 L 883.9 777.2 L 884.8 762 L 885.7 751.8 L 886.5 762.9 L 887.4 772.3 L 888.2 769.9 L 889.1 757.4 L 890.8 768.3 L 891.7 756.5 L 892.5 742.8 L 893.4 755.1 L 894.3 760.4 L 895.1 758.1 L 896 747.3 L 896.8 742.6 L 897.7 752.7 L 898.5 760.1 L 899.4 753.6 L 900.3 744.7 L 901.1 746 L 902 755 L 902.8 760.2 L 903.7 751.2 L 904.6 740.2 L 906.3 757.5 L 907.1 741.1 L 908 740.5 L 908.8 751.3 L 909.7 752.4 L 910.6 739.3 L 911.4 738 L 912.3 753.6 L 913.1 760 L 914 751.1 L 914.9 754.1 L 915.7 766 L 916.6 765.6 L 917.4 767.5 L 918.3 763.9 L 919.1 764.1 L 920 770.9 L 920.9 773 L 921.7 767 L 922.6 764.5 L 923.4 763.8 L 924.3 771.3 L 925.2 767.1 L 926 758.6 L 926.9 766.4 L 927.7 769.5 L 928.6 761.3 L 929.5 761.7 L 930.3 774.9 L 931.2 777 L 932 765.1 L 932.9 760.4 L 933.7 763.8 L 934.6 775.4 L 935.5 771.6 L 936.3 762.6 L 937.2 756.7 L 938 770.8 L 938.9 764.6 L 939.8 750.8 L 940.6 748.5 L 941.5 762.1 L 942.3 766.7 L 943.2 752.5 L 944 749 L 944.9 760.6 L 945.8 767.4 L 946.6 762.9 L 947.5 755 L 948.3 756.1 L 949.2 767 L 950.1 772.5 L 950.9 769.9 L 951.8 758.6 L 952.6 771.9 L 953.5 770.6 L 954.3 769.7 L 955.2 757.7 L 956.9 775.9 L 957.8 762.8 L 958.6 757.2 L 959.5 771.3 L 960.4 780.3 L 961.2 773.5 L 962.1 763.6 L 962.9 768.6 L 963.8 778.3 L 964.6 780.3 L 966.4 764.1 L 967.2 775.1 L 968.1 771.4 L 968.9 757.8 L 969.8 756.8 L 971.5 766.2 L 972.4 768.2 L 973.2 756 L 974.1 752.9 L 975 767 L 975.8 758 L 976.7 756.4 L 977.5 755.1 L 979.2 769.2 L 980.1 761.3 L 981 750.4 L 982.7 764 L 983.5 759.5 L 984.4 741.4 L 985.3 751.9 L 986.1 764 L 987 750 L 987.8 743 L 988.7 750.7 L 989.5 755.9 L 990.4 758.4 L 991.3 747.9 L 993 763.4 L 994.7 746.9 L 995.6 748.5 L 996.4 757.8 L 997.3 760.4 L 998.1 751.9 L 999 747.4 L 999.8 750.2 L 1000.7 762.6 L 1001.6 751.2 L 1002.4 748 L 1003.3 739.5 L 1004.1 739.8 L 1005 761.9 L 1005.9 760.4 L 1006.7 745.8 L 1007.6 752.9 L 1008.4 758.8 L 1009.3 760.3 L 1010.2 747.7 L 1011 746.6 L 1011.9 756.9 L 1012.7 759.1 L 1013.6 752.1 L 1014.4 748 L 1015.3 753.2 L 1016.2 770.9 L 1017 767.1 L 1017.9 754 L 1018.7 750.3 L 1019.6 760.2 L 1020.5 766.4 L 1021.3 762.1 L 1022.2 753.9 L 1023 760.7 L 1023.9 764.4 L 1024.7 755.2 L 1025.6 750.5 L 1026.5 760.5 L 1027.3 764.2 L 1029 750.5 L 1030.8 766.4 L 1032.5 750.1 L 1033.3 768.2 L 1034.2 768.5 L 1035 755.4 L 1035.9 754.5 L 1036.8 764.5 L 1037.6 767.7 L 1038.5 772.1 L 1039.3 752.8 L 1040.2 755.1 L 1041.1 766.5 L 1041.9 773.7 L 1042.8 758.1 L 1043.6 757.4 L 1044.5 767.1 L 1045.3 772.9 L 1046.2 761.5 L 1047.1 763.7 L 1047.9 775.1 L 1048.8 779.2 L 1049.6 768.1 L 1050.5 764.3 L 1052.2 778.9 L 1053.9 763.1 L 1054.8 766.7 L 1055.7 776.4 L 1056.5 775.8 L 1057.4 760.9 L 1058.2 760.8 L 1059.9 773.5 L 1061.7 758.1 L 1063.4 775.6 L 1064.2 775 L 1065.1 759.5 L 1066 755.8 L 1066.8 763.5 L 1067.7 775.8 L 1068.5 773.9 L 1070.2 753.8 L 1071.1 752.2 L 1072 767.7 L 1072.8 761.1 L 1073.7 749.3 L 1074.5 765.8 L 1075.4 769.5 L 1076.3 764.8 L 1077.1 754.7 L 1078 754.6 L 1078.8 767.2 L 1079.7 766.9 L 1080.5 764.9 L 1081.4 758.7 L 1082.3 759.1 L 1083.1 765.3 L 1084 763.2 L 1084.8 758.3 L 1086.6 777.7 L 1087.4 771.9 L 1088.3 756.8 L 1089.1 760.7 L 1090 772.2 L 1090.9 770.4 L 1091.7 760.9 L 1092.6 758.4 L 1093.4 770.3 L 1094.3 776.6 L 1095.1 763.6 L 1096 758.5 L 1096.9 764.6 L 1097.7 774.5 L 1098.6 776 L 1099.4 765.5 L 1100.3 766.2 L 1101.2 777 L 1102 769 L 1102.9 757.2 L 1103.7 760.6 L 1104.6 772.9 L 1105.4 775.6 L 1106.3 763.5 L 1107.2 758.2 L 1108 761.1 L 1108.9 766.2 L 1109.7 763.4 L 1110.6 753.5 L 1111.5 756.3 L 1112.3 768.2 L 1113.2 769.2 L 1114 758.5 L 1114.9 759.4 L 1115.7 770.1 L 1116.6 769.9 L 1117.5 756.5 L 1118.3 754.4 L 1119.2 763.6 L 1120 776.8 L 1120.9 768.8 L 1121.8 754.4 L 1122.6 758 L 1123.5 768.9 L 1124.3 770.8 L 1125.2 758.1 L 1126 755.6 L 1126.9 765.8 L 1127.8 767.4 L 1128.6 757.6 L 1129.5 752.8 L 1130.3 764.1 L 1131.2 778.2 L 1132.1 781.4 L 1132.9 760.7 L 1133.8 763.5 L 1134.6 776.7 L 1135.5 775.4 L 1136.4 762.2 L 1137.2 765.7 L 1138.1 775.8 L 1138.9 772.8 L 1139.8 763.7 L 1140.6 763.2 L 1141.5 766.7 L 1142.4 775.3 L 1143.2 774.1 L 1144.1 754.5 L 1144.9 760.5 L 1145.8 773.6 L 1146.7 765 L 1147.5 753.9 L 1148.4 757.2 L 1149.2 766.2 L 1150.1 772.7 L 1150.9 762.6 L 1151.8 756 L 1152.7 770.9 L 1153.5 766.6 L 1154.4 764.2 L 1155.2 750.8 L 1156.1 751.2 L 1157 757.9 L 1157.8 766.6 L 1158.7 751.9 L 1159.5 748.1 L 1160.4 760.3 L 1161.2 768.5 L 1162.1 758.8 L 1163 752.9 L 1163.8 752.3 L 1164.7 774.6 L 1165.5 777.3 L 1166.4 762.6 L 1167.3 755 L 1169 777.2 L 1169.8 778.9 L 1170.7 760.4 L 1171.6 754.8 L 1172.4 769.9 L 1173.3 773.6 L 1174.1 753.8 L 1175 756.3 L 1175.8 773.4 L 1176.7 776.5 L 1177.6 750.2 L 1178.4 753.6 L 1179.3 761.4 L 1180.1 770.6 L 1181 754.4 L 1181.9 752.3 L 1182.7 761.1 L 1183.6 761 L 1184.4 755.1 L 1185.3 746 L 1186.1 746.6 L 1187 756 L 1187.9 758.7 L 1188.7 750.7 L 1189.6 736.4 L 1190.4 739 L 1191.3 750.6 L 1192.2 757.1 L 1193 749.6 L 1193.9 743.5 L 1194.7 748 L 1195.6 756.6 L 1196.4 756.9 L 1197.3 746.8 L 1198.2 742 L 1199 753.1 L 1199.9 768.3 L 1200.7 754.4 L 1201.6 744 L 1202.5 755.9 L 1203.3 763.7 L 1204.2 748.3 L 1205 751.8 L 1205.9 768.6 L 1206.8 762.1 L 1207.6 760.6 L 1208.5 752.6 L 1209.3 757.2 L 1210.2 773.3 L 1211 768.8 L 1211.9 756.3 L 1212.8 762.1 L 1213.6 772 L 1214.5 762.3 L 1215.3 750.6 L 1216.2 766.2 L 1217.1 765.7 L 1217.9 774.9 L 1218.8 760.3 L 1219.6 762.2 L 1220.5 769.3 L 1221.3 773.7 L 1222.2 756.3 L 1223.1 755.5 L 1223.9 770.7 L 1224.8 780.8 L 1225.6 759.1 L 1226.5 755.5 L 1227.4 768 L 1228.2 769.5 L 1229.1 756 L 1229.9 751.3 L 1230.8 761.9 L 1231.6 770 L 1232.5 760.1 L 1233.4 758 L 1234.2 762.1 L 1235.1 766.9 L 1235.9 765.2 L 1236.8 753.8 L 1237.7 764.4 L 1238.5 769.7 L 1239.4 762.9 L 1240.2 750.4 L 1241.1 761.4 L 1241.9 770.3 L 1242.8 762 L 1243.7 755.5 L 1244.5 763.6 L 1245.4 768.3 L 1246.2 758 L 1247.1 755.9 L 1248 763.9 L 1248.8 776.9 L 1249.7 762.3 L 1250.5 749.7 L 1251.4 764.2 L 1252.3 768.8 L 1253.1 755.2 L 1254 754.6 L 1254.8 760.7 L 1255.7 765.9 L 1257.4 751.4 L 1258.3 761.1 L 1259.1 777.2 L 1260 764.1 L 1260.8 755 L 1261.7 762.2 L 1262.6 774.3 L 1263.4 764.7 L 1264.3 758.5 L 1265.1 763.7 L 1266 771.6 L 1266.8 763.9 L 1267.7 754.6 L 1268.6 761.8 L 1269.4 766.2 L 1270.3 772.2 L 1271.1 762 L 1271.7 759.1 L 1273.7 870.3 L 1273.7 870.3 " clip-path="url(#p2e0bae5d63)" style="fill: none; stroke-dasharray: 1.5,2.475; stroke-dashoffset: 0; stroke: #fde725; stroke-opacity: 0.6; stroke-width: 1.5"/>
</g>
<g id="line2d_64">
<path d="M 415.2 860.7 L 416.1 860.3 L 416.9 860.2 L 417.8 861.5 L 418.6 861.4 L 420.4 860.1 L 421.2 860.8 L 422.1 861 L 422.9 860.9 L 423.8 859.9 L 424.6 860.3 L 425.5 861.7 L 426.4 861.1 L 427.2 856.8 L 428.1 851.6 L 429.8 843.7 L 430.7 836.8 L 431.5 831.5 L 434.1 818.2 L 434.9 810.5 L 435.8 806.6 L 436.7 804.2 L 437.5 799.8 L 438.4 791.9 L 439.2 791.1 L 440.1 790.8 L 441 783 L 441.8 782.2 L 442.7 784.2 L 444.4 770 L 445.2 771.5 L 446.1 770.8 L 447.8 761.1 L 448.7 757.9 L 449.5 759.4 L 450.4 758.5 L 451.3 750.3 L 452.1 756 L 453 767.4 L 454.7 750.9 L 455.6 759.1 L 456.4 764.7 L 457.3 760.9 L 458.1 754.4 L 459 754.1 L 459.8 757.4 L 460.7 761.5 L 461.6 756.7 L 462.4 750.6 L 464.1 764.5 L 465.9 752.7 L 466.7 759.6 L 467.6 761 L 468.4 753.9 L 469.3 755.6 L 470.1 763 L 471 757 L 471.9 748.6 L 472.7 751.9 L 473.6 756.5 L 474.4 756.8 L 475.3 746.4 L 476.2 752 L 477 755.9 L 477.9 748.3 L 478.7 747 L 479.6 754.9 L 480.4 751.4 L 481.3 746.1 L 482.2 746.4 L 483 751.4 L 483.9 751.4 L 484.7 745.6 L 485.6 745.1 L 486.5 746 L 487.3 750 L 488.2 749.1 L 489 745.4 L 489.9 746.6 L 490.7 756.8 L 491.6 753.7 L 493.3 745.9 L 494.2 754.8 L 495 752.2 L 495.9 748.3 L 496.8 746.4 L 497.6 754.6 L 498.5 754.5 L 499.3 746.3 L 500.2 744.5 L 501.1 756.9 L 501.9 758.7 L 502.8 746.9 L 503.6 746.5 L 504.5 760.4 L 506.2 755 L 507.1 749.2 L 507.9 755.9 L 508.8 757 L 509.6 753.5 L 510.5 751.3 L 511.4 750.2 L 512.2 755.7 L 513.1 753.7 L 513.9 748 L 515.6 756 L 516.5 749 L 517.4 745.3 L 518.2 751.6 L 519.1 752.7 L 519.9 745.2 L 520.8 741.6 L 522.5 752.9 L 523.4 751.9 L 524.2 741.5 L 525.1 741.9 L 525.9 747.8 L 526.8 749.7 L 527.7 741.4 L 528.5 739.6 L 529.4 749.5 L 530.2 753.2 L 531.1 743.3 L 532 741 L 532.8 748.8 L 533.7 748.4 L 534.5 739.2 L 535.4 742.1 L 536.3 749.9 L 537.1 747.6 L 538 741.8 L 538.8 744.9 L 539.7 750.7 L 540.5 742.5 L 541.4 742.4 L 542.3 748.5 L 543.1 747.1 L 544.8 743 L 545.7 748.7 L 546.6 748.4 L 547.4 745.1 L 548.3 742.5 L 549.1 743.2 L 550 750.7 L 550.8 745.9 L 551.7 742.2 L 552.6 744.3 L 553.4 753.2 L 554.3 752.8 L 555.1 749.1 L 556 741.2 L 556.9 742 L 557.7 751.2 L 558.6 751.5 L 559.4 741.6 L 560.3 744.7 L 561.1 752.4 L 562 752.2 L 562.9 743.4 L 563.7 748.3 L 564.6 751.9 L 565.4 748 L 566.3 741.8 L 567.2 747.9 L 568 750.7 L 568.9 753.9 L 569.7 749.5 L 570.6 747 L 571.4 752.9 L 572.3 755.4 L 573.2 753.8 L 574 746 L 574.9 747.9 L 575.7 753.8 L 576.6 749 L 577.5 745.4 L 578.3 751.8 L 579.2 756.9 L 580 752 L 580.9 745.2 L 581.8 746.6 L 582.6 751.9 L 583.5 756.1 L 584.3 748.4 L 585.2 746.5 L 586 754.7 L 586.9 756.5 L 588.6 741.1 L 589.5 750.2 L 590.3 757.3 L 591.2 749 L 592.1 746.4 L 592.9 751.3 L 593.8 757.5 L 594.6 755.4 L 595.5 749.5 L 596.3 757.5 L 597.2 759.5 L 598.1 750.1 L 598.9 746 L 599.8 754.8 L 600.6 753.6 L 601.5 746.2 L 602.4 746.7 L 603.2 756.9 L 604.1 754 L 604.9 746.1 L 605.8 756.3 L 606.6 759.8 L 607.5 754.3 L 608.4 743.3 L 609.2 749.8 L 610.1 763.3 L 610.9 748.9 L 611.8 747.4 L 612.7 760.3 L 613.5 759.2 L 614.4 747.6 L 615.2 753.5 L 616.1 761.9 L 617 751 L 617.8 747.3 L 619.5 761.8 L 620.4 758.6 L 621.2 747.5 L 622.1 747.8 L 623 761.9 L 623.8 761.9 L 624.7 749.5 L 625.5 750.4 L 626.4 761.4 L 627.3 756.1 L 628.1 743.2 L 629 747.5 L 629.8 761.4 L 630.7 758.8 L 631.5 747 L 632.4 748.1 L 634.1 762.8 L 635 745.3 L 635.8 750 L 636.7 762 L 637.6 756.9 L 638.4 749.8 L 639.3 754.7 L 640.1 762.3 L 641 754.1 L 641.8 747.1 L 642.7 764.7 L 643.6 760.7 L 644.4 751 L 645.3 754.8 L 646.1 767.1 L 647 754.7 L 647.9 751.9 L 648.7 760.9 L 649.6 759.4 L 650.4 761.9 L 651.3 752.7 L 652.1 746.6 L 653 757.7 L 653.9 764.6 L 654.7 756.9 L 655.6 746.2 L 656.4 746.5 L 657.3 758 L 658.2 752.9 L 659 744.9 L 659.9 746 L 660.7 759.4 L 661.6 752.3 L 662.5 736.7 L 663.3 752.6 L 664.2 759.7 L 665 743.7 L 665.9 744.8 L 666.7 761.4 L 667.6 762.4 L 668.5 753 L 669.3 742 L 670.2 755.3 L 671 763 L 671.9 756.3 L 672.8 746.4 L 673.6 748.9 L 674.5 761.8 L 675.3 764.4 L 676.2 746.7 L 677.9 765.3 L 678.8 757.1 L 679.6 744 L 680.5 756.4 L 681.3 758.5 L 682.2 754.1 L 683.1 748.2 L 684.8 762.1 L 685.6 763.6 L 686.5 750.1 L 687.3 755.7 L 688.2 771.6 L 689.9 743.2 L 690.8 758.7 L 691.6 767.6 L 692.5 755.3 L 693.4 745.2 L 694.2 759.9 L 695.1 770 L 695.9 757.1 L 696.8 735.8 L 698.5 767.7 L 699.4 756.5 L 700.2 749.7 L 701.1 755.2 L 701.9 771.3 L 702.8 756.8 L 703.7 747.9 L 704.5 765.9 L 705.4 773.1 L 706.2 761.8 L 707.1 743.2 L 708 764 L 708.8 762.4 L 709.7 741.3 L 710.5 751.5 L 711.4 758.2 L 712.2 756.1 L 713.1 742.4 L 714 752.3 L 714.8 757.4 L 715.7 761.4 L 716.5 741.5 L 717.4 739.4 L 718.3 762.9 L 719.1 760.4 L 720 752.6 L 720.8 748.2 L 721.7 765.4 L 722.5 763.4 L 723.4 747.5 L 724.3 740.3 L 725.1 748.1 L 726 764.5 L 726.8 749.7 L 727.7 743.1 L 728.6 745.6 L 729.4 762.4 L 730.3 745.7 L 731.1 741.5 L 732 773.4 L 732.9 767.7 L 733.7 750.2 L 734.6 753.2 L 735.4 774.1 L 736.3 767.1 L 737.1 752.5 L 738 763.7 L 738.9 773.4 L 739.7 750 L 740.6 748.7 L 741.4 767.5 L 742.3 770.9 L 743.2 748.2 L 744 743 L 744.9 762.1 L 745.7 765.6 L 746.6 762.9 L 747.4 752.8 L 748.3 767.8 L 749.2 771.3 L 750.9 752.2 L 751.7 760.1 L 752.6 775.7 L 753.5 756.3 L 754.3 742.1 L 755.2 753 L 756 771.8 L 756.9 750.9 L 757.7 740.1 L 758.6 758 L 759.5 763.3 L 760.3 760.7 L 761.2 745.8 L 762 757.2 L 762.9 775 L 763.8 767.2 L 764.6 750.5 L 765.5 752.9 L 766.3 763.4 L 767.2 769.4 L 768 749.8 L 768.9 748.9 L 769.8 756.8 L 770.6 763.4 L 771.5 757.5 L 772.3 747.7 L 773.2 749.6 L 774.1 765.2 L 774.9 764.5 L 775.8 746.6 L 776.6 749.5 L 777.5 760.9 L 778.4 765.2 L 779.2 743.9 L 780.9 764.7 L 781.8 754.8 L 782.6 740.4 L 783.5 755.9 L 784.4 767 L 785.2 755.8 L 786.1 747.1 L 787.8 763.7 L 788.7 757.5 L 789.5 755.5 L 790.4 770.7 L 791.2 765.7 L 792.1 749.4 L 792.9 751.4 L 793.8 764 L 794.7 766.9 L 795.5 750.9 L 796.4 745.8 L 797.2 756.9 L 798.1 763.1 L 799 757.1 L 799.8 746.4 L 801.5 763.3 L 802.4 767.4 L 803.2 752.3 L 804.1 742.1 L 805 747.8 L 805.8 769.4 L 806.7 754.7 L 807.5 750.1 L 808.4 754.8 L 809.3 767.1 L 810.1 754.7 L 811 746.5 L 811.8 752.7 L 812.7 768.3 L 813.6 763.5 L 814.4 751 L 815.3 752.1 L 816.1 770.1 L 817 762.6 L 817.8 750.4 L 818.7 740 L 819.6 749 L 820.4 765.9 L 821.3 769.7 L 822.1 754.3 L 823 744.4 L 824.7 766.5 L 825.6 756.9 L 826.4 743.2 L 827.3 758.1 L 828.1 763.5 L 829 747.7 L 829.9 743 L 830.7 764.5 L 831.6 763.9 L 832.4 751.1 L 833.3 759 L 834.2 769.9 L 835 749.2 L 835.9 750.9 L 836.7 769.9 L 837.6 766.3 L 838.4 757.8 L 839.3 754.1 L 840.2 757.6 L 841 764.7 L 841.9 773.4 L 842.7 756.1 L 843.6 760.2 L 844.5 771 L 845.3 775 L 846.2 769.1 L 847 761.5 L 847.9 762.6 L 848.7 776.6 L 849.6 778.8 L 850.5 760.8 L 851.3 764.9 L 852.2 771.3 L 853 769.8 L 853.9 757.5 L 854.8 766.7 L 855.6 779.9 L 856.5 763.3 L 857.3 756 L 858.2 774.4 L 859.1 774.2 L 859.9 760 L 860.8 759 L 861.6 775.5 L 862.5 769.4 L 863.3 749.1 L 864.2 750.6 L 865.1 761.1 L 865.9 764.1 L 866.8 748.9 L 867.6 744 L 868.5 765.4 L 869.4 764.5 L 870.2 741.1 L 871.1 749.5 L 871.9 767.9 L 872.8 748.5 L 873.6 741.8 L 874.5 766.3 L 875.4 762.5 L 876.2 753.4 L 877.1 749.1 L 877.9 766.8 L 878.8 768.8 L 879.7 744.6 L 880.5 744.4 L 881.4 764.7 L 882.2 757.6 L 883.1 746.5 L 883.9 759.9 L 884.8 765.7 L 885.7 746.7 L 887.4 760.7 L 888.2 769.5 L 889.1 751.4 L 890 746.5 L 890.8 753.1 L 891.7 766.3 L 892.5 757 L 893.4 744.6 L 894.3 756.6 L 895.1 758.8 L 896 764.8 L 896.8 761.6 L 897.7 754.9 L 898.5 753.8 L 899.4 773.7 L 900.3 763 L 901.1 741.5 L 902 770.5 L 902.8 774.4 L 904.6 745.1 L 905.4 754.6 L 906.3 767.6 L 907.1 751 L 908 741.6 L 908.8 750.2 L 909.7 765.2 L 910.6 763.9 L 911.4 755.7 L 912.3 744.8 L 914 753.9 L 914.9 749.4 L 915.7 742.6 L 916.6 751.6 L 917.4 770.6 L 918.3 761.3 L 919.1 729.5 L 920 751.2 L 920.9 761.7 L 921.7 743.4 L 922.6 739.3 L 923.4 751.8 L 924.3 760.8 L 925.2 743.1 L 926 734.2 L 926.9 748.3 L 927.7 766.2 L 928.6 747.6 L 929.5 739.6 L 930.3 758.8 L 931.2 762.6 L 932 750.9 L 932.9 741.6 L 933.7 741.3 L 934.6 763 L 935.5 759.9 L 936.3 743 L 937.2 754.7 L 938 770.2 L 938.9 753.2 L 939.8 746 L 940.6 753.2 L 941.5 766.1 L 942.3 753.4 L 943.2 747.9 L 944 760.1 L 944.9 770.5 L 945.8 759.7 L 946.6 747.4 L 947.5 755.3 L 948.3 761.4 L 949.2 754.2 L 950.1 743.2 L 950.9 745.1 L 951.8 758.7 L 952.6 747 L 953.5 750.7 L 954.3 764.7 L 955.2 751.8 L 956.1 744.1 L 956.9 752.2 L 957.8 762.8 L 958.6 756.2 L 959.5 741.3 L 961.2 765.2 L 962.1 758 L 962.9 745.1 L 963.8 746.4 L 964.6 760.3 L 965.5 759.8 L 966.4 741.9 L 967.2 741.5 L 968.1 759.8 L 968.9 762.6 L 969.8 747.5 L 970.7 752.1 L 971.5 769.2 L 972.4 762.6 L 973.2 750.7 L 975 773.9 L 975.8 758 L 976.7 748.3 L 977.5 757.2 L 978.4 768.2 L 980.1 743.6 L 981 757.4 L 981.8 776.1 L 982.7 748.3 L 983.5 735.8 L 984.4 750.4 L 985.3 761.2 L 986.1 745.9 L 987 738.3 L 987.8 753.8 L 988.7 761.7 L 989.5 753.5 L 990.4 737.5 L 991.3 750.2 L 992.1 765.4 L 993 746.2 L 993.8 739.6 L 994.7 761.8 L 995.6 752.2 L 996.4 737.4 L 997.3 754.6 L 998.1 764.1 L 999 741 L 999.8 739.3 L 1000.7 753.8 L 1001.6 756.8 L 1002.4 738.3 L 1003.3 738 L 1004.1 758.1 L 1005 766.3 L 1005.9 747.2 L 1006.7 746 L 1007.6 751.2 L 1008.4 764.3 L 1009.3 751.7 L 1010.2 745.2 L 1011 745.8 L 1011.9 758.3 L 1012.7 763.2 L 1013.6 742.1 L 1014.4 746.5 L 1015.3 765.2 L 1016.2 757.5 L 1017 746.8 L 1017.9 739.7 L 1018.7 754.6 L 1019.6 762.1 L 1021.3 736.4 L 1022.2 748 L 1023 768.8 L 1023.9 742.3 L 1024.7 737.1 L 1025.6 761.4 L 1026.5 752.9 L 1027.3 737.7 L 1029 754.2 L 1029.9 758.9 L 1030.8 740.5 L 1031.6 746.4 L 1032.5 760.5 L 1033.3 766 L 1034.2 757.9 L 1035 742.9 L 1035.9 744.5 L 1036.8 755.9 L 1037.6 765.3 L 1038.5 749.4 L 1039.3 740.7 L 1040.2 757 L 1041.1 769.1 L 1041.9 747.9 L 1042.8 757.1 L 1043.6 773.3 L 1044.5 754.3 L 1045.3 749.5 L 1046.2 764.5 L 1047.1 773.5 L 1047.9 756.7 L 1048.8 748.2 L 1049.6 771.8 L 1050.5 764.9 L 1051.4 749.7 L 1052.2 756.8 L 1053.1 768 L 1054.8 748.7 L 1055.7 749.3 L 1056.5 763.9 L 1057.4 764.4 L 1058.2 741.7 L 1059.1 756.3 L 1059.9 760.8 L 1060.8 767.1 L 1061.7 738.4 L 1062.5 750.8 L 1063.4 768.5 L 1064.2 759 L 1065.1 747.2 L 1066 738.4 L 1066.8 745.2 L 1067.7 755.9 L 1068.5 741.9 L 1069.4 738.1 L 1070.2 754.8 L 1071.1 761.1 L 1072 752.1 L 1072.8 739.7 L 1073.7 746.3 L 1074.5 762.4 L 1075.4 759.8 L 1076.3 747.2 L 1077.1 758.7 L 1078 758.4 L 1078.8 759.8 L 1079.7 752.2 L 1080.5 748.2 L 1081.4 753 L 1082.3 766.3 L 1084 742 L 1084.8 757.2 L 1085.7 763.1 L 1086.6 749.1 L 1087.4 741.8 L 1088.3 761.9 L 1089.1 766.4 L 1090 748.1 L 1090.9 739.1 L 1091.7 748 L 1092.6 765.7 L 1093.4 755.7 L 1094.3 749.1 L 1096 758.6 L 1096.9 765.2 L 1098.6 747 L 1099.4 757.8 L 1100.3 772.1 L 1101.2 766.8 L 1102 740.8 L 1102.9 752.6 L 1103.7 768.4 L 1104.6 754.9 L 1105.4 748.6 L 1106.3 772.9 L 1107.2 767.1 L 1108 746.3 L 1109.7 765.6 L 1110.6 764.1 L 1111.5 753.2 L 1112.3 754.3 L 1113.2 754.8 L 1114 774 L 1114.9 773.7 L 1115.7 749.4 L 1116.6 750.4 L 1117.5 764.8 L 1118.3 772.8 L 1119.2 764.7 L 1120 748.2 L 1120.9 763.7 L 1121.8 774.7 L 1122.6 750.1 L 1123.5 763.5 L 1124.3 772.3 L 1125.2 755.7 L 1126 748 L 1126.9 766.6 L 1127.8 775 L 1128.6 757.3 L 1129.5 755 L 1130.3 778.4 L 1131.2 774.7 L 1132.1 757 L 1132.9 744.9 L 1133.8 758.8 L 1134.6 768.9 L 1135.5 767.7 L 1136.4 755.7 L 1137.2 755.8 L 1138.1 761 L 1138.9 770.9 L 1139.8 771 L 1140.6 745.7 L 1141.5 751.9 L 1142.4 770 L 1143.2 760.8 L 1144.1 747.5 L 1144.9 741.8 L 1145.8 761.1 L 1146.7 775.2 L 1147.5 755 L 1148.4 751.3 L 1150.1 763.2 L 1150.9 756.1 L 1151.8 753.3 L 1152.7 765.8 L 1153.5 764 L 1154.4 750.5 L 1155.2 749 L 1156.1 770.4 L 1157 760.6 L 1157.8 746.5 L 1158.7 756.5 L 1159.5 775.3 L 1160.4 764.4 L 1161.2 738.7 L 1162.1 764.6 L 1163 773.9 L 1163.8 752.3 L 1164.7 756.7 L 1165.5 770.6 L 1166.4 761.4 L 1167.3 744.9 L 1169 769.2 L 1169.8 759 L 1170.7 747.1 L 1171.6 765 L 1172.4 774.5 L 1173.3 761.8 L 1174.1 751.3 L 1175 753.9 L 1175.8 764.1 L 1176.7 761.3 L 1177.6 750.1 L 1178.4 745.7 L 1179.3 752.7 L 1180.1 770.4 L 1181 760.4 L 1181.9 742 L 1183.6 772.3 L 1184.4 752.4 L 1185.3 735.8 L 1186.1 747.2 L 1187 762.4 L 1188.7 745.6 L 1189.6 753.2 L 1190.4 763.8 L 1192.2 747.6 L 1193 754.6 L 1193.9 767.4 L 1194.7 756.9 L 1195.6 743.4 L 1196.4 743.3 L 1197.3 766.5 L 1198.2 780.4 L 1199 758.7 L 1199.9 744.8 L 1200.7 753.5 L 1201.6 774.8 L 1202.5 755.7 L 1203.3 744.8 L 1204.2 762.6 L 1205 773.8 L 1205.9 771.3 L 1206.8 758.7 L 1207.6 757.5 L 1208.5 774.5 L 1209.3 774.6 L 1210.2 758.3 L 1211 748.2 L 1211.9 760.7 L 1212.8 767.3 L 1213.6 758.6 L 1214.5 746.7 L 1215.3 754 L 1216.2 767.4 L 1217.9 737.4 L 1218.8 754.8 L 1219.6 769.2 L 1220.5 748.1 L 1221.3 740.7 L 1222.2 759 L 1223.1 766.2 L 1223.9 746.1 L 1224.8 742.9 L 1226.5 761 L 1227.4 763 L 1228.2 746.4 L 1229.1 747.1 L 1229.9 749.7 L 1230.8 760.5 L 1231.6 748.5 L 1232.5 747.8 L 1233.4 762 L 1234.2 756.6 L 1235.1 747.4 L 1235.9 748.2 L 1237.7 770.9 L 1238.5 754.2 L 1239.4 750.2 L 1240.2 758 L 1241.1 767.5 L 1241.9 761.5 L 1242.8 748.5 L 1243.7 756.2 L 1244.5 772 L 1245.4 757.4 L 1246.2 748.3 L 1247.1 761.2 L 1248 771.8 L 1248.8 755.4 L 1249.7 751.3 L 1250.5 767.5 L 1251.4 774 L 1252.3 752.4 L 1253.1 744.6 L 1254 759.8 L 1254.8 769 L 1255.7 753.5 L 1256.5 743.6 L 1257.4 746.3 L 1258.3 765.2 L 1259.1 758.9 L 1260 746 L 1260.8 754.5 L 1261.7 767.5 L 1262.6 759.1 L 1263.4 737.8 L 1264.3 750.1 L 1265.1 768.6 L 1266 758.8 L 1266.8 742.5 L 1267.7 749.5 L 1268.6 760.2 L 1269.4 762.7 L 1270.3 749.8 L 1271.1 738.6 L 1271.7 752.7 L 1273.7 870.3 L 1273.7 870.3 " clip-path="url(#p2e0bae5d63)" style="fill: none; stroke-dasharray: 1.5,2.475; stroke-dashoffset: 0; stroke: #fde725; stroke-opacity: 0.6; stroke-width: 1.5"/>
</g>
<g id="patch_12">
<path d="M 415.2 889.3 L 415.2 510.9 " style="fill: none; stroke: #000000; stroke-width: 0.8; stroke-linejoin: miter; stroke-linecap: square"/>
</g>
<g id="patch_13">
<path d="M 415.2 889.3 L 1273.7 889.3 " style="fill: none; stroke: #000000; stroke-width: 0.8; stroke-linejoin: miter; stroke-linecap: square"/>
</g>
<g id="text_45">
<text style="font-weight: 700; font-size: 9.92px; font-family: 'DejaVu Sans', 'Bitstream Vera Sans', 'Computer Modern Sans Serif', 'Lucida Grande', 'Verdana', 'Geneva', 'Lucid', 'Arial', 'Helvetica', 'Avant Garde', sans-serif; text-anchor: middle" x="772.914286" y="556.069979" transform="rotate(-0 772.914286 556.069979)">Trial average</text>
</g>
<g id="legend_3">
<g id="patch_14">
<path d="M 422.1 562.5 L 519.8 562.5 Q 521.8 562.5 521.8 560.6 L 521.8 517.9 Q 521.8 515.9 519.8 515.9 L 422.1 515.9 Q 420.2 515.9 420.2 517.9 L 420.2 560.6 Q 420.2 562.5 422.1 562.5 z" style="fill: #ffffff; opacity: 0.8; stroke: #cccccc; stroke-linejoin: miter"/>
</g>
<g id="line2d_65">
<path d="M 424.1 523.9 L 434 523.9 L 444 523.9 " style="fill: none; stroke: #440154; stroke-opacity: 0.6; stroke-width: 1.5; stroke-linecap: square"/>
</g>
<g id="text_46">
<text style="font-size: 9.92px; font-family: 'DejaVu Sans', 'Bitstream Vera Sans', 'Computer Modern Sans Serif', 'Lucida Grande', 'Verdana', 'Geneva', 'Lucid', 'Arial', 'Helvetica', 'Avant Garde', sans-serif; text-anchor: start" x="451.904" y="527.391364" transform="rotate(-0 451.904 527.391364)">visual</text>
</g>
<g id="line2d_66">
<path d="M 424.1 538.5 L 434 538.5 L 444 538.5 " style="fill: none; stroke: #1f9e89; stroke-opacity: 0.6; stroke-width: 1.5; stroke-linecap: square"/>
</g>
<g id="text_47">
<text style="font-size: 9.92px; font-family: 'DejaVu Sans', 'Bitstream Vera Sans', 'Computer Modern Sans Serif', 'Lucida Grande', 'Verdana', 'Geneva', 'Lucid', 'Arial', 'Helvetica', 'Avant Garde', sans-serif; text-anchor: start" x="451.904" y="541.952064" transform="rotate(-0 451.904 541.952064)">auditiv-visual</text>
</g>
<g id="line2d_67">
<path d="M 424.1 553 L 434 553 L 444 553 " style="fill: none; stroke: #fde725; stroke-opacity: 0.6; stroke-width: 1.5; stroke-linecap: square"/>
</g>
<g id="text_48">
<text style="font-size: 9.92px; font-family: 'DejaVu Sans', 'Bitstream Vera Sans', 'Computer Modern Sans Serif', 'Lucida Grande', 'Verdana', 'Geneva', 'Lucid', 'Arial', 'Helvetica', 'Avant Garde', sans-serif; text-anchor: start" x="451.904" y="556.512764" transform="rotate(-0 451.904 556.512764)">auditiv</text>
</g>
</g>
<g id="legend_4">
<g id="patch_15">
<path d="M 1213.4 548 L 1266.8 548 Q 1268.8 548 1268.8 546 L 1268.8 517.9 Q 1268.8 515.9 1266.8 515.9 L 1213.4 515.9 Q 1211.4 515.9 1211.4 517.9 L 1211.4 546 Q 1211.4 548 1213.4 548 z" style="fill: #ffffff; opacity: 0.8; stroke: #cccccc; stroke-linejoin: miter"/>
</g>
<g id="line2d_68">
<path d="M 1215.4 523.9 L 1225.3 523.9 L 1235.2 523.9 " style="fill: none; stroke: #000000; stroke-width: 1.5; stroke-linecap: square"/>
</g>
<g id="text_49">
<text style="font-size: 9.92px; font-family: 'DejaVu Sans', 'Bitstream Vera Sans', 'Computer Modern Sans Serif', 'Lucida Grande', 'Verdana', 'Geneva', 'Lucid', 'Arial', 'Helvetica', 'Avant Garde', sans-serif; text-anchor: start" x="1243.159136" y="527.391364" transform="rotate(-0 1243.159136 527.391364)">high</text>
</g>
<g id="line2d_69">
<path d="M 1215.4 538.5 L 1225.3 538.5 L 1235.2 538.5 " style="fill: none; stroke-dasharray: 1.5,2.475; stroke-dashoffset: 0; stroke: #000000; stroke-width: 1.5"/>
</g>
<g id="text_50">
<text style="font-size: 9.92px; font-family: 'DejaVu Sans', 'Bitstream Vera Sans', 'Computer Modern Sans Serif', 'Lucida Grande', 'Verdana', 'Geneva', 'Lucid', 'Arial', 'Helvetica', 'Avant Garde', sans-serif; text-anchor: start" x="1243.159136" y="541.952064" transform="rotate(-0 1243.159136 541.952064)">low</text>
</g>
</g>
</g>
<g id="patch_16">
<path d="M -6.3 881.5 L 326.2 881.5 L 326.2 549 L -6.3 549 z" style="fill: #ffffff"/>
</g>
<g id="pane3d_1">
<g id="patch_17">
<path d="M 21.3 806.1 L 116.9 722.9 L 115.2 585 L 15.7 657.3 " style="fill: #f2f2f2; opacity: 0.5; stroke: #f2f2f2; stroke-linejoin: miter"/>
</g>
</g>
<g id="pane3d_2">
<g id="patch_18">
<path d="M 116.9 722.9 L 300.5 759.7 L 305.5 616.9 L 115.2 585 " style="fill: #e6e6e6; opacity: 0.5; stroke: #e6e6e6; stroke-linejoin: miter"/>
</g>
</g>
<g id="pane3d_3">
<g id="patch_19">
<path d="M 21.3 806.1 L 219.2 850.7 L 300.5 759.7 L 116.9 722.9 " style="fill: #ececec; opacity: 0.5; stroke: #ececec; stroke-linejoin: miter"/>
</g>
</g>
<g id="grid3d_1">
<g id="Line3DCollection_1">
<path d="M 24.7 806.9 L 120.1 723.5 L 118.5 585.6 " style="fill: none; stroke: #b0b0b0; stroke-width: 0.8"/>
<path d="M 47.6 812 L 141.4 727.8 L 140.6 589.2 " style="fill: none; stroke: #b0b0b0; stroke-width: 0.8"/>
<path d="M 70.7 817.2 L 162.9 732.1 L 162.8 593 " style="fill: none; stroke: #b0b0b0; stroke-width: 0.8"/>
<path d="M 94 822.5 L 184.6 736.4 L 185.3 596.7 " style="fill: none; stroke: #b0b0b0; stroke-width: 0.8"/>
<path d="M 117.7 827.8 L 206.5 740.8 L 208 600.6 " style="fill: none; stroke: #b0b0b0; stroke-width: 0.8"/>
<path d="M 141.6 833.2 L 228.7 745.3 L 231 604.4 " style="fill: none; stroke: #b0b0b0; stroke-width: 0.8"/>
<path d="M 165.8 838.6 L 251.1 749.8 L 254.2 608.3 " style="fill: none; stroke: #b0b0b0; stroke-width: 0.8"/>
<path d="M 190.2 844.1 L 273.7 754.3 L 277.7 612.2 " style="fill: none; stroke: #b0b0b0; stroke-width: 0.8"/>
<path d="M 215 849.7 L 296.5 758.9 L 301.5 616.2 " style="fill: none; stroke: #b0b0b0; stroke-width: 0.8"/>
</g>
</g>
<g id="grid3d_2">
<g id="Line3DCollection_2">
<path d="M 22.6 652.3 L 27.9 800.3 L 224.9 844.3 " style="fill: none; stroke: #b0b0b0; stroke-width: 0.8"/>
<path d="M 39.7 639.9 L 44.3 786.1 L 238.8 828.7 " style="fill: none; stroke: #b0b0b0; stroke-width: 0.8"/>
<path d="M 56.2 627.9 L 60.1 772.3 L 252.3 813.6 " style="fill: none; stroke: #b0b0b0; stroke-width: 0.8"/>
<path d="M 72.2 616.2 L 75.5 758.9 L 265.4 799 " style="fill: none; stroke: #b0b0b0; stroke-width: 0.8"/>
<path d="M 87.8 604.9 L 90.5 745.9 L 278.1 784.8 " style="fill: none; stroke: #b0b0b0; stroke-width: 0.8"/>
<path d="M 102.8 594 L 105 733.3 L 290.4 771 " style="fill: none; stroke: #b0b0b0; stroke-width: 0.8"/>
</g>
</g>
<g id="grid3d_3">
<g id="Line3DCollection_3">
<path d="M 301.2 739.6 L 116.7 703.5 L 20.5 785.2 " style="fill: none; stroke: #b0b0b0; stroke-width: 0.8"/>
<path d="M 301.8 722.3 L 116.5 686.7 L 19.8 767.2 " style="fill: none; stroke: #b0b0b0; stroke-width: 0.8"/>
<path d="M 302.4 704.8 L 116.3 669.8 L 19.1 749 " style="fill: none; stroke: #b0b0b0; stroke-width: 0.8"/>
<path d="M 303.1 687.2 L 116.1 652.8 L 18.4 730.6 " style="fill: none; stroke: #b0b0b0; stroke-width: 0.8"/>
<path d="M 303.7 669.4 L 115.9 635.6 L 17.7 712 " style="fill: none; stroke: #b0b0b0; stroke-width: 0.8"/>
<path d="M 304.3 651.4 L 115.6 618.3 L 17 693.3 " style="fill: none; stroke: #b0b0b0; stroke-width: 0.8"/>
<path d="M 305 633.3 L 115.4 600.8 L 16.3 674.4 " style="fill: none; stroke: #b0b0b0; stroke-width: 0.8"/>
</g>
</g>
<g id="axis3d_1">
<g id="line2d_70">
<path d="M 21.3 806.1 L 219.2 850.7 " style="fill: none; stroke: #000000; stroke-width: 0.8; stroke-linecap: square"/>
</g>
<g id="xtick_17">
<g id="line2d_71">
<path d="M 25.5 806.1 L 23 808.3 " style="fill: none; stroke: #000000; stroke-width: 0.8; stroke-linecap: square"/>
</g>
<g id="text_51">
<text style="font-size: 9.9px; font-family: 'DejaVu Sans', 'Bitstream Vera Sans', 'Computer Modern Sans Serif', 'Lucida Grande', 'Verdana', 'Geneva', 'Lucid', 'Arial', 'Helvetica', 'Avant Garde', sans-serif; text-anchor: middle" x="18.062103" y="830.032769" transform="rotate(-0 18.062103 830.032769)">4</text>
</g>
</g>
<g id="xtick_18">
<g id="line2d_72">
<path d="M 48.4 811.3 L 45.9 813.5 " style="fill: none; stroke: #000000; stroke-width: 0.8; stroke-linecap: square"/>
</g>
<g id="text_52">
<text style="font-size: 9.9px; font-family: 'DejaVu Sans', 'Bitstream Vera Sans', 'Computer Modern Sans Serif', 'Lucida Grande', 'Verdana', 'Geneva', 'Lucid', 'Arial', 'Helvetica', 'Avant Garde', sans-serif; text-anchor: middle" x="40.975845" y="835.28919" transform="rotate(-0 40.975845 835.28919)">5</text>
</g>
</g>
<g id="xtick_19">
<g id="line2d_73">
<path d="M 71.5 816.5 L 69 818.7 " style="fill: none; stroke: #000000; stroke-width: 0.8; stroke-linecap: square"/>
</g>
<g id="text_53">
<text style="font-size: 9.9px; font-family: 'DejaVu Sans', 'Bitstream Vera Sans', 'Computer Modern Sans Serif', 'Lucida Grande', 'Verdana', 'Geneva', 'Lucid', 'Arial', 'Helvetica', 'Avant Garde', sans-serif; text-anchor: middle" x="64.146641" y="840.60458" transform="rotate(-0 64.146641 840.60458)">6</text>
</g>
</g>
<g id="xtick_20">
<g id="line2d_74">
<path d="M 94.8 821.7 L 92.4 824 " style="fill: none; stroke: #000000; stroke-width: 0.8; stroke-linecap: square"/>
</g>
<g id="text_54">
<text style="font-size: 9.9px; font-family: 'DejaVu Sans', 'Bitstream Vera Sans', 'Computer Modern Sans Serif', 'Lucida Grande', 'Verdana', 'Geneva', 'Lucid', 'Arial', 'Helvetica', 'Avant Garde', sans-serif; text-anchor: middle" x="87.57884" y="845.979936" transform="rotate(-0 87.57884 845.979936)">7</text>
</g>
</g>
<g id="xtick_21">
<g id="line2d_75">
<path d="M 118.5 827 L 116.1 829.3 " style="fill: none; stroke: #000000; stroke-width: 0.8; stroke-linecap: square"/>
</g>
<g id="text_55">
<text style="font-size: 9.9px; font-family: 'DejaVu Sans', 'Bitstream Vera Sans', 'Computer Modern Sans Serif', 'Lucida Grande', 'Verdana', 'Geneva', 'Lucid', 'Arial', 'Helvetica', 'Avant Garde', sans-serif; text-anchor: middle" x="111.276891" y="851.416278" transform="rotate(-0 111.276891 851.416278)">8</text>
</g>
</g>
<g id="xtick_22">
<g id="line2d_76">
<path d="M 142.4 832.4 L 140 834.7 " style="fill: none; stroke: #000000; stroke-width: 0.8; stroke-linecap: square"/>
</g>
<g id="text_56">
<text style="font-size: 9.9px; font-family: 'DejaVu Sans', 'Bitstream Vera Sans', 'Computer Modern Sans Serif', 'Lucida Grande', 'Verdana', 'Geneva', 'Lucid', 'Arial', 'Helvetica', 'Avant Garde', sans-serif; text-anchor: middle" x="135.245345" y="856.914651" transform="rotate(-0 135.245345 856.914651)">9</text>
</g>
</g>
<g id="xtick_23">
<g id="line2d_77">
<path d="M 166.5 837.8 L 164.3 840.2 " style="fill: none; stroke: #000000; stroke-width: 0.8; stroke-linecap: square"/>
</g>
<g id="text_57">
<text style="font-size: 9.9px; font-family: 'DejaVu Sans', 'Bitstream Vera Sans', 'Computer Modern Sans Serif', 'Lucida Grande', 'Verdana', 'Geneva', 'Lucid', 'Arial', 'Helvetica', 'Avant Garde', sans-serif; text-anchor: middle" x="159.488857" y="862.476122" transform="rotate(-0 159.488857 862.476122)">10</text>
</g>
</g>
<g id="xtick_24">
<g id="line2d_78">
<path d="M 191 843.3 L 188.7 845.7 " style="fill: none; stroke: #000000; stroke-width: 0.8; stroke-linecap: square"/>
</g>
<g id="text_58">
<text style="font-size: 9.9px; font-family: 'DejaVu Sans', 'Bitstream Vera Sans', 'Computer Modern Sans Serif', 'Lucida Grande', 'Verdana', 'Geneva', 'Lucid', 'Arial', 'Helvetica', 'Avant Garde', sans-serif; text-anchor: middle" x="184.012187" y="868.101783" transform="rotate(-0 184.012187 868.101783)">11</text>
</g>
</g>
<g id="xtick_25">
<g id="line2d_79">
<path d="M 215.7 848.9 L 213.5 851.3 " style="fill: none; stroke: #000000; stroke-width: 0.8; stroke-linecap: square"/>
</g>
<g id="text_59">
<text style="font-size: 9.9px; font-family: 'DejaVu Sans', 'Bitstream Vera Sans', 'Computer Modern Sans Serif', 'Lucida Grande', 'Verdana', 'Geneva', 'Lucid', 'Arial', 'Helvetica', 'Avant Garde', sans-serif; text-anchor: middle" x="208.820209" y="873.792753" transform="rotate(-0 208.820209 873.792753)">12</text>
</g>
</g>
<g id="text_60">
<text style="font-size: 9.9px; font-family: 'DejaVu Sans', 'Bitstream Vera Sans', 'Computer Modern Sans Serif', 'Lucida Grande', 'Verdana', 'Geneva', 'Lucid', 'Arial', 'Helvetica', 'Avant Garde', sans-serif; text-anchor: middle" x="103.341424" y="865.687358" transform="rotate(-347.307334 103.341424 865.687358)">Frequency [Hz]</text>
</g>
</g>
<g id="axis3d_2">
<g id="line2d_80">
<path d="M 300.5 759.7 L 219.2 850.7 " style="fill: none; stroke: #000000; stroke-width: 0.8; stroke-linecap: square"/>
</g>
<g id="xtick_26">
<g id="line2d_81">
<path d="M 223.2 844 L 228.2 845.1 " style="fill: none; stroke: #000000; stroke-width: 0.8; stroke-linecap: square"/>
</g>
<g id="text_61">
<text style="font-size: 9.9px; font-family: 'DejaVu Sans', 'Bitstream Vera Sans', 'Computer Modern Sans Serif', 'Lucida Grande', 'Verdana', 'Geneva', 'Lucid', 'Arial', 'Helvetica', 'Avant Garde', sans-serif; text-anchor: middle" x="238.453034" y="864.715053" transform="rotate(-0 238.453034 864.715053)">0</text>
</g>
</g>
<g id="xtick_27">
<g id="line2d_82">
<path d="M 237.2 828.4 L 242.1 829.4 " style="fill: none; stroke: #000000; stroke-width: 0.8; stroke-linecap: square"/>
</g>
<g id="text_62">
<text style="font-size: 9.9px; font-family: 'DejaVu Sans', 'Bitstream Vera Sans', 'Computer Modern Sans Serif', 'Lucida Grande', 'Verdana', 'Geneva', 'Lucid', 'Arial', 'Helvetica', 'Avant Garde', sans-serif; text-anchor: middle" x="252.184295" y="848.88385" transform="rotate(-0 252.184295 848.88385)">2</text>
</g>
</g>
<g id="xtick_28">
<g id="line2d_83">
<path d="M 250.7 813.2 L 255.6 814.3 " style="fill: none; stroke: #000000; stroke-width: 0.8; stroke-linecap: square"/>
</g>
<g id="text_63">
<text style="font-size: 9.9px; font-family: 'DejaVu Sans', 'Bitstream Vera Sans', 'Computer Modern Sans Serif', 'Lucida Grande', 'Verdana', 'Geneva', 'Lucid', 'Arial', 'Helvetica', 'Avant Garde', sans-serif; text-anchor: middle" x="265.477675" y="833.557494" transform="rotate(-0 265.477675 833.557494)">4</text>
</g>
</g>
<g id="xtick_29">
<g id="line2d_84">
<path d="M 263.8 798.6 L 268.6 799.6 " style="fill: none; stroke: #000000; stroke-width: 0.8; stroke-linecap: square"/>
</g>
<g id="text_64">
<text style="font-size: 9.9px; font-family: 'DejaVu Sans', 'Bitstream Vera Sans', 'Computer Modern Sans Serif', 'Lucida Grande', 'Verdana', 'Geneva', 'Lucid', 'Arial', 'Helvetica', 'Avant Garde', sans-serif; text-anchor: middle" x="278.353792" y="818.712215" transform="rotate(-0 278.353792 818.712215)">6</text>
</g>
</g>
<g id="xtick_30">
<g id="line2d_85">
<path d="M 276.5 784.4 L 281.2 785.4 " style="fill: none; stroke: #000000; stroke-width: 0.8; stroke-linecap: square"/>
</g>
<g id="text_65">
<text style="font-size: 9.9px; font-family: 'DejaVu Sans', 'Bitstream Vera Sans', 'Computer Modern Sans Serif', 'Lucida Grande', 'Verdana', 'Geneva', 'Lucid', 'Arial', 'Helvetica', 'Avant Garde', sans-serif; text-anchor: middle" x="290.831987" y="804.325711" transform="rotate(-0 290.831987 804.325711)">8</text>
</g>
</g>
<g id="xtick_31">
<g id="line2d_86">
<path d="M 288.8 770.7 L 293.5 771.6 " style="fill: none; stroke: #000000; stroke-width: 0.8; stroke-linecap: square"/>
</g>
<g id="text_66">
<text style="font-size: 9.9px; font-family: 'DejaVu Sans', 'Bitstream Vera Sans', 'Computer Modern Sans Serif', 'Lucida Grande', 'Verdana', 'Geneva', 'Lucid', 'Arial', 'Helvetica', 'Avant Garde', sans-serif; text-anchor: middle" x="302.930425" y="790.377041" transform="rotate(-0 302.930425 790.377041)">10</text>
</g>
</g>
<g id="text_67">
<text style="font-size: 9.9px; font-family: 'DejaVu Sans', 'Bitstream Vera Sans', 'Computer Modern Sans Serif', 'Lucida Grande', 'Verdana', 'Geneva', 'Lucid', 'Arial', 'Helvetica', 'Avant Garde', sans-serif; text-anchor: middle" x="292.164117" y="831.494067" transform="rotate(-48.235401 292.164117 831.494067)">Trial number</text>
</g>
</g>
<g id="axis3d_3">
<g id="line2d_87">
<path d="M 300.5 759.7 L 305.5 616.9 " style="fill: none; stroke: #000000; stroke-width: 0.8; stroke-linecap: square"/>
</g>
<g id="xtick_32">
<g id="line2d_88">
<path d="M 299.7 739.3 L 304.3 740.2 " style="fill: none; stroke: #000000; stroke-width: 0.8; stroke-linecap: square"/>
</g>
<g id="text_68">
<text style="font-size: 9.9px; font-family: 'DejaVu Sans', 'Bitstream Vera Sans', 'Computer Modern Sans Serif', 'Lucida Grande', 'Verdana', 'Geneva', 'Lucid', 'Arial', 'Helvetica', 'Avant Garde', sans-serif; text-anchor: middle" x="318.846581" y="744.247147" transform="rotate(-0 318.846581 744.247147)">0.2</text>
</g>
</g>
<g id="xtick_33">
<g id="line2d_89">
<path d="M 300.3 722 L 304.9 722.9 " style="fill: none; stroke: #000000; stroke-width: 0.8; stroke-linecap: square"/>
</g>
<g id="text_69">
<text style="font-size: 9.9px; font-family: 'DejaVu Sans', 'Bitstream Vera Sans', 'Computer Modern Sans Serif', 'Lucida Grande', 'Verdana', 'Geneva', 'Lucid', 'Arial', 'Helvetica', 'Avant Garde', sans-serif; text-anchor: middle" x="319.536947" y="726.972642" transform="rotate(-0 319.536947 726.972642)">0.4</text>
</g>
</g>
<g id="xtick_34">
<g id="line2d_90">
<path d="M 300.9 704.5 L 305.5 705.4 " style="fill: none; stroke: #000000; stroke-width: 0.8; stroke-linecap: square"/>
</g>
<g id="text_70">
<text style="font-size: 9.9px; font-family: 'DejaVu Sans', 'Bitstream Vera Sans', 'Computer Modern Sans Serif', 'Lucida Grande', 'Verdana', 'Geneva', 'Lucid', 'Arial', 'Helvetica', 'Avant Garde', sans-serif; text-anchor: middle" x="320.233514" y="709.542939" transform="rotate(-0 320.233514 709.542939)">0.6</text>
</g>
</g>
<g id="xtick_35">
<g id="line2d_91">
<path d="M 301.5 686.9 L 306.2 687.7 " style="fill: none; stroke: #000000; stroke-width: 0.8; stroke-linecap: square"/>
</g>
<g id="text_71">
<text style="font-size: 9.9px; font-family: 'DejaVu Sans', 'Bitstream Vera Sans', 'Computer Modern Sans Serif', 'Lucida Grande', 'Verdana', 'Geneva', 'Lucid', 'Arial', 'Helvetica', 'Avant Garde', sans-serif; text-anchor: middle" x="320.936369" y="691.955936" transform="rotate(-0 320.936369 691.955936)">0.8</text>
</g>
</g>
<g id="xtick_36">
<g id="line2d_92">
<path d="M 302.1 669.1 L 306.8 669.9 " style="fill: none; stroke: #000000; stroke-width: 0.8; stroke-linecap: square"/>
</g>
<g id="text_72">
<text style="font-size: 9.9px; font-family: 'DejaVu Sans', 'Bitstream Vera Sans', 'Computer Modern Sans Serif', 'Lucida Grande', 'Verdana', 'Geneva', 'Lucid', 'Arial', 'Helvetica', 'Avant Garde', sans-serif; text-anchor: middle" x="321.645594" y="674.209494" transform="rotate(-0 321.645594 674.209494)">1.0</text>
</g>
</g>
<g id="xtick_37">
<g id="line2d_93">
<path d="M 302.8 651.1 L 307.5 652 " style="fill: none; stroke: #000000; stroke-width: 0.8; stroke-linecap: square"/>
</g>
<g id="text_73">
<text style="font-size: 9.9px; font-family: 'DejaVu Sans', 'Bitstream Vera Sans', 'Computer Modern Sans Serif', 'Lucida Grande', 'Verdana', 'Geneva', 'Lucid', 'Arial', 'Helvetica', 'Avant Garde', sans-serif; text-anchor: middle" x="322.361279" y="656.301436" transform="rotate(-0 322.361279 656.301436)">1.2</text>
</g>
</g>
<g id="xtick_38">
<g id="line2d_94">
<path d="M 303.4 633 L 308.1 633.8 " style="fill: none; stroke: #000000; stroke-width: 0.8; stroke-linecap: square"/>
</g>
<g id="text_74">
<text style="font-size: 9.9px; font-family: 'DejaVu Sans', 'Bitstream Vera Sans', 'Computer Modern Sans Serif', 'Lucida Grande', 'Verdana', 'Geneva', 'Lucid', 'Arial', 'Helvetica', 'Avant Garde', sans-serif; text-anchor: middle" x="323.083512" y="638.229544" transform="rotate(-0 323.083512 638.229544)">1.4</text>
</g>
</g>
<g id="text_75">
<!-- PSD [$\dfrac{Force}{Hz}$] -->
<g transform="translate(343.476122 713.448852) rotate(-87.971249)">
<text>
<tspan x="0" y="-0.192187" style="font-size: 9.9px; font-family: 'DejaVu Sans', sans-serif">P</tspan>
<tspan x="5.954895" y="-0.192187" style="font-size: 9.9px; font-family: 'DejaVu Sans', sans-serif">S</tspan>
<tspan x="12.223206" y="-0.192187" style="font-size: 9.9px; font-family: 'DejaVu Sans', sans-serif">D</tspan>
<tspan x="19.827148" y="-0.192187" style="font-size: 9.9px; font-family: 'DejaVu Sans', sans-serif"> </tspan>
<tspan x="22.966125" y="-0.192187" style="font-size: 9.9px; font-family: 'DejaVu Sans', sans-serif">[</tspan>
<tspan x="55.342664" y="-0.192187" style="font-size: 9.9px; font-family: 'DejaVu Sans', sans-serif">]</tspan>
<tspan x="26.818726" y="-4.703125" style="font-style: oblique; font-size: 9.9px; font-family: 'DejaVu Sans', sans-serif">F</tspan>
<tspan x="32.498779" y="-4.703125" style="font-style: oblique; font-size: 9.9px; font-family: 'DejaVu Sans', sans-serif">o</tspan>
<tspan x="33.818726" y="5.828125" style="font-style: oblique; font-size: 9.9px; font-family: 'DejaVu Sans', sans-serif">H</tspan>
<tspan x="38.540466" y="-4.703125" style="font-style: oblique; font-size: 9.9px; font-family: 'DejaVu Sans', sans-serif">r</tspan>
<tspan x="41.244263" y="5.828125" style="font-style: oblique; font-size: 9.9px; font-family: 'DejaVu Sans', sans-serif">z</tspan>
<tspan x="42.600403" y="-4.703125" style="font-style: oblique; font-size: 9.9px; font-family: 'DejaVu Sans', sans-serif">c</tspan>
<tspan x="48.029724" y="-4.703125" style="font-style: oblique; font-size: 9.9px; font-family: 'DejaVu Sans', sans-serif">e</tspan>
</text>
<rect x="26.818726" y="-3.0875" width="27.286438" height="0.61875"/>
</g>
</g>
</g>
<g id="axes_3">
<g id="line2d_95">
<path d="M 30.9 788.8 L 36.6 792.1 L 42.4 794.3 L 48.1 796.2 L 53.8 796.6 L 59.6 798.7 L 65.3 800.4 L 71.1 800.9 L 76.8 798 L 82.3 787.4 L 87.4 751.9 L 92.5 704.5 L 99.2 749.5 L 105.7 788.7 L 111.9 803.7 L 117.8 810.1 L 123.8 813.7 L 129.7 816.6 L 135.7 817.8 L 141.6 820.4 L 147.6 822.1 L 153.6 823.3 L 159.6 824.3 L 165.7 826.2 L 171.7 828.1 L 177.8 829.5 L 183.9 830.4 L 190 832.1 L 196.1 833.7 L 202.2 834.9 L 208.4 836 L 214.5 836.9 L 220.7 839.3 " clip-path="url(#pc2975e88bb)" style="fill: none; stroke: #440154; stroke-width: 2.05; stroke-linecap: square"/>
</g>
<g id="line2d_96">
<path d="M 39.1 780.5 L 44.8 783.8 L 50.5 786.6 L 56.2 786.9 L 61.8 785.3 L 67.2 775.1 L 72.1 740.5 L 76.8 690.6 L 83.7 739 L 90.3 778.6 L 96.3 792.5 L 102.2 797.9 L 108 801.2 L 113.9 803.8 L 119.7 805.5 L 125.6 808.1 L 131.5 809 L 137.4 810.1 L 143.3 811.7 L 149.2 813 L 155.2 814.4 L 161.1 815.7 L 167.1 818 L 173.1 818.7 L 179.1 820.8 L 185.1 822 L 191.2 823.4 L 197.2 824.1 L 203.3 825.4 L 209.4 827.3 L 215.5 827.9 L 221.6 830.2 L 227.8 831.2 " clip-path="url(#pc2975e88bb)" style="fill: none; stroke: #440154; stroke-width: 2.05; stroke-linecap: square"/>
</g>
<g id="line2d_97">
<path d="M 47.3 775.1 L 53 778.2 L 58.6 779.6 L 64.2 779.9 L 69.8 779.3 L 75.3 770.2 L 80.3 738.7 L 85.1 692.3 L 91.7 737.2 L 98.2 772.8 L 104.1 785.2 L 109.9 790.7 L 115.8 794.5 L 121.5 795.8 L 127.4 798.7 L 133.2 799.9 L 139 801.4 L 144.9 803.4 L 150.8 804.5 L 156.7 805.6 L 162.6 807.4 L 168.5 809.1 L 174.4 810.6 L 180.4 811.9 L 186.4 813.1 L 192.3 814.4 L 198.3 815.9 L 204.4 816.8 L 210.4 818.4 L 216.5 819.6 L 222.5 820.7 L 228.6 822.5 L 234.7 823.7 " clip-path="url(#pc2975e88bb)" style="fill: none; stroke: #440154; stroke-width: 2.05; stroke-linecap: square"/>
</g>
<g id="line2d_98">
<path d="M 55.3 767.5 L 60.9 770.7 L 66.5 773.3 L 72.1 773.7 L 77.7 772 L 83.1 763.1 L 88.1 728.5 L 92.8 672.8 L 99.5 727.5 L 105.9 765.8 L 111.8 778.3 L 117.6 784 L 123.3 787 L 129.1 789.3 L 134.9 790.8 L 140.7 793 L 146.5 794.2 L 152.3 795.6 L 158.1 797.1 L 164 799 L 169.9 799.6 L 175.7 801.7 L 181.7 802.6 L 187.6 804.4 L 193.5 805.8 L 199.4 806.7 L 205.4 808 L 211.4 809.4 L 217.4 810.6 L 223.4 812.3 L 229.4 813.6 L 235.5 814.7 L 241.6 815.3 " clip-path="url(#pc2975e88bb)" style="fill: none; stroke: #440154; stroke-width: 2.05; stroke-linecap: square"/>
</g>
<g id="line2d_99">
<path d="M 63.2 763.2 L 68.8 766 L 74.4 767.5 L 80 769 L 85.5 768.8 L 91 764.5 L 96.4 749.6 L 101.7 728.9 L 107.7 748.3 L 113.6 767 L 119.4 774.4 L 125.1 777.7 L 130.8 780.9 L 136.5 782.3 L 142.3 784.1 L 148 785.9 L 153.8 787.1 L 159.6 788.6 L 165.4 790.5 L 171.2 791.2 L 177 793.4 L 182.9 794.2 L 188.8 795.6 L 194.6 796.7 L 200.5 798.4 L 206.4 799.5 L 212.4 800.8 L 218.3 801.7 L 224.3 803.6 L 230.3 804.6 L 236.2 806 L 242.3 807.5 L 248.3 807.6 " clip-path="url(#pc2975e88bb)" style="fill: none; stroke: #1f9e89; stroke-width: 2.05; stroke-linecap: square"/>
</g>
<g id="line2d_100">
<path d="M 71 756 L 76.5 759.1 L 82 760.2 L 87.6 762.5 L 93.2 762.7 L 98.7 761 L 104.1 752.4 L 109.4 731.8 L 114.9 719.6 L 120.2 680.1 L 126.4 729.1 L 132.4 759.7 L 138.1 768.9 L 143.8 772.8 L 149.6 775.6 L 155.3 777.3 L 161 779.4 L 166.8 781.4 L 172.5 782.8 L 178.3 784.9 L 184.1 785.9 L 189.9 787.3 L 195.8 788.2 L 201.6 789.4 L 207.5 791.1 L 213.3 792.4 L 219.2 793.9 L 225.1 794.8 L 231.1 796 L 237 797.2 L 242.9 798.9 L 248.9 799.2 L 254.9 800.8 " clip-path="url(#pc2975e88bb)" style="fill: none; stroke: #1f9e89; stroke-width: 2.05; stroke-linecap: square"/>
</g>
<g id="line2d_101">
<path d="M 78.6 750.2 L 84.1 752.7 L 89.6 754.6 L 95.2 755.8 L 100.7 756.5 L 106.2 755.3 L 111.6 749.3 L 116.9 727.6 L 122.2 698.3 L 128.2 726.5 L 134 751.4 L 139.7 760.9 L 145.4 765.2 L 151.1 767.1 L 156.7 769.9 L 162.4 770.8 L 168.1 773.2 L 173.8 774.5 L 179.6 775.6 L 185.3 777.4 L 191.1 778.6 L 196.9 780.1 L 202.6 781.5 L 208.5 782.7 L 214.3 784.1 L 220.1 784.6 L 226 786.5 L 231.8 787.1 L 237.7 789.2 L 243.6 790.2 L 249.5 791.3 L 255.5 792.8 L 261.4 793.6 " clip-path="url(#pc2975e88bb)" style="fill: none; stroke: #1f9e89; stroke-width: 2.05; stroke-linecap: square"/>
</g>
<g id="line2d_102">
<path d="M 86.1 742.1 L 91.6 744.7 L 97.1 745.8 L 102.5 744.7 L 107.9 741.3 L 113.2 724.2 L 118.4 697 L 124 688.7 L 129 621.1 L 135.3 699.1 L 141.1 718.6 L 146.9 742.4 L 152.5 754.8 L 158.2 759.4 L 163.8 761.8 L 169.5 764.2 L 175.1 765.4 L 180.8 767.3 L 186.5 769 L 192.2 769.9 L 197.9 772.5 L 203.7 773.3 L 209.4 774.3 L 215.2 776 L 221 777 L 226.8 778.4 L 232.6 779.6 L 238.5 779.7 L 244.3 781.7 L 250.2 783.2 L 256 783.9 L 261.9 785.7 L 267.9 786.5 " clip-path="url(#pc2975e88bb)" style="fill: none; stroke: #1f9e89; stroke-width: 2.05; stroke-linecap: square"/>
</g>
<g id="line2d_103">
<path d="M 93.5 735.4 L 99 737.6 L 104.4 740.6 L 109.9 740.9 L 115.3 739.7 L 120.7 730.7 L 126 709.5 L 131.5 706.4 L 136.8 673.4 L 142.7 716.7 L 148.4 741.1 L 154 748.8 L 159.6 752 L 165.2 755.3 L 170.8 756.5 L 176.4 758.4 L 182 759.6 L 187.7 761.1 L 193.3 762.3 L 199 764.1 L 204.7 764.4 L 210.4 765.6 L 216.1 767.7 L 221.8 768.9 L 227.6 770 L 233.4 770.9 L 239.2 771.9 L 244.9 774.1 L 250.7 775.2 L 256.6 776.5 L 262.4 777.7 L 268.3 778.9 L 274.2 779.7 " clip-path="url(#pc2975e88bb)" style="fill: none; stroke: #fde725; stroke-width: 2.05; stroke-linecap: square"/>
</g>
<g id="line2d_104">
<path d="M 100.9 730.7 L 106.3 732.4 L 111.7 734.7 L 117.1 737.1 L 122.5 738.5 L 128 739.1 L 133.4 738 L 138.9 734.6 L 144.3 719.1 L 149.7 697.1 L 155.3 716.8 L 160.9 736.2 L 166.5 742.7 L 172 746.8 L 177.6 749.1 L 183.2 751.4 L 188.8 752.8 L 194.4 754.3 L 200 756.4 L 205.7 756.9 L 211.3 758.9 L 217 759.6 L 222.7 761.3 L 228.4 761.4 L 234.1 763.2 L 239.8 764.2 L 245.6 765.4 L 251.3 767.2 L 257.1 768.4 L 262.9 769.5 L 268.7 770.2 L 274.5 771.7 L 280.4 772.7 " clip-path="url(#pc2975e88bb)" style="fill: none; stroke: #fde725; stroke-width: 2.05; stroke-linecap: square"/>
</g>
<g id="line2d_105">
<path d="M 108 723.8 L 113.4 727.2 L 118.8 728.8 L 124.2 730.1 L 129.6 732.5 L 135 734.2 L 140.4 734.3 L 145.9 734.1 L 151.3 730.4 L 156.8 717.5 L 162.3 699 L 167.8 716.3 L 173.3 731.8 L 178.8 738 L 184.4 741.4 L 189.9 744.6 L 195.5 745.7 L 201 748.4 L 206.7 748.8 L 212.3 750.3 L 217.9 751.9 L 223.5 752.8 L 229.2 754.1 L 234.8 755 L 240.5 756.5 L 246.2 757.7 L 251.9 759.4 L 257.6 760.5 L 263.4 761.6 L 269.2 762.5 L 274.9 763.8 L 280.7 764.4 L 286.5 766.4 " clip-path="url(#pc2975e88bb)" style="fill: none; stroke: #fde725; stroke-width: 2.05; stroke-linecap: square"/>
</g>
<g id="line2d_106">
<path d="M 115.1 717.2 L 120.5 719.8 L 125.8 722.3 L 131.2 723.9 L 136.6 725.7 L 141.9 726 L 147.3 726.5 L 152.7 722.8 L 158.1 707.3 L 163.6 677.8 L 169.1 701.1 L 174.6 708.7 L 180.1 712.8 L 185.6 727 L 191 733.6 L 196.5 737.6 L 202.1 739.8 L 207.6 741.4 L 213.2 742.4 L 218.7 744.5 L 224.3 745.1 L 229.9 746.9 L 235.5 748.1 L 241.2 749 L 246.8 750 L 252.5 751.5 L 258.2 752.6 L 263.9 753.6 L 269.6 754.9 L 275.3 756.2 L 281 757.3 L 286.8 758.3 L 292.6 759.1 " clip-path="url(#pc2975e88bb)" style="fill: none; stroke: #fde725; stroke-width: 2.05; stroke-linecap: square"/>
</g>
<g id="Poly3DCollection_1">
<path d="M 115.1 717.2 L 120.5 719.8 L 125.8 722.3 L 131.2 723.9 L 136.6 725.7 L 141.9 726 L 147.3 726.5 L 152.7 722.8 L 158.1 707.3 L 163.6 677.8 L 169.1 701.1 L 174.6 708.7 L 180.1 712.8 L 185.6 727 L 191 733.6 L 196.5 737.6 L 202.1 739.8 L 207.6 741.4 L 213.2 742.4 L 218.7 744.5 L 224.3 745.1 L 229.9 746.9 L 235.5 748.1 L 241.2 749 L 246.8 750 L 252.5 751.5 L 258.2 752.6 L 263.9 753.6 L 269.6 754.9 L 275.3 756.2 L 281 757.3 L 286.8 758.3 L 292.6 759.1 L 292.5 760.6 L 115.2 724.9 z" clip-path="url(#pc2975e88bb)" style="fill: #fde725; fill-opacity: 0.5"/>
</g>
<g id="Poly3DCollection_2">
<path d="M 108 723.8 L 113.4 727.2 L 118.8 728.8 L 124.2 730.1 L 129.6 732.5 L 135 734.2 L 140.4 734.3 L 145.9 734.1 L 151.3 730.4 L 156.8 717.5 L 162.3 699 L 167.8 716.3 L 173.3 731.8 L 178.8 738 L 184.4 741.4 L 189.9 744.6 L 195.5 745.7 L 201 748.4 L 206.7 748.8 L 212.3 750.3 L 217.9 751.9 L 223.5 752.8 L 229.2 754.1 L 234.8 755 L 240.5 756.5 L 246.2 757.7 L 251.9 759.4 L 257.6 760.5 L 263.4 761.6 L 269.2 762.5 L 274.9 763.8 L 280.7 764.4 L 286.5 766.4 L 286.5 767.3 L 108.1 731.1 z" clip-path="url(#pc2975e88bb)" style="fill: #fde725; fill-opacity: 0.5"/>
</g>
<g id="Poly3DCollection_3">
<path d="M 100.9 730.7 L 106.3 732.4 L 111.7 734.7 L 117.1 737.1 L 122.5 738.5 L 128 739.1 L 133.4 738 L 138.9 734.6 L 144.3 719.1 L 149.7 697.1 L 155.3 716.8 L 160.9 736.2 L 166.5 742.7 L 172 746.8 L 177.6 749.1 L 183.2 751.4 L 188.8 752.8 L 194.4 754.3 L 200 756.4 L 205.7 756.9 L 211.3 758.9 L 217 759.6 L 222.7 761.3 L 228.4 761.4 L 234.1 763.2 L 239.8 764.2 L 245.6 765.4 L 251.3 767.2 L 257.1 768.4 L 262.9 769.5 L 268.7 770.2 L 274.5 771.7 L 280.4 772.7 L 280.4 774 L 101 737.4 z" clip-path="url(#pc2975e88bb)" style="fill: #fde725; fill-opacity: 0.5"/>
</g>
<g id="Poly3DCollection_4">
<path d="M 93.5 735.4 L 99 737.6 L 104.4 740.6 L 109.9 740.9 L 115.3 739.7 L 120.7 730.7 L 126 709.5 L 131.5 706.4 L 136.8 673.4 L 142.7 716.7 L 148.4 741.1 L 154 748.8 L 159.6 752 L 165.2 755.3 L 170.8 756.5 L 176.4 758.4 L 182 759.6 L 187.7 761.1 L 193.3 762.3 L 199 764.1 L 204.7 764.4 L 210.4 765.6 L 216.1 767.7 L 221.8 768.9 L 227.6 770 L 233.4 770.9 L 239.2 771.9 L 244.9 774.1 L 250.7 775.2 L 256.6 776.5 L 262.4 777.7 L 268.3 778.9 L 274.2 779.7 L 274.1 781 L 93.7 743.7 z" clip-path="url(#pc2975e88bb)" style="fill: #fde725; fill-opacity: 0.5"/>
</g>
<g id="Poly3DCollection_5">
<path d="M 86.1 742.1 L 91.6 744.7 L 97.1 745.8 L 102.5 744.7 L 107.9 741.3 L 113.2 724.2 L 118.4 697 L 124 688.7 L 129 621.1 L 135.3 699.1 L 141.1 718.6 L 146.9 742.4 L 152.5 754.8 L 158.2 759.4 L 163.8 761.8 L 169.5 764.2 L 175.1 765.4 L 180.8 767.3 L 186.5 769 L 192.2 769.9 L 197.9 772.5 L 203.7 773.3 L 209.4 774.3 L 215.2 776 L 221 777 L 226.8 778.4 L 232.6 779.6 L 238.5 779.7 L 244.3 781.7 L 250.2 783.2 L 256 783.9 L 261.9 785.7 L 267.9 786.5 L 267.8 788 L 86.3 750.1 z" clip-path="url(#pc2975e88bb)" style="fill: #1f9e89; fill-opacity: 0.5"/>
</g>
<g id="Poly3DCollection_6">
<path d="M 78.6 750.2 L 84.1 752.7 L 89.6 754.6 L 95.2 755.8 L 100.7 756.5 L 106.2 755.3 L 111.6 749.3 L 116.9 727.6 L 122.2 698.3 L 128.2 726.5 L 134 751.4 L 139.7 760.9 L 145.4 765.2 L 151.1 767.1 L 156.7 769.9 L 162.4 770.8 L 168.1 773.2 L 173.8 774.5 L 179.6 775.6 L 185.3 777.4 L 191.1 778.6 L 196.9 780.1 L 202.6 781.5 L 208.5 782.7 L 214.3 784.1 L 220.1 784.6 L 226 786.5 L 231.8 787.1 L 237.7 789.2 L 243.6 790.2 L 249.5 791.3 L 255.5 792.8 L 261.4 793.6 L 261.4 795.1 L 78.8 756.7 z" clip-path="url(#pc2975e88bb)" style="fill: #1f9e89; fill-opacity: 0.5"/>
</g>
<g id="Poly3DCollection_7">
<path d="M 71 756 L 76.5 759.1 L 82 760.2 L 87.6 762.5 L 93.2 762.7 L 98.7 761 L 104.1 752.4 L 109.4 731.8 L 114.9 719.6 L 120.2 680.1 L 126.4 729.1 L 132.4 759.7 L 138.1 768.9 L 143.8 772.8 L 149.6 775.6 L 155.3 777.3 L 161 779.4 L 166.8 781.4 L 172.5 782.8 L 178.3 784.9 L 184.1 785.9 L 189.9 787.3 L 195.8 788.2 L 201.6 789.4 L 207.5 791.1 L 213.3 792.4 L 219.2 793.9 L 225.1 794.8 L 231.1 796 L 237 797.2 L 242.9 798.9 L 248.9 799.2 L 254.9 800.8 L 254.9 802.3 L 71.1 763.3 z" clip-path="url(#pc2975e88bb)" style="fill: #1f9e89; fill-opacity: 0.5"/>
</g>
<g id="Poly3DCollection_8">
<path d="M 63.2 763.2 L 68.8 766 L 74.4 767.5 L 80 769 L 85.5 768.8 L 91 764.5 L 96.4 749.6 L 101.7 728.9 L 107.7 748.3 L 113.6 767 L 119.4 774.4 L 125.1 777.7 L 130.8 780.9 L 136.5 782.3 L 142.3 784.1 L 148 785.9 L 153.8 787.1 L 159.6 788.6 L 165.4 790.5 L 171.2 791.2 L 177 793.4 L 182.9 794.2 L 188.8 795.6 L 194.6 796.7 L 200.5 798.4 L 206.4 799.5 L 212.4 800.8 L 218.3 801.7 L 224.3 803.6 L 230.3 804.6 L 236.2 806 L 242.3 807.5 L 248.3 807.6 L 248.3 809.7 L 63.4 770 z" clip-path="url(#pc2975e88bb)" style="fill: #1f9e89; fill-opacity: 0.5"/>
</g>
<g id="Poly3DCollection_9">
<path d="M 55.3 767.5 L 60.9 770.7 L 66.5 773.3 L 72.1 773.7 L 77.7 772 L 83.1 763.1 L 88.1 728.5 L 92.8 672.8 L 99.5 727.5 L 105.9 765.8 L 111.8 778.3 L 117.6 784 L 123.3 787 L 129.1 789.3 L 134.9 790.8 L 140.7 793 L 146.5 794.2 L 152.3 795.6 L 158.1 797.1 L 164 799 L 169.9 799.6 L 175.7 801.7 L 181.7 802.6 L 187.6 804.4 L 193.5 805.8 L 199.4 806.7 L 205.4 808 L 211.4 809.4 L 217.4 810.6 L 223.4 812.3 L 229.4 813.6 L 235.5 814.7 L 241.6 815.3 L 241.5 817.1 L 55.5 776.9 z" clip-path="url(#pc2975e88bb)" style="fill: #440154; fill-opacity: 0.5"/>
</g>
<g id="Poly3DCollection_10">
<path d="M 47.3 775.1 L 53 778.2 L 58.6 779.6 L 64.2 779.9 L 69.8 779.3 L 75.3 770.2 L 80.3 738.7 L 85.1 692.3 L 91.7 737.2 L 98.2 772.8 L 104.1 785.2 L 109.9 790.7 L 115.8 794.5 L 121.5 795.8 L 127.4 798.7 L 133.2 799.9 L 139 801.4 L 144.9 803.4 L 150.8 804.5 L 156.7 805.6 L 162.6 807.4 L 168.5 809.1 L 174.4 810.6 L 180.4 811.9 L 186.4 813.1 L 192.3 814.4 L 198.3 815.9 L 204.4 816.8 L 210.4 818.4 L 216.5 819.6 L 222.5 820.7 L 228.6 822.5 L 234.7 823.7 L 234.7 824.7 L 47.6 783.8 z" clip-path="url(#pc2975e88bb)" style="fill: #440154; fill-opacity: 0.5"/>
</g>
<g id="Poly3DCollection_11">
<path d="M 39.1 780.5 L 44.8 783.8 L 50.5 786.6 L 56.2 786.9 L 61.8 785.3 L 67.2 775.1 L 72.1 740.5 L 76.8 690.6 L 83.7 739 L 90.3 778.6 L 96.3 792.5 L 102.2 797.9 L 108 801.2 L 113.9 803.8 L 119.7 805.5 L 125.6 808.1 L 131.5 809 L 137.4 810.1 L 143.3 811.7 L 149.2 813 L 155.2 814.4 L 161.1 815.7 L 167.1 818 L 173.1 818.7 L 179.1 820.8 L 185.1 822 L 191.2 823.4 L 197.2 824.1 L 203.3 825.4 L 209.4 827.3 L 215.5 827.9 L 221.6 830.2 L 227.8 831.2 L 227.8 832.4 L 39.5 790.9 z" clip-path="url(#pc2975e88bb)" style="fill: #440154; fill-opacity: 0.5"/>
</g>
<g id="Poly3DCollection_12">
<path d="M 30.9 788.8 L 36.6 792.1 L 42.4 794.3 L 48.1 796.2 L 53.8 796.6 L 59.6 798.7 L 65.3 800.4 L 71.1 800.9 L 76.8 798 L 82.3 787.4 L 87.4 751.9 L 92.5 704.5 L 99.2 749.5 L 105.7 788.7 L 111.9 803.7 L 117.8 810.1 L 123.8 813.7 L 129.7 816.6 L 135.7 817.8 L 141.6 820.4 L 147.6 822.1 L 153.6 823.3 L 159.6 824.3 L 165.7 826.2 L 171.7 828.1 L 177.8 829.5 L 183.9 830.4 L 190 832.1 L 196.1 833.7 L 202.2 834.9 L 208.4 836 L 214.5 836.9 L 220.7 839.3 L 220.7 840.3 L 31.2 798.1 z" clip-path="url(#pc2975e88bb)" style="fill: #440154; fill-opacity: 0.5"/>
</g>
</g>
<g id="text_76">
<!-- $\times10^{-4}$ -->
<g transform="translate(346.960353 642.483857) rotate(-90)">
<text>
<tspan x="0" y="-0.064063" style="font-size: 9.9px; font-family: 'DejaVu Sans', sans-serif">×</tspan>
<tspan x="8.27417" y="-0.064063" style="font-size: 9.9px; font-family: 'DejaVu Sans', sans-serif">1</tspan>
<tspan x="14.556946" y="-0.064063" style="font-size: 9.9px; font-family: 'DejaVu Sans', sans-serif">0</tspan>
<tspan x="20.935425" y="-3.892188" style="font-size: 6.93px; font-family: 'DejaVu Sans', sans-serif">−</tspan>
<tspan x="26.727344" y="-3.892188" style="font-size: 6.93px; font-family: 'DejaVu Sans', sans-serif">4</tspan>
</text>
</g>
</g>
<g id="text_77">
<text style="font-size: 19.9px; font-family: 'Liberation Sans', sans-serif; text-anchor: middle" x="646.354286" y="448.460301" transform="rotate(-0 646.354286 448.460301)">(a)</text>
</g>
<g id="text_78">
<text style="font-size: 19.9px; font-family: 'Liberation Sans', sans-serif; text-anchor: middle" x="148.251429" y="953.146016" transform="rotate(-0 148.251429 953.146016)">(b)</text>
</g>
<g id="text_79">
<text style="font-size: 19.9px; font-family: 'Liberation Sans', sans-serif; text-anchor: middle" x="844.868571" y="951.774587" transform="rotate(-0 844.868571 951.774587)">(c)</text>
</g>
</g>
<defs>
<clipPath id="pb112d19d81">
<rect x="47.862857" y="2.057143" width="1236.274286" height="384.274286"/>
</clipPath>
<clipPath id="p2e0bae5d63">
<rect x="415.2" y="510.925714" width="858.514286" height="378.377143"/>
</clipPath>
<clipPath id="pc2975e88bb">
<rect x="-6.266983" y="549.031886" width="332.493326" height="332.493326"/>
</clipPath>
</defs>
</svg>
</body></html>
